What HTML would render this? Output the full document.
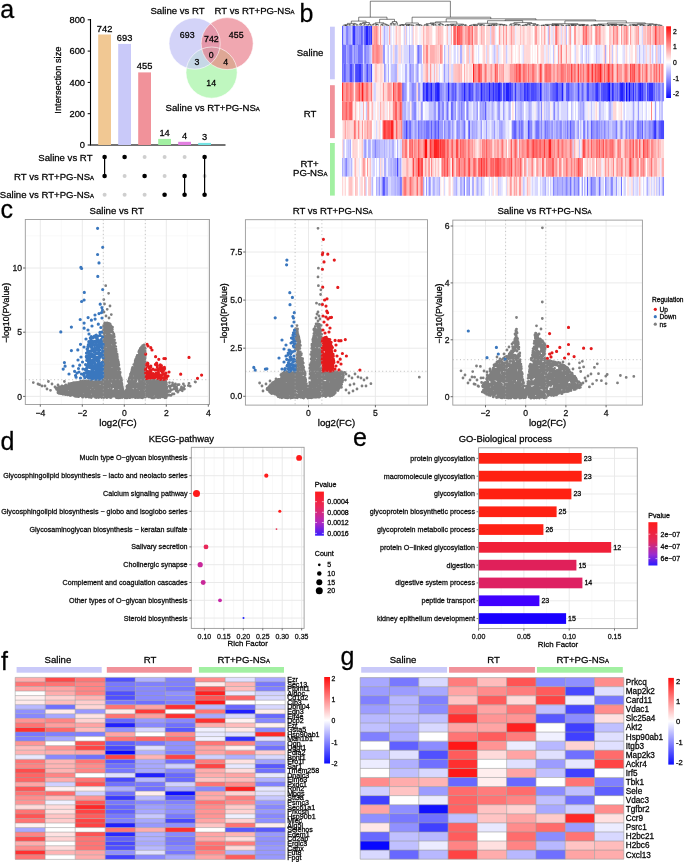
<!DOCTYPE html>
<html><head><meta charset="utf-8"><style>
html,body{margin:0;padding:0;background:#fff;}
svg{display:block;font-family:"Liberation Sans",sans-serif;filter:blur(0.35px);}
text{stroke:#000;stroke-width:0.3px;stroke-opacity:0.85;}
</style></head><body>
<svg width="685" height="862" viewBox="0 0 685 862">
<rect width="685" height="862" fill="#fff"/>
<text x="0.20" y="18.40" font-size="25" text-anchor="start" fill="#000" >a</text>
<text x="299.50" y="22.20" font-size="25" text-anchor="start" fill="#000" >b</text>
<text x="0.50" y="218.20" font-size="25" text-anchor="start" fill="#000" >c</text>
<text x="0.50" y="450.20" font-size="25" text-anchor="start" fill="#000" >d</text>
<text x="353.00" y="445.80" font-size="25" text-anchor="start" fill="#000" >e</text>
<text x="1.00" y="670.20" font-size="25" text-anchor="start" fill="#000" >f</text>
<text x="340.50" y="665.20" font-size="25" text-anchor="start" fill="#000" >g</text>
<line x1="90.50" y1="19.00" x2="90.50" y2="145.50" stroke="#000" stroke-width="1.1" />
<line x1="90.50" y1="145.00" x2="225.50" y2="145.00" stroke="#444" stroke-width="1.3" />
<line x1="87.70" y1="145.00" x2="90.50" y2="145.00" stroke="#000" stroke-width="1" />
<text x="85.00" y="148.30" font-size="9.3" text-anchor="end" fill="#000" >0</text>
<line x1="87.70" y1="113.70" x2="90.50" y2="113.70" stroke="#000" stroke-width="1" />
<text x="85.00" y="117.00" font-size="9.3" text-anchor="end" fill="#000" >200</text>
<line x1="87.70" y1="82.40" x2="90.50" y2="82.40" stroke="#000" stroke-width="1" />
<text x="85.00" y="85.70" font-size="9.3" text-anchor="end" fill="#000" >400</text>
<line x1="87.70" y1="51.10" x2="90.50" y2="51.10" stroke="#000" stroke-width="1" />
<text x="85.00" y="54.40" font-size="9.3" text-anchor="end" fill="#000" >600</text>
<line x1="87.70" y1="19.80" x2="90.50" y2="19.80" stroke="#000" stroke-width="1" />
<text x="85.00" y="23.10" font-size="9.3" text-anchor="end" fill="#000" >800</text>
<text transform="translate(61.2,80.1) rotate(-90)" font-size="9.3" text-anchor="middle">Intersection size</text>
<rect x="98.20" y="34.50" width="12.80" height="110.50" fill="#f1c893" />
<text x="104.60" y="31.50" font-size="9.3" text-anchor="middle" fill="#000" >742</text>
<rect x="118.20" y="43.90" width="12.80" height="101.10" fill="#c9c9f9" />
<text x="124.60" y="40.90" font-size="9.3" text-anchor="middle" fill="#000" >693</text>
<rect x="138.20" y="72.40" width="12.80" height="72.60" fill="#f1929a" />
<text x="144.60" y="69.40" font-size="9.3" text-anchor="middle" fill="#000" >455</text>
<rect x="158.20" y="138.90" width="12.80" height="6.10" fill="#a2f0a2" />
<text x="164.60" y="135.90" font-size="9.3" text-anchor="middle" fill="#000" >14</text>
<rect x="178.20" y="141.80" width="12.80" height="3.20" fill="#e27fe0" />
<text x="184.60" y="138.80" font-size="9.3" text-anchor="middle" fill="#000" >4</text>
<rect x="198.20" y="142.90" width="12.80" height="2.10" fill="#75e3e3" />
<text x="204.60" y="139.90" font-size="9.3" text-anchor="middle" fill="#000" >3</text>
<circle cx="104.60" cy="194.80" r="2.0" fill="#cfcfcf"/>
<line x1="104.60" y1="157.00" x2="104.60" y2="176.00" stroke="#000" stroke-width="1.2" />
<circle cx="104.60" cy="157.00" r="2.3" fill="#000"/>
<circle cx="104.60" cy="176.00" r="2.3" fill="#000"/>
<circle cx="124.60" cy="176.00" r="2.0" fill="#cfcfcf"/>
<circle cx="124.60" cy="194.80" r="2.0" fill="#cfcfcf"/>
<circle cx="124.60" cy="157.00" r="2.3" fill="#000"/>
<circle cx="144.60" cy="157.00" r="2.0" fill="#cfcfcf"/>
<circle cx="144.60" cy="194.80" r="2.0" fill="#cfcfcf"/>
<circle cx="144.60" cy="176.00" r="2.3" fill="#000"/>
<circle cx="164.60" cy="157.00" r="2.0" fill="#cfcfcf"/>
<circle cx="164.60" cy="176.00" r="2.0" fill="#cfcfcf"/>
<circle cx="164.60" cy="194.80" r="2.3" fill="#000"/>
<circle cx="184.60" cy="157.00" r="2.0" fill="#cfcfcf"/>
<line x1="184.60" y1="176.00" x2="184.60" y2="194.80" stroke="#000" stroke-width="1.2" />
<circle cx="184.60" cy="176.00" r="2.3" fill="#000"/>
<circle cx="184.60" cy="194.80" r="2.3" fill="#000"/>
<circle cx="204.60" cy="176.00" r="2.0" fill="#cfcfcf"/>
<line x1="204.60" y1="157.00" x2="204.60" y2="194.80" stroke="#000" stroke-width="1.2" />
<circle cx="204.60" cy="157.00" r="2.3" fill="#000"/>
<circle cx="204.60" cy="194.80" r="2.3" fill="#000"/>
<text x="92.50" y="160.80" font-size="9.6" text-anchor="end" fill="#000" >Saline vs RT</text>
<text x="94.00" y="179.70" font-size="9.6" text-anchor="end" fill="#000" >RT vs RT+PG-NS<tspan font-size="0.62em">A</tspan></text>
<text x="94.00" y="198.40" font-size="9.6" text-anchor="end" fill="#000" >Saline vs RT+PG-NS<tspan font-size="0.62em">A</tspan></text>
<defs><clipPath id="cpB"><circle cx="194.6" cy="43.6" r="25.6" fill="#000" /></clipPath><clipPath id="cpR"><circle cx="227.2" cy="43.6" r="26.0" fill="#000" /></clipPath></defs>
<circle cx="211.6" cy="72.6" r="25.6" fill="#bff7bf" />
<circle cx="194.6" cy="43.6" r="25.6" fill="#d3d3f8" />
<circle cx="227.2" cy="43.6" r="26.0" fill="#f0a7b0" />
<g clip-path="url(#cpB)"><circle cx="227.2" cy="43.6" r="26.0" fill="#e497aa" /><circle cx="211.6" cy="72.6" r="25.6" fill="#c6d7e6" /></g>
<g clip-path="url(#cpR)"><circle cx="211.6" cy="72.6" r="25.6" fill="#dea795" /></g>
<g clip-path="url(#cpB)"><g clip-path="url(#cpR)"><circle cx="211.6" cy="72.6" r="25.6" fill="#dc98a6" /></g></g>
<circle cx="211.6" cy="72.6" r="25.6" fill="none" stroke="#fff" stroke-width="0.8" stroke-opacity="0.75"/>
<circle cx="194.6" cy="43.6" r="25.6" fill="none" stroke="#fff" stroke-width="0.8" stroke-opacity="0.75"/>
<circle cx="227.2" cy="43.6" r="26.0" fill="none" stroke="#fff" stroke-width="0.8" stroke-opacity="0.75"/>
<text x="187.20" y="38.30" font-size="8.8" text-anchor="middle" fill="#000" >693</text>
<text x="211.40" y="42.40" font-size="8.8" text-anchor="middle" fill="#000" >742</text>
<text x="236.20" y="38.30" font-size="8.8" text-anchor="middle" fill="#000" >455</text>
<text x="211.30" y="57.50" font-size="8.8" text-anchor="middle" fill="#000" >0</text>
<text x="197.00" y="64.60" font-size="8.8" text-anchor="middle" fill="#000" >3</text>
<text x="225.80" y="65.00" font-size="8.8" text-anchor="middle" fill="#000" >4</text>
<text x="211.20" y="85.60" font-size="8.8" text-anchor="middle" fill="#000" >14</text>
<text x="177.50" y="13.90" font-size="9.6" text-anchor="middle" fill="#000" >Saline vs RT</text>
<text x="214.60" y="13.90" font-size="9.6" text-anchor="start" fill="#000" >RT vs RT+PG-NS<tspan font-size="0.62em">A</tspan></text>
<text x="165.60" y="111.00" font-size="9.6" text-anchor="start" fill="#000" >Saline vs RT+PG-NS<tspan font-size="0.62em">A</tspan></text>
<defs><filter id="bl" x="-0.01" y="-0.01" width="1.02" height="1.02"><feGaussianBlur stdDeviation="0.45 0.25"/></filter></defs>
<g filter="url(#bl)">
<path fill="#5e5eff" d="M342.0 26.00h1.33v18.88h-1.33zM347.2 26.00h1.33v18.88h-1.33zM360.3 26.00h1.33v18.88h-1.33zM361.6 26.00h1.33v18.88h-1.33zM344.6 44.86h1.33v18.88h-1.33zM343.3 63.71h1.33v18.88h-1.33zM344.6 63.71h1.33v18.88h-1.33zM361.6 63.71h1.33v18.88h-1.33zM424.5 82.57h1.33v18.88h-1.33zM445.4 82.57h1.33v18.88h-1.33zM452.0 82.57h1.33v18.88h-1.33zM453.3 82.57h1.33v18.88h-1.33zM461.1 82.57h1.33v18.88h-1.33zM462.4 82.57h1.33v18.88h-1.33zM465.0 82.57h1.33v18.88h-1.33zM467.7 82.57h1.33v18.88h-1.33zM479.4 82.57h1.33v18.88h-1.33zM486.0 82.57h1.33v18.88h-1.33zM487.3 82.57h1.33v18.88h-1.33zM489.9 82.57h1.33v18.88h-1.33zM491.2 82.57h1.33v18.88h-1.33zM493.8 82.57h1.33v18.88h-1.33zM510.9 82.57h1.33v18.88h-1.33zM512.2 82.57h1.33v18.88h-1.33zM517.4 82.57h1.33v18.88h-1.33zM520.0 82.57h1.33v18.88h-1.33zM535.7 82.57h1.33v18.88h-1.33zM541.0 82.57h1.33v18.88h-1.33zM552.7 82.57h1.33v18.88h-1.33zM554.0 82.57h1.33v18.88h-1.33zM560.6 82.57h1.33v18.88h-1.33zM565.8 82.57h1.33v18.88h-1.33zM572.4 82.57h1.33v18.88h-1.33zM598.6 82.57h1.33v18.88h-1.33zM616.9 82.57h1.33v18.88h-1.33zM630.0 82.57h1.33v18.88h-1.33zM631.3 82.57h1.33v18.88h-1.33zM643.1 82.57h1.33v18.88h-1.33zM657.5 82.57h1.33v18.88h-1.33zM450.6 101.42h1.33v18.88h-1.33zM484.7 101.42h1.33v18.88h-1.33zM410.1 120.28h1.33v18.88h-1.33zM415.3 120.28h1.33v18.88h-1.33zM431.0 120.28h1.33v18.88h-1.33zM434.9 120.28h1.33v18.88h-1.33zM469.0 120.28h1.33v18.88h-1.33zM513.5 120.28h1.33v18.88h-1.33zM514.8 120.28h1.33v18.88h-1.33zM529.2 120.28h1.33v18.88h-1.33zM567.1 120.28h1.33v18.88h-1.33zM569.8 120.28h1.33v18.88h-1.33zM584.2 120.28h1.33v18.88h-1.33zM590.7 120.28h1.33v18.88h-1.33zM597.2 120.28h1.33v18.88h-1.33zM636.5 120.28h1.33v18.88h-1.33zM641.7 120.28h1.33v18.88h-1.33zM644.4 120.28h1.33v18.88h-1.33zM658.8 120.28h1.33v18.88h-1.33zM383.9 176.84h1.33v18.88h-1.33zM586.8 176.84h1.33v18.88h-1.33zM598.6 176.84h1.33v18.88h-1.33z"/>
<path fill="#aeaeff" d="M343.3 26.00h1.33v18.88h-1.33zM349.9 26.00h1.33v18.88h-1.33zM362.9 26.00h1.33v18.88h-1.33zM383.9 26.00h1.33v18.88h-1.33zM547.5 26.00h1.33v18.88h-1.33zM345.9 44.86h1.33v18.88h-1.33zM352.5 44.86h1.33v18.88h-1.33zM369.5 44.86h1.33v18.88h-1.33zM390.4 44.86h1.33v18.88h-1.33zM444.1 44.86h1.33v18.88h-1.33zM459.8 44.86h1.33v18.88h-1.33zM461.1 44.86h1.33v18.88h-1.33zM581.5 44.86h1.33v18.88h-1.33zM585.5 44.86h1.33v18.88h-1.33zM639.1 44.86h1.33v18.88h-1.33zM652.2 44.86h1.33v18.88h-1.33zM660.1 44.86h1.33v18.88h-1.33zM385.2 63.71h1.33v18.88h-1.33zM387.8 63.71h1.33v18.88h-1.33zM395.7 63.71h1.33v18.88h-1.33zM404.8 63.71h1.33v18.88h-1.33zM406.1 63.71h1.33v18.88h-1.33zM408.8 63.71h1.33v18.88h-1.33zM411.4 63.71h1.33v18.88h-1.33zM412.7 63.71h1.33v18.88h-1.33zM415.3 63.71h1.33v18.88h-1.33zM448.0 63.71h1.33v18.88h-1.33zM406.1 82.57h1.33v18.88h-1.33zM410.1 82.57h1.33v18.88h-1.33zM421.8 82.57h1.33v18.88h-1.33zM444.1 82.57h1.33v18.88h-1.33zM457.2 82.57h1.33v18.88h-1.33zM501.7 82.57h1.33v18.88h-1.33zM548.8 82.57h1.33v18.88h-1.33zM564.5 82.57h1.33v18.88h-1.33zM573.7 82.57h1.33v18.88h-1.33zM645.7 82.57h1.33v18.88h-1.33zM403.5 101.42h1.33v18.88h-1.33zM404.8 101.42h1.33v18.88h-1.33zM407.4 101.42h1.33v18.88h-1.33zM421.8 101.42h1.33v18.88h-1.33zM432.3 101.42h1.33v18.88h-1.33zM440.2 101.42h1.33v18.88h-1.33zM448.0 101.42h1.33v18.88h-1.33zM457.2 101.42h1.33v18.88h-1.33zM459.8 101.42h1.33v18.88h-1.33zM463.7 101.42h1.33v18.88h-1.33zM467.7 101.42h1.33v18.88h-1.33zM475.5 101.42h1.33v18.88h-1.33zM480.7 101.42h1.33v18.88h-1.33zM486.0 101.42h1.33v18.88h-1.33zM491.2 101.42h1.33v18.88h-1.33zM492.5 101.42h1.33v18.88h-1.33zM496.5 101.42h1.33v18.88h-1.33zM508.2 101.42h1.33v18.88h-1.33zM509.5 101.42h1.33v18.88h-1.33zM517.4 101.42h1.33v18.88h-1.33zM520.0 101.42h1.33v18.88h-1.33zM521.3 101.42h1.33v18.88h-1.33zM530.5 101.42h1.33v18.88h-1.33zM546.2 101.42h1.33v18.88h-1.33zM552.7 101.42h1.33v18.88h-1.33zM558.0 101.42h1.33v18.88h-1.33zM567.1 101.42h1.33v18.88h-1.33zM571.1 101.42h1.33v18.88h-1.33zM581.5 101.42h1.33v18.88h-1.33zM598.6 101.42h1.33v18.88h-1.33zM609.0 101.42h1.33v18.88h-1.33zM610.3 101.42h1.33v18.88h-1.33zM623.4 101.42h1.33v18.88h-1.33zM414.0 120.28h1.33v18.88h-1.33zM445.4 120.28h1.33v18.88h-1.33zM446.7 120.28h1.33v18.88h-1.33zM453.3 120.28h1.33v18.88h-1.33zM455.9 120.28h1.33v18.88h-1.33zM461.1 120.28h1.33v18.88h-1.33zM472.9 120.28h1.33v18.88h-1.33zM474.2 120.28h1.33v18.88h-1.33zM501.7 120.28h1.33v18.88h-1.33zM504.3 120.28h1.33v18.88h-1.33zM525.3 120.28h1.33v18.88h-1.33zM539.7 120.28h1.33v18.88h-1.33zM550.1 120.28h1.33v18.88h-1.33zM554.0 120.28h1.33v18.88h-1.33zM558.0 120.28h1.33v18.88h-1.33zM565.8 120.28h1.33v18.88h-1.33zM576.3 120.28h1.33v18.88h-1.33zM588.1 120.28h1.33v18.88h-1.33zM599.9 120.28h1.33v18.88h-1.33zM602.5 120.28h1.33v18.88h-1.33zM606.4 120.28h1.33v18.88h-1.33zM611.6 120.28h1.33v18.88h-1.33zM613.0 120.28h1.33v18.88h-1.33zM622.1 120.28h1.33v18.88h-1.33zM624.7 120.28h1.33v18.88h-1.33zM627.3 120.28h1.33v18.88h-1.33zM630.0 120.28h1.33v18.88h-1.33zM645.7 120.28h1.33v18.88h-1.33zM647.0 120.28h1.33v18.88h-1.33zM349.9 139.13h1.33v18.88h-1.33zM372.1 139.13h1.33v18.88h-1.33zM376.0 139.13h1.33v18.88h-1.33zM378.7 139.13h1.33v18.88h-1.33zM383.9 139.13h1.33v18.88h-1.33zM389.1 139.13h1.33v18.88h-1.33zM391.7 139.13h1.33v18.88h-1.33zM393.0 139.13h1.33v18.88h-1.33zM397.0 139.13h1.33v18.88h-1.33zM342.0 157.99h1.33v18.88h-1.33zM373.4 157.99h1.33v18.88h-1.33zM383.9 157.99h1.33v18.88h-1.33zM385.2 157.99h1.33v18.88h-1.33zM393.0 157.99h1.33v18.88h-1.33zM395.7 157.99h1.33v18.88h-1.33zM372.1 176.84h1.33v18.88h-1.33zM376.0 176.84h1.33v18.88h-1.33zM397.0 176.84h1.33v18.88h-1.33zM398.3 176.84h1.33v18.88h-1.33zM429.7 176.84h1.33v18.88h-1.33zM432.3 176.84h1.33v18.88h-1.33zM433.6 176.84h1.33v18.88h-1.33zM438.9 176.84h1.33v18.88h-1.33zM453.3 176.84h1.33v18.88h-1.33zM455.9 176.84h1.33v18.88h-1.33zM459.8 176.84h1.33v18.88h-1.33zM461.1 176.84h1.33v18.88h-1.33zM467.7 176.84h1.33v18.88h-1.33zM471.6 176.84h1.33v18.88h-1.33zM472.9 176.84h1.33v18.88h-1.33zM476.8 176.84h1.33v18.88h-1.33zM480.7 176.84h1.33v18.88h-1.33zM542.3 176.84h1.33v18.88h-1.33zM544.9 176.84h1.33v18.88h-1.33zM554.0 176.84h1.33v18.88h-1.33zM555.4 176.84h1.33v18.88h-1.33zM558.0 176.84h1.33v18.88h-1.33zM560.6 176.84h1.33v18.88h-1.33zM563.2 176.84h1.33v18.88h-1.33zM568.4 176.84h1.33v18.88h-1.33zM571.1 176.84h1.33v18.88h-1.33zM575.0 176.84h1.33v18.88h-1.33zM576.3 176.84h1.33v18.88h-1.33zM589.4 176.84h1.33v18.88h-1.33zM599.9 176.84h1.33v18.88h-1.33zM647.0 176.84h1.33v18.88h-1.33zM658.8 176.84h1.33v18.88h-1.33zM661.4 176.84h1.33v18.88h-1.33z"/>
<path fill="#c2c2ff" d="M344.6 26.00h1.33v18.88h-1.33zM351.2 26.00h1.33v18.88h-1.33zM386.5 26.00h1.33v18.88h-1.33zM403.5 26.00h1.33v18.88h-1.33zM406.1 26.00h1.33v18.88h-1.33zM411.4 26.00h1.33v18.88h-1.33zM565.8 26.00h1.33v18.88h-1.33zM387.8 44.86h1.33v18.88h-1.33zM394.4 44.86h1.33v18.88h-1.33zM395.7 44.86h1.33v18.88h-1.33zM410.1 44.86h1.33v18.88h-1.33zM411.4 44.86h1.33v18.88h-1.33zM412.7 44.86h1.33v18.88h-1.33zM448.0 44.86h1.33v18.88h-1.33zM457.2 44.86h1.33v18.88h-1.33zM493.8 44.86h1.33v18.88h-1.33zM505.6 44.86h1.33v18.88h-1.33zM552.7 44.86h1.33v18.88h-1.33zM588.1 44.86h1.33v18.88h-1.33zM595.9 44.86h1.33v18.88h-1.33zM611.6 44.86h1.33v18.88h-1.33zM623.4 44.86h1.33v18.88h-1.33zM643.1 44.86h1.33v18.88h-1.33zM657.5 44.86h1.33v18.88h-1.33zM353.8 63.71h1.33v18.88h-1.33zM362.9 63.71h1.33v18.88h-1.33zM390.4 63.71h1.33v18.88h-1.33zM391.7 63.71h1.33v18.88h-1.33zM393.0 63.71h1.33v18.88h-1.33zM417.9 63.71h1.33v18.88h-1.33zM420.5 63.71h1.33v18.88h-1.33zM373.4 82.57h1.33v18.88h-1.33zM408.8 82.57h1.33v18.88h-1.33zM365.6 101.42h1.33v18.88h-1.33zM408.8 101.42h1.33v18.88h-1.33zM428.4 101.42h1.33v18.88h-1.33zM429.7 101.42h1.33v18.88h-1.33zM431.0 101.42h1.33v18.88h-1.33zM470.3 101.42h1.33v18.88h-1.33zM472.9 101.42h1.33v18.88h-1.33zM474.2 101.42h1.33v18.88h-1.33zM487.3 101.42h1.33v18.88h-1.33zM488.6 101.42h1.33v18.88h-1.33zM504.3 101.42h1.33v18.88h-1.33zM518.7 101.42h1.33v18.88h-1.33zM522.6 101.42h1.33v18.88h-1.33zM527.9 101.42h1.33v18.88h-1.33zM537.0 101.42h1.33v18.88h-1.33zM543.6 101.42h1.33v18.88h-1.33zM547.5 101.42h1.33v18.88h-1.33zM548.8 101.42h1.33v18.88h-1.33zM556.7 101.42h1.33v18.88h-1.33zM577.6 101.42h1.33v18.88h-1.33zM578.9 101.42h1.33v18.88h-1.33zM584.2 101.42h1.33v18.88h-1.33zM590.7 101.42h1.33v18.88h-1.33zM599.9 101.42h1.33v18.88h-1.33zM602.5 101.42h1.33v18.88h-1.33zM658.8 101.42h1.33v18.88h-1.33zM412.7 120.28h1.33v18.88h-1.33zM416.6 120.28h1.33v18.88h-1.33zM450.6 120.28h1.33v18.88h-1.33zM459.8 120.28h1.33v18.88h-1.33zM465.0 120.28h1.33v18.88h-1.33zM470.3 120.28h1.33v18.88h-1.33zM476.8 120.28h1.33v18.88h-1.33zM479.4 120.28h1.33v18.88h-1.33zM483.4 120.28h1.33v18.88h-1.33zM491.2 120.28h1.33v18.88h-1.33zM492.5 120.28h1.33v18.88h-1.33zM496.5 120.28h1.33v18.88h-1.33zM503.0 120.28h1.33v18.88h-1.33zM526.6 120.28h1.33v18.88h-1.33zM531.8 120.28h1.33v18.88h-1.33zM542.3 120.28h1.33v18.88h-1.33zM552.7 120.28h1.33v18.88h-1.33zM561.9 120.28h1.33v18.88h-1.33zM589.4 120.28h1.33v18.88h-1.33zM609.0 120.28h1.33v18.88h-1.33zM610.3 120.28h1.33v18.88h-1.33zM616.9 120.28h1.33v18.88h-1.33zM635.2 120.28h1.33v18.88h-1.33zM643.1 120.28h1.33v18.88h-1.33zM347.2 139.13h1.33v18.88h-1.33zM348.5 139.13h1.33v18.88h-1.33zM365.6 139.13h1.33v18.88h-1.33zM380.0 139.13h1.33v18.88h-1.33zM381.3 139.13h1.33v18.88h-1.33zM382.6 139.13h1.33v18.88h-1.33zM385.2 139.13h1.33v18.88h-1.33zM386.5 139.13h1.33v18.88h-1.33zM390.4 139.13h1.33v18.88h-1.33zM572.4 139.13h1.33v18.88h-1.33zM578.9 139.13h1.33v18.88h-1.33zM343.3 157.99h1.33v18.88h-1.33zM347.2 157.99h1.33v18.88h-1.33zM348.5 157.99h1.33v18.88h-1.33zM378.7 157.99h1.33v18.88h-1.33zM381.3 157.99h1.33v18.88h-1.33zM387.8 157.99h1.33v18.88h-1.33zM389.1 157.99h1.33v18.88h-1.33zM391.7 157.99h1.33v18.88h-1.33zM398.3 157.99h1.33v18.88h-1.33zM377.3 176.84h1.33v18.88h-1.33zM390.4 176.84h1.33v18.88h-1.33zM391.7 176.84h1.33v18.88h-1.33zM393.0 176.84h1.33v18.88h-1.33zM395.7 176.84h1.33v18.88h-1.33zM436.2 176.84h1.33v18.88h-1.33zM437.6 176.84h1.33v18.88h-1.33zM454.6 176.84h1.33v18.88h-1.33zM462.4 176.84h1.33v18.88h-1.33zM475.5 176.84h1.33v18.88h-1.33zM478.1 176.84h1.33v18.88h-1.33zM497.8 176.84h1.33v18.88h-1.33zM522.6 176.84h1.33v18.88h-1.33zM543.6 176.84h1.33v18.88h-1.33zM547.5 176.84h1.33v18.88h-1.33zM550.1 176.84h1.33v18.88h-1.33zM572.4 176.84h1.33v18.88h-1.33zM578.9 176.84h1.33v18.88h-1.33zM597.2 176.84h1.33v18.88h-1.33zM602.5 176.84h1.33v18.88h-1.33zM606.4 176.84h1.33v18.88h-1.33zM607.7 176.84h1.33v18.88h-1.33zM623.4 176.84h1.33v18.88h-1.33zM632.6 176.84h1.33v18.88h-1.33zM636.5 176.84h1.33v18.88h-1.33zM653.5 176.84h1.33v18.88h-1.33zM656.1 176.84h1.33v18.88h-1.33z"/>
<path fill="#8686ff" d="M345.9 26.00h1.33v18.88h-1.33zM355.1 26.00h1.33v18.88h-1.33zM359.0 26.00h1.33v18.88h-1.33zM347.2 44.86h1.33v18.88h-1.33zM353.8 44.86h1.33v18.88h-1.33zM420.5 44.86h1.33v18.88h-1.33zM364.3 63.71h1.33v18.88h-1.33zM368.2 63.71h1.33v18.88h-1.33zM369.5 63.71h1.33v18.88h-1.33zM410.1 63.71h1.33v18.88h-1.33zM444.1 63.71h1.33v18.88h-1.33zM403.5 82.57h1.33v18.88h-1.33zM411.4 82.57h1.33v18.88h-1.33zM412.7 82.57h1.33v18.88h-1.33zM440.2 82.57h1.33v18.88h-1.33zM441.5 82.57h1.33v18.88h-1.33zM446.7 82.57h1.33v18.88h-1.33zM449.3 82.57h1.33v18.88h-1.33zM455.9 82.57h1.33v18.88h-1.33zM459.8 82.57h1.33v18.88h-1.33zM472.9 82.57h1.33v18.88h-1.33zM513.5 82.57h1.33v18.88h-1.33zM516.1 82.57h1.33v18.88h-1.33zM518.7 82.57h1.33v18.88h-1.33zM543.6 82.57h1.33v18.88h-1.33zM547.5 82.57h1.33v18.88h-1.33zM569.8 82.57h1.33v18.88h-1.33zM578.9 82.57h1.33v18.88h-1.33zM582.8 82.57h1.33v18.88h-1.33zM585.5 82.57h1.33v18.88h-1.33zM589.4 82.57h1.33v18.88h-1.33zM590.7 82.57h1.33v18.88h-1.33zM610.3 82.57h1.33v18.88h-1.33zM633.9 82.57h1.33v18.88h-1.33zM661.4 82.57h1.33v18.88h-1.33zM662.7 82.57h1.33v18.88h-1.33zM411.4 101.42h1.33v18.88h-1.33zM414.0 101.42h1.33v18.88h-1.33zM415.3 101.42h1.33v18.88h-1.33zM420.5 101.42h1.33v18.88h-1.33zM441.5 101.42h1.33v18.88h-1.33zM442.8 101.42h1.33v18.88h-1.33zM454.6 101.42h1.33v18.88h-1.33zM458.5 101.42h1.33v18.88h-1.33zM462.4 101.42h1.33v18.88h-1.33zM479.4 101.42h1.33v18.88h-1.33zM538.3 101.42h1.33v18.88h-1.33zM541.0 101.42h1.33v18.88h-1.33zM554.0 101.42h1.33v18.88h-1.33zM661.4 101.42h1.33v18.88h-1.33zM404.8 120.28h1.33v18.88h-1.33zM407.4 120.28h1.33v18.88h-1.33zM419.2 120.28h1.33v18.88h-1.33zM423.2 120.28h1.33v18.88h-1.33zM424.5 120.28h1.33v18.88h-1.33zM432.3 120.28h1.33v18.88h-1.33zM448.0 120.28h1.33v18.88h-1.33zM449.3 120.28h1.33v18.88h-1.33zM458.5 120.28h1.33v18.88h-1.33zM462.4 120.28h1.33v18.88h-1.33zM467.7 120.28h1.33v18.88h-1.33zM500.4 120.28h1.33v18.88h-1.33zM516.1 120.28h1.33v18.88h-1.33zM534.4 120.28h1.33v18.88h-1.33zM541.0 120.28h1.33v18.88h-1.33zM546.2 120.28h1.33v18.88h-1.33zM547.5 120.28h1.33v18.88h-1.33zM559.3 120.28h1.33v18.88h-1.33zM560.6 120.28h1.33v18.88h-1.33zM564.5 120.28h1.33v18.88h-1.33zM571.1 120.28h1.33v18.88h-1.33zM577.6 120.28h1.33v18.88h-1.33zM582.8 120.28h1.33v18.88h-1.33zM586.8 120.28h1.33v18.88h-1.33zM592.0 120.28h1.33v18.88h-1.33zM595.9 120.28h1.33v18.88h-1.33zM598.6 120.28h1.33v18.88h-1.33zM601.2 120.28h1.33v18.88h-1.33zM603.8 120.28h1.33v18.88h-1.33zM620.8 120.28h1.33v18.88h-1.33zM626.0 120.28h1.33v18.88h-1.33zM628.7 120.28h1.33v18.88h-1.33zM631.3 120.28h1.33v18.88h-1.33zM639.1 120.28h1.33v18.88h-1.33zM640.4 120.28h1.33v18.88h-1.33zM648.3 120.28h1.33v18.88h-1.33zM649.6 120.28h1.33v18.88h-1.33zM656.1 120.28h1.33v18.88h-1.33zM368.2 139.13h1.33v18.88h-1.33zM374.7 139.13h1.33v18.88h-1.33zM345.9 157.99h1.33v18.88h-1.33zM394.4 157.99h1.33v18.88h-1.33zM400.9 176.84h1.33v18.88h-1.33zM463.7 176.84h1.33v18.88h-1.33zM466.3 176.84h1.33v18.88h-1.33zM552.7 176.84h1.33v18.88h-1.33zM565.8 176.84h1.33v18.88h-1.33zM573.7 176.84h1.33v18.88h-1.33zM610.3 176.84h1.33v18.88h-1.33zM611.6 176.84h1.33v18.88h-1.33zM615.6 176.84h1.33v18.88h-1.33zM662.7 176.84h1.33v18.88h-1.33z"/>
<path fill="#9a9aff" d="M348.5 26.00h1.33v18.88h-1.33zM357.7 26.00h1.33v18.88h-1.33zM355.1 44.86h1.33v18.88h-1.33zM356.4 44.86h1.33v18.88h-1.33zM365.6 44.86h1.33v18.88h-1.33zM366.9 44.86h1.33v18.88h-1.33zM368.2 44.86h1.33v18.88h-1.33zM382.6 44.86h1.33v18.88h-1.33zM383.9 44.86h1.33v18.88h-1.33zM408.8 44.86h1.33v18.88h-1.33zM416.6 44.86h1.33v18.88h-1.33zM419.2 44.86h1.33v18.88h-1.33zM605.1 44.86h1.33v18.88h-1.33zM345.9 63.71h1.33v18.88h-1.33zM347.2 63.71h1.33v18.88h-1.33zM383.9 63.71h1.33v18.88h-1.33zM394.4 63.71h1.33v18.88h-1.33zM416.6 63.71h1.33v18.88h-1.33zM404.8 82.57h1.33v18.88h-1.33zM414.0 82.57h1.33v18.88h-1.33zM415.3 82.57h1.33v18.88h-1.33zM417.9 82.57h1.33v18.88h-1.33zM419.2 82.57h1.33v18.88h-1.33zM442.8 82.57h1.33v18.88h-1.33zM474.2 82.57h1.33v18.88h-1.33zM542.3 82.57h1.33v18.88h-1.33zM544.9 82.57h1.33v18.88h-1.33zM563.2 82.57h1.33v18.88h-1.33zM575.0 82.57h1.33v18.88h-1.33zM576.3 82.57h1.33v18.88h-1.33zM580.2 82.57h1.33v18.88h-1.33zM584.2 82.57h1.33v18.88h-1.33zM599.9 82.57h1.33v18.88h-1.33zM624.7 82.57h1.33v18.88h-1.33zM654.8 82.57h1.33v18.88h-1.33zM660.1 82.57h1.33v18.88h-1.33zM402.2 101.42h1.33v18.88h-1.33zM412.7 101.42h1.33v18.88h-1.33zM433.6 101.42h1.33v18.88h-1.33zM434.9 101.42h1.33v18.88h-1.33zM445.4 101.42h1.33v18.88h-1.33zM453.3 101.42h1.33v18.88h-1.33zM476.8 101.42h1.33v18.88h-1.33zM482.1 101.42h1.33v18.88h-1.33zM483.4 101.42h1.33v18.88h-1.33zM497.8 101.42h1.33v18.88h-1.33zM499.1 101.42h1.33v18.88h-1.33zM503.0 101.42h1.33v18.88h-1.33zM514.8 101.42h1.33v18.88h-1.33zM529.2 101.42h1.33v18.88h-1.33zM580.2 101.42h1.33v18.88h-1.33zM582.8 101.42h1.33v18.88h-1.33zM632.6 101.42h1.33v18.88h-1.33zM637.8 101.42h1.33v18.88h-1.33zM654.8 101.42h1.33v18.88h-1.33zM402.2 120.28h1.33v18.88h-1.33zM411.4 120.28h1.33v18.88h-1.33zM421.8 120.28h1.33v18.88h-1.33zM429.7 120.28h1.33v18.88h-1.33zM438.9 120.28h1.33v18.88h-1.33zM440.2 120.28h1.33v18.88h-1.33zM452.0 120.28h1.33v18.88h-1.33zM471.6 120.28h1.33v18.88h-1.33zM475.5 120.28h1.33v18.88h-1.33zM480.7 120.28h1.33v18.88h-1.33zM486.0 120.28h1.33v18.88h-1.33zM493.8 120.28h1.33v18.88h-1.33zM499.1 120.28h1.33v18.88h-1.33zM517.4 120.28h1.33v18.88h-1.33zM520.0 120.28h1.33v18.88h-1.33zM522.6 120.28h1.33v18.88h-1.33zM543.6 120.28h1.33v18.88h-1.33zM548.8 120.28h1.33v18.88h-1.33zM555.4 120.28h1.33v18.88h-1.33zM556.7 120.28h1.33v18.88h-1.33zM563.2 120.28h1.33v18.88h-1.33zM568.4 120.28h1.33v18.88h-1.33zM573.7 120.28h1.33v18.88h-1.33zM580.2 120.28h1.33v18.88h-1.33zM594.6 120.28h1.33v18.88h-1.33zM605.1 120.28h1.33v18.88h-1.33zM607.7 120.28h1.33v18.88h-1.33zM614.3 120.28h1.33v18.88h-1.33zM619.5 120.28h1.33v18.88h-1.33zM650.9 120.28h1.33v18.88h-1.33zM343.3 139.13h1.33v18.88h-1.33zM369.5 139.13h1.33v18.88h-1.33zM373.4 139.13h1.33v18.88h-1.33zM377.3 139.13h1.33v18.88h-1.33zM344.6 157.99h1.33v18.88h-1.33zM351.2 157.99h1.33v18.88h-1.33zM390.4 157.99h1.33v18.88h-1.33zM399.6 157.99h1.33v18.88h-1.33zM378.7 176.84h1.33v18.88h-1.33zM381.3 176.84h1.33v18.88h-1.33zM385.2 176.84h1.33v18.88h-1.33zM394.4 176.84h1.33v18.88h-1.33zM423.2 176.84h1.33v18.88h-1.33zM425.8 176.84h1.33v18.88h-1.33zM469.0 176.84h1.33v18.88h-1.33zM556.7 176.84h1.33v18.88h-1.33zM559.3 176.84h1.33v18.88h-1.33zM561.9 176.84h1.33v18.88h-1.33zM564.5 176.84h1.33v18.88h-1.33zM567.1 176.84h1.33v18.88h-1.33zM584.2 176.84h1.33v18.88h-1.33zM592.0 176.84h1.33v18.88h-1.33zM593.3 176.84h1.33v18.88h-1.33zM594.6 176.84h1.33v18.88h-1.33z"/>
<path fill="#3535ff" d="M352.5 26.00h1.33v18.88h-1.33zM353.8 26.00h1.33v18.88h-1.33zM364.3 26.00h1.33v18.88h-1.33zM370.8 26.00h1.33v18.88h-1.33zM359.0 63.71h1.33v18.88h-1.33zM360.3 63.71h1.33v18.88h-1.33zM428.4 82.57h1.33v18.88h-1.33zM434.9 82.57h1.33v18.88h-1.33zM469.0 82.57h1.33v18.88h-1.33zM495.1 82.57h1.33v18.88h-1.33zM496.5 82.57h1.33v18.88h-1.33zM514.8 82.57h1.33v18.88h-1.33zM523.9 82.57h1.33v18.88h-1.33zM525.3 82.57h1.33v18.88h-1.33zM529.2 82.57h1.33v18.88h-1.33zM533.1 82.57h1.33v18.88h-1.33zM556.7 82.57h1.33v18.88h-1.33zM577.6 82.57h1.33v18.88h-1.33zM595.9 82.57h1.33v18.88h-1.33zM601.2 82.57h1.33v18.88h-1.33zM635.2 82.57h1.33v18.88h-1.33zM641.7 82.57h1.33v18.88h-1.33zM648.3 82.57h1.33v18.88h-1.33zM649.6 82.57h1.33v18.88h-1.33zM650.9 82.57h1.33v18.88h-1.33zM652.2 82.57h1.33v18.88h-1.33zM406.1 120.28h1.33v18.88h-1.33zM654.8 120.28h1.33v18.88h-1.33z"/>
<path fill="#7272ff" d="M356.4 26.00h1.33v18.88h-1.33zM342.0 44.86h1.33v18.88h-1.33zM348.5 44.86h1.33v18.88h-1.33zM349.9 44.86h1.33v18.88h-1.33zM351.2 44.86h1.33v18.88h-1.33zM357.7 44.86h1.33v18.88h-1.33zM359.0 44.86h1.33v18.88h-1.33zM360.3 44.86h1.33v18.88h-1.33zM361.6 44.86h1.33v18.88h-1.33zM417.9 44.86h1.33v18.88h-1.33zM342.0 63.71h1.33v18.88h-1.33zM348.5 63.71h1.33v18.88h-1.33zM352.5 63.71h1.33v18.88h-1.33zM365.6 63.71h1.33v18.88h-1.33zM432.3 82.57h1.33v18.88h-1.33zM433.6 82.57h1.33v18.88h-1.33zM450.6 82.57h1.33v18.88h-1.33zM458.5 82.57h1.33v18.88h-1.33zM476.8 82.57h1.33v18.88h-1.33zM478.1 82.57h1.33v18.88h-1.33zM484.7 82.57h1.33v18.88h-1.33zM522.6 82.57h1.33v18.88h-1.33zM537.0 82.57h1.33v18.88h-1.33zM538.3 82.57h1.33v18.88h-1.33zM546.2 82.57h1.33v18.88h-1.33zM550.1 82.57h1.33v18.88h-1.33zM558.0 82.57h1.33v18.88h-1.33zM571.1 82.57h1.33v18.88h-1.33zM592.0 82.57h1.33v18.88h-1.33zM593.3 82.57h1.33v18.88h-1.33zM614.3 82.57h1.33v18.88h-1.33zM615.6 82.57h1.33v18.88h-1.33zM618.2 82.57h1.33v18.88h-1.33zM636.5 82.57h1.33v18.88h-1.33zM656.1 82.57h1.33v18.88h-1.33zM658.8 82.57h1.33v18.88h-1.33zM437.6 101.42h1.33v18.88h-1.33zM438.9 101.42h1.33v18.88h-1.33zM446.7 101.42h1.33v18.88h-1.33zM452.0 101.42h1.33v18.88h-1.33zM461.1 101.42h1.33v18.88h-1.33zM403.5 120.28h1.33v18.88h-1.33zM408.8 120.28h1.33v18.88h-1.33zM417.9 120.28h1.33v18.88h-1.33zM420.5 120.28h1.33v18.88h-1.33zM425.8 120.28h1.33v18.88h-1.33zM427.1 120.28h1.33v18.88h-1.33zM428.4 120.28h1.33v18.88h-1.33zM433.6 120.28h1.33v18.88h-1.33zM436.2 120.28h1.33v18.88h-1.33zM441.5 120.28h1.33v18.88h-1.33zM444.1 120.28h1.33v18.88h-1.33zM457.2 120.28h1.33v18.88h-1.33zM463.7 120.28h1.33v18.88h-1.33zM518.7 120.28h1.33v18.88h-1.33zM530.5 120.28h1.33v18.88h-1.33zM535.7 120.28h1.33v18.88h-1.33zM537.0 120.28h1.33v18.88h-1.33zM538.3 120.28h1.33v18.88h-1.33zM544.9 120.28h1.33v18.88h-1.33zM551.4 120.28h1.33v18.88h-1.33zM572.4 120.28h1.33v18.88h-1.33zM593.3 120.28h1.33v18.88h-1.33zM615.6 120.28h1.33v18.88h-1.33zM632.6 120.28h1.33v18.88h-1.33zM637.8 120.28h1.33v18.88h-1.33zM652.2 120.28h1.33v18.88h-1.33zM657.5 120.28h1.33v18.88h-1.33zM364.3 139.13h1.33v18.88h-1.33zM386.5 176.84h1.33v18.88h-1.33zM399.6 176.84h1.33v18.88h-1.33zM428.4 176.84h1.33v18.88h-1.33zM569.8 176.84h1.33v18.88h-1.33zM577.6 176.84h1.33v18.88h-1.33zM581.5 176.84h1.33v18.88h-1.33zM590.7 176.84h1.33v18.88h-1.33zM605.1 176.84h1.33v18.88h-1.33zM620.8 176.84h1.33v18.88h-1.33z"/>
<path fill="#2121ff" d="M365.6 26.00h1.33v18.88h-1.33zM366.9 26.00h1.33v18.88h-1.33zM425.8 82.57h1.33v18.88h-1.33zM431.0 82.57h1.33v18.88h-1.33zM448.0 82.57h1.33v18.88h-1.33zM463.7 82.57h1.33v18.88h-1.33zM470.3 82.57h1.33v18.88h-1.33zM480.7 82.57h1.33v18.88h-1.33zM483.4 82.57h1.33v18.88h-1.33zM497.8 82.57h1.33v18.88h-1.33zM500.4 82.57h1.33v18.88h-1.33zM505.6 82.57h1.33v18.88h-1.33zM506.9 82.57h1.33v18.88h-1.33zM508.2 82.57h1.33v18.88h-1.33zM526.6 82.57h1.33v18.88h-1.33zM534.4 82.57h1.33v18.88h-1.33zM539.7 82.57h1.33v18.88h-1.33zM561.9 82.57h1.33v18.88h-1.33zM602.5 82.57h1.33v18.88h-1.33zM607.7 82.57h1.33v18.88h-1.33zM611.6 82.57h1.33v18.88h-1.33zM620.8 82.57h1.33v18.88h-1.33zM623.4 82.57h1.33v18.88h-1.33zM632.6 82.57h1.33v18.88h-1.33zM639.1 82.57h1.33v18.88h-1.33zM640.4 82.57h1.33v18.88h-1.33zM653.5 120.28h1.33v18.88h-1.33z"/>
<path fill="#4949ff" d="M368.2 26.00h1.33v18.88h-1.33zM369.5 26.00h1.33v18.88h-1.33zM343.3 44.86h1.33v18.88h-1.33zM364.3 44.86h1.33v18.88h-1.33zM349.9 63.71h1.33v18.88h-1.33zM351.2 63.71h1.33v18.88h-1.33zM355.1 63.71h1.33v18.88h-1.33zM356.4 63.71h1.33v18.88h-1.33zM357.7 63.71h1.33v18.88h-1.33zM366.9 63.71h1.33v18.88h-1.33zM370.8 63.71h1.33v18.88h-1.33zM402.2 82.57h1.33v18.88h-1.33zM429.7 82.57h1.33v18.88h-1.33zM438.9 82.57h1.33v18.88h-1.33zM454.6 82.57h1.33v18.88h-1.33zM466.3 82.57h1.33v18.88h-1.33zM471.6 82.57h1.33v18.88h-1.33zM475.5 82.57h1.33v18.88h-1.33zM482.1 82.57h1.33v18.88h-1.33zM503.0 82.57h1.33v18.88h-1.33zM504.3 82.57h1.33v18.88h-1.33zM521.3 82.57h1.33v18.88h-1.33zM527.9 82.57h1.33v18.88h-1.33zM530.5 82.57h1.33v18.88h-1.33zM531.8 82.57h1.33v18.88h-1.33zM551.4 82.57h1.33v18.88h-1.33zM559.3 82.57h1.33v18.88h-1.33zM567.1 82.57h1.33v18.88h-1.33zM568.4 82.57h1.33v18.88h-1.33zM581.5 82.57h1.33v18.88h-1.33zM586.8 82.57h1.33v18.88h-1.33zM588.1 82.57h1.33v18.88h-1.33zM594.6 82.57h1.33v18.88h-1.33zM603.8 82.57h1.33v18.88h-1.33zM605.1 82.57h1.33v18.88h-1.33zM613.0 82.57h1.33v18.88h-1.33zM627.3 82.57h1.33v18.88h-1.33zM637.8 82.57h1.33v18.88h-1.33zM644.4 82.57h1.33v18.88h-1.33zM647.0 82.57h1.33v18.88h-1.33zM653.5 82.57h1.33v18.88h-1.33zM466.3 101.42h1.33v18.88h-1.33zM437.6 120.28h1.33v18.88h-1.33zM512.2 120.28h1.33v18.88h-1.33zM521.3 120.28h1.33v18.88h-1.33zM527.9 120.28h1.33v18.88h-1.33zM660.1 120.28h1.33v18.88h-1.33zM661.4 120.28h1.33v18.88h-1.33zM662.7 120.28h1.33v18.88h-1.33zM397.0 157.99h1.33v18.88h-1.33zM382.6 176.84h1.33v18.88h-1.33z"/>
<path fill="#ffaeae" d="M372.1 26.00h1.33v18.88h-1.33zM437.6 26.00h1.33v18.88h-1.33zM440.2 26.00h1.33v18.88h-1.33zM450.6 26.00h1.33v18.88h-1.33zM455.9 26.00h1.33v18.88h-1.33zM480.7 26.00h1.33v18.88h-1.33zM491.2 26.00h1.33v18.88h-1.33zM548.8 26.00h1.33v18.88h-1.33zM556.7 26.00h1.33v18.88h-1.33zM568.4 26.00h1.33v18.88h-1.33zM586.8 26.00h1.33v18.88h-1.33zM588.1 26.00h1.33v18.88h-1.33zM590.7 26.00h1.33v18.88h-1.33zM599.9 26.00h1.33v18.88h-1.33zM614.3 26.00h1.33v18.88h-1.33zM624.7 26.00h1.33v18.88h-1.33zM635.2 26.00h1.33v18.88h-1.33zM636.5 26.00h1.33v18.88h-1.33zM647.0 26.00h1.33v18.88h-1.33zM648.3 26.00h1.33v18.88h-1.33zM652.2 26.00h1.33v18.88h-1.33zM653.5 26.00h1.33v18.88h-1.33zM380.0 44.86h1.33v18.88h-1.33zM381.3 44.86h1.33v18.88h-1.33zM429.7 44.86h1.33v18.88h-1.33zM431.0 44.86h1.33v18.88h-1.33zM432.3 44.86h1.33v18.88h-1.33zM433.6 44.86h1.33v18.88h-1.33zM436.2 44.86h1.33v18.88h-1.33zM609.0 44.86h1.33v18.88h-1.33zM425.8 63.71h1.33v18.88h-1.33zM433.6 63.71h1.33v18.88h-1.33zM453.3 63.71h1.33v18.88h-1.33zM457.2 63.71h1.33v18.88h-1.33zM461.1 63.71h1.33v18.88h-1.33zM463.7 63.71h1.33v18.88h-1.33zM489.9 63.71h1.33v18.88h-1.33zM493.8 63.71h1.33v18.88h-1.33zM500.4 63.71h1.33v18.88h-1.33zM501.7 63.71h1.33v18.88h-1.33zM521.3 63.71h1.33v18.88h-1.33zM526.6 63.71h1.33v18.88h-1.33zM535.7 63.71h1.33v18.88h-1.33zM551.4 63.71h1.33v18.88h-1.33zM555.4 63.71h1.33v18.88h-1.33zM565.8 63.71h1.33v18.88h-1.33zM576.3 63.71h1.33v18.88h-1.33zM578.9 63.71h1.33v18.88h-1.33zM602.5 63.71h1.33v18.88h-1.33zM615.6 63.71h1.33v18.88h-1.33zM643.1 63.71h1.33v18.88h-1.33zM657.5 63.71h1.33v18.88h-1.33zM369.5 82.57h1.33v18.88h-1.33zM386.5 82.57h1.33v18.88h-1.33zM355.1 101.42h1.33v18.88h-1.33zM362.9 101.42h1.33v18.88h-1.33zM366.9 101.42h1.33v18.88h-1.33zM372.1 101.42h1.33v18.88h-1.33zM380.0 101.42h1.33v18.88h-1.33zM397.0 101.42h1.33v18.88h-1.33zM347.2 120.28h1.33v18.88h-1.33zM368.2 120.28h1.33v18.88h-1.33zM370.8 120.28h1.33v18.88h-1.33zM398.3 120.28h1.33v18.88h-1.33zM399.6 120.28h1.33v18.88h-1.33zM412.7 139.13h1.33v18.88h-1.33zM416.6 139.13h1.33v18.88h-1.33zM421.8 139.13h1.33v18.88h-1.33zM427.1 139.13h1.33v18.88h-1.33zM449.3 139.13h1.33v18.88h-1.33zM453.3 139.13h1.33v18.88h-1.33zM454.6 139.13h1.33v18.88h-1.33zM458.5 139.13h1.33v18.88h-1.33zM493.8 139.13h1.33v18.88h-1.33zM495.1 139.13h1.33v18.88h-1.33zM503.0 139.13h1.33v18.88h-1.33zM520.0 139.13h1.33v18.88h-1.33zM567.1 139.13h1.33v18.88h-1.33zM573.7 139.13h1.33v18.88h-1.33zM585.5 139.13h1.33v18.88h-1.33zM603.8 139.13h1.33v18.88h-1.33zM623.4 139.13h1.33v18.88h-1.33zM653.5 139.13h1.33v18.88h-1.33zM654.8 139.13h1.33v18.88h-1.33zM355.1 157.99h1.33v18.88h-1.33zM369.5 157.99h1.33v18.88h-1.33zM406.1 157.99h1.33v18.88h-1.33zM407.4 157.99h1.33v18.88h-1.33zM411.4 157.99h1.33v18.88h-1.33zM414.0 157.99h1.33v18.88h-1.33zM470.3 157.99h1.33v18.88h-1.33zM471.6 157.99h1.33v18.88h-1.33zM512.2 157.99h1.33v18.88h-1.33zM535.7 157.99h1.33v18.88h-1.33zM538.3 157.99h1.33v18.88h-1.33zM554.0 157.99h1.33v18.88h-1.33zM560.6 157.99h1.33v18.88h-1.33zM564.5 157.99h1.33v18.88h-1.33zM568.4 157.99h1.33v18.88h-1.33zM569.8 157.99h1.33v18.88h-1.33zM572.4 157.99h1.33v18.88h-1.33zM575.0 157.99h1.33v18.88h-1.33zM615.6 157.99h1.33v18.88h-1.33zM618.2 157.99h1.33v18.88h-1.33zM619.5 157.99h1.33v18.88h-1.33zM648.3 157.99h1.33v18.88h-1.33zM649.6 157.99h1.33v18.88h-1.33zM653.5 157.99h1.33v18.88h-1.33zM654.8 157.99h1.33v18.88h-1.33zM656.1 157.99h1.33v18.88h-1.33zM662.7 157.99h1.33v18.88h-1.33zM355.1 176.84h1.33v18.88h-1.33zM369.5 176.84h1.33v18.88h-1.33zM402.2 176.84h1.33v18.88h-1.33zM407.4 176.84h1.33v18.88h-1.33zM412.7 176.84h1.33v18.88h-1.33zM415.3 176.84h1.33v18.88h-1.33zM419.2 176.84h1.33v18.88h-1.33zM449.3 176.84h1.33v18.88h-1.33zM510.9 176.84h1.33v18.88h-1.33zM526.6 176.84h1.33v18.88h-1.33z"/>
<path fill="#ff9a9a" d="M373.4 26.00h1.33v18.88h-1.33zM374.7 26.00h1.33v18.88h-1.33zM377.3 26.00h1.33v18.88h-1.33zM380.0 26.00h1.33v18.88h-1.33zM389.1 26.00h1.33v18.88h-1.33zM423.2 26.00h1.33v18.88h-1.33zM462.4 26.00h1.33v18.88h-1.33zM465.0 26.00h1.33v18.88h-1.33zM470.3 26.00h1.33v18.88h-1.33zM474.2 26.00h1.33v18.88h-1.33zM483.4 26.00h1.33v18.88h-1.33zM492.5 26.00h1.33v18.88h-1.33zM503.0 26.00h1.33v18.88h-1.33zM510.9 26.00h1.33v18.88h-1.33zM535.7 26.00h1.33v18.88h-1.33zM543.6 26.00h1.33v18.88h-1.33zM569.8 26.00h1.33v18.88h-1.33zM573.7 26.00h1.33v18.88h-1.33zM575.0 26.00h1.33v18.88h-1.33zM594.6 26.00h1.33v18.88h-1.33zM597.2 26.00h1.33v18.88h-1.33zM615.6 26.00h1.33v18.88h-1.33zM620.8 26.00h1.33v18.88h-1.33zM627.3 26.00h1.33v18.88h-1.33zM630.0 26.00h1.33v18.88h-1.33zM637.8 26.00h1.33v18.88h-1.33zM644.4 26.00h1.33v18.88h-1.33zM657.5 26.00h1.33v18.88h-1.33zM660.1 26.00h1.33v18.88h-1.33zM662.7 26.00h1.33v18.88h-1.33zM374.7 44.86h1.33v18.88h-1.33zM378.7 44.86h1.33v18.88h-1.33zM441.5 44.86h1.33v18.88h-1.33zM471.6 44.86h1.33v18.88h-1.33zM558.0 44.86h1.33v18.88h-1.33zM565.8 44.86h1.33v18.88h-1.33zM427.1 63.71h1.33v18.88h-1.33zM429.7 63.71h1.33v18.88h-1.33zM458.5 63.71h1.33v18.88h-1.33zM476.8 63.71h1.33v18.88h-1.33zM483.4 63.71h1.33v18.88h-1.33zM486.0 63.71h1.33v18.88h-1.33zM499.1 63.71h1.33v18.88h-1.33zM503.0 63.71h1.33v18.88h-1.33zM510.9 63.71h1.33v18.88h-1.33zM512.2 63.71h1.33v18.88h-1.33zM529.2 63.71h1.33v18.88h-1.33zM530.5 63.71h1.33v18.88h-1.33zM543.6 63.71h1.33v18.88h-1.33zM552.7 63.71h1.33v18.88h-1.33zM554.0 63.71h1.33v18.88h-1.33zM558.0 63.71h1.33v18.88h-1.33zM569.8 63.71h1.33v18.88h-1.33zM581.5 63.71h1.33v18.88h-1.33zM584.2 63.71h1.33v18.88h-1.33zM589.4 63.71h1.33v18.88h-1.33zM605.1 63.71h1.33v18.88h-1.33zM613.0 63.71h1.33v18.88h-1.33zM618.2 63.71h1.33v18.88h-1.33zM619.5 63.71h1.33v18.88h-1.33zM620.8 63.71h1.33v18.88h-1.33zM635.2 63.71h1.33v18.88h-1.33zM636.5 63.71h1.33v18.88h-1.33zM647.0 63.71h1.33v18.88h-1.33zM649.6 63.71h1.33v18.88h-1.33zM650.9 63.71h1.33v18.88h-1.33zM654.8 63.71h1.33v18.88h-1.33zM344.6 82.57h1.33v18.88h-1.33zM360.3 82.57h1.33v18.88h-1.33zM368.2 82.57h1.33v18.88h-1.33zM387.8 82.57h1.33v18.88h-1.33zM389.1 82.57h1.33v18.88h-1.33zM395.7 82.57h1.33v18.88h-1.33zM344.6 120.28h1.33v18.88h-1.33zM364.3 120.28h1.33v18.88h-1.33zM366.9 120.28h1.33v18.88h-1.33zM369.5 120.28h1.33v18.88h-1.33zM397.0 120.28h1.33v18.88h-1.33zM403.5 139.13h1.33v18.88h-1.33zM420.5 139.13h1.33v18.88h-1.33zM428.4 139.13h1.33v18.88h-1.33zM466.3 139.13h1.33v18.88h-1.33zM470.3 139.13h1.33v18.88h-1.33zM474.2 139.13h1.33v18.88h-1.33zM484.7 139.13h1.33v18.88h-1.33zM489.9 139.13h1.33v18.88h-1.33zM496.5 139.13h1.33v18.88h-1.33zM497.8 139.13h1.33v18.88h-1.33zM505.6 139.13h1.33v18.88h-1.33zM509.5 139.13h1.33v18.88h-1.33zM523.9 139.13h1.33v18.88h-1.33zM552.7 139.13h1.33v18.88h-1.33zM555.4 139.13h1.33v18.88h-1.33zM559.3 139.13h1.33v18.88h-1.33zM564.5 139.13h1.33v18.88h-1.33zM565.8 139.13h1.33v18.88h-1.33zM568.4 139.13h1.33v18.88h-1.33zM581.5 139.13h1.33v18.88h-1.33zM586.8 139.13h1.33v18.88h-1.33zM592.0 139.13h1.33v18.88h-1.33zM594.6 139.13h1.33v18.88h-1.33zM599.9 139.13h1.33v18.88h-1.33zM607.7 139.13h1.33v18.88h-1.33zM614.3 139.13h1.33v18.88h-1.33zM616.9 139.13h1.33v18.88h-1.33zM626.0 139.13h1.33v18.88h-1.33zM627.3 139.13h1.33v18.88h-1.33zM362.9 157.99h1.33v18.88h-1.33zM364.3 157.99h1.33v18.88h-1.33zM366.9 157.99h1.33v18.88h-1.33zM448.0 157.99h1.33v18.88h-1.33zM449.3 157.99h1.33v18.88h-1.33zM459.8 157.99h1.33v18.88h-1.33zM466.3 157.99h1.33v18.88h-1.33zM488.6 157.99h1.33v18.88h-1.33zM505.6 157.99h1.33v18.88h-1.33zM513.5 157.99h1.33v18.88h-1.33zM516.1 157.99h1.33v18.88h-1.33zM518.7 157.99h1.33v18.88h-1.33zM523.9 157.99h1.33v18.88h-1.33zM530.5 157.99h1.33v18.88h-1.33zM537.0 157.99h1.33v18.88h-1.33zM595.9 157.99h1.33v18.88h-1.33zM607.7 157.99h1.33v18.88h-1.33zM616.9 157.99h1.33v18.88h-1.33zM622.1 157.99h1.33v18.88h-1.33zM624.7 157.99h1.33v18.88h-1.33zM632.6 157.99h1.33v18.88h-1.33zM637.8 157.99h1.33v18.88h-1.33zM641.7 157.99h1.33v18.88h-1.33zM644.4 157.99h1.33v18.88h-1.33zM661.4 157.99h1.33v18.88h-1.33zM406.1 176.84h1.33v18.88h-1.33zM408.8 176.84h1.33v18.88h-1.33zM516.1 176.84h1.33v18.88h-1.33zM518.7 176.84h1.33v18.88h-1.33zM520.0 176.84h1.33v18.88h-1.33z"/>
<path fill="#ff8686" d="M376.0 26.00h1.33v18.88h-1.33zM466.3 26.00h1.33v18.88h-1.33zM475.5 26.00h1.33v18.88h-1.33zM499.1 26.00h1.33v18.88h-1.33zM505.6 26.00h1.33v18.88h-1.33zM534.4 26.00h1.33v18.88h-1.33zM584.2 26.00h1.33v18.88h-1.33zM595.9 26.00h1.33v18.88h-1.33zM598.6 26.00h1.33v18.88h-1.33zM613.0 26.00h1.33v18.88h-1.33zM616.9 26.00h1.33v18.88h-1.33zM623.4 26.00h1.33v18.88h-1.33zM626.0 26.00h1.33v18.88h-1.33zM649.6 26.00h1.33v18.88h-1.33zM658.8 26.00h1.33v18.88h-1.33zM661.4 26.00h1.33v18.88h-1.33zM372.1 44.86h1.33v18.88h-1.33zM373.4 44.86h1.33v18.88h-1.33zM376.0 44.86h1.33v18.88h-1.33zM423.2 44.86h1.33v18.88h-1.33zM425.8 44.86h1.33v18.88h-1.33zM427.1 44.86h1.33v18.88h-1.33zM474.2 63.71h1.33v18.88h-1.33zM475.5 63.71h1.33v18.88h-1.33zM491.2 63.71h1.33v18.88h-1.33zM509.5 63.71h1.33v18.88h-1.33zM514.8 63.71h1.33v18.88h-1.33zM534.4 63.71h1.33v18.88h-1.33zM538.3 63.71h1.33v18.88h-1.33zM556.7 63.71h1.33v18.88h-1.33zM559.3 63.71h1.33v18.88h-1.33zM572.4 63.71h1.33v18.88h-1.33zM575.0 63.71h1.33v18.88h-1.33zM585.5 63.71h1.33v18.88h-1.33zM610.3 63.71h1.33v18.88h-1.33zM623.4 63.71h1.33v18.88h-1.33zM627.3 63.71h1.33v18.88h-1.33zM641.7 63.71h1.33v18.88h-1.33zM644.4 63.71h1.33v18.88h-1.33zM348.5 82.57h1.33v18.88h-1.33zM352.5 82.57h1.33v18.88h-1.33zM355.1 82.57h1.33v18.88h-1.33zM364.3 82.57h1.33v18.88h-1.33zM382.6 82.57h1.33v18.88h-1.33zM390.4 82.57h1.33v18.88h-1.33zM397.0 82.57h1.33v18.88h-1.33zM400.9 82.57h1.33v18.88h-1.33zM368.2 101.42h1.33v18.88h-1.33zM393.0 101.42h1.33v18.88h-1.33zM398.3 101.42h1.33v18.88h-1.33zM650.9 101.42h1.33v18.88h-1.33zM355.1 120.28h1.33v18.88h-1.33zM357.7 120.28h1.33v18.88h-1.33zM361.6 120.28h1.33v18.88h-1.33zM400.9 120.28h1.33v18.88h-1.33zM414.0 139.13h1.33v18.88h-1.33zM463.7 139.13h1.33v18.88h-1.33zM465.0 139.13h1.33v18.88h-1.33zM469.0 139.13h1.33v18.88h-1.33zM471.6 139.13h1.33v18.88h-1.33zM479.4 139.13h1.33v18.88h-1.33zM488.6 139.13h1.33v18.88h-1.33zM491.2 139.13h1.33v18.88h-1.33zM500.4 139.13h1.33v18.88h-1.33zM518.7 139.13h1.33v18.88h-1.33zM521.3 139.13h1.33v18.88h-1.33zM522.6 139.13h1.33v18.88h-1.33zM525.3 139.13h1.33v18.88h-1.33zM529.2 139.13h1.33v18.88h-1.33zM541.0 139.13h1.33v18.88h-1.33zM542.3 139.13h1.33v18.88h-1.33zM544.9 139.13h1.33v18.88h-1.33zM546.2 139.13h1.33v18.88h-1.33zM554.0 139.13h1.33v18.88h-1.33zM556.7 139.13h1.33v18.88h-1.33zM560.6 139.13h1.33v18.88h-1.33zM563.2 139.13h1.33v18.88h-1.33zM571.1 139.13h1.33v18.88h-1.33zM609.0 139.13h1.33v18.88h-1.33zM613.0 139.13h1.33v18.88h-1.33zM624.7 139.13h1.33v18.88h-1.33zM628.7 139.13h1.33v18.88h-1.33zM631.3 139.13h1.33v18.88h-1.33zM645.7 139.13h1.33v18.88h-1.33zM650.9 139.13h1.33v18.88h-1.33zM657.5 139.13h1.33v18.88h-1.33zM415.3 157.99h1.33v18.88h-1.33zM416.6 157.99h1.33v18.88h-1.33zM424.5 157.99h1.33v18.88h-1.33zM431.0 157.99h1.33v18.88h-1.33zM442.8 157.99h1.33v18.88h-1.33zM453.3 157.99h1.33v18.88h-1.33zM455.9 157.99h1.33v18.88h-1.33zM457.2 157.99h1.33v18.88h-1.33zM461.1 157.99h1.33v18.88h-1.33zM465.0 157.99h1.33v18.88h-1.33zM475.5 157.99h1.33v18.88h-1.33zM484.7 157.99h1.33v18.88h-1.33zM493.8 157.99h1.33v18.88h-1.33zM501.7 157.99h1.33v18.88h-1.33zM506.9 157.99h1.33v18.88h-1.33zM521.3 157.99h1.33v18.88h-1.33zM525.3 157.99h1.33v18.88h-1.33zM531.8 157.99h1.33v18.88h-1.33zM547.5 157.99h1.33v18.88h-1.33zM548.8 157.99h1.33v18.88h-1.33zM550.1 157.99h1.33v18.88h-1.33zM563.2 157.99h1.33v18.88h-1.33zM567.1 157.99h1.33v18.88h-1.33zM573.7 157.99h1.33v18.88h-1.33zM605.1 157.99h1.33v18.88h-1.33zM613.0 157.99h1.33v18.88h-1.33zM620.8 157.99h1.33v18.88h-1.33zM364.3 176.84h1.33v18.88h-1.33zM411.4 176.84h1.33v18.88h-1.33zM421.8 176.84h1.33v18.88h-1.33zM509.5 176.84h1.33v18.88h-1.33zM513.5 176.84h1.33v18.88h-1.33z"/>
<path fill="#ffebeb" d="M378.7 26.00h1.33v18.88h-1.33zM381.3 26.00h1.33v18.88h-1.33zM394.4 26.00h1.33v18.88h-1.33zM397.0 26.00h1.33v18.88h-1.33zM416.6 26.00h1.33v18.88h-1.33zM420.5 26.00h1.33v18.88h-1.33zM421.8 26.00h1.33v18.88h-1.33zM424.5 26.00h1.33v18.88h-1.33zM434.9 26.00h1.33v18.88h-1.33zM442.8 26.00h1.33v18.88h-1.33zM445.4 26.00h1.33v18.88h-1.33zM497.8 26.00h1.33v18.88h-1.33zM501.7 26.00h1.33v18.88h-1.33zM506.9 26.00h1.33v18.88h-1.33zM508.2 26.00h1.33v18.88h-1.33zM516.1 26.00h1.33v18.88h-1.33zM517.4 26.00h1.33v18.88h-1.33zM518.7 26.00h1.33v18.88h-1.33zM521.3 26.00h1.33v18.88h-1.33zM525.3 26.00h1.33v18.88h-1.33zM530.5 26.00h1.33v18.88h-1.33zM531.8 26.00h1.33v18.88h-1.33zM542.3 26.00h1.33v18.88h-1.33zM550.1 26.00h1.33v18.88h-1.33zM576.3 26.00h1.33v18.88h-1.33zM580.2 26.00h1.33v18.88h-1.33zM592.0 26.00h1.33v18.88h-1.33zM605.1 26.00h1.33v18.88h-1.33zM632.6 26.00h1.33v18.88h-1.33zM640.4 26.00h1.33v18.88h-1.33zM402.2 44.86h1.33v18.88h-1.33zM415.3 44.86h1.33v18.88h-1.33zM446.7 44.86h1.33v18.88h-1.33zM458.5 44.86h1.33v18.88h-1.33zM482.1 44.86h1.33v18.88h-1.33zM484.7 44.86h1.33v18.88h-1.33zM491.2 44.86h1.33v18.88h-1.33zM500.4 44.86h1.33v18.88h-1.33zM508.2 44.86h1.33v18.88h-1.33zM509.5 44.86h1.33v18.88h-1.33zM512.2 44.86h1.33v18.88h-1.33zM514.8 44.86h1.33v18.88h-1.33zM517.4 44.86h1.33v18.88h-1.33zM531.8 44.86h1.33v18.88h-1.33zM534.4 44.86h1.33v18.88h-1.33zM539.7 44.86h1.33v18.88h-1.33zM548.8 44.86h1.33v18.88h-1.33zM561.9 44.86h1.33v18.88h-1.33zM563.2 44.86h1.33v18.88h-1.33zM567.1 44.86h1.33v18.88h-1.33zM577.6 44.86h1.33v18.88h-1.33zM602.5 44.86h1.33v18.88h-1.33zM606.4 44.86h1.33v18.88h-1.33zM613.0 44.86h1.33v18.88h-1.33zM624.7 44.86h1.33v18.88h-1.33zM630.0 44.86h1.33v18.88h-1.33zM373.4 63.71h1.33v18.88h-1.33zM378.7 63.71h1.33v18.88h-1.33zM382.6 63.71h1.33v18.88h-1.33zM437.6 63.71h1.33v18.88h-1.33zM441.5 63.71h1.33v18.88h-1.33zM465.0 63.71h1.33v18.88h-1.33zM467.7 63.71h1.33v18.88h-1.33zM353.8 82.57h1.33v18.88h-1.33zM372.1 82.57h1.33v18.88h-1.33zM376.0 82.57h1.33v18.88h-1.33zM377.3 82.57h1.33v18.88h-1.33zM378.7 82.57h1.33v18.88h-1.33zM381.3 82.57h1.33v18.88h-1.33zM352.5 101.42h1.33v18.88h-1.33zM353.8 101.42h1.33v18.88h-1.33zM356.4 101.42h1.33v18.88h-1.33zM374.7 101.42h1.33v18.88h-1.33zM390.4 101.42h1.33v18.88h-1.33zM410.1 101.42h1.33v18.88h-1.33zM419.2 101.42h1.33v18.88h-1.33zM534.4 101.42h1.33v18.88h-1.33zM542.3 101.42h1.33v18.88h-1.33zM550.1 101.42h1.33v18.88h-1.33zM588.1 101.42h1.33v18.88h-1.33zM594.6 101.42h1.33v18.88h-1.33zM615.6 101.42h1.33v18.88h-1.33zM618.2 101.42h1.33v18.88h-1.33zM619.5 101.42h1.33v18.88h-1.33zM342.0 120.28h1.33v18.88h-1.33zM360.3 120.28h1.33v18.88h-1.33zM362.9 120.28h1.33v18.88h-1.33zM374.7 120.28h1.33v18.88h-1.33zM377.3 120.28h1.33v18.88h-1.33zM359.0 139.13h1.33v18.88h-1.33zM360.3 139.13h1.33v18.88h-1.33zM476.8 139.13h1.33v18.88h-1.33zM576.3 139.13h1.33v18.88h-1.33zM356.4 157.99h1.33v18.88h-1.33zM357.7 157.99h1.33v18.88h-1.33zM368.2 157.99h1.33v18.88h-1.33zM382.6 157.99h1.33v18.88h-1.33zM423.2 157.99h1.33v18.88h-1.33zM429.7 157.99h1.33v18.88h-1.33zM433.6 157.99h1.33v18.88h-1.33zM436.2 157.99h1.33v18.88h-1.33zM438.9 157.99h1.33v18.88h-1.33zM450.6 157.99h1.33v18.88h-1.33zM522.6 157.99h1.33v18.88h-1.33zM561.9 157.99h1.33v18.88h-1.33zM584.2 157.99h1.33v18.88h-1.33zM588.1 157.99h1.33v18.88h-1.33zM590.7 157.99h1.33v18.88h-1.33zM602.5 157.99h1.33v18.88h-1.33zM614.3 157.99h1.33v18.88h-1.33zM639.1 157.99h1.33v18.88h-1.33zM352.5 176.84h1.33v18.88h-1.33zM440.2 176.84h1.33v18.88h-1.33zM442.8 176.84h1.33v18.88h-1.33zM448.0 176.84h1.33v18.88h-1.33zM452.0 176.84h1.33v18.88h-1.33zM474.2 176.84h1.33v18.88h-1.33zM508.2 176.84h1.33v18.88h-1.33zM512.2 176.84h1.33v18.88h-1.33zM517.4 176.84h1.33v18.88h-1.33zM649.6 176.84h1.33v18.88h-1.33zM654.8 176.84h1.33v18.88h-1.33z"/>
<path fill="#d7d7ff" d="M382.6 26.00h1.33v18.88h-1.33zM385.2 26.00h1.33v18.88h-1.33zM390.4 26.00h1.33v18.88h-1.33zM408.8 26.00h1.33v18.88h-1.33zM489.9 26.00h1.33v18.88h-1.33zM551.4 26.00h1.33v18.88h-1.33zM560.6 26.00h1.33v18.88h-1.33zM641.7 26.00h1.33v18.88h-1.33zM362.9 44.86h1.33v18.88h-1.33zM370.8 44.86h1.33v18.88h-1.33zM386.5 44.86h1.33v18.88h-1.33zM397.0 44.86h1.33v18.88h-1.33zM400.9 44.86h1.33v18.88h-1.33zM403.5 44.86h1.33v18.88h-1.33zM404.8 44.86h1.33v18.88h-1.33zM406.1 44.86h1.33v18.88h-1.33zM407.4 44.86h1.33v18.88h-1.33zM453.3 44.86h1.33v18.88h-1.33zM454.6 44.86h1.33v18.88h-1.33zM469.0 44.86h1.33v18.88h-1.33zM478.1 44.86h1.33v18.88h-1.33zM486.0 44.86h1.33v18.88h-1.33zM492.5 44.86h1.33v18.88h-1.33zM495.1 44.86h1.33v18.88h-1.33zM497.8 44.86h1.33v18.88h-1.33zM522.6 44.86h1.33v18.88h-1.33zM547.5 44.86h1.33v18.88h-1.33zM575.0 44.86h1.33v18.88h-1.33zM580.2 44.86h1.33v18.88h-1.33zM597.2 44.86h1.33v18.88h-1.33zM598.6 44.86h1.33v18.88h-1.33zM616.9 44.86h1.33v18.88h-1.33zM636.5 44.86h1.33v18.88h-1.33zM644.4 44.86h1.33v18.88h-1.33zM654.8 44.86h1.33v18.88h-1.33zM658.8 44.86h1.33v18.88h-1.33zM662.7 44.86h1.33v18.88h-1.33zM402.2 63.71h1.33v18.88h-1.33zM421.8 63.71h1.33v18.88h-1.33zM438.9 63.71h1.33v18.88h-1.33zM442.8 63.71h1.33v18.88h-1.33zM445.4 63.71h1.33v18.88h-1.33zM446.7 63.71h1.33v18.88h-1.33zM450.6 63.71h1.33v18.88h-1.33zM452.0 63.71h1.33v18.88h-1.33zM374.7 82.57h1.33v18.88h-1.33zM420.5 82.57h1.33v18.88h-1.33zM406.1 101.42h1.33v18.88h-1.33zM417.9 101.42h1.33v18.88h-1.33zM436.2 101.42h1.33v18.88h-1.33zM444.1 101.42h1.33v18.88h-1.33zM469.0 101.42h1.33v18.88h-1.33zM489.9 101.42h1.33v18.88h-1.33zM493.8 101.42h1.33v18.88h-1.33zM516.1 101.42h1.33v18.88h-1.33zM525.3 101.42h1.33v18.88h-1.33zM526.6 101.42h1.33v18.88h-1.33zM535.7 101.42h1.33v18.88h-1.33zM539.7 101.42h1.33v18.88h-1.33zM544.9 101.42h1.33v18.88h-1.33zM555.4 101.42h1.33v18.88h-1.33zM560.6 101.42h1.33v18.88h-1.33zM561.9 101.42h1.33v18.88h-1.33zM563.2 101.42h1.33v18.88h-1.33zM564.5 101.42h1.33v18.88h-1.33zM565.8 101.42h1.33v18.88h-1.33zM572.4 101.42h1.33v18.88h-1.33zM575.0 101.42h1.33v18.88h-1.33zM593.3 101.42h1.33v18.88h-1.33zM601.2 101.42h1.33v18.88h-1.33zM607.7 101.42h1.33v18.88h-1.33zM611.6 101.42h1.33v18.88h-1.33zM627.3 101.42h1.33v18.88h-1.33zM631.3 101.42h1.33v18.88h-1.33zM633.9 101.42h1.33v18.88h-1.33zM636.5 101.42h1.33v18.88h-1.33zM641.7 101.42h1.33v18.88h-1.33zM645.7 101.42h1.33v18.88h-1.33zM660.1 101.42h1.33v18.88h-1.33zM376.0 120.28h1.33v18.88h-1.33zM442.8 120.28h1.33v18.88h-1.33zM478.1 120.28h1.33v18.88h-1.33zM484.7 120.28h1.33v18.88h-1.33zM487.3 120.28h1.33v18.88h-1.33zM488.6 120.28h1.33v18.88h-1.33zM495.1 120.28h1.33v18.88h-1.33zM497.8 120.28h1.33v18.88h-1.33zM508.2 120.28h1.33v18.88h-1.33zM510.9 120.28h1.33v18.88h-1.33zM523.9 120.28h1.33v18.88h-1.33zM533.1 120.28h1.33v18.88h-1.33zM575.0 120.28h1.33v18.88h-1.33zM585.5 120.28h1.33v18.88h-1.33zM618.2 120.28h1.33v18.88h-1.33zM623.4 120.28h1.33v18.88h-1.33zM633.9 120.28h1.33v18.88h-1.33zM345.9 139.13h1.33v18.88h-1.33zM362.9 139.13h1.33v18.88h-1.33zM387.8 139.13h1.33v18.88h-1.33zM394.4 139.13h1.33v18.88h-1.33zM399.6 139.13h1.33v18.88h-1.33zM400.9 139.13h1.33v18.88h-1.33zM349.9 157.99h1.33v18.88h-1.33zM372.1 157.99h1.33v18.88h-1.33zM376.0 157.99h1.33v18.88h-1.33zM400.9 157.99h1.33v18.88h-1.33zM365.6 176.84h1.33v18.88h-1.33zM370.8 176.84h1.33v18.88h-1.33zM380.0 176.84h1.33v18.88h-1.33zM387.8 176.84h1.33v18.88h-1.33zM389.1 176.84h1.33v18.88h-1.33zM434.9 176.84h1.33v18.88h-1.33zM444.1 176.84h1.33v18.88h-1.33zM457.2 176.84h1.33v18.88h-1.33zM479.4 176.84h1.33v18.88h-1.33zM482.1 176.84h1.33v18.88h-1.33zM483.4 176.84h1.33v18.88h-1.33zM488.6 176.84h1.33v18.88h-1.33zM491.2 176.84h1.33v18.88h-1.33zM499.1 176.84h1.33v18.88h-1.33zM500.4 176.84h1.33v18.88h-1.33zM505.6 176.84h1.33v18.88h-1.33zM523.9 176.84h1.33v18.88h-1.33zM531.8 176.84h1.33v18.88h-1.33zM534.4 176.84h1.33v18.88h-1.33zM535.7 176.84h1.33v18.88h-1.33zM537.0 176.84h1.33v18.88h-1.33zM539.7 176.84h1.33v18.88h-1.33zM588.1 176.84h1.33v18.88h-1.33zM595.9 176.84h1.33v18.88h-1.33zM601.2 176.84h1.33v18.88h-1.33zM609.0 176.84h1.33v18.88h-1.33zM613.0 176.84h1.33v18.88h-1.33zM614.3 176.84h1.33v18.88h-1.33zM618.2 176.84h1.33v18.88h-1.33zM624.7 176.84h1.33v18.88h-1.33zM635.2 176.84h1.33v18.88h-1.33zM643.1 176.84h1.33v18.88h-1.33zM645.7 176.84h1.33v18.88h-1.33zM648.3 176.84h1.33v18.88h-1.33zM650.9 176.84h1.33v18.88h-1.33zM657.5 176.84h1.33v18.88h-1.33z"/>
<path fill="#ebebff" d="M387.8 26.00h1.33v18.88h-1.33zM393.0 26.00h1.33v18.88h-1.33zM419.2 26.00h1.33v18.88h-1.33zM448.0 26.00h1.33v18.88h-1.33zM449.3 26.00h1.33v18.88h-1.33zM495.1 26.00h1.33v18.88h-1.33zM514.8 26.00h1.33v18.88h-1.33zM554.0 26.00h1.33v18.88h-1.33zM563.2 26.00h1.33v18.88h-1.33zM571.1 26.00h1.33v18.88h-1.33zM639.1 26.00h1.33v18.88h-1.33zM391.7 44.86h1.33v18.88h-1.33zM445.4 44.86h1.33v18.88h-1.33zM450.6 44.86h1.33v18.88h-1.33zM463.7 44.86h1.33v18.88h-1.33zM475.5 44.86h1.33v18.88h-1.33zM488.6 44.86h1.33v18.88h-1.33zM499.1 44.86h1.33v18.88h-1.33zM506.9 44.86h1.33v18.88h-1.33zM521.3 44.86h1.33v18.88h-1.33zM543.6 44.86h1.33v18.88h-1.33zM544.9 44.86h1.33v18.88h-1.33zM550.1 44.86h1.33v18.88h-1.33zM556.7 44.86h1.33v18.88h-1.33zM573.7 44.86h1.33v18.88h-1.33zM584.2 44.86h1.33v18.88h-1.33zM586.8 44.86h1.33v18.88h-1.33zM589.4 44.86h1.33v18.88h-1.33zM593.3 44.86h1.33v18.88h-1.33zM594.6 44.86h1.33v18.88h-1.33zM599.9 44.86h1.33v18.88h-1.33zM601.2 44.86h1.33v18.88h-1.33zM622.1 44.86h1.33v18.88h-1.33zM628.7 44.86h1.33v18.88h-1.33zM637.8 44.86h1.33v18.88h-1.33zM640.4 44.86h1.33v18.88h-1.33zM641.7 44.86h1.33v18.88h-1.33zM647.0 44.86h1.33v18.88h-1.33zM648.3 44.86h1.33v18.88h-1.33zM650.9 44.86h1.33v18.88h-1.33zM372.1 63.71h1.33v18.88h-1.33zM386.5 63.71h1.33v18.88h-1.33zM398.3 63.71h1.33v18.88h-1.33zM399.6 63.71h1.33v18.88h-1.33zM403.5 63.71h1.33v18.88h-1.33zM407.4 63.71h1.33v18.88h-1.33zM414.0 63.71h1.33v18.88h-1.33zM428.4 63.71h1.33v18.88h-1.33zM432.3 63.71h1.33v18.88h-1.33zM434.9 63.71h1.33v18.88h-1.33zM360.3 101.42h1.33v18.88h-1.33zM361.6 101.42h1.33v18.88h-1.33zM373.4 101.42h1.33v18.88h-1.33zM378.7 101.42h1.33v18.88h-1.33zM385.2 101.42h1.33v18.88h-1.33zM416.6 101.42h1.33v18.88h-1.33zM424.5 101.42h1.33v18.88h-1.33zM425.8 101.42h1.33v18.88h-1.33zM427.1 101.42h1.33v18.88h-1.33zM449.3 101.42h1.33v18.88h-1.33zM455.9 101.42h1.33v18.88h-1.33zM471.6 101.42h1.33v18.88h-1.33zM495.1 101.42h1.33v18.88h-1.33zM500.4 101.42h1.33v18.88h-1.33zM501.7 101.42h1.33v18.88h-1.33zM505.6 101.42h1.33v18.88h-1.33zM506.9 101.42h1.33v18.88h-1.33zM531.8 101.42h1.33v18.88h-1.33zM533.1 101.42h1.33v18.88h-1.33zM551.4 101.42h1.33v18.88h-1.33zM559.3 101.42h1.33v18.88h-1.33zM585.5 101.42h1.33v18.88h-1.33zM586.8 101.42h1.33v18.88h-1.33zM589.4 101.42h1.33v18.88h-1.33zM592.0 101.42h1.33v18.88h-1.33zM603.8 101.42h1.33v18.88h-1.33zM605.1 101.42h1.33v18.88h-1.33zM626.0 101.42h1.33v18.88h-1.33zM628.7 101.42h1.33v18.88h-1.33zM630.0 101.42h1.33v18.88h-1.33zM635.2 101.42h1.33v18.88h-1.33zM639.1 101.42h1.33v18.88h-1.33zM640.4 101.42h1.33v18.88h-1.33zM644.4 101.42h1.33v18.88h-1.33zM648.3 101.42h1.33v18.88h-1.33zM653.5 101.42h1.33v18.88h-1.33zM656.1 101.42h1.33v18.88h-1.33zM373.4 120.28h1.33v18.88h-1.33zM380.0 120.28h1.33v18.88h-1.33zM454.6 120.28h1.33v18.88h-1.33zM466.3 120.28h1.33v18.88h-1.33zM482.1 120.28h1.33v18.88h-1.33zM489.9 120.28h1.33v18.88h-1.33zM505.6 120.28h1.33v18.88h-1.33zM506.9 120.28h1.33v18.88h-1.33zM578.9 120.28h1.33v18.88h-1.33zM581.5 120.28h1.33v18.88h-1.33zM366.9 139.13h1.33v18.88h-1.33zM370.8 139.13h1.33v18.88h-1.33zM398.3 139.13h1.33v18.88h-1.33zM517.4 139.13h1.33v18.88h-1.33zM580.2 139.13h1.33v18.88h-1.33zM359.0 157.99h1.33v18.88h-1.33zM370.8 157.99h1.33v18.88h-1.33zM386.5 157.99h1.33v18.88h-1.33zM526.6 157.99h1.33v18.88h-1.33zM601.2 157.99h1.33v18.88h-1.33zM660.1 157.99h1.33v18.88h-1.33zM359.0 176.84h1.33v18.88h-1.33zM427.1 176.84h1.33v18.88h-1.33zM431.0 176.84h1.33v18.88h-1.33zM458.5 176.84h1.33v18.88h-1.33zM495.1 176.84h1.33v18.88h-1.33zM501.7 176.84h1.33v18.88h-1.33zM525.3 176.84h1.33v18.88h-1.33zM530.5 176.84h1.33v18.88h-1.33zM533.1 176.84h1.33v18.88h-1.33zM541.0 176.84h1.33v18.88h-1.33zM546.2 176.84h1.33v18.88h-1.33zM551.4 176.84h1.33v18.88h-1.33zM585.5 176.84h1.33v18.88h-1.33zM616.9 176.84h1.33v18.88h-1.33zM619.5 176.84h1.33v18.88h-1.33zM628.7 176.84h1.33v18.88h-1.33zM630.0 176.84h1.33v18.88h-1.33zM633.9 176.84h1.33v18.88h-1.33zM637.8 176.84h1.33v18.88h-1.33zM640.4 176.84h1.33v18.88h-1.33zM652.2 176.84h1.33v18.88h-1.33zM660.1 176.84h1.33v18.88h-1.33z"/>
<path fill="#ffffff" d="M391.7 26.00h1.33v18.88h-1.33zM400.9 26.00h1.33v18.88h-1.33zM402.2 26.00h1.33v18.88h-1.33zM407.4 26.00h1.33v18.88h-1.33zM410.1 26.00h1.33v18.88h-1.33zM414.0 26.00h1.33v18.88h-1.33zM417.9 26.00h1.33v18.88h-1.33zM432.3 26.00h1.33v18.88h-1.33zM433.6 26.00h1.33v18.88h-1.33zM444.1 26.00h1.33v18.88h-1.33zM452.0 26.00h1.33v18.88h-1.33zM478.1 26.00h1.33v18.88h-1.33zM484.7 26.00h1.33v18.88h-1.33zM496.5 26.00h1.33v18.88h-1.33zM533.1 26.00h1.33v18.88h-1.33zM539.7 26.00h1.33v18.88h-1.33zM546.2 26.00h1.33v18.88h-1.33zM567.1 26.00h1.33v18.88h-1.33zM572.4 26.00h1.33v18.88h-1.33zM593.3 26.00h1.33v18.88h-1.33zM606.4 26.00h1.33v18.88h-1.33zM607.7 26.00h1.33v18.88h-1.33zM619.5 26.00h1.33v18.88h-1.33zM628.7 26.00h1.33v18.88h-1.33zM385.2 44.86h1.33v18.88h-1.33zM389.1 44.86h1.33v18.88h-1.33zM414.0 44.86h1.33v18.88h-1.33zM421.8 44.86h1.33v18.88h-1.33zM442.8 44.86h1.33v18.88h-1.33zM452.0 44.86h1.33v18.88h-1.33zM455.9 44.86h1.33v18.88h-1.33zM465.0 44.86h1.33v18.88h-1.33zM474.2 44.86h1.33v18.88h-1.33zM476.8 44.86h1.33v18.88h-1.33zM479.4 44.86h1.33v18.88h-1.33zM480.7 44.86h1.33v18.88h-1.33zM489.9 44.86h1.33v18.88h-1.33zM501.7 44.86h1.33v18.88h-1.33zM513.5 44.86h1.33v18.88h-1.33zM516.1 44.86h1.33v18.88h-1.33zM520.0 44.86h1.33v18.88h-1.33zM530.5 44.86h1.33v18.88h-1.33zM533.1 44.86h1.33v18.88h-1.33zM535.7 44.86h1.33v18.88h-1.33zM538.3 44.86h1.33v18.88h-1.33zM551.4 44.86h1.33v18.88h-1.33zM555.4 44.86h1.33v18.88h-1.33zM571.1 44.86h1.33v18.88h-1.33zM572.4 44.86h1.33v18.88h-1.33zM578.9 44.86h1.33v18.88h-1.33zM582.8 44.86h1.33v18.88h-1.33zM590.7 44.86h1.33v18.88h-1.33zM592.0 44.86h1.33v18.88h-1.33zM607.7 44.86h1.33v18.88h-1.33zM614.3 44.86h1.33v18.88h-1.33zM618.2 44.86h1.33v18.88h-1.33zM619.5 44.86h1.33v18.88h-1.33zM620.8 44.86h1.33v18.88h-1.33zM627.3 44.86h1.33v18.88h-1.33zM632.6 44.86h1.33v18.88h-1.33zM633.9 44.86h1.33v18.88h-1.33zM653.5 44.86h1.33v18.88h-1.33zM661.4 44.86h1.33v18.88h-1.33zM389.1 63.71h1.33v18.88h-1.33zM400.9 63.71h1.33v18.88h-1.33zM419.2 63.71h1.33v18.88h-1.33zM440.2 63.71h1.33v18.88h-1.33zM462.4 63.71h1.33v18.88h-1.33zM471.6 63.71h1.33v18.88h-1.33zM407.4 82.57h1.33v18.88h-1.33zM357.7 101.42h1.33v18.88h-1.33zM364.3 101.42h1.33v18.88h-1.33zM369.5 101.42h1.33v18.88h-1.33zM376.0 101.42h1.33v18.88h-1.33zM387.8 101.42h1.33v18.88h-1.33zM423.2 101.42h1.33v18.88h-1.33zM465.0 101.42h1.33v18.88h-1.33zM478.1 101.42h1.33v18.88h-1.33zM510.9 101.42h1.33v18.88h-1.33zM513.5 101.42h1.33v18.88h-1.33zM523.9 101.42h1.33v18.88h-1.33zM568.4 101.42h1.33v18.88h-1.33zM569.8 101.42h1.33v18.88h-1.33zM573.7 101.42h1.33v18.88h-1.33zM576.3 101.42h1.33v18.88h-1.33zM597.2 101.42h1.33v18.88h-1.33zM606.4 101.42h1.33v18.88h-1.33zM616.9 101.42h1.33v18.88h-1.33zM622.1 101.42h1.33v18.88h-1.33zM624.7 101.42h1.33v18.88h-1.33zM643.1 101.42h1.33v18.88h-1.33zM647.0 101.42h1.33v18.88h-1.33zM649.6 101.42h1.33v18.88h-1.33zM652.2 101.42h1.33v18.88h-1.33zM657.5 101.42h1.33v18.88h-1.33zM662.7 101.42h1.33v18.88h-1.33zM372.1 120.28h1.33v18.88h-1.33zM381.3 120.28h1.33v18.88h-1.33zM509.5 120.28h1.33v18.88h-1.33zM344.6 139.13h1.33v18.88h-1.33zM351.2 139.13h1.33v18.88h-1.33zM357.7 139.13h1.33v18.88h-1.33zM395.7 139.13h1.33v18.88h-1.33zM407.4 139.13h1.33v18.88h-1.33zM506.9 139.13h1.33v18.88h-1.33zM352.5 157.99h1.33v18.88h-1.33zM360.3 157.99h1.33v18.88h-1.33zM365.6 157.99h1.33v18.88h-1.33zM374.7 157.99h1.33v18.88h-1.33zM377.3 157.99h1.33v18.88h-1.33zM440.2 157.99h1.33v18.88h-1.33zM534.4 157.99h1.33v18.88h-1.33zM582.8 157.99h1.33v18.88h-1.33zM594.6 157.99h1.33v18.88h-1.33zM645.7 157.99h1.33v18.88h-1.33zM343.3 176.84h1.33v18.88h-1.33zM345.9 176.84h1.33v18.88h-1.33zM347.2 176.84h1.33v18.88h-1.33zM353.8 176.84h1.33v18.88h-1.33zM357.7 176.84h1.33v18.88h-1.33zM362.9 176.84h1.33v18.88h-1.33zM366.9 176.84h1.33v18.88h-1.33zM373.4 176.84h1.33v18.88h-1.33zM374.7 176.84h1.33v18.88h-1.33zM424.5 176.84h1.33v18.88h-1.33zM441.5 176.84h1.33v18.88h-1.33zM445.4 176.84h1.33v18.88h-1.33zM446.7 176.84h1.33v18.88h-1.33zM450.6 176.84h1.33v18.88h-1.33zM465.0 176.84h1.33v18.88h-1.33zM470.3 176.84h1.33v18.88h-1.33zM484.7 176.84h1.33v18.88h-1.33zM486.0 176.84h1.33v18.88h-1.33zM487.3 176.84h1.33v18.88h-1.33zM489.9 176.84h1.33v18.88h-1.33zM493.8 176.84h1.33v18.88h-1.33zM503.0 176.84h1.33v18.88h-1.33zM504.3 176.84h1.33v18.88h-1.33zM538.3 176.84h1.33v18.88h-1.33zM548.8 176.84h1.33v18.88h-1.33zM580.2 176.84h1.33v18.88h-1.33zM582.8 176.84h1.33v18.88h-1.33zM603.8 176.84h1.33v18.88h-1.33zM622.1 176.84h1.33v18.88h-1.33zM626.0 176.84h1.33v18.88h-1.33zM641.7 176.84h1.33v18.88h-1.33zM644.4 176.84h1.33v18.88h-1.33z"/>
<path fill="#ffc2c2" d="M395.7 26.00h1.33v18.88h-1.33zM425.8 26.00h1.33v18.88h-1.33zM427.1 26.00h1.33v18.88h-1.33zM428.4 26.00h1.33v18.88h-1.33zM436.2 26.00h1.33v18.88h-1.33zM438.9 26.00h1.33v18.88h-1.33zM441.5 26.00h1.33v18.88h-1.33zM446.7 26.00h1.33v18.88h-1.33zM463.7 26.00h1.33v18.88h-1.33zM476.8 26.00h1.33v18.88h-1.33zM482.1 26.00h1.33v18.88h-1.33zM487.3 26.00h1.33v18.88h-1.33zM493.8 26.00h1.33v18.88h-1.33zM509.5 26.00h1.33v18.88h-1.33zM512.2 26.00h1.33v18.88h-1.33zM513.5 26.00h1.33v18.88h-1.33zM520.0 26.00h1.33v18.88h-1.33zM522.6 26.00h1.33v18.88h-1.33zM529.2 26.00h1.33v18.88h-1.33zM541.0 26.00h1.33v18.88h-1.33zM558.0 26.00h1.33v18.88h-1.33zM564.5 26.00h1.33v18.88h-1.33zM589.4 26.00h1.33v18.88h-1.33zM602.5 26.00h1.33v18.88h-1.33zM609.0 26.00h1.33v18.88h-1.33zM610.3 26.00h1.33v18.88h-1.33zM643.1 26.00h1.33v18.88h-1.33zM424.5 44.86h1.33v18.88h-1.33zM434.9 44.86h1.33v18.88h-1.33zM437.6 44.86h1.33v18.88h-1.33zM466.3 44.86h1.33v18.88h-1.33zM467.7 44.86h1.33v18.88h-1.33zM472.9 44.86h1.33v18.88h-1.33zM483.4 44.86h1.33v18.88h-1.33zM487.3 44.86h1.33v18.88h-1.33zM496.5 44.86h1.33v18.88h-1.33zM510.9 44.86h1.33v18.88h-1.33zM537.0 44.86h1.33v18.88h-1.33zM542.3 44.86h1.33v18.88h-1.33zM569.8 44.86h1.33v18.88h-1.33zM603.8 44.86h1.33v18.88h-1.33zM635.2 44.86h1.33v18.88h-1.33zM649.6 44.86h1.33v18.88h-1.33zM656.1 44.86h1.33v18.88h-1.33zM374.7 63.71h1.33v18.88h-1.33zM376.0 63.71h1.33v18.88h-1.33zM424.5 63.71h1.33v18.88h-1.33zM436.2 63.71h1.33v18.88h-1.33zM454.6 63.71h1.33v18.88h-1.33zM455.9 63.71h1.33v18.88h-1.33zM459.8 63.71h1.33v18.88h-1.33zM466.3 63.71h1.33v18.88h-1.33zM470.3 63.71h1.33v18.88h-1.33zM482.1 63.71h1.33v18.88h-1.33zM487.3 63.71h1.33v18.88h-1.33zM488.6 63.71h1.33v18.88h-1.33zM492.5 63.71h1.33v18.88h-1.33zM508.2 63.71h1.33v18.88h-1.33zM614.3 63.71h1.33v18.88h-1.33zM622.1 63.71h1.33v18.88h-1.33zM628.7 63.71h1.33v18.88h-1.33zM640.4 63.71h1.33v18.88h-1.33zM648.3 63.71h1.33v18.88h-1.33zM652.2 63.71h1.33v18.88h-1.33zM660.1 63.71h1.33v18.88h-1.33zM662.7 63.71h1.33v18.88h-1.33zM382.6 101.42h1.33v18.88h-1.33zM389.1 101.42h1.33v18.88h-1.33zM614.3 101.42h1.33v18.88h-1.33zM343.3 120.28h1.33v18.88h-1.33zM348.5 120.28h1.33v18.88h-1.33zM359.0 120.28h1.33v18.88h-1.33zM365.6 120.28h1.33v18.88h-1.33zM352.5 139.13h1.33v18.88h-1.33zM361.6 139.13h1.33v18.88h-1.33zM472.9 139.13h1.33v18.88h-1.33zM480.7 139.13h1.33v18.88h-1.33zM499.1 139.13h1.33v18.88h-1.33zM504.3 139.13h1.33v18.88h-1.33zM508.2 139.13h1.33v18.88h-1.33zM589.4 139.13h1.33v18.88h-1.33zM633.9 139.13h1.33v18.88h-1.33zM637.8 139.13h1.33v18.88h-1.33zM640.4 139.13h1.33v18.88h-1.33zM641.7 139.13h1.33v18.88h-1.33zM649.6 139.13h1.33v18.88h-1.33zM656.1 139.13h1.33v18.88h-1.33zM658.8 139.13h1.33v18.88h-1.33zM660.1 139.13h1.33v18.88h-1.33zM361.6 157.99h1.33v18.88h-1.33zM425.8 157.99h1.33v18.88h-1.33zM432.3 157.99h1.33v18.88h-1.33zM434.9 157.99h1.33v18.88h-1.33zM437.6 157.99h1.33v18.88h-1.33zM476.8 157.99h1.33v18.88h-1.33zM527.9 157.99h1.33v18.88h-1.33zM529.2 157.99h1.33v18.88h-1.33zM533.1 157.99h1.33v18.88h-1.33zM539.7 157.99h1.33v18.88h-1.33zM543.6 157.99h1.33v18.88h-1.33zM556.7 157.99h1.33v18.88h-1.33zM586.8 157.99h1.33v18.88h-1.33zM589.4 157.99h1.33v18.88h-1.33zM592.0 157.99h1.33v18.88h-1.33zM593.3 157.99h1.33v18.88h-1.33zM597.2 157.99h1.33v18.88h-1.33zM598.6 157.99h1.33v18.88h-1.33zM599.9 157.99h1.33v18.88h-1.33zM606.4 157.99h1.33v18.88h-1.33zM610.3 157.99h1.33v18.88h-1.33zM611.6 157.99h1.33v18.88h-1.33zM626.0 157.99h1.33v18.88h-1.33zM627.3 157.99h1.33v18.88h-1.33zM633.9 157.99h1.33v18.88h-1.33zM635.2 157.99h1.33v18.88h-1.33zM647.0 157.99h1.33v18.88h-1.33zM652.2 157.99h1.33v18.88h-1.33zM348.5 176.84h1.33v18.88h-1.33zM349.9 176.84h1.33v18.88h-1.33zM351.2 176.84h1.33v18.88h-1.33zM356.4 176.84h1.33v18.88h-1.33zM368.2 176.84h1.33v18.88h-1.33zM414.0 176.84h1.33v18.88h-1.33zM417.9 176.84h1.33v18.88h-1.33zM514.8 176.84h1.33v18.88h-1.33zM639.1 176.84h1.33v18.88h-1.33z"/>
<path fill="#ffd7d7" d="M398.3 26.00h1.33v18.88h-1.33zM399.6 26.00h1.33v18.88h-1.33zM404.8 26.00h1.33v18.88h-1.33zM412.7 26.00h1.33v18.88h-1.33zM415.3 26.00h1.33v18.88h-1.33zM429.7 26.00h1.33v18.88h-1.33zM431.0 26.00h1.33v18.88h-1.33zM472.9 26.00h1.33v18.88h-1.33zM479.4 26.00h1.33v18.88h-1.33zM486.0 26.00h1.33v18.88h-1.33zM488.6 26.00h1.33v18.88h-1.33zM500.4 26.00h1.33v18.88h-1.33zM504.3 26.00h1.33v18.88h-1.33zM523.9 26.00h1.33v18.88h-1.33zM526.6 26.00h1.33v18.88h-1.33zM527.9 26.00h1.33v18.88h-1.33zM537.0 26.00h1.33v18.88h-1.33zM538.3 26.00h1.33v18.88h-1.33zM544.9 26.00h1.33v18.88h-1.33zM552.7 26.00h1.33v18.88h-1.33zM559.3 26.00h1.33v18.88h-1.33zM561.9 26.00h1.33v18.88h-1.33zM577.6 26.00h1.33v18.88h-1.33zM578.9 26.00h1.33v18.88h-1.33zM581.5 26.00h1.33v18.88h-1.33zM601.2 26.00h1.33v18.88h-1.33zM603.8 26.00h1.33v18.88h-1.33zM611.6 26.00h1.33v18.88h-1.33zM618.2 26.00h1.33v18.88h-1.33zM622.1 26.00h1.33v18.88h-1.33zM631.3 26.00h1.33v18.88h-1.33zM633.9 26.00h1.33v18.88h-1.33zM645.7 26.00h1.33v18.88h-1.33zM650.9 26.00h1.33v18.88h-1.33zM393.0 44.86h1.33v18.88h-1.33zM398.3 44.86h1.33v18.88h-1.33zM399.6 44.86h1.33v18.88h-1.33zM428.4 44.86h1.33v18.88h-1.33zM438.9 44.86h1.33v18.88h-1.33zM449.3 44.86h1.33v18.88h-1.33zM462.4 44.86h1.33v18.88h-1.33zM470.3 44.86h1.33v18.88h-1.33zM503.0 44.86h1.33v18.88h-1.33zM504.3 44.86h1.33v18.88h-1.33zM518.7 44.86h1.33v18.88h-1.33zM523.9 44.86h1.33v18.88h-1.33zM525.3 44.86h1.33v18.88h-1.33zM526.6 44.86h1.33v18.88h-1.33zM527.9 44.86h1.33v18.88h-1.33zM529.2 44.86h1.33v18.88h-1.33zM541.0 44.86h1.33v18.88h-1.33zM546.2 44.86h1.33v18.88h-1.33zM554.0 44.86h1.33v18.88h-1.33zM559.3 44.86h1.33v18.88h-1.33zM564.5 44.86h1.33v18.88h-1.33zM568.4 44.86h1.33v18.88h-1.33zM576.3 44.86h1.33v18.88h-1.33zM610.3 44.86h1.33v18.88h-1.33zM615.6 44.86h1.33v18.88h-1.33zM626.0 44.86h1.33v18.88h-1.33zM631.3 44.86h1.33v18.88h-1.33zM645.7 44.86h1.33v18.88h-1.33zM377.3 63.71h1.33v18.88h-1.33zM380.0 63.71h1.33v18.88h-1.33zM381.3 63.71h1.33v18.88h-1.33zM397.0 63.71h1.33v18.88h-1.33zM423.2 63.71h1.33v18.88h-1.33zM431.0 63.71h1.33v18.88h-1.33zM449.3 63.71h1.33v18.88h-1.33zM469.0 63.71h1.33v18.88h-1.33zM497.8 63.71h1.33v18.88h-1.33zM504.3 63.71h1.33v18.88h-1.33zM505.6 63.71h1.33v18.88h-1.33zM506.9 63.71h1.33v18.88h-1.33zM537.0 63.71h1.33v18.88h-1.33zM542.3 63.71h1.33v18.88h-1.33zM380.0 82.57h1.33v18.88h-1.33zM383.9 82.57h1.33v18.88h-1.33zM385.2 82.57h1.33v18.88h-1.33zM391.7 82.57h1.33v18.88h-1.33zM416.6 82.57h1.33v18.88h-1.33zM359.0 101.42h1.33v18.88h-1.33zM370.8 101.42h1.33v18.88h-1.33zM377.3 101.42h1.33v18.88h-1.33zM381.3 101.42h1.33v18.88h-1.33zM383.9 101.42h1.33v18.88h-1.33zM386.5 101.42h1.33v18.88h-1.33zM391.7 101.42h1.33v18.88h-1.33zM512.2 101.42h1.33v18.88h-1.33zM595.9 101.42h1.33v18.88h-1.33zM613.0 101.42h1.33v18.88h-1.33zM620.8 101.42h1.33v18.88h-1.33zM345.9 120.28h1.33v18.88h-1.33zM349.9 120.28h1.33v18.88h-1.33zM351.2 120.28h1.33v18.88h-1.33zM352.5 120.28h1.33v18.88h-1.33zM356.4 120.28h1.33v18.88h-1.33zM378.7 120.28h1.33v18.88h-1.33zM394.4 120.28h1.33v18.88h-1.33zM342.0 139.13h1.33v18.88h-1.33zM353.8 139.13h1.33v18.88h-1.33zM355.1 139.13h1.33v18.88h-1.33zM356.4 139.13h1.33v18.88h-1.33zM475.5 139.13h1.33v18.88h-1.33zM478.1 139.13h1.33v18.88h-1.33zM492.5 139.13h1.33v18.88h-1.33zM512.2 139.13h1.33v18.88h-1.33zM575.0 139.13h1.33v18.88h-1.33zM577.6 139.13h1.33v18.88h-1.33zM615.6 139.13h1.33v18.88h-1.33zM620.8 139.13h1.33v18.88h-1.33zM622.1 139.13h1.33v18.88h-1.33zM661.4 139.13h1.33v18.88h-1.33zM662.7 139.13h1.33v18.88h-1.33zM353.8 157.99h1.33v18.88h-1.33zM380.0 157.99h1.33v18.88h-1.33zM402.2 157.99h1.33v18.88h-1.33zM403.5 157.99h1.33v18.88h-1.33zM404.8 157.99h1.33v18.88h-1.33zM408.8 157.99h1.33v18.88h-1.33zM410.1 157.99h1.33v18.88h-1.33zM427.1 157.99h1.33v18.88h-1.33zM454.6 157.99h1.33v18.88h-1.33zM541.0 157.99h1.33v18.88h-1.33zM544.9 157.99h1.33v18.88h-1.33zM558.0 157.99h1.33v18.88h-1.33zM585.5 157.99h1.33v18.88h-1.33zM603.8 157.99h1.33v18.88h-1.33zM609.0 157.99h1.33v18.88h-1.33zM623.4 157.99h1.33v18.88h-1.33zM657.5 157.99h1.33v18.88h-1.33zM658.8 157.99h1.33v18.88h-1.33zM342.0 176.84h1.33v18.88h-1.33zM344.6 176.84h1.33v18.88h-1.33zM360.3 176.84h1.33v18.88h-1.33zM361.6 176.84h1.33v18.88h-1.33zM492.5 176.84h1.33v18.88h-1.33zM496.5 176.84h1.33v18.88h-1.33zM506.9 176.84h1.33v18.88h-1.33zM521.3 176.84h1.33v18.88h-1.33zM527.9 176.84h1.33v18.88h-1.33zM529.2 176.84h1.33v18.88h-1.33zM627.3 176.84h1.33v18.88h-1.33zM631.3 176.84h1.33v18.88h-1.33z"/>
<path fill="#ff5e5e" d="M453.3 26.00h1.33v18.88h-1.33zM454.6 26.00h1.33v18.88h-1.33zM461.1 26.00h1.33v18.88h-1.33zM471.6 26.00h1.33v18.88h-1.33zM377.3 44.86h1.33v18.88h-1.33zM496.5 63.71h1.33v18.88h-1.33zM517.4 63.71h1.33v18.88h-1.33zM520.0 63.71h1.33v18.88h-1.33zM522.6 63.71h1.33v18.88h-1.33zM525.3 63.71h1.33v18.88h-1.33zM533.1 63.71h1.33v18.88h-1.33zM547.5 63.71h1.33v18.88h-1.33zM560.6 63.71h1.33v18.88h-1.33zM563.2 63.71h1.33v18.88h-1.33zM568.4 63.71h1.33v18.88h-1.33zM580.2 63.71h1.33v18.88h-1.33zM586.8 63.71h1.33v18.88h-1.33zM603.8 63.71h1.33v18.88h-1.33zM606.4 63.71h1.33v18.88h-1.33zM609.0 63.71h1.33v18.88h-1.33zM616.9 63.71h1.33v18.88h-1.33zM631.3 63.71h1.33v18.88h-1.33zM632.6 63.71h1.33v18.88h-1.33zM645.7 63.71h1.33v18.88h-1.33zM653.5 63.71h1.33v18.88h-1.33zM656.1 63.71h1.33v18.88h-1.33zM658.8 63.71h1.33v18.88h-1.33zM661.4 63.71h1.33v18.88h-1.33zM347.2 82.57h1.33v18.88h-1.33zM351.2 82.57h1.33v18.88h-1.33zM356.4 82.57h1.33v18.88h-1.33zM394.4 82.57h1.33v18.88h-1.33zM399.6 82.57h1.33v18.88h-1.33zM343.3 101.42h1.33v18.88h-1.33zM345.9 101.42h1.33v18.88h-1.33zM348.5 101.42h1.33v18.88h-1.33zM349.9 101.42h1.33v18.88h-1.33zM351.2 101.42h1.33v18.88h-1.33zM394.4 101.42h1.33v18.88h-1.33zM395.7 101.42h1.33v18.88h-1.33zM395.7 120.28h1.33v18.88h-1.33zM417.9 139.13h1.33v18.88h-1.33zM431.0 139.13h1.33v18.88h-1.33zM438.9 139.13h1.33v18.88h-1.33zM446.7 139.13h1.33v18.88h-1.33zM452.0 139.13h1.33v18.88h-1.33zM459.8 139.13h1.33v18.88h-1.33zM483.4 139.13h1.33v18.88h-1.33zM486.0 139.13h1.33v18.88h-1.33zM510.9 139.13h1.33v18.88h-1.33zM514.8 139.13h1.33v18.88h-1.33zM527.9 139.13h1.33v18.88h-1.33zM531.8 139.13h1.33v18.88h-1.33zM535.7 139.13h1.33v18.88h-1.33zM538.3 139.13h1.33v18.88h-1.33zM539.7 139.13h1.33v18.88h-1.33zM547.5 139.13h1.33v18.88h-1.33zM558.0 139.13h1.33v18.88h-1.33zM590.7 139.13h1.33v18.88h-1.33zM611.6 139.13h1.33v18.88h-1.33zM618.2 139.13h1.33v18.88h-1.33zM644.4 139.13h1.33v18.88h-1.33zM647.0 139.13h1.33v18.88h-1.33zM441.5 157.99h1.33v18.88h-1.33zM463.7 157.99h1.33v18.88h-1.33zM467.7 157.99h1.33v18.88h-1.33zM478.1 157.99h1.33v18.88h-1.33zM479.4 157.99h1.33v18.88h-1.33zM482.1 157.99h1.33v18.88h-1.33zM499.1 157.99h1.33v18.88h-1.33zM500.4 157.99h1.33v18.88h-1.33zM520.0 157.99h1.33v18.88h-1.33zM551.4 157.99h1.33v18.88h-1.33zM552.7 157.99h1.33v18.88h-1.33zM559.3 157.99h1.33v18.88h-1.33zM580.2 157.99h1.33v18.88h-1.33zM403.5 176.84h1.33v18.88h-1.33zM410.1 176.84h1.33v18.88h-1.33zM416.6 176.84h1.33v18.88h-1.33zM420.5 176.84h1.33v18.88h-1.33z"/>
<path fill="#ff2121" d="M457.2 26.00h1.33v18.88h-1.33zM472.9 63.71h1.33v18.88h-1.33zM599.9 63.71h1.33v18.88h-1.33zM398.3 82.57h1.33v18.88h-1.33zM385.2 120.28h1.33v18.88h-1.33zM390.4 120.28h1.33v18.88h-1.33zM391.7 120.28h1.33v18.88h-1.33zM433.6 139.13h1.33v18.88h-1.33zM434.9 139.13h1.33v18.88h-1.33zM436.2 139.13h1.33v18.88h-1.33zM437.6 139.13h1.33v18.88h-1.33zM548.8 139.13h1.33v18.88h-1.33zM550.1 139.13h1.33v18.88h-1.33zM417.9 157.99h1.33v18.88h-1.33zM483.4 157.99h1.33v18.88h-1.33z"/>
<path fill="#ff3535" d="M458.5 26.00h1.33v18.88h-1.33zM571.1 63.71h1.33v18.88h-1.33zM577.6 63.71h1.33v18.88h-1.33zM588.1 63.71h1.33v18.88h-1.33zM592.0 63.71h1.33v18.88h-1.33zM594.6 63.71h1.33v18.88h-1.33zM607.7 63.71h1.33v18.88h-1.33zM342.0 82.57h1.33v18.88h-1.33zM383.9 120.28h1.33v18.88h-1.33zM386.5 120.28h1.33v18.88h-1.33zM389.1 120.28h1.33v18.88h-1.33zM411.4 139.13h1.33v18.88h-1.33zM429.7 139.13h1.33v18.88h-1.33zM533.1 139.13h1.33v18.88h-1.33zM543.6 139.13h1.33v18.88h-1.33zM602.5 139.13h1.33v18.88h-1.33zM643.1 139.13h1.33v18.88h-1.33zM419.2 157.99h1.33v18.88h-1.33zM458.5 157.99h1.33v18.88h-1.33zM474.2 157.99h1.33v18.88h-1.33zM480.7 157.99h1.33v18.88h-1.33zM491.2 157.99h1.33v18.88h-1.33zM542.3 157.99h1.33v18.88h-1.33zM577.6 157.99h1.33v18.88h-1.33z"/>
<path fill="#ff7272" d="M459.8 26.00h1.33v18.88h-1.33zM467.7 26.00h1.33v18.88h-1.33zM469.0 26.00h1.33v18.88h-1.33zM582.8 26.00h1.33v18.88h-1.33zM656.1 26.00h1.33v18.88h-1.33zM440.2 44.86h1.33v18.88h-1.33zM560.6 44.86h1.33v18.88h-1.33zM480.7 63.71h1.33v18.88h-1.33zM484.7 63.71h1.33v18.88h-1.33zM513.5 63.71h1.33v18.88h-1.33zM523.9 63.71h1.33v18.88h-1.33zM527.9 63.71h1.33v18.88h-1.33zM531.8 63.71h1.33v18.88h-1.33zM541.0 63.71h1.33v18.88h-1.33zM544.9 63.71h1.33v18.88h-1.33zM548.8 63.71h1.33v18.88h-1.33zM550.1 63.71h1.33v18.88h-1.33zM561.9 63.71h1.33v18.88h-1.33zM564.5 63.71h1.33v18.88h-1.33zM567.1 63.71h1.33v18.88h-1.33zM573.7 63.71h1.33v18.88h-1.33zM582.8 63.71h1.33v18.88h-1.33zM590.7 63.71h1.33v18.88h-1.33zM593.3 63.71h1.33v18.88h-1.33zM595.9 63.71h1.33v18.88h-1.33zM624.7 63.71h1.33v18.88h-1.33zM626.0 63.71h1.33v18.88h-1.33zM637.8 63.71h1.33v18.88h-1.33zM343.3 82.57h1.33v18.88h-1.33zM345.9 82.57h1.33v18.88h-1.33zM349.9 82.57h1.33v18.88h-1.33zM357.7 82.57h1.33v18.88h-1.33zM362.9 82.57h1.33v18.88h-1.33zM365.6 82.57h1.33v18.88h-1.33zM366.9 82.57h1.33v18.88h-1.33zM370.8 82.57h1.33v18.88h-1.33zM342.0 101.42h1.33v18.88h-1.33zM344.6 101.42h1.33v18.88h-1.33zM347.2 101.42h1.33v18.88h-1.33zM400.9 101.42h1.33v18.88h-1.33zM353.8 120.28h1.33v18.88h-1.33zM393.0 120.28h1.33v18.88h-1.33zM402.2 139.13h1.33v18.88h-1.33zM404.8 139.13h1.33v18.88h-1.33zM406.1 139.13h1.33v18.88h-1.33zM408.8 139.13h1.33v18.88h-1.33zM410.1 139.13h1.33v18.88h-1.33zM415.3 139.13h1.33v18.88h-1.33zM419.2 139.13h1.33v18.88h-1.33zM423.2 139.13h1.33v18.88h-1.33zM445.4 139.13h1.33v18.88h-1.33zM448.0 139.13h1.33v18.88h-1.33zM450.6 139.13h1.33v18.88h-1.33zM461.1 139.13h1.33v18.88h-1.33zM467.7 139.13h1.33v18.88h-1.33zM482.1 139.13h1.33v18.88h-1.33zM487.3 139.13h1.33v18.88h-1.33zM501.7 139.13h1.33v18.88h-1.33zM513.5 139.13h1.33v18.88h-1.33zM516.1 139.13h1.33v18.88h-1.33zM530.5 139.13h1.33v18.88h-1.33zM537.0 139.13h1.33v18.88h-1.33zM551.4 139.13h1.33v18.88h-1.33zM561.9 139.13h1.33v18.88h-1.33zM569.8 139.13h1.33v18.88h-1.33zM588.1 139.13h1.33v18.88h-1.33zM593.3 139.13h1.33v18.88h-1.33zM595.9 139.13h1.33v18.88h-1.33zM597.2 139.13h1.33v18.88h-1.33zM601.2 139.13h1.33v18.88h-1.33zM605.1 139.13h1.33v18.88h-1.33zM606.4 139.13h1.33v18.88h-1.33zM619.5 139.13h1.33v18.88h-1.33zM630.0 139.13h1.33v18.88h-1.33zM635.2 139.13h1.33v18.88h-1.33zM636.5 139.13h1.33v18.88h-1.33zM648.3 139.13h1.33v18.88h-1.33zM652.2 139.13h1.33v18.88h-1.33zM428.4 157.99h1.33v18.88h-1.33zM445.4 157.99h1.33v18.88h-1.33zM462.4 157.99h1.33v18.88h-1.33zM472.9 157.99h1.33v18.88h-1.33zM487.3 157.99h1.33v18.88h-1.33zM489.9 157.99h1.33v18.88h-1.33zM503.0 157.99h1.33v18.88h-1.33zM504.3 157.99h1.33v18.88h-1.33zM508.2 157.99h1.33v18.88h-1.33zM509.5 157.99h1.33v18.88h-1.33zM514.8 157.99h1.33v18.88h-1.33zM517.4 157.99h1.33v18.88h-1.33zM546.2 157.99h1.33v18.88h-1.33zM555.4 157.99h1.33v18.88h-1.33zM565.8 157.99h1.33v18.88h-1.33zM571.1 157.99h1.33v18.88h-1.33zM576.3 157.99h1.33v18.88h-1.33zM578.9 157.99h1.33v18.88h-1.33zM581.5 157.99h1.33v18.88h-1.33zM628.7 157.99h1.33v18.88h-1.33zM631.3 157.99h1.33v18.88h-1.33zM636.5 157.99h1.33v18.88h-1.33zM640.4 157.99h1.33v18.88h-1.33zM643.1 157.99h1.33v18.88h-1.33zM650.9 157.99h1.33v18.88h-1.33zM404.8 176.84h1.33v18.88h-1.33z"/>
<path fill="#ff4949" d="M555.4 26.00h1.33v18.88h-1.33zM585.5 26.00h1.33v18.88h-1.33zM654.8 26.00h1.33v18.88h-1.33zM478.1 63.71h1.33v18.88h-1.33zM479.4 63.71h1.33v18.88h-1.33zM495.1 63.71h1.33v18.88h-1.33zM516.1 63.71h1.33v18.88h-1.33zM518.7 63.71h1.33v18.88h-1.33zM539.7 63.71h1.33v18.88h-1.33zM546.2 63.71h1.33v18.88h-1.33zM597.2 63.71h1.33v18.88h-1.33zM598.6 63.71h1.33v18.88h-1.33zM601.2 63.71h1.33v18.88h-1.33zM611.6 63.71h1.33v18.88h-1.33zM630.0 63.71h1.33v18.88h-1.33zM633.9 63.71h1.33v18.88h-1.33zM639.1 63.71h1.33v18.88h-1.33zM359.0 82.57h1.33v18.88h-1.33zM393.0 82.57h1.33v18.88h-1.33zM399.6 101.42h1.33v18.88h-1.33zM382.6 120.28h1.33v18.88h-1.33zM387.8 120.28h1.33v18.88h-1.33zM432.3 139.13h1.33v18.88h-1.33zM441.5 139.13h1.33v18.88h-1.33zM442.8 139.13h1.33v18.88h-1.33zM444.1 139.13h1.33v18.88h-1.33zM455.9 139.13h1.33v18.88h-1.33zM457.2 139.13h1.33v18.88h-1.33zM462.4 139.13h1.33v18.88h-1.33zM526.6 139.13h1.33v18.88h-1.33zM534.4 139.13h1.33v18.88h-1.33zM582.8 139.13h1.33v18.88h-1.33zM584.2 139.13h1.33v18.88h-1.33zM598.6 139.13h1.33v18.88h-1.33zM610.3 139.13h1.33v18.88h-1.33zM632.6 139.13h1.33v18.88h-1.33zM639.1 139.13h1.33v18.88h-1.33zM412.7 157.99h1.33v18.88h-1.33zM420.5 157.99h1.33v18.88h-1.33zM421.8 157.99h1.33v18.88h-1.33zM444.1 157.99h1.33v18.88h-1.33zM446.7 157.99h1.33v18.88h-1.33zM452.0 157.99h1.33v18.88h-1.33zM469.0 157.99h1.33v18.88h-1.33zM486.0 157.99h1.33v18.88h-1.33zM492.5 157.99h1.33v18.88h-1.33zM495.1 157.99h1.33v18.88h-1.33zM496.5 157.99h1.33v18.88h-1.33zM497.8 157.99h1.33v18.88h-1.33zM510.9 157.99h1.33v18.88h-1.33zM630.0 157.99h1.33v18.88h-1.33z"/>
<path fill="#ff0d0d" d="M361.6 82.57h1.33v18.88h-1.33zM424.5 139.13h1.33v18.88h-1.33zM425.8 139.13h1.33v18.88h-1.33zM440.2 139.13h1.33v18.88h-1.33z"/>
<path fill="#0d0dff" d="M423.2 82.57h1.33v18.88h-1.33zM427.1 82.57h1.33v18.88h-1.33zM436.2 82.57h1.33v18.88h-1.33zM437.6 82.57h1.33v18.88h-1.33zM488.6 82.57h1.33v18.88h-1.33zM492.5 82.57h1.33v18.88h-1.33zM499.1 82.57h1.33v18.88h-1.33zM509.5 82.57h1.33v18.88h-1.33zM555.4 82.57h1.33v18.88h-1.33zM597.2 82.57h1.33v18.88h-1.33zM606.4 82.57h1.33v18.88h-1.33zM609.0 82.57h1.33v18.88h-1.33zM619.5 82.57h1.33v18.88h-1.33zM622.1 82.57h1.33v18.88h-1.33zM626.0 82.57h1.33v18.88h-1.33zM628.7 82.57h1.33v18.88h-1.33z"/>
</g>
<rect x="330.00" y="26.70" width="4.80" height="52.60" fill="#c9c9f9" />
<rect x="330.00" y="85.20" width="4.80" height="52.90" fill="#f1929a" />
<rect x="330.00" y="143.00" width="4.80" height="52.60" fill="#a2f0a2" />
<text x="310.00" y="55.70" font-size="9.6" text-anchor="middle" fill="#000" >Saline</text>
<text x="310.00" y="116.90" font-size="9.6" text-anchor="middle" fill="#000" >RT</text>
<text x="309.50" y="166.60" font-size="9.6" text-anchor="middle" fill="#000" >RT+</text>
<text x="310.20" y="175.80" font-size="9.6" text-anchor="middle" fill="#000" >PG-NS<tspan font-size="0.62em">A</tspan></text>
<defs><linearGradient id="gb" x1="0" y1="0" x2="0" y2="1"><stop offset="0" stop-color="#ff0d0d"/><stop offset="0.5" stop-color="#ffffff"/><stop offset="1" stop-color="#0d0dff"/></linearGradient></defs>
<rect x="666.20" y="26.30" width="4.80" height="71.70" fill="url(#gb)" />
<text x="673.00" y="33.80" font-size="6.8" text-anchor="start" fill="#000" >2</text>
<text x="673.00" y="49.40" font-size="6.8" text-anchor="start" fill="#000" >1</text>
<text x="673.00" y="65.30" font-size="6.8" text-anchor="start" fill="#000" >0</text>
<text x="673.00" y="80.80" font-size="6.8" text-anchor="start" fill="#000" >-1</text>
<text x="673.00" y="95.80" font-size="6.8" text-anchor="start" fill="#000" >-2</text>
<path d="M344.8 25.6V25.5H346.2V25.6M345.5 25.5V25.4H347.4V25.6M342.9 25.6V25.2H346.5V25.4M349.1 25.6V24.9H351.1V25.6M344.7 25.2V24.7H350.1V24.9M353.6 25.6V25.1H354.8V25.6M352.7 25.6V24.8H354.2V25.1M356.4 25.6V25.0H357.9V25.6M353.4 24.8V24.1H357.1V25.0M347.4 24.7V23.4H355.3V24.1M360.5 25.6V24.9H362.1V25.6M359.2 25.6V24.1H361.3V24.9M363.6 25.6V24.9H364.9V25.6M364.3 24.9V24.1H366.3V25.6M360.2 24.1V23.4H365.3V24.1M367.4 25.6V24.9H368.7V25.6M370.2 25.6V25.1H371.5V25.6M368.0 24.9V24.3H370.8V25.1M362.7 23.4V22.5H369.4V24.3M351.3 23.4V21.1H366.1V22.5M372.4 25.6V24.4H373.8V25.6M375.5 25.6V24.8H376.8V25.6M376.1 24.8V24.5H378.4V25.6M373.1 24.4V23.9H377.3V24.5M382.2 25.6V25.1H383.3V25.6M380.6 25.6V24.8H382.8V25.1M388.0 25.6V25.4H389.3V25.6M386.4 25.6V25.2H388.6V25.4M384.8 25.6V24.7H387.5V25.2M381.7 24.8V23.9H386.2V24.7M375.2 23.9V22.8H383.9V23.9M390.3 25.6V23.7H391.6V25.6M393.3 25.6V23.8H394.5V25.6M390.9 23.7V23.1H393.9V23.8M395.8 25.6V22.8H397.4V25.6M392.4 23.1V21.5H396.6V22.8M379.6 22.8V19.3H394.5V21.5M358.7 21.1V17.2H387.0V19.3M400.0 25.6V25.4H401.3V25.6M398.6 25.6V25.3H400.7V25.4M403.3 25.6V25.5H404.5V25.6M402.3 25.6V25.3H403.9V25.5M399.7 25.3V24.9H403.1V25.3M405.9 25.6V25.5H407.1V25.6M408.2 25.6V25.4H409.7V25.6M406.5 25.5V25.3H408.9V25.4M412.7 25.6V25.3H414.2V25.6M411.2 25.6V25.1H413.5V25.3M407.7 25.3V24.9H412.3V25.1M401.4 24.9V24.5H410.0V24.9M415.8 25.6V24.8H417.3V25.6M418.4 25.6V25.2H419.6V25.6M420.9 25.6V25.3H422.3V25.6M419.0 25.2V25.0H421.6V25.3M416.6 24.8V24.6H420.3V25.0M405.7 24.5V23.0H418.4V24.6M423.8 25.6V25.1H425.1V25.6M426.1 25.6V25.3H427.5V25.6M426.8 25.3V25.1H429.1V25.6M424.5 25.1V24.7H428.0V25.1M432.9 25.6V25.2H434.1V25.6M431.1 25.6V24.7H433.5V25.2M435.1 25.6V25.0H436.4V25.6M432.3 24.7V24.2H435.8V25.0M426.2 24.7V23.6H434.0V24.2M439.2 25.6V25.0H440.4V25.6M437.9 25.6V24.7H439.8V25.0M442.2 25.6V24.6H443.7V25.6M438.9 24.7V24.0H442.9V24.6M430.1 23.6V22.9H440.9V24.0M444.9 25.6V25.3H446.0V25.6M447.5 25.6V25.2H449.2V25.6M445.4 25.3V25.0H448.3V25.2M450.6 25.6V25.5H451.9V25.6M451.2 25.5V25.4H453.3V25.6M454.9 25.6V25.3H456.5V25.6M452.2 25.4V25.2H455.7V25.3M446.9 25.0V24.7H454.0V25.2M457.8 25.6V25.4H459.0V25.6M458.4 25.4V25.4H460.5V25.6M459.4 25.4V25.1H462.5V25.6M464.3 25.6V25.3H465.6V25.6M464.9 25.3V25.1H467.0V25.6M460.9 25.1V24.9H466.0V25.1M450.4 24.7V24.1H463.5V24.9M435.5 22.9V21.9H456.9V24.1M469.0 25.6V25.5H470.5V25.6M469.8 25.5V25.3H471.8V25.6M473.2 25.6V25.5H474.7V25.6M476.6 25.6V25.5H478.0V25.6M473.9 25.5V25.4H477.3V25.5M470.8 25.3V25.0H475.6V25.4M479.3 25.6V25.4H480.5V25.6M479.9 25.4V25.2H481.8V25.6M483.5 25.6V25.2H485.0V25.6M480.8 25.2V24.9H484.3V25.2M473.2 25.0V24.4H482.5V24.9M488.3 25.6V25.5H489.4V25.6M490.8 25.6V25.5H492.0V25.6M488.8 25.5V25.4H491.4V25.5M486.7 25.6V25.3H490.1V25.4M493.0 25.6V25.3H494.3V25.6M495.9 25.6V25.3H497.3V25.6M493.7 25.3V25.1H496.6V25.3M488.4 25.3V24.9H495.1V25.1M499.0 25.6V24.9H500.9V25.6M502.6 25.6V25.3H504.3V25.6M505.8 25.6V25.3H507.2V25.6M503.5 25.3V25.0H506.5V25.3M500.0 24.9V24.6H505.0V25.0M491.8 24.9V24.2H502.5V24.6M477.9 24.4V23.3H497.1V24.2M511.0 25.6V25.0H512.2V25.6M509.3 25.6V24.8H511.6V25.0M513.5 25.6V25.3H514.7V25.6M514.1 25.3V24.8H516.2V25.6M517.8 25.6V25.2H519.1V25.6M518.4 25.2V24.8H520.5V25.6M515.1 24.8V24.3H519.5V24.8M510.4 24.8V23.8H517.3V24.3M521.7 25.6V25.4H523.0V25.6M522.3 25.4V25.3H524.4V25.6M525.9 25.6V25.3H527.5V25.6M523.4 25.3V25.1H526.7V25.3M529.1 25.6V24.8H530.7V25.6M525.0 25.1V24.4H529.9V24.8M533.7 25.6V25.2H534.9V25.6M532.1 25.6V25.1H534.3V25.2M536.1 25.6V25.4H537.8V25.6M536.9 25.4V25.0H539.3V25.6M533.2 25.1V24.7H538.1V25.0M527.4 24.4V23.5H535.7V24.7M513.9 23.8V22.6H531.6V23.5M487.5 23.3V20.7H522.7V22.6M540.7 25.6V25.4H542.0V25.6M543.1 25.6V25.4H544.5V25.6M541.4 25.4V25.3H543.8V25.4M546.1 25.6V25.4H547.8V25.6M547.0 25.4V25.4H549.6V25.6M542.6 25.3V25.1H548.3V25.4M552.5 25.6V25.5H553.7V25.6M551.3 25.6V25.4H553.1V25.5M555.2 25.6V25.5H556.6V25.6M557.8 25.6V25.5H559.2V25.6M555.9 25.5V25.4H558.5V25.5M552.2 25.4V25.2H557.2V25.4M562.7 25.6V25.4H564.0V25.6M561.2 25.6V25.2H563.4V25.4M554.7 25.2V24.8H562.3V25.2M545.4 25.1V24.4H558.5V24.8M565.4 25.6V25.3H566.9V25.6M568.7 25.6V25.4H570.0V25.6M566.2 25.3V25.2H569.4V25.4M571.1 25.6V25.5H572.2V25.6M571.6 25.5V25.4H573.5V25.6M575.1 25.6V25.4H576.8V25.6M572.5 25.4V25.3H576.0V25.4M567.8 25.2V24.9H574.3V25.3M579.7 25.6V25.5H580.9V25.6M578.3 25.6V25.4H580.3V25.5M581.9 25.6V25.4H583.3V25.6M582.6 25.4V25.3H584.9V25.6M579.3 25.4V25.2H583.8V25.3M586.1 25.6V25.4H587.4V25.6M586.8 25.4V25.1H589.0V25.6M581.5 25.2V24.9H587.9V25.1M571.0 24.9V24.4H584.7V24.9M552.0 24.4V23.7H577.9V24.4M590.7 25.6V25.3H592.1V25.6M593.6 25.6V25.4H595.3V25.6M596.9 25.6V25.5H598.2V25.6M594.5 25.4V25.4H597.5V25.5M591.4 25.3V25.1H596.0V25.4M599.1 25.6V25.3H600.3V25.6M603.1 25.6V25.5H604.2V25.6M601.7 25.6V25.5H603.6V25.5M602.6 25.5V25.3H605.4V25.6M599.7 25.3V25.0H604.0V25.3M593.7 25.1V24.5H601.9V25.0M608.3 25.6V25.3H609.8V25.6M606.9 25.6V25.2H609.0V25.3M611.3 25.6V25.3H612.5V25.6M615.5 25.6V25.5H617.1V25.6M613.9 25.6V25.4H616.3V25.5M611.9 25.3V25.1H615.1V25.4M608.0 25.2V24.9H613.5V25.1M618.7 25.6V25.4H619.8V25.6M621.0 25.6V25.4H622.3V25.6M619.2 25.4V25.3H621.7V25.4M623.9 25.6V25.4H625.5V25.6M624.7 25.4V25.3H627.1V25.6M620.5 25.3V25.0H625.9V25.3M610.7 24.9V24.5H623.2V25.0M597.8 24.5V24.0H617.0V24.5M628.8 25.6V25.1H630.7V25.6M632.6 25.6V25.4H633.9V25.6M634.9 25.6V25.4H636.2V25.6M635.6 25.4V25.4H638.0V25.6M633.2 25.4V25.3H636.8V25.4M629.8 25.1V24.9H635.0V25.3M639.7 25.6V25.3H641.1V25.6M642.7 25.6V25.3H644.0V25.6M643.3 25.3V25.2H645.4V25.6M640.4 25.3V25.0H644.4V25.2M632.4 24.9V24.4H642.4V25.0M648.1 25.6V25.4H649.3V25.6M646.9 25.6V25.2H648.7V25.4M650.2 25.6V25.3H651.5V25.6M647.8 25.2V25.1H650.9V25.3M655.0 25.6V25.3H656.4V25.6M653.4 25.6V25.1H655.7V25.3M660.4 25.6V25.4H662.3V25.6M658.2 25.6V25.2H661.4V25.4M654.6 25.1V24.9H659.8V25.2M649.3 25.1V24.3H657.2V24.9M637.4 24.4V23.8H653.3V24.3M607.4 24.0V22.9H645.3V23.8M564.9 23.7V20.9H626.3V22.9M505.1 20.7V19.9H595.6V20.9M446.2 21.9V18.8H536.0V19.9M412.1 23.0V17.2H490.8V18.8M370.3 17.2V1.2H450.4V17.2" fill="none" stroke="#1a1a1a" stroke-width="0.55"/>
<rect x="25.30" y="219.50" width="184.20" height="185.00" fill="#fff" />
<line x1="61.30" y1="219.50" x2="61.30" y2="404.50" stroke="#f3f3f3" stroke-width="0.6" />
<line x1="103.30" y1="219.50" x2="103.30" y2="404.50" stroke="#f3f3f3" stroke-width="0.6" />
<line x1="145.30" y1="219.50" x2="145.30" y2="404.50" stroke="#f3f3f3" stroke-width="0.6" />
<line x1="187.30" y1="219.50" x2="187.30" y2="404.50" stroke="#f3f3f3" stroke-width="0.6" />
<line x1="25.30" y1="364.30" x2="209.50" y2="364.30" stroke="#f3f3f3" stroke-width="0.6" />
<line x1="25.30" y1="300.10" x2="209.50" y2="300.10" stroke="#f3f3f3" stroke-width="0.6" />
<line x1="25.30" y1="235.90" x2="209.50" y2="235.90" stroke="#f3f3f3" stroke-width="0.6" />
<line x1="40.30" y1="219.50" x2="40.30" y2="404.50" stroke="#e8e8e8" stroke-width="0.9" />
<line x1="82.30" y1="219.50" x2="82.30" y2="404.50" stroke="#e8e8e8" stroke-width="0.9" />
<line x1="124.30" y1="219.50" x2="124.30" y2="404.50" stroke="#e8e8e8" stroke-width="0.9" />
<line x1="166.30" y1="219.50" x2="166.30" y2="404.50" stroke="#e8e8e8" stroke-width="0.9" />
<line x1="208.30" y1="219.50" x2="208.30" y2="404.50" stroke="#e8e8e8" stroke-width="0.9" />
<line x1="25.30" y1="396.40" x2="209.50" y2="396.40" stroke="#e8e8e8" stroke-width="0.9" />
<line x1="25.30" y1="332.20" x2="209.50" y2="332.20" stroke="#e8e8e8" stroke-width="0.9" />
<line x1="25.30" y1="268.00" x2="209.50" y2="268.00" stroke="#e8e8e8" stroke-width="0.9" />
<path d="M80.0 382.2h0M112.1 339.9h0M111.2 330.8h0M73.2 384.1h0M69.9 392.5h0M106.3 364.0h0M163.5 389.9h0M139.8 380.0h0M120.5 377.5h0M158.5 389.5h0M106.1 351.3h0M135.7 397.5h0M111.1 359.4h0M117.1 378.9h0M117.8 369.3h0M94.7 392.5h0M142.2 350.5h0M131.9 373.4h0M155.8 394.8h0M101.2 397.2h0M141.9 358.7h0M155.8 396.7h0M138.8 358.4h0M84.0 394.9h0M114.3 377.4h0M149.0 382.4h0M103.3 366.2h0M115.3 343.0h0M132.1 394.5h0M127.5 386.7h0M101.0 394.9h0M71.6 387.9h0M115.8 346.6h0M110.8 338.7h0M134.9 388.4h0M141.9 382.1h0M111.8 363.7h0M137.5 395.5h0M114.4 364.6h0M91.3 397.5h0M140.4 356.1h0M113.4 351.6h0M106.6 340.0h0M126.1 395.2h0M110.6 376.5h0M154.8 381.2h0M130.2 387.3h0M133.6 373.9h0M83.2 391.7h0M147.6 395.2h0M89.6 393.7h0M138.4 357.1h0M68.0 394.7h0M84.2 386.2h0M104.5 368.9h0M76.9 395.0h0M106.4 390.0h0M143.9 384.5h0M145.1 386.1h0M158.7 389.2h0M64.9 390.4h0M138.9 379.7h0M144.8 347.7h0M131.6 371.6h0M136.8 361.9h0M74.0 386.7h0M145.5 390.9h0M142.3 390.6h0M115.2 391.0h0M160.5 393.2h0M142.1 378.2h0M141.6 379.1h0M103.7 350.7h0M110.3 342.2h0M115.7 356.9h0M121.1 383.0h0M137.8 377.5h0M120.0 397.8h0M137.5 383.7h0M109.6 326.2h0M97.1 384.8h0M111.5 357.1h0M142.8 382.3h0M150.1 389.7h0M111.2 376.2h0M69.7 388.9h0M136.4 367.2h0M105.3 360.0h0M139.8 370.3h0M106.7 361.0h0M80.8 382.0h0M106.5 338.8h0M74.3 382.7h0M120.0 384.2h0M113.8 372.4h0M91.3 391.4h0M95.7 381.6h0M155.0 380.6h0M163.1 381.0h0M135.9 362.3h0M99.2 382.9h0M144.0 379.3h0M105.1 339.6h0M97.5 387.8h0M103.2 374.5h0M76.7 391.4h0M103.2 337.2h0M137.7 362.2h0M122.0 385.2h0M92.5 389.7h0M131.4 380.7h0M131.0 395.3h0M98.2 396.2h0M85.6 382.4h0M143.7 388.3h0M155.2 384.6h0M103.8 372.5h0M106.4 380.0h0M133.9 385.5h0M133.9 386.3h0M86.9 381.5h0M150.3 386.4h0M100.0 382.2h0M104.1 388.5h0M163.1 391.8h0M107.2 374.7h0M124.4 396.6h0M153.7 391.3h0M110.0 391.1h0M63.0 394.3h0M104.9 379.0h0M63.6 391.3h0M108.5 380.6h0M115.3 379.2h0M126.2 392.5h0M139.3 354.2h0M84.5 387.8h0M115.7 374.9h0M112.7 364.1h0M163.7 381.4h0M130.4 397.4h0M121.1 389.9h0M103.5 326.3h0M131.4 394.7h0M93.1 382.5h0M136.0 373.2h0M65.4 394.7h0M100.8 395.2h0M117.0 382.5h0M109.0 328.4h0M139.4 396.1h0M114.2 341.0h0M146.6 379.9h0M154.1 382.9h0M108.4 342.7h0M144.3 354.4h0M142.7 392.2h0M142.3 350.9h0M94.0 393.9h0M96.2 381.9h0M105.5 395.1h0M129.7 391.0h0M143.7 395.9h0M84.8 381.5h0M110.5 390.7h0M145.2 352.3h0M163.5 395.2h0M110.7 353.6h0M137.6 365.1h0M85.9 397.1h0M109.8 351.1h0M109.0 371.7h0M70.2 395.6h0M117.2 366.8h0M134.8 391.2h0M114.0 382.1h0M133.0 381.4h0M144.1 348.4h0M108.7 381.6h0M109.0 371.2h0M127.1 394.1h0M109.3 341.7h0M80.8 392.1h0M160.5 386.9h0M90.8 387.7h0M102.5 394.6h0M79.0 384.3h0M76.4 386.4h0M114.7 370.3h0M114.3 385.2h0M113.6 355.1h0M161.0 396.4h0M103.3 342.2h0M108.2 373.2h0M104.5 374.8h0M109.8 383.7h0M112.8 396.1h0M110.4 368.3h0M154.2 383.4h0M141.1 387.3h0M117.1 397.6h0M108.5 396.5h0M119.4 384.2h0M113.8 382.1h0M144.4 367.6h0M133.2 392.3h0M64.7 389.7h0M110.4 368.5h0M142.6 386.5h0M142.7 345.6h0M165.8 381.8h0M104.2 396.4h0M70.3 390.3h0M145.2 348.6h0M135.1 362.4h0M66.0 387.3h0M140.5 388.6h0M117.2 354.9h0M129.2 383.6h0M70.4 391.5h0M104.2 343.7h0M109.2 346.7h0M109.7 326.8h0M141.1 354.7h0M115.8 371.7h0M153.1 382.4h0M158.3 394.5h0M130.6 375.4h0M114.8 368.5h0M79.9 381.8h0M160.9 394.1h0M157.8 396.4h0M113.9 357.6h0M156.3 384.0h0M71.5 395.2h0M118.7 387.2h0M110.3 324.3h0M117.9 386.7h0M101.6 384.8h0M105.6 349.3h0M111.6 394.9h0M121.6 380.3h0M57.0 388.0h0M116.2 396.5h0M130.0 376.8h0M140.3 391.8h0M107.9 343.6h0M164.9 383.4h0M112.9 354.1h0M116.6 356.5h0M116.2 396.9h0M139.6 381.3h0M113.9 344.6h0M81.5 391.9h0M87.3 390.3h0M80.0 387.1h0M151.2 395.0h0M121.4 392.3h0M94.1 383.8h0M117.4 387.9h0M157.9 392.1h0M124.7 392.4h0M107.1 381.9h0M152.7 389.0h0M106.8 397.7h0M132.8 390.4h0M101.2 393.0h0M106.2 325.4h0M108.7 384.4h0M144.1 364.9h0M166.4 384.2h0M105.4 377.2h0M108.0 336.1h0M130.9 394.3h0M164.9 395.4h0M117.6 393.8h0M86.1 384.4h0M162.6 393.6h0M162.0 395.4h0M155.6 381.8h0M113.2 386.8h0M135.7 397.7h0M143.5 355.8h0M144.2 356.0h0M101.1 385.9h0M95.4 394.5h0M142.5 391.3h0M106.1 331.9h0M115.8 384.2h0M109.4 397.2h0M130.4 391.8h0M119.4 369.5h0M99.2 388.6h0M100.0 388.8h0M137.3 374.3h0M120.0 393.7h0M113.7 346.6h0M105.2 364.7h0M133.5 370.1h0M78.7 387.3h0M107.2 386.7h0M148.2 391.6h0M139.8 393.6h0M145.2 358.0h0M61.5 392.3h0M145.6 390.9h0M142.2 356.5h0M113.6 334.3h0M106.7 385.6h0M105.7 375.5h0M135.5 383.1h0M144.4 360.0h0M138.0 397.7h0M133.2 382.8h0M115.7 370.2h0M166.5 395.0h0M109.1 385.0h0M117.7 397.2h0M126.7 397.1h0M139.6 394.7h0M116.2 378.4h0M119.6 388.0h0M145.4 385.7h0M112.4 356.5h0M114.3 371.3h0M135.2 367.0h0M60.9 389.8h0M115.9 371.1h0M115.5 367.4h0M109.0 390.2h0M104.4 325.9h0M106.0 336.2h0M104.1 366.3h0M84.9 387.0h0M144.1 355.8h0M141.6 385.5h0M127.5 395.5h0M142.5 384.9h0M154.2 397.7h0M123.5 395.9h0M105.9 331.0h0M108.8 329.0h0M107.4 379.4h0M63.8 386.9h0M158.4 397.5h0M107.7 330.5h0M109.7 384.0h0M84.9 384.1h0M84.3 384.0h0M102.4 390.8h0M98.7 385.4h0M139.5 350.5h0M142.5 367.6h0M113.6 354.8h0M109.2 380.7h0M153.3 393.2h0M107.5 324.4h0M132.0 392.1h0M70.4 387.0h0M146.7 380.6h0M146.5 386.1h0M137.3 355.4h0M129.0 395.2h0M139.3 362.9h0M106.7 383.1h0M106.6 342.9h0M105.1 382.7h0M140.7 392.7h0M142.4 374.6h0M109.8 345.3h0M110.8 369.3h0M114.2 372.3h0M104.1 391.3h0M141.2 360.4h0M119.3 383.2h0M111.4 360.5h0M158.0 387.8h0M115.9 375.2h0M119.3 377.8h0M132.2 391.2h0M95.1 382.9h0M117.7 372.5h0M106.2 325.7h0M143.3 376.2h0M145.5 381.0h0M136.2 390.1h0M129.9 394.8h0M112.1 341.5h0M111.5 392.7h0M143.9 391.6h0M156.4 383.0h0M119.3 368.6h0M110.9 361.6h0M128.7 393.2h0M159.8 385.9h0M106.7 377.6h0M88.2 392.3h0M141.0 391.3h0M116.1 360.9h0M142.7 374.1h0M102.1 388.3h0M98.7 385.5h0M112.4 347.9h0M108.6 380.9h0M104.6 362.3h0M134.8 375.0h0M110.6 325.8h0M136.3 379.8h0M130.8 383.3h0M108.6 391.9h0M154.6 392.6h0M114.3 367.7h0M106.9 338.5h0M142.8 347.3h0M85.8 387.1h0M130.7 385.3h0M143.4 355.2h0M153.1 392.8h0M65.8 385.0h0M104.5 363.6h0M108.5 356.9h0M165.3 386.7h0M113.4 372.3h0M114.6 365.2h0M104.4 382.8h0M80.5 388.1h0M129.2 390.9h0M117.4 356.9h0M138.1 378.6h0M136.0 395.6h0M117.3 368.4h0M96.4 389.9h0M105.4 373.5h0M142.1 351.4h0M142.8 396.6h0M109.7 329.7h0M97.3 388.6h0M166.3 392.0h0M91.7 386.8h0M121.3 378.8h0M112.5 348.5h0M142.8 346.0h0M96.6 384.3h0M142.6 357.2h0M142.5 397.8h0M115.3 359.9h0M140.2 357.4h0M107.9 364.6h0M122.4 389.9h0M134.8 383.2h0M106.3 385.9h0M104.1 354.3h0M109.3 380.4h0M103.3 395.0h0M91.4 397.3h0M100.6 386.9h0M118.0 387.2h0M145.3 382.0h0M136.6 357.2h0M145.8 390.7h0M144.5 392.9h0M132.8 391.4h0M104.5 336.9h0M70.3 393.1h0M67.6 392.6h0M86.0 381.7h0M161.9 389.0h0M135.2 397.4h0M79.7 382.0h0M109.5 347.4h0M98.5 385.5h0M156.7 391.6h0M97.0 395.7h0M108.8 324.4h0M136.7 364.2h0M112.4 332.0h0M107.7 328.6h0M113.8 344.5h0M118.0 390.7h0M162.9 380.5h0M109.5 385.5h0M145.2 356.1h0M136.3 395.7h0M149.3 392.4h0M136.9 372.4h0M78.8 396.6h0M107.6 396.5h0M111.5 376.7h0M71.2 383.5h0M105.1 338.7h0M103.3 372.1h0M154.5 379.9h0M157.8 379.8h0M143.7 366.5h0M97.3 382.6h0M157.9 385.2h0M140.2 355.5h0M117.4 382.8h0M103.7 353.8h0M146.3 386.2h0M143.7 392.3h0M117.6 360.0h0M121.3 389.1h0M75.8 395.9h0M115.3 388.4h0M144.5 351.7h0M114.0 343.7h0M97.9 391.9h0M108.4 362.4h0M109.7 366.0h0M142.6 347.7h0M135.1 397.5h0M112.1 361.5h0M113.3 379.0h0M117.6 363.9h0M62.3 393.3h0M83.1 390.9h0M95.7 396.7h0M104.8 391.8h0M80.3 389.4h0M74.1 383.4h0M132.3 374.8h0M104.0 369.0h0M114.1 374.7h0M142.9 353.2h0M127.7 393.5h0M131.6 381.9h0M155.1 389.2h0M108.7 377.5h0M146.0 384.3h0M85.8 387.6h0M144.2 395.0h0M110.1 331.4h0M136.0 380.9h0M81.0 386.3h0M144.9 361.0h0M117.7 397.0h0M79.3 388.0h0M106.3 325.7h0M144.9 385.1h0M85.9 394.5h0M75.1 393.1h0M109.6 325.7h0M143.5 365.1h0M65.6 388.8h0M141.9 382.1h0M132.0 370.6h0M110.2 379.7h0M58.5 390.8h0M137.0 359.5h0M119.7 395.7h0M139.1 351.0h0M137.6 390.0h0M106.5 330.7h0M111.2 373.3h0M114.1 379.5h0M151.1 381.4h0M103.3 370.5h0M141.5 385.6h0M106.9 382.2h0M106.1 386.3h0M105.5 386.7h0M70.4 394.1h0M104.1 339.5h0M120.8 384.0h0M105.2 360.0h0M157.5 395.2h0M155.2 382.3h0M162.8 388.3h0M116.0 391.7h0M103.4 332.5h0M143.4 358.5h0M115.8 396.9h0M111.5 356.6h0M141.2 380.2h0M107.3 391.5h0M109.8 350.8h0M113.5 362.3h0M143.2 384.7h0M157.7 397.6h0M115.3 342.8h0M115.2 371.3h0M137.3 361.3h0M60.0 392.1h0M139.4 362.6h0M71.5 387.9h0M129.9 383.6h0M117.8 360.6h0M88.9 396.7h0M140.0 392.4h0M80.6 393.6h0M159.9 395.8h0M142.4 388.0h0M134.9 377.0h0M60.2 392.2h0M131.1 393.5h0M128.6 396.9h0M111.4 328.0h0M158.0 389.0h0M114.6 382.1h0M110.7 345.9h0M105.9 360.8h0M104.8 329.3h0M87.2 382.9h0M65.2 391.1h0M100.3 395.2h0M164.5 383.7h0M165.4 384.3h0M81.1 395.8h0M132.8 367.5h0M132.2 377.4h0M141.3 389.5h0M107.7 329.7h0M143.2 393.6h0M83.3 386.8h0M97.6 394.1h0M142.8 396.2h0M119.3 383.1h0M105.3 388.8h0M111.5 370.9h0M155.9 390.1h0M130.5 390.9h0M82.6 394.4h0M137.2 375.8h0M118.0 391.4h0M130.3 391.5h0M107.1 322.8h0M114.8 354.6h0M92.1 391.2h0M113.1 352.1h0M143.0 350.9h0M104.3 324.5h0M109.8 357.9h0M79.7 383.1h0M72.2 385.1h0M130.4 389.6h0M130.3 376.5h0M107.5 362.1h0M138.3 385.1h0M59.1 393.4h0M140.6 353.2h0M109.3 372.9h0M109.9 392.2h0M144.5 375.6h0M163.1 393.6h0M140.5 357.5h0M110.9 386.1h0M93.3 389.9h0M143.4 375.4h0M65.0 390.7h0M112.6 385.6h0M85.1 386.6h0M132.6 380.0h0M138.9 394.3h0M121.0 396.0h0M116.9 391.2h0M101.0 388.3h0M103.5 394.5h0M112.9 377.7h0M57.9 390.5h0M73.4 385.2h0M101.5 395.1h0M81.6 389.1h0M117.4 382.3h0M67.0 385.9h0M156.1 385.3h0M109.6 358.9h0M79.3 393.8h0M99.9 386.3h0M92.9 381.8h0M71.2 387.3h0M135.4 365.2h0M110.0 336.2h0M114.1 376.7h0M147.5 386.1h0M127.4 387.8h0M144.0 349.5h0M89.7 397.2h0M76.6 396.4h0M108.4 339.9h0M137.2 355.8h0M114.5 356.7h0M143.5 384.5h0M95.5 391.1h0M120.8 381.8h0M137.9 355.4h0M113.1 383.1h0M103.5 330.6h0M134.8 367.8h0M103.6 389.7h0M101.7 385.9h0M138.0 364.6h0M116.3 361.9h0M113.4 336.7h0M108.6 329.7h0M113.4 378.9h0M140.8 363.4h0M160.4 396.6h0M105.2 332.7h0M112.6 342.1h0M63.0 386.4h0M143.9 377.2h0M105.8 329.8h0M126.9 397.9h0M80.4 387.4h0M156.9 382.7h0M142.0 383.8h0M145.5 397.0h0M142.8 354.9h0M97.6 383.3h0M69.7 392.3h0M110.3 327.6h0M132.6 392.5h0M104.5 364.3h0M93.3 391.6h0M139.9 370.1h0M132.8 397.0h0M100.9 391.8h0M106.2 371.6h0M105.8 345.3h0M108.4 326.9h0M139.7 375.0h0M123.6 393.1h0M104.1 378.5h0M106.9 360.0h0M115.9 383.9h0M77.8 396.0h0M91.7 389.1h0M110.3 389.3h0M122.7 389.6h0M143.4 377.2h0M139.0 389.1h0M106.3 352.4h0M113.2 336.3h0M122.3 396.0h0M75.2 389.3h0M99.3 389.2h0M105.2 328.0h0M143.9 347.8h0M163.6 394.7h0M166.4 382.8h0M107.7 360.9h0M105.2 388.0h0M109.8 386.8h0M162.4 381.3h0M114.9 394.3h0M137.7 366.6h0M107.0 389.3h0M142.1 381.8h0M93.1 394.7h0M112.9 342.8h0M138.3 365.8h0M134.0 390.8h0M107.2 395.1h0M144.6 391.7h0M94.9 391.3h0M60.8 392.6h0M108.5 346.8h0M106.2 384.9h0M105.5 365.1h0M122.1 386.8h0M145.3 392.9h0M144.6 373.5h0M142.4 382.7h0M100.2 392.4h0M74.3 390.3h0M72.7 391.0h0M132.0 380.9h0M137.1 366.5h0M103.3 370.8h0M118.0 360.3h0M76.8 383.4h0M64.6 394.0h0M135.2 390.4h0M118.1 380.7h0M118.3 396.6h0M103.8 362.4h0M117.6 361.3h0M164.5 383.8h0M107.7 326.4h0M106.7 357.8h0M78.8 386.3h0M146.8 390.5h0M109.7 366.8h0M84.9 394.3h0M65.0 388.2h0M132.0 395.9h0M102.9 388.6h0M105.2 364.8h0M109.9 353.3h0M99.2 387.2h0M84.9 384.8h0M108.1 323.2h0M108.4 366.0h0M113.4 379.1h0M144.1 362.4h0M95.9 389.9h0M113.4 364.6h0M132.1 394.1h0M155.0 387.6h0M115.5 386.3h0M104.8 366.2h0M105.1 379.5h0M75.3 391.3h0M136.6 393.0h0M112.9 366.6h0M114.0 385.1h0M60.2 391.9h0M128.2 381.4h0M103.8 384.2h0M103.9 327.6h0M141.6 358.4h0M137.5 371.8h0M59.9 389.6h0M82.8 388.2h0M155.5 385.0h0M121.2 393.4h0M138.0 385.3h0M111.2 369.3h0M112.1 327.2h0M162.0 383.6h0M62.8 390.0h0M107.2 333.9h0M87.7 389.2h0M101.2 390.4h0M86.4 388.2h0M113.8 333.8h0M122.3 387.2h0M85.4 383.9h0M108.1 354.6h0M108.2 360.7h0M116.0 353.9h0M107.7 332.4h0M114.2 343.2h0M108.7 394.4h0M117.0 358.0h0M70.8 384.9h0M106.0 349.9h0M139.5 381.2h0M141.4 384.0h0M130.1 390.6h0M95.2 383.1h0M142.5 381.1h0M115.4 361.2h0M94.7 395.5h0M163.0 391.9h0M80.4 389.9h0M152.7 387.3h0M108.5 370.7h0M153.6 380.6h0M98.2 395.2h0M103.6 344.2h0M104.6 383.8h0M108.7 395.4h0M117.7 364.0h0M153.4 394.1h0M111.5 381.3h0M96.2 381.4h0M103.6 355.2h0M112.7 377.0h0M100.0 386.2h0M131.7 382.5h0M107.3 340.6h0M63.7 389.0h0M112.0 329.3h0M144.1 385.1h0M108.4 353.7h0M150.7 389.8h0M144.9 356.4h0M161.9 390.5h0M68.2 387.5h0M93.5 392.0h0M136.8 375.3h0M88.0 393.3h0M136.8 390.5h0M109.5 373.7h0M141.3 379.5h0M152.0 396.0h0M144.9 388.0h0M108.6 359.2h0M101.6 389.5h0M151.4 388.9h0M143.5 365.5h0M113.4 348.8h0M154.2 381.3h0M134.2 380.9h0M105.2 359.4h0M161.2 387.1h0M118.4 372.2h0M127.6 392.3h0M105.1 390.6h0M142.8 382.9h0M66.0 390.8h0M132.7 390.7h0M68.4 385.8h0M111.8 377.9h0M144.6 379.8h0M108.2 358.1h0M97.4 389.6h0M130.0 389.2h0M132.0 369.5h0M112.8 363.7h0M143.6 397.2h0M137.2 368.4h0M113.2 394.8h0M151.8 395.7h0M150.4 389.0h0M110.6 392.6h0M106.7 349.3h0M145.1 351.0h0M98.8 393.0h0M111.7 343.2h0M130.4 378.3h0M103.6 379.9h0M144.7 385.8h0M153.1 397.9h0M100.1 395.4h0M97.0 393.4h0M113.5 366.5h0M153.1 380.7h0M91.8 389.2h0M103.4 341.1h0M96.5 392.8h0M106.6 326.5h0M143.2 352.1h0M114.7 352.6h0M155.8 397.1h0M109.7 373.9h0M97.9 383.3h0M162.4 381.8h0M116.7 377.7h0M117.5 386.8h0M118.3 384.7h0M104.9 395.7h0M108.5 345.8h0M123.3 393.4h0M146.2 391.9h0M95.2 386.7h0M73.5 391.9h0M109.4 340.6h0M63.2 390.2h0M143.5 350.4h0M118.2 395.9h0M94.4 387.6h0M58.9 387.0h0M110.4 385.7h0M105.4 358.3h0M152.6 382.2h0M137.9 384.4h0M66.4 393.6h0M88.1 394.4h0M109.6 373.5h0M120.2 372.3h0M138.9 383.6h0M102.0 389.7h0M125.4 392.2h0M114.1 375.2h0M89.5 394.0h0M113.6 370.8h0M69.6 389.3h0M84.3 395.0h0M134.2 368.7h0M151.7 385.9h0M109.1 378.5h0M107.4 368.8h0M118.4 381.2h0M115.3 370.6h0M64.1 389.9h0M113.4 361.1h0M128.3 395.2h0M140.5 369.9h0M106.6 344.1h0M115.4 371.4h0M77.6 389.0h0M143.5 374.6h0M68.7 392.7h0M103.1 388.1h0M130.4 390.4h0M65.1 389.6h0M132.8 385.2h0M78.1 386.9h0M105.2 325.7h0M118.5 362.2h0M105.3 327.4h0M89.6 381.7h0M142.7 375.9h0M108.4 356.5h0M65.7 391.9h0M98.7 392.6h0M109.4 383.4h0M160.3 390.5h0M145.2 361.7h0M107.8 347.0h0M89.6 396.8h0M120.4 396.2h0M93.2 382.2h0M82.7 381.2h0M139.4 393.8h0M74.6 396.1h0M103.7 384.8h0M111.0 350.8h0M95.5 381.3h0M140.6 376.8h0M98.6 385.0h0M140.9 350.1h0M109.2 326.3h0M75.9 396.4h0M157.2 386.2h0M82.6 389.3h0M159.7 396.5h0M165.2 384.7h0M109.5 370.4h0M110.2 364.2h0M127.3 390.5h0M115.5 379.5h0M111.3 380.7h0M136.4 386.8h0M129.2 378.5h0M138.6 395.7h0M111.7 332.1h0M164.8 393.7h0M154.1 393.4h0M140.5 350.8h0M140.2 357.9h0M138.7 373.3h0M91.9 383.0h0M153.5 388.7h0M77.1 392.8h0M72.2 394.7h0M110.2 343.5h0M147.8 396.1h0M161.3 390.1h0M118.6 363.7h0M110.6 335.5h0M132.8 384.8h0M82.3 391.1h0M105.0 325.2h0M114.3 384.5h0M90.0 387.9h0M162.2 384.6h0M111.9 354.3h0M129.5 392.2h0M142.8 387.4h0M128.0 391.4h0M110.5 385.2h0M114.2 381.1h0M140.9 380.3h0M120.0 376.7h0M104.2 369.4h0M112.0 329.6h0M162.7 385.6h0M123.4 391.6h0M149.5 391.6h0M133.7 372.6h0M137.9 385.0h0M105.1 359.0h0M165.0 379.8h0M74.9 388.1h0M109.9 328.1h0M112.9 370.7h0M70.9 394.8h0M93.5 385.3h0M138.1 388.8h0M140.8 396.7h0M143.4 383.3h0M114.1 391.2h0M148.0 380.9h0M65.2 391.0h0M113.5 379.8h0M102.5 390.9h0M107.2 390.3h0M72.4 392.5h0M88.4 384.2h0M77.8 382.3h0M85.9 396.0h0M83.5 388.2h0M106.3 327.1h0M119.3 372.9h0M128.1 393.3h0M116.4 364.4h0M69.4 394.6h0M103.9 353.5h0M109.7 327.4h0M141.6 379.4h0M113.7 347.6h0M95.8 388.1h0M132.2 391.1h0M81.0 388.6h0M100.3 395.6h0M105.5 393.8h0M107.9 345.4h0M106.3 371.8h0M140.8 389.6h0M61.4 386.9h0M95.7 384.6h0M105.9 378.1h0M159.3 382.0h0M110.2 341.5h0M60.0 387.4h0M102.7 382.6h0M145.4 365.3h0M105.6 346.3h0M143.5 383.1h0M106.2 367.6h0M163.0 385.0h0M135.8 373.8h0M128.7 390.6h0M106.5 397.5h0M137.1 377.2h0M77.7 390.9h0M137.1 361.8h0M102.3 388.0h0M104.9 392.9h0M119.8 386.5h0M161.3 391.2h0M105.1 349.0h0M103.9 365.3h0M135.4 382.9h0M142.6 370.8h0M65.1 385.7h0M133.7 383.3h0M151.5 395.6h0M150.9 384.9h0M130.1 378.3h0M127.4 395.4h0M104.9 380.9h0M59.0 389.3h0M77.0 384.6h0M132.1 395.1h0M135.4 373.4h0M142.1 347.6h0M82.0 394.0h0M99.1 380.8h0M90.4 393.0h0M139.1 363.1h0M163.7 393.5h0M107.6 354.3h0M81.4 384.9h0M71.3 386.2h0M95.2 392.5h0M149.3 389.8h0M108.3 372.8h0M109.2 324.3h0M112.8 369.1h0M139.5 376.4h0M64.1 386.6h0M147.0 386.8h0M108.5 336.8h0M74.2 392.2h0M116.7 357.3h0M114.5 395.9h0M107.9 353.0h0M103.2 365.6h0M137.8 387.2h0M160.2 397.6h0M150.2 380.8h0M116.4 380.1h0M133.7 386.2h0M134.6 396.2h0M98.2 383.9h0M154.0 388.7h0M67.6 392.7h0M104.0 355.9h0M108.3 355.8h0M65.8 388.6h0M105.7 369.1h0M90.5 386.1h0M142.9 352.7h0M58.0 388.4h0M149.4 381.4h0M104.3 370.0h0M75.6 387.8h0M104.5 371.3h0M111.4 379.5h0M101.0 387.0h0M66.1 387.8h0M127.1 385.8h0M161.8 384.6h0M105.6 375.3h0M115.4 368.2h0M108.3 329.3h0M110.7 329.3h0M105.3 383.6h0M88.4 382.2h0M148.4 382.6h0M84.6 383.4h0M103.7 372.5h0M113.1 395.4h0M69.3 385.6h0M92.9 392.5h0M161.6 389.3h0M114.6 382.9h0M88.8 385.7h0M135.6 364.2h0M166.2 397.5h0M106.0 354.2h0M118.7 384.1h0M138.5 360.8h0M77.6 389.1h0M139.7 371.6h0M110.5 370.5h0M100.1 393.8h0M113.7 344.3h0M148.9 387.7h0M121.1 378.0h0M116.7 372.0h0M133.9 383.3h0M120.2 395.6h0M120.4 380.1h0M166.1 386.8h0M123.1 394.4h0M106.6 388.8h0M154.2 381.0h0M116.4 387.9h0M141.9 374.1h0M145.0 396.6h0M80.5 391.0h0M135.5 394.5h0M114.1 395.6h0M105.9 369.8h0M61.3 393.3h0M85.3 392.6h0M114.5 353.0h0M130.5 374.2h0M164.6 392.8h0M129.0 390.1h0M128.5 396.6h0M97.4 384.6h0M132.2 390.0h0M151.7 379.8h0M90.9 386.5h0M164.0 382.6h0M130.3 397.5h0M91.9 395.3h0M149.7 385.4h0M114.6 345.5h0M61.9 389.5h0M162.5 392.7h0M88.4 381.0h0M137.8 393.0h0M133.5 369.0h0M121.0 395.6h0M144.2 365.1h0M146.9 380.6h0M109.0 339.8h0M135.3 385.2h0M108.9 366.5h0M114.8 377.1h0M158.3 380.7h0M128.3 393.7h0M100.9 386.6h0M108.0 363.1h0M119.8 378.7h0M127.1 390.2h0M108.0 356.8h0M105.0 335.5h0M105.9 388.6h0M135.1 386.4h0M112.7 376.6h0M135.0 370.9h0M91.0 383.3h0M81.2 391.0h0M140.2 365.7h0M126.4 390.1h0M65.7 392.7h0M108.8 366.5h0M137.0 371.4h0M110.7 360.3h0M113.1 382.6h0M136.1 379.5h0M132.0 390.3h0M121.8 396.5h0M139.8 395.2h0M130.8 373.8h0M129.0 395.0h0M137.1 367.0h0M139.1 361.8h0M91.4 391.3h0M79.1 394.6h0M107.8 351.0h0M119.2 376.1h0M60.1 387.2h0M73.9 387.0h0M135.1 378.1h0M105.9 371.7h0M116.3 351.4h0M106.7 374.1h0M116.5 354.1h0M104.0 335.4h0M88.6 388.0h0M110.6 345.9h0M147.4 392.4h0M135.6 359.5h0M117.3 357.9h0M107.8 331.8h0M142.6 376.8h0M138.6 386.1h0M149.4 393.2h0M158.4 387.3h0M122.7 393.4h0M142.6 389.6h0M142.1 377.5h0M59.9 393.2h0M150.3 396.9h0M62.9 393.7h0M108.2 381.3h0M88.8 384.0h0M105.6 325.4h0M121.9 384.0h0M148.0 382.0h0M138.2 369.9h0M133.1 378.4h0M88.1 382.2h0M110.5 338.2h0M96.4 397.6h0M107.0 393.5h0M101.6 397.5h0M117.0 379.9h0M158.6 396.2h0M80.9 381.5h0M134.9 394.8h0M112.1 396.0h0M150.6 393.8h0M143.0 372.5h0M115.7 365.7h0M75.8 389.1h0M135.7 397.4h0M88.5 388.0h0M124.7 395.8h0M97.8 387.2h0M97.1 385.8h0M140.1 384.3h0M87.7 384.4h0M111.6 336.5h0M160.2 388.6h0M86.0 395.2h0M110.8 397.7h0M84.7 393.9h0M107.4 386.4h0M127.2 395.7h0M114.5 378.8h0M86.5 395.5h0M112.9 343.0h0M113.7 370.3h0M132.8 395.7h0M104.7 374.2h0M136.2 384.8h0M88.5 381.0h0M108.3 392.4h0M87.8 396.4h0M73.0 394.5h0M112.0 330.1h0M73.1 383.0h0M155.1 388.1h0M70.1 384.9h0M104.5 345.6h0M120.4 394.6h0M99.2 382.9h0M104.7 390.5h0M110.4 380.8h0M139.7 372.7h0M134.4 390.4h0M143.9 349.8h0M133.5 382.6h0M105.1 386.0h0M116.6 373.9h0M86.4 396.6h0M132.7 397.0h0M159.3 388.9h0M135.2 366.9h0M106.5 389.0h0M110.6 356.8h0M159.1 382.6h0M95.5 397.4h0M111.8 371.6h0M157.9 394.2h0M144.9 388.6h0M163.8 394.4h0M112.9 349.8h0M131.1 393.6h0M157.6 390.7h0M109.0 357.9h0M150.5 396.4h0M135.9 395.6h0M148.6 396.9h0M63.2 389.8h0M134.8 373.9h0M111.2 368.9h0M156.6 394.4h0M100.3 389.1h0M71.7 393.7h0M160.5 382.8h0M88.8 393.8h0M122.4 394.0h0M69.9 386.4h0M131.7 396.0h0M89.1 394.7h0M114.1 391.6h0M88.7 388.1h0M120.1 376.1h0M70.7 386.5h0M136.2 363.6h0M113.0 371.6h0M108.6 379.5h0M153.0 385.0h0M108.8 329.2h0M138.6 360.3h0M58.6 388.0h0M120.4 397.3h0M106.5 372.8h0M108.0 391.4h0M104.6 348.9h0M106.6 390.3h0M90.3 391.8h0M107.0 364.2h0M77.0 388.6h0M146.9 390.9h0M130.0 381.2h0M96.1 388.4h0M142.1 372.0h0M101.9 393.8h0M58.3 390.8h0M163.2 390.5h0M136.4 394.9h0M109.6 383.5h0M110.2 327.6h0M95.1 384.3h0M114.5 339.9h0M83.1 381.2h0M89.0 393.1h0M99.4 396.3h0M108.0 372.8h0M132.5 385.9h0M139.6 376.1h0M82.3 392.1h0M112.8 357.6h0M63.6 391.5h0M68.7 392.4h0M77.1 385.3h0M114.0 342.6h0M147.9 388.9h0M143.2 348.5h0M111.7 377.4h0M157.8 393.1h0M73.7 394.0h0M112.3 393.6h0M108.7 362.3h0M126.8 389.3h0M77.6 396.1h0M129.6 393.7h0M73.9 387.4h0M138.8 378.3h0M84.0 394.7h0M151.6 397.8h0M112.8 356.2h0M62.8 389.9h0M98.6 382.2h0M155.0 388.9h0M129.1 385.2h0M107.5 390.4h0M118.1 384.9h0M80.1 392.3h0M158.8 384.9h0M133.7 393.0h0M63.8 387.3h0M71.4 387.9h0M118.7 378.7h0M141.1 377.8h0M97.8 386.5h0M114.1 346.2h0M147.9 392.0h0M147.9 390.2h0M107.8 378.4h0M141.4 375.1h0M107.8 371.0h0M102.3 397.0h0M63.3 392.4h0M142.1 391.9h0M88.8 389.7h0M111.7 347.3h0M107.4 343.2h0M109.3 356.4h0M120.7 394.4h0M112.9 361.3h0M149.1 390.1h0M159.6 383.4h0M163.2 379.9h0M142.5 360.3h0M164.2 386.4h0M115.1 394.6h0M130.5 387.2h0M132.8 381.7h0M159.7 380.4h0M113.6 348.5h0M140.6 391.9h0M139.1 397.4h0M158.9 382.2h0M61.0 386.8h0M144.2 369.3h0M78.0 396.5h0M140.3 385.4h0M104.4 364.6h0M110.9 391.7h0M140.2 382.6h0M79.7 383.6h0M143.3 379.2h0M156.0 381.8h0M103.3 360.4h0M106.5 338.3h0M154.2 390.0h0M140.0 357.9h0M109.5 387.6h0M103.6 382.5h0M132.9 370.4h0M87.0 384.5h0M116.8 367.5h0M109.0 364.8h0M145.2 370.8h0M151.7 392.3h0M110.8 389.9h0M107.9 391.2h0M104.9 356.7h0M113.7 363.6h0M91.5 387.0h0M138.3 374.2h0M109.8 365.9h0M108.4 340.7h0M110.6 335.2h0M138.3 390.9h0M118.4 381.0h0M111.0 376.3h0M120.4 377.4h0M111.3 397.2h0M110.7 396.4h0M109.8 368.1h0M137.3 378.6h0M110.8 327.1h0M136.2 358.8h0M110.3 350.0h0M106.9 366.9h0M82.7 385.3h0M126.7 396.1h0M157.7 392.4h0M141.4 350.3h0M108.0 379.0h0M137.6 369.1h0M112.5 327.2h0M102.7 380.8h0M72.9 389.4h0M122.0 390.0h0M105.2 371.6h0M114.5 369.8h0M117.1 361.0h0M159.9 386.4h0M147.2 392.1h0M105.1 362.9h0M141.5 396.2h0M90.6 391.1h0M98.4 394.4h0M143.1 356.7h0M71.1 388.7h0M74.8 383.2h0M114.8 382.6h0M115.0 395.2h0M156.9 395.9h0M159.9 389.3h0M115.3 355.0h0M97.3 389.0h0M83.4 380.9h0M150.8 391.9h0M59.6 387.0h0M75.2 387.8h0M105.3 387.0h0M108.5 389.7h0M129.4 389.3h0M102.2 394.0h0M121.3 396.5h0M112.6 331.8h0M143.6 362.9h0M103.9 367.1h0M103.3 350.0h0M162.3 382.7h0M65.8 385.9h0M140.3 348.5h0M109.2 333.5h0M67.8 389.7h0M154.5 393.8h0M148.2 392.9h0M131.8 393.6h0M118.9 391.6h0M109.7 324.0h0M105.6 373.9h0M106.3 367.1h0M104.5 395.6h0M92.2 389.4h0M95.8 394.3h0M104.2 333.0h0M110.7 348.1h0M58.0 392.8h0M109.6 334.8h0M119.7 386.4h0M66.7 391.5h0M138.3 371.9h0M151.7 397.5h0M141.5 365.6h0M107.8 377.7h0M110.2 340.7h0M133.2 394.0h0M131.7 372.5h0M100.3 395.5h0M141.2 385.2h0M140.2 392.3h0M128.0 388.1h0M165.2 390.2h0M151.6 391.9h0M110.6 376.6h0M143.6 379.9h0M141.0 361.3h0M106.2 331.0h0M132.3 386.8h0M65.5 393.3h0M117.6 381.5h0M144.0 379.5h0M60.3 393.4h0M82.2 385.6h0M150.8 390.8h0M144.1 395.9h0M140.5 353.2h0M133.1 393.1h0M127.0 396.1h0M104.6 396.7h0M82.7 385.3h0M99.4 395.7h0M157.2 380.3h0M146.0 389.9h0M106.6 360.5h0M105.9 355.4h0M114.9 357.8h0M106.4 338.0h0M112.1 394.8h0M82.5 387.7h0M87.2 384.3h0M105.5 357.7h0M122.9 394.7h0M107.0 331.6h0M141.6 347.0h0M86.9 395.0h0M113.2 353.0h0M89.9 394.9h0M139.4 381.4h0M118.5 365.4h0M107.9 348.4h0M157.2 383.8h0M124.9 391.9h0M77.8 384.0h0M112.9 372.3h0M110.4 394.5h0M100.1 387.3h0M154.1 397.9h0M109.9 352.2h0M66.6 386.5h0M137.3 376.9h0M119.7 381.7h0M112.7 384.5h0M67.8 385.3h0M104.2 363.1h0M163.1 395.3h0M112.2 358.4h0M114.0 335.1h0M96.0 389.4h0M61.7 388.3h0M103.6 395.6h0M105.0 338.6h0M60.0 392.1h0M104.4 328.5h0M62.2 389.9h0M111.4 358.6h0M150.2 381.5h0M67.7 394.9h0M107.9 331.7h0M116.6 355.2h0M131.4 395.6h0M119.9 379.9h0M110.4 354.4h0M115.5 349.3h0M144.3 385.0h0M76.3 385.6h0M103.7 364.2h0M162.7 392.9h0M102.1 391.1h0M115.9 366.9h0M129.8 382.7h0M165.2 389.6h0M140.4 362.8h0M137.9 360.6h0M131.3 372.8h0M77.6 395.6h0M107.7 381.4h0M131.6 393.9h0M141.7 350.1h0M128.5 396.9h0M108.8 383.3h0M99.0 386.0h0M163.0 391.3h0M116.3 381.1h0M113.3 394.0h0M140.9 368.3h0M129.2 381.8h0M114.3 336.8h0M105.0 364.3h0M117.0 389.0h0M122.1 397.6h0M103.4 366.7h0M165.9 394.9h0M69.5 394.4h0M96.2 396.0h0M100.8 388.6h0M132.7 397.2h0M106.2 350.1h0M110.4 344.3h0M82.1 389.9h0M104.9 383.7h0M63.3 387.8h0M111.2 335.6h0M109.2 374.0h0M139.3 385.8h0M139.4 355.7h0M158.9 386.9h0M145.5 396.7h0M136.6 392.4h0M108.6 384.4h0M129.2 379.6h0M121.5 382.2h0M112.2 377.7h0M114.9 390.6h0M104.2 326.3h0M142.4 385.2h0M115.7 385.4h0M129.9 382.4h0M108.1 393.6h0M73.7 392.8h0M161.0 392.9h0M104.1 371.3h0M113.3 344.7h0M165.4 392.9h0M158.4 380.5h0M137.4 367.3h0M151.3 380.9h0M77.0 387.6h0M90.4 382.7h0M107.4 358.2h0M165.2 396.5h0M106.5 365.1h0M115.0 395.5h0M78.6 392.6h0M121.6 383.1h0M158.5 395.2h0M106.2 391.4h0M105.9 390.9h0M106.4 365.8h0M161.6 385.2h0M112.8 371.3h0M113.5 357.6h0M105.2 367.5h0M98.7 397.5h0M159.5 392.2h0M152.3 382.2h0M89.2 391.0h0M120.4 396.8h0M100.2 395.6h0M120.0 373.8h0M132.2 378.5h0M151.2 391.1h0M165.0 397.8h0M111.9 384.9h0M164.2 389.1h0M135.2 361.0h0M98.8 395.8h0M141.6 397.4h0M84.0 388.8h0M143.5 347.0h0M162.6 396.4h0M74.6 389.5h0M108.2 326.0h0M160.0 394.7h0M72.9 389.7h0M73.4 394.2h0M112.5 390.8h0M150.9 388.8h0M106.4 367.4h0M112.4 364.4h0M111.4 364.6h0M127.9 388.7h0M115.7 362.4h0M163.5 391.2h0M152.3 383.1h0M61.9 388.9h0M148.6 382.1h0M113.1 351.1h0M104.1 363.3h0M110.4 327.0h0M140.9 386.4h0M132.6 385.0h0M105.5 348.9h0M140.1 395.0h0M100.3 381.9h0M143.7 351.5h0M116.6 381.0h0M164.7 386.3h0M161.6 385.9h0M69.8 387.0h0M117.1 358.1h0M142.8 362.7h0M96.9 383.3h0M76.2 396.2h0M166.3 389.6h0M117.5 394.1h0M147.1 380.5h0M61.0 389.4h0M142.0 364.5h0M165.1 389.2h0M91.8 390.7h0M93.9 396.3h0M72.8 383.1h0M145.1 385.7h0M116.6 372.8h0M115.2 393.0h0M113.6 347.3h0M70.8 388.2h0M125.3 392.6h0M137.3 377.0h0M138.9 388.2h0M151.0 381.9h0M85.3 386.4h0M104.1 360.3h0M163.5 380.6h0M110.3 332.1h0M101.9 385.3h0M137.8 359.2h0M108.9 373.6h0M112.4 329.3h0M104.6 370.1h0M128.1 390.8h0M157.5 397.3h0M132.8 371.5h0M162.9 396.9h0M122.9 393.4h0M75.8 383.6h0M142.6 367.1h0M77.2 386.4h0M127.0 390.8h0M115.8 353.7h0M65.8 387.4h0M104.3 367.4h0M145.2 379.7h0M145.1 369.0h0M106.7 327.9h0M58.5 392.0h0M104.4 380.3h0M85.6 390.1h0M156.7 387.8h0M152.6 389.1h0M143.2 366.8h0M112.2 387.4h0M112.7 360.0h0M115.5 358.0h0M108.0 391.5h0M146.6 385.3h0M142.3 346.6h0M143.9 392.0h0M106.2 368.8h0M101.5 396.9h0M140.2 352.6h0M75.7 385.2h0M114.2 374.9h0M110.6 331.8h0M97.6 392.4h0M98.6 385.6h0M103.4 374.4h0M74.6 394.5h0M114.9 392.9h0M114.5 346.0h0M115.3 366.4h0M117.4 372.0h0M135.0 391.3h0M138.0 367.4h0M70.4 383.6h0M104.4 386.0h0M88.9 389.4h0M156.0 390.1h0M114.9 364.1h0M113.9 340.0h0M91.0 385.5h0M155.6 388.8h0M146.5 388.4h0M116.3 374.9h0M109.2 366.1h0M109.5 367.6h0M149.7 391.8h0M157.0 394.5h0M80.2 382.8h0M75.9 382.7h0M105.3 330.6h0M147.6 383.8h0M165.3 383.6h0M56.3 388.4h0M142.0 361.2h0M160.3 381.1h0M67.7 389.6h0M137.2 395.2h0M112.0 356.3h0M79.3 386.5h0M106.7 366.4h0M123.8 396.4h0M144.6 365.8h0M106.5 395.8h0M119.2 392.5h0M106.4 385.9h0M77.2 387.5h0M87.5 382.2h0M105.5 351.6h0M113.5 374.6h0M115.9 388.6h0M114.4 363.0h0M107.6 395.9h0M98.0 395.8h0M131.7 383.1h0M142.3 383.6h0M84.1 390.3h0M75.4 392.7h0M104.4 354.9h0M106.3 377.5h0M145.1 355.3h0M110.3 354.7h0M133.9 371.1h0M131.6 373.4h0M143.4 379.7h0M106.6 369.2h0M141.7 346.9h0M112.2 349.9h0M61.8 388.0h0M138.6 392.6h0M134.9 369.3h0M137.9 360.3h0M144.5 379.1h0M112.5 386.0h0M105.1 371.4h0M134.0 392.2h0M161.0 386.8h0M104.0 373.0h0M80.2 387.0h0M93.5 395.3h0M66.8 392.6h0M108.6 370.2h0M142.0 353.1h0M122.0 386.6h0M109.8 385.0h0M137.8 372.3h0M122.6 388.3h0M165.5 381.2h0M140.3 356.9h0M120.2 393.1h0M110.2 324.7h0M110.1 378.7h0M107.0 390.1h0M129.9 394.0h0M65.0 391.3h0M68.5 389.4h0M147.9 395.6h0M126.0 390.9h0M125.4 391.4h0M103.2 388.1h0M103.3 378.9h0M114.7 358.7h0M96.6 386.0h0M166.5 384.5h0M139.6 392.9h0M138.9 388.0h0M139.2 384.4h0M89.5 381.4h0M136.6 396.9h0M132.9 367.9h0M56.7 389.4h0M133.5 384.0h0M109.2 348.3h0M148.6 390.1h0M99.5 381.7h0M102.3 393.2h0M116.8 396.9h0M109.4 357.6h0M96.2 383.4h0M111.7 373.6h0M112.2 386.8h0M108.7 338.2h0M117.4 360.9h0M139.4 383.3h0M118.5 367.8h0M143.7 366.0h0M137.6 367.2h0M108.0 372.5h0M131.9 380.0h0M116.7 395.0h0M158.1 381.1h0M86.3 386.8h0M163.2 382.4h0M119.4 375.6h0M132.5 372.0h0M113.1 376.8h0M100.6 386.9h0M111.6 364.5h0M114.7 385.4h0M108.7 348.7h0M110.2 376.6h0M128.1 392.4h0M140.5 365.0h0M135.0 395.6h0M139.6 384.2h0M110.1 349.4h0M82.9 391.2h0M112.9 375.2h0M108.9 394.7h0M82.1 395.9h0M127.1 392.3h0M159.0 391.5h0M80.6 382.9h0M140.8 363.9h0M139.1 370.3h0M138.7 357.5h0M156.5 397.1h0M141.6 380.1h0M96.7 385.2h0M132.6 370.9h0M133.8 364.6h0M104.0 325.6h0M157.9 384.8h0M118.6 371.5h0M106.7 357.0h0M58.9 391.8h0M128.3 390.4h0M103.3 346.3h0M111.9 395.9h0M153.3 380.4h0M139.8 364.1h0M111.6 396.1h0M122.2 390.9h0M114.1 346.4h0M71.5 392.8h0M162.2 383.0h0M141.0 347.9h0M58.3 389.6h0M105.2 368.7h0M108.1 381.9h0M109.7 340.5h0M103.9 397.5h0M114.7 371.2h0M112.5 352.5h0M84.8 384.0h0M164.9 381.2h0M159.5 389.6h0M70.2 387.7h0M164.9 381.3h0M157.3 392.2h0M83.9 383.4h0M104.7 386.9h0M100.2 386.6h0M142.2 369.5h0M113.8 344.4h0M107.4 377.7h0M111.8 393.3h0M97.3 382.4h0M83.3 396.4h0M118.3 395.9h0M137.9 395.4h0M104.9 368.7h0M106.1 358.8h0M114.4 381.7h0M104.8 323.0h0M135.1 388.5h0M163.0 385.5h0M110.4 367.0h0M162.1 392.8h0M150.2 381.0h0M106.2 385.7h0M158.4 383.9h0M118.0 396.4h0M106.7 383.8h0M101.4 393.8h0M89.5 394.4h0M103.2 347.7h0M110.4 369.0h0M115.2 392.7h0M131.5 392.6h0M74.2 395.6h0M160.5 392.0h0M115.8 362.0h0M123.8 393.8h0M150.4 384.0h0M105.3 366.4h0M152.7 382.7h0M110.3 362.9h0M139.8 363.0h0M112.9 385.3h0M110.0 329.1h0M79.5 392.6h0M138.6 367.7h0M71.2 390.7h0M132.3 376.3h0M117.8 375.1h0M143.9 352.1h0M67.2 391.4h0M119.9 393.6h0M120.2 376.7h0M73.0 387.6h0M97.9 383.5h0M110.4 335.5h0M125.6 391.0h0M129.5 394.0h0M109.6 396.3h0M86.2 384.4h0M76.8 389.2h0M108.4 393.7h0M152.7 395.3h0M72.4 387.9h0M151.7 396.6h0M133.3 386.8h0M108.4 370.0h0M138.7 359.5h0M149.2 395.8h0M66.6 391.2h0M134.1 391.7h0M61.8 387.1h0M143.7 346.3h0M105.0 371.2h0M113.4 345.9h0M111.0 395.6h0M145.3 348.6h0M108.1 357.6h0M141.2 397.6h0M87.8 396.1h0M109.8 343.1h0M116.0 349.2h0M166.7 388.1h0M159.4 392.6h0M82.8 386.9h0M155.2 391.9h0M110.8 331.9h0M134.2 380.2h0M147.9 390.3h0M132.7 379.2h0M157.8 386.1h0M141.6 378.0h0M157.7 383.7h0M144.9 384.5h0M162.7 380.3h0M75.4 395.9h0M121.1 393.8h0M97.0 387.1h0M106.0 364.6h0M129.2 385.8h0M126.4 396.8h0M97.9 387.7h0M134.8 372.7h0M118.9 365.0h0M105.5 341.3h0M110.4 374.9h0M135.7 376.0h0M106.6 332.9h0M107.6 339.8h0M107.8 336.5h0M108.5 380.1h0M159.2 395.9h0M112.7 341.0h0M141.0 363.5h0M160.8 390.5h0M104.6 380.5h0M92.1 389.2h0M106.2 325.1h0M138.8 360.0h0M116.1 397.6h0M117.0 354.2h0M161.2 388.3h0M144.2 396.3h0M98.2 386.2h0M79.0 390.8h0M115.5 372.1h0M143.6 364.6h0M116.0 390.5h0M163.3 386.9h0M104.3 349.1h0M96.5 386.8h0M135.8 380.5h0M137.4 358.1h0M147.3 381.6h0M148.7 395.6h0M115.3 394.4h0M106.6 395.7h0M146.2 384.9h0M153.3 394.8h0M144.7 375.8h0M157.7 382.3h0M111.9 340.6h0M85.4 385.5h0M106.5 361.4h0M120.5 391.0h0M113.7 359.9h0M83.7 389.6h0M118.8 364.4h0M118.3 375.8h0M103.2 363.6h0M119.0 368.8h0M157.1 383.8h0M58.5 391.0h0M70.1 392.4h0M143.9 345.4h0M83.8 383.3h0M139.9 353.9h0M106.5 343.8h0M95.9 394.7h0M114.9 368.8h0M109.0 340.3h0M112.8 371.8h0M113.8 396.1h0M131.0 386.2h0M136.3 364.6h0M118.3 376.1h0M68.9 383.6h0M103.5 374.5h0M116.1 378.3h0M112.4 338.2h0M142.2 354.7h0M144.6 387.3h0M114.5 364.3h0M120.3 385.6h0M113.7 382.1h0M164.0 383.6h0M122.7 397.1h0M109.1 386.9h0M152.3 384.7h0M89.0 392.5h0M144.7 364.5h0M109.8 328.9h0M97.9 387.5h0M143.3 352.6h0M128.6 385.1h0M110.0 385.9h0M103.3 356.4h0M110.9 343.2h0M106.3 389.3h0M135.8 369.1h0M133.0 394.4h0M114.1 345.1h0M153.9 394.4h0M152.5 388.7h0M148.0 394.7h0M105.4 325.3h0M109.1 358.3h0M151.5 383.7h0M143.1 394.4h0M132.0 384.1h0M110.8 393.1h0M84.7 382.5h0M114.3 345.1h0M144.9 359.2h0M81.0 382.4h0M125.0 396.2h0M97.4 392.8h0M73.4 393.1h0M90.4 385.0h0M111.0 342.7h0M157.1 381.3h0M87.0 383.7h0M95.5 385.4h0M104.7 329.4h0M103.6 396.9h0M159.3 389.6h0M115.8 359.1h0M143.3 378.2h0M131.8 390.6h0M142.5 387.1h0M103.6 338.7h0M141.3 396.0h0M122.4 387.1h0M79.4 392.9h0M130.1 395.7h0M111.7 353.9h0M144.2 345.2h0M121.2 391.7h0M112.8 365.3h0M126.8 386.8h0M155.4 393.4h0M113.9 395.1h0M155.6 390.4h0M137.1 358.1h0M100.8 395.4h0M140.2 379.1h0M113.3 365.3h0M140.6 368.6h0M140.0 383.6h0M99.4 382.3h0M115.0 343.1h0M119.9 388.4h0M116.8 374.3h0M117.3 384.2h0M103.6 377.3h0M159.0 383.7h0M106.6 345.8h0M73.5 388.0h0M107.7 328.8h0M57.0 388.0h0M111.2 379.5h0M113.1 341.9h0M70.4 390.0h0M135.2 367.3h0M104.7 340.7h0M110.7 371.6h0M103.7 326.5h0M83.9 391.2h0M56.2 388.5h0M91.0 396.3h0M155.7 392.5h0M58.0 392.2h0M131.3 393.6h0M139.7 356.3h0M106.6 397.0h0M109.4 342.0h0M106.8 370.8h0M60.9 393.7h0M108.1 376.2h0M112.3 382.1h0M136.4 361.9h0M125.5 392.9h0M93.7 395.8h0M112.0 359.1h0M153.1 397.7h0M140.8 356.9h0M136.4 364.5h0M110.8 343.7h0M116.7 394.2h0M92.9 386.4h0M159.6 388.8h0M163.9 385.3h0M160.9 391.6h0M141.0 361.0h0M111.7 379.0h0M136.3 359.6h0M72.0 389.4h0M151.4 387.2h0M136.3 379.8h0M79.8 391.6h0M131.5 376.4h0M162.3 393.7h0M113.7 390.7h0M84.4 391.8h0M83.0 385.9h0M159.1 387.4h0M115.2 349.8h0M118.2 395.3h0M151.4 383.3h0M146.9 395.0h0M86.2 385.2h0M61.5 388.4h0M103.8 325.5h0M104.0 369.3h0M112.8 336.4h0M110.0 372.9h0M143.7 394.2h0M108.3 330.2h0M92.1 392.3h0M93.1 393.9h0M102.2 384.0h0M95.8 390.3h0M103.5 330.2h0M111.6 375.1h0M131.8 382.1h0M140.9 369.4h0M131.3 388.5h0M141.2 360.2h0M142.4 391.2h0M156.1 397.2h0M145.3 389.2h0M152.5 391.5h0M153.0 390.2h0M139.7 386.3h0M86.6 396.0h0M118.2 397.9h0M97.5 390.3h0M114.1 367.3h0M114.9 395.8h0M135.6 393.7h0M78.2 390.7h0M87.9 388.7h0M102.8 389.4h0M106.3 323.4h0M145.7 380.0h0M77.6 384.1h0M98.5 381.3h0M151.0 385.7h0M140.3 358.2h0M156.9 390.7h0M122.7 389.9h0M133.0 386.9h0M91.8 389.2h0M161.1 380.0h0M129.7 385.4h0M91.3 388.3h0M75.6 393.8h0M95.9 392.1h0M135.1 364.0h0M73.4 385.4h0M135.4 379.5h0M95.5 396.6h0M105.9 327.7h0M112.1 391.2h0M69.6 386.1h0M163.4 392.3h0M110.2 363.2h0M95.7 394.6h0M81.4 394.6h0M105.4 377.5h0M108.0 362.0h0M116.7 386.0h0M104.0 351.9h0M137.4 355.5h0M136.8 370.9h0M143.1 391.2h0M100.8 382.6h0M117.1 382.0h0M110.6 341.9h0M109.7 390.1h0M156.5 396.7h0M111.5 349.0h0M164.4 383.7h0M68.0 392.2h0M78.0 391.7h0M160.4 397.2h0M141.6 384.7h0M109.9 364.0h0M98.0 397.0h0M96.8 392.8h0M93.4 385.4h0M120.8 393.2h0M158.7 380.0h0M63.2 392.3h0M110.9 370.1h0M108.9 329.9h0M137.3 394.0h0M137.5 386.8h0M143.8 350.6h0M117.2 380.4h0M105.2 342.9h0M126.7 394.2h0M139.9 349.8h0M137.2 384.4h0M107.7 327.4h0M166.0 387.1h0M112.1 351.8h0M135.1 381.1h0M91.4 384.4h0M82.3 389.6h0M84.4 385.8h0M89.1 395.7h0M114.0 350.2h0M154.5 386.3h0M142.8 351.9h0M163.4 382.1h0M76.2 382.7h0M140.4 382.0h0M156.6 384.4h0M105.0 354.0h0M103.7 392.1h0M104.6 366.6h0M95.1 383.3h0M161.0 390.2h0M165.5 382.9h0M98.5 390.1h0M113.1 339.7h0M60.3 387.8h0M157.4 384.8h0M106.2 377.0h0M109.3 338.9h0M166.8 387.2h0M138.8 352.0h0M131.7 371.6h0M103.7 329.2h0M136.8 377.2h0M140.7 384.9h0M144.1 368.2h0M82.7 397.2h0M106.6 332.5h0M86.3 380.9h0M142.1 390.4h0M111.5 385.1h0M129.8 390.9h0M129.4 397.7h0M136.2 365.7h0M140.1 356.4h0M130.8 388.8h0M88.7 396.1h0M141.1 390.3h0M134.6 364.2h0M133.6 384.8h0M127.3 390.7h0M139.6 366.4h0M117.2 386.7h0M158.6 386.7h0M81.0 381.9h0M133.7 382.1h0M111.1 359.6h0M138.3 396.4h0M144.1 345.0h0M115.4 354.5h0M128.5 386.4h0M149.3 389.7h0M114.2 342.7h0M108.8 364.8h0M117.9 392.4h0M100.1 391.3h0M134.4 372.5h0M155.0 387.1h0M137.9 371.0h0M91.3 380.6h0M109.8 323.9h0M80.8 390.5h0M140.2 375.5h0M117.4 379.4h0M117.6 376.5h0M86.7 391.5h0M135.2 366.6h0M116.9 390.2h0M151.5 390.3h0M165.7 392.7h0M107.4 339.0h0M76.1 387.3h0M71.0 386.9h0M109.7 349.8h0M112.1 373.3h0M144.0 356.0h0M82.7 383.0h0M148.1 386.0h0M75.6 394.6h0M109.3 394.2h0M154.6 393.1h0M125.1 397.8h0M66.6 389.0h0M148.7 390.4h0M112.0 391.2h0M157.0 386.0h0M103.3 385.8h0M109.6 340.4h0M149.3 388.8h0M146.4 380.2h0M104.2 367.3h0M150.4 396.1h0M117.5 359.3h0M101.8 386.1h0M137.1 357.3h0M146.9 392.8h0M127.4 394.4h0M106.6 395.9h0M88.1 393.2h0M106.1 336.3h0M111.0 390.0h0M92.8 396.2h0M103.4 368.3h0M126.3 392.6h0M150.2 385.5h0M115.0 366.2h0M117.1 354.1h0M86.6 393.4h0M105.6 364.0h0M124.5 393.4h0M144.3 355.2h0M72.4 391.0h0M103.3 343.8h0M121.4 389.4h0M142.5 394.0h0M155.9 390.3h0M106.2 380.6h0M103.1 361.5h0M141.8 390.5h0M115.6 354.9h0M116.1 382.4h0M78.0 386.5h0M137.7 383.8h0M138.2 374.3h0M154.9 385.0h0M135.6 389.8h0M88.5 396.9h0M132.5 367.7h0M96.0 393.5h0M141.2 393.9h0M111.9 364.9h0M82.2 396.7h0M109.6 371.7h0M142.4 373.5h0M119.7 382.5h0M166.5 384.7h0M133.9 368.9h0M88.5 397.1h0M117.9 387.2h0" stroke="#7f7f7f" stroke-width="2.80" stroke-linecap="round" fill="none"/>
<path d="M33.3 382.6h0M39.6 384.7h0M38.0 384.0h0M48.4 381.5h0M50.5 390.3h0M64.4 381.5h0M45.0 386.0h0M52.0 384.0h0M55.0 387.0h0M58.0 385.0h0M60.0 390.0h0M47.0 389.0h0M62.0 386.0h0M66.0 392.0h0M42.0 386.0h0" stroke="#7f7f7f" stroke-width="2.80" stroke-linecap="round" fill="none"/>
<path d="M171.5 389.9h0M177.7 390.9h0M170.1 387.7h0M171.5 385.7h0M175.4 388.4h0M169.2 385.9h0M167.7 392.1h0M172.5 382.8h0M169.6 391.1h0M174.8 387.0h0M172.5 394.0h0M180.4 389.8h0M183.8 388.2h0M167.0 395.5h0M174.0 393.9h0M181.5 387.0h0M173.9 386.5h0M181.1 388.8h0M178.2 391.4h0M181.0 388.6h0M175.6 386.5h0M169.5 382.6h0M166.7 393.1h0M183.4 383.9h0M188.3 385.6h0M169.0 395.0h0M176.2 390.8h0M195.1 381.8h0M167.0 387.8h0M176.6 387.0h0M189.0 383.3h0M166.2 393.4h0M170.1 391.5h0M180.8 389.4h0M184.4 389.1h0M168.6 391.4h0M170.9 395.4h0M177.1 389.0h0M182.3 390.8h0M195.5 382.1h0M171.7 385.6h0M184.5 385.9h0M170.7 389.6h0M175.4 383.9h0M173.5 384.7h0M183.1 388.7h0M178.0 384.7h0M179.1 384.6h0M168.1 390.7h0M173.8 389.1h0M190.2 386.2h0M169.3 395.1h0M177.8 392.2h0M167.2 395.6h0M170.0 386.2h0" stroke="#7f7f7f" stroke-width="2.80" stroke-linecap="round" fill="none"/>
<path d="M105.7 285.7h0M108.6 293.3h0M103.8 299.6h0M107.2 309.3h0M111.3 314.6h0M104.5 304.0h0M106.0 316.0h0M109.0 318.0h0M104.0 312.0h0M110.0 306.0h0" stroke="#7f7f7f" stroke-width="2.80" stroke-linecap="round" fill="none"/>
<path d="M88.2 371.6h0M96.0 342.9h0M96.5 378.9h0M84.8 377.8h0M100.0 355.5h0M96.8 340.1h0M91.9 365.4h0M98.3 357.4h0M99.9 353.3h0M91.2 336.7h0M102.5 336.9h0M93.1 343.3h0M101.3 366.5h0M92.3 341.4h0M90.5 361.9h0M97.3 370.3h0M97.5 374.2h0M94.3 336.3h0M87.6 374.4h0M88.9 358.2h0M93.9 377.3h0M97.3 372.9h0M95.5 351.8h0M101.7 355.9h0M102.7 368.1h0M94.2 351.7h0M101.4 368.8h0M94.0 376.3h0M102.7 350.6h0M99.6 364.0h0M96.3 369.5h0M94.7 368.5h0M99.3 340.8h0M89.0 374.6h0M89.0 351.3h0M94.5 336.2h0M101.9 367.1h0M84.4 373.0h0M97.7 373.3h0M102.8 375.0h0M93.2 378.2h0M96.4 370.6h0M87.3 376.4h0M92.8 344.0h0M87.9 352.1h0M102.8 350.5h0M86.7 355.8h0M95.8 378.1h0M91.5 347.5h0M99.0 360.4h0M88.1 377.6h0M90.0 377.7h0M89.4 360.2h0M97.4 361.0h0M88.9 366.8h0M88.9 360.1h0M96.1 376.2h0M98.8 342.9h0M88.4 355.7h0M99.8 367.8h0M93.9 360.2h0M90.2 359.5h0M90.1 342.1h0M99.5 377.1h0M95.8 353.5h0M93.1 367.6h0M92.7 377.6h0M100.2 366.1h0M89.0 365.2h0M96.4 376.0h0M90.9 361.3h0M91.3 363.5h0M98.9 369.1h0M94.1 379.0h0M85.6 364.6h0M93.2 361.3h0M86.3 356.7h0M86.8 357.7h0M102.6 362.7h0M93.0 362.8h0M91.3 366.5h0M94.0 366.1h0M90.4 345.9h0M100.8 370.2h0M102.9 345.6h0M83.4 374.1h0M102.1 369.9h0M98.2 349.0h0M98.1 362.1h0M92.6 360.7h0M96.4 345.2h0M89.8 374.4h0M98.6 366.0h0M102.3 367.9h0M93.1 368.2h0M103.1 364.3h0M98.1 341.3h0M96.9 367.2h0M87.1 349.0h0M102.2 371.8h0M97.6 336.4h0M87.0 367.3h0M100.6 371.4h0M100.9 354.5h0M87.4 371.5h0M98.6 370.4h0M86.9 373.5h0M90.3 338.0h0M89.5 376.1h0M99.1 362.7h0M96.6 348.5h0M103.1 344.3h0M95.2 364.4h0M99.9 332.6h0M87.8 376.8h0M101.9 342.7h0M88.0 359.7h0M84.2 375.9h0M94.4 356.7h0M99.2 343.8h0M102.6 354.9h0M83.4 374.5h0M86.6 368.8h0M97.5 364.9h0M92.6 343.9h0M89.0 371.6h0M97.7 341.0h0M92.1 354.2h0M101.1 340.2h0M100.3 373.8h0M101.2 346.1h0M99.7 349.8h0M99.7 356.9h0M91.9 344.8h0M98.8 369.8h0M91.6 368.4h0M99.9 374.3h0M100.1 379.0h0M94.6 347.9h0M87.9 347.8h0M99.1 378.8h0M96.5 336.8h0M92.4 378.4h0M91.8 350.3h0M94.2 355.3h0M87.7 350.7h0M98.7 360.5h0M94.8 363.0h0M100.4 368.9h0M98.9 369.3h0M100.1 373.1h0M96.3 335.2h0M90.2 343.8h0M98.2 369.7h0M96.1 366.9h0M90.3 351.1h0M99.3 375.3h0M92.5 374.8h0M100.1 379.1h0M102.3 352.4h0M102.2 346.5h0M89.6 373.8h0M97.4 339.1h0M91.9 337.2h0M102.4 365.7h0M101.6 378.3h0M101.7 345.6h0M98.5 350.4h0M99.6 355.6h0M96.2 364.5h0M85.3 369.6h0M91.2 351.2h0M88.6 362.1h0M102.4 364.6h0M100.0 357.2h0M96.0 358.2h0M100.8 355.9h0M92.4 373.3h0M100.0 332.4h0M87.8 374.2h0M85.3 369.3h0M96.0 337.5h0M98.6 377.1h0M91.1 367.4h0M94.5 356.1h0M101.6 366.0h0M99.7 370.4h0M91.3 373.4h0M94.8 336.9h0M92.7 349.5h0M90.1 376.9h0M99.1 376.9h0M93.5 356.4h0M92.8 337.9h0M98.0 370.8h0M93.1 342.3h0M100.6 342.8h0M94.7 348.0h0M94.3 355.6h0M97.9 377.1h0M94.7 345.6h0M98.8 376.1h0M92.2 360.6h0M87.9 346.6h0M100.7 353.8h0M101.7 332.2h0M89.8 374.7h0M96.4 376.8h0M100.6 345.4h0M100.3 368.2h0M95.3 364.7h0M90.4 355.8h0M102.3 364.5h0M86.9 365.6h0M89.2 356.0h0M96.9 369.7h0M88.2 355.9h0M99.8 335.3h0M92.7 377.2h0M97.2 371.9h0M98.1 357.4h0M91.7 345.9h0M101.2 378.9h0M102.7 356.5h0M99.8 345.2h0M100.0 376.0h0M94.6 372.9h0M89.5 341.6h0M100.2 335.4h0M90.7 356.8h0M96.9 358.8h0M88.4 363.2h0M88.8 341.7h0M101.5 366.2h0M96.2 357.4h0M98.2 378.8h0M89.9 377.8h0M86.7 371.5h0M100.3 368.0h0M94.7 347.8h0M102.2 362.4h0M87.3 375.9h0M87.8 356.5h0M98.4 364.7h0M97.0 353.7h0M86.7 360.3h0M83.4 374.4h0M91.1 376.2h0M96.2 374.2h0M102.1 347.7h0M99.5 356.9h0M93.3 369.3h0M87.8 355.6h0M100.5 346.0h0M98.4 352.8h0M89.4 367.3h0M101.6 355.1h0M99.3 362.7h0M98.8 360.5h0M100.8 355.8h0M97.3 340.0h0M100.0 354.2h0M102.4 369.8h0M100.2 370.8h0M102.6 372.3h0M91.4 373.4h0M100.7 345.7h0M100.6 377.8h0M98.9 345.2h0M89.6 372.3h0M94.8 360.3h0M89.5 359.2h0M88.4 344.6h0M99.0 359.0h0M94.2 349.0h0M96.5 373.2h0M103.1 357.7h0M94.0 360.9h0M102.3 368.5h0M91.8 372.1h0M87.9 357.8h0M95.8 349.9h0M98.7 373.8h0M88.1 371.7h0M91.7 370.9h0M94.3 341.4h0M88.5 376.5h0M99.6 346.6h0M102.6 376.8h0M95.8 335.3h0M90.2 355.4h0M99.4 352.6h0M91.7 367.2h0M98.7 354.2h0M93.7 371.6h0M88.9 362.7h0M90.9 379.1h0M90.6 365.4h0M91.5 365.3h0M100.9 374.6h0M93.2 372.9h0M95.8 358.8h0M93.9 378.2h0M90.1 342.8h0M89.0 372.1h0M98.9 377.4h0M102.7 352.2h0M101.7 346.1h0M99.2 358.4h0M101.1 339.5h0M93.6 357.7h0M86.6 370.7h0M98.4 375.3h0M91.2 336.5h0M89.5 353.8h0M94.3 354.8h0M101.6 376.7h0M99.0 376.1h0M101.3 374.8h0M90.8 339.5h0M92.8 371.7h0M93.7 359.7h0M91.0 373.4h0M102.6 373.5h0M92.3 356.0h0M91.6 373.8h0M95.0 375.6h0M101.7 374.2h0M88.7 371.3h0M97.5 346.7h0" stroke="#3a77be" stroke-width="3.20" stroke-linecap="round" fill="none"/>
<path d="M97.6 228.3h0M102.7 247.3h0M97.6 254.5h0M99.0 262.9h0M80.9 267.4h0M81.6 268.5h0M97.8 276.4h0M102.7 289.5h0M84.3 292.4h0M84.1 300.0h0M81.6 301.5h0M100.2 304.2h0M101.9 307.6h0M102.5 310.0h0M60.8 331.9h0M71.4 327.1h0M71.4 350.6h0M77.8 349.9h0M64.4 362.6h0M65.1 366.2h0M63.2 369.1h0M80.2 319.5h0M84.1 323.1h0M88.1 317.6h0M91.4 320.2h0M95.1 319.1h0M98.3 324.2h0M100.9 327.5h0M99.0 313.6h0M101.6 312.6h0M74.6 371.3h0M76.1 377.2h0M79.7 365.2h0M80.5 344.3h0M84.1 328.2h0M95.0 315.0h0M92.0 326.0h0M88.0 330.0h0M102.0 318.0h0M79.0 372.0h0M81.0 357.0h0M78.0 360.0h0M69.0 374.0h0M73.0 366.0h0M75.5 375.5h0M78.5 368.5h0M81.5 374.0h0M83.0 369.0h0M80.5 378.0h0M77.0 373.0h0M82.5 362.0h0M86.0 339.0h0M89.0 334.0h0M84.0 347.0h0M86.5 353.0h0" stroke="#3a77be" stroke-width="3.20" stroke-linecap="round" fill="none"/>
<path d="M163.2 378.1h0M162.0 378.7h0M159.0 374.3h0M166.1 375.8h0M151.0 375.2h0M147.4 376.4h0M150.8 366.0h0M145.7 373.1h0M162.6 373.7h0M163.9 370.2h0M146.4 376.8h0M163.3 378.5h0M150.7 374.6h0M150.9 371.7h0M151.8 374.2h0M158.4 372.5h0M162.6 369.3h0M166.5 377.2h0M163.8 379.3h0M164.3 377.9h0M153.5 377.4h0M152.9 369.2h0M163.0 370.7h0M146.6 375.0h0M151.1 377.7h0M160.4 368.0h0M162.9 374.0h0M152.9 376.2h0M160.4 379.3h0M145.6 369.9h0M155.0 370.0h0M160.7 378.0h0M159.7 374.8h0M163.3 378.0h0M150.4 370.4h0M156.6 363.1h0M153.8 376.8h0M149.8 370.7h0M148.5 376.0h0M157.8 376.3h0M165.9 373.0h0M147.1 373.8h0M162.3 378.1h0M159.9 378.5h0M147.8 377.4h0M160.5 365.9h0M154.0 376.7h0M166.1 378.6h0M146.3 364.3h0M156.2 375.0h0M163.6 374.2h0M164.5 368.7h0M158.3 374.0h0M156.8 369.4h0M160.3 364.9h0M147.6 376.0h0M150.6 367.1h0M162.2 369.6h0M147.6 363.1h0M156.0 376.7h0M148.5 372.6h0M149.5 371.9h0M151.3 373.4h0M147.0 374.3h0M148.7 376.7h0M147.7 364.8h0M149.0 373.8h0M150.2 376.9h0M163.1 371.2h0M148.2 378.5h0M159.4 369.2h0M151.3 377.9h0M146.2 377.1h0M147.9 363.7h0M160.0 379.0h0M154.3 377.8h0M153.5 375.4h0M146.9 371.4h0M154.7 376.6h0M146.9 372.4h0M160.7 370.6h0M146.0 368.2h0M158.3 374.3h0M154.0 377.4h0M165.1 375.7h0M164.4 367.3h0M158.0 378.4h0M154.6 377.7h0M161.4 365.7h0M155.8 374.1h0M165.4 376.6h0M153.3 373.7h0M152.0 376.5h0M145.7 369.5h0M157.3 365.8h0M157.9 378.0h0M156.3 373.1h0M166.3 379.0h0M149.5 368.2h0M162.2 372.0h0M154.3 377.6h0M149.2 378.1h0M161.4 375.7h0M150.0 371.8h0M149.3 375.3h0M162.1 371.8h0M157.7 370.1h0M157.2 373.4h0M155.5 364.4h0M157.3 366.7h0M150.5 373.2h0M160.3 368.3h0M147.8 366.1h0M162.2 368.1h0M159.2 377.4h0M166.1 376.2h0M158.9 378.0h0M156.9 364.3h0M146.7 378.5h0M157.3 374.4h0" stroke="#e41a1c" stroke-width="3.20" stroke-linecap="round" fill="none"/>
<path d="M147.1 344.3h0M150.8 347.7h0M145.7 354.1h0M155.6 356.7h0M158.8 359.3h0M163.9 358.5h0M165.4 358.6h0M189.0 357.4h0M180.7 374.2h0M197.5 378.3h0M201.6 375.1h0M148.0 346.0h0M152.0 350.0h0M160.0 368.0h0M168.0 376.0h0M169.0 372.0h0" stroke="#e41a1c" stroke-width="3.20" stroke-linecap="round" fill="none"/>
<line x1="103.30" y1="219.50" x2="103.30" y2="404.50" stroke="#a8a8a8" stroke-width="0.75" stroke-dasharray="1,2.6"/>
<line x1="145.30" y1="219.50" x2="145.30" y2="404.50" stroke="#a8a8a8" stroke-width="0.75" stroke-dasharray="1,2.6"/>
<line x1="25.30" y1="379.70" x2="209.50" y2="379.70" stroke="#a8a8a8" stroke-width="0.75" stroke-dasharray="1,2.6"/>
<rect x="25.30" y="219.50" width="184.20" height="185.00" fill="none" stroke="#9a9a9a" stroke-width="0.9"/>
<line x1="40.30" y1="404.50" x2="40.30" y2="406.70" stroke="#555" stroke-width="0.9" />
<text x="40.30" y="415.80" font-size="8.6" text-anchor="middle" fill="#222" >−4</text>
<line x1="82.30" y1="404.50" x2="82.30" y2="406.70" stroke="#555" stroke-width="0.9" />
<text x="82.30" y="415.80" font-size="8.6" text-anchor="middle" fill="#222" >−2</text>
<line x1="124.30" y1="404.50" x2="124.30" y2="406.70" stroke="#555" stroke-width="0.9" />
<text x="124.30" y="415.80" font-size="8.6" text-anchor="middle" fill="#222" >0</text>
<line x1="166.30" y1="404.50" x2="166.30" y2="406.70" stroke="#555" stroke-width="0.9" />
<text x="166.30" y="415.80" font-size="8.6" text-anchor="middle" fill="#222" >2</text>
<line x1="208.30" y1="404.50" x2="208.30" y2="406.70" stroke="#555" stroke-width="0.9" />
<text x="208.30" y="415.80" font-size="8.6" text-anchor="middle" fill="#222" >4</text>
<line x1="23.10" y1="396.40" x2="25.30" y2="396.40" stroke="#555" stroke-width="0.9" />
<text x="22.10" y="399.50" font-size="8.6" text-anchor="end" fill="#222" >0</text>
<line x1="23.10" y1="332.20" x2="25.30" y2="332.20" stroke="#555" stroke-width="0.9" />
<text x="22.10" y="335.30" font-size="8.6" text-anchor="end" fill="#222" >5</text>
<line x1="23.10" y1="268.00" x2="25.30" y2="268.00" stroke="#555" stroke-width="0.9" />
<text x="22.10" y="271.10" font-size="8.6" text-anchor="end" fill="#222" >10</text>
<text x="116.70" y="214.10" font-size="9.6" text-anchor="middle" fill="#000" >Saline vs RT</text>
<text x="118.00" y="425.60" font-size="9.6" text-anchor="middle" fill="#000" >log2(FC)</text>
<text transform="translate(8.80,313.00) rotate(-90)" font-size="8.8" text-anchor="middle">−log10(PValue)</text>
<rect x="245.40" y="219.70" width="182.10" height="185.40" fill="#fff" />
<line x1="275.05" y1="219.70" x2="275.05" y2="405.10" stroke="#f3f3f3" stroke-width="0.6" />
<line x1="341.95" y1="219.70" x2="341.95" y2="405.10" stroke="#f3f3f3" stroke-width="0.6" />
<line x1="408.85" y1="219.70" x2="408.85" y2="405.10" stroke="#f3f3f3" stroke-width="0.6" />
<line x1="245.40" y1="372.25" x2="427.50" y2="372.25" stroke="#f3f3f3" stroke-width="0.6" />
<line x1="245.40" y1="324.15" x2="427.50" y2="324.15" stroke="#f3f3f3" stroke-width="0.6" />
<line x1="245.40" y1="276.05" x2="427.50" y2="276.05" stroke="#f3f3f3" stroke-width="0.6" />
<line x1="245.40" y1="227.95" x2="427.50" y2="227.95" stroke="#f3f3f3" stroke-width="0.6" />
<line x1="308.50" y1="219.70" x2="308.50" y2="405.10" stroke="#e8e8e8" stroke-width="0.9" />
<line x1="375.40" y1="219.70" x2="375.40" y2="405.10" stroke="#e8e8e8" stroke-width="0.9" />
<line x1="245.40" y1="396.30" x2="427.50" y2="396.30" stroke="#e8e8e8" stroke-width="0.9" />
<line x1="245.40" y1="348.20" x2="427.50" y2="348.20" stroke="#e8e8e8" stroke-width="0.9" />
<line x1="245.40" y1="300.10" x2="427.50" y2="300.10" stroke="#e8e8e8" stroke-width="0.9" />
<line x1="245.40" y1="252.00" x2="427.50" y2="252.00" stroke="#e8e8e8" stroke-width="0.9" />
<path d="M300.6 354.3h0M301.4 366.5h0M301.4 353.6h0M300.0 370.0h0M300.3 345.5h0M298.2 339.1h0M301.0 359.2h0M299.3 364.4h0M295.9 370.7h0M298.0 334.5h0M296.5 339.7h0M297.6 337.3h0M295.5 349.2h0M298.2 343.1h0M297.1 329.7h0M295.7 365.6h0M296.5 331.5h0M296.5 339.4h0M295.9 337.5h0M297.3 333.6h0M299.8 341.4h0M300.4 361.5h0M299.8 342.4h0M300.4 345.4h0M298.3 366.4h0M300.0 353.3h0M295.7 328.6h0M300.9 358.9h0M299.7 344.4h0M303.5 369.8h0M299.1 362.3h0M297.1 358.0h0M301.1 360.3h0M299.4 362.6h0M300.1 364.5h0M301.2 358.5h0M297.5 328.8h0M297.9 352.0h0M297.1 369.2h0M296.1 368.1h0M295.5 368.7h0M299.2 367.7h0M302.6 361.8h0M297.5 329.8h0M298.8 362.1h0M302.2 365.3h0M295.5 365.1h0M296.6 340.2h0M298.5 347.8h0M296.2 334.1h0M296.6 329.2h0M299.6 354.6h0M296.1 340.4h0M298.7 336.4h0M298.2 363.8h0M295.5 345.7h0M298.9 337.8h0M295.8 332.0h0M296.5 370.2h0M301.3 369.5h0M298.4 362.6h0M295.8 335.7h0M297.2 366.1h0M299.4 362.8h0M298.0 358.9h0M297.6 356.0h0M299.5 343.3h0M296.3 360.7h0M296.9 334.8h0M295.7 332.2h0M298.9 346.9h0M297.0 344.5h0M296.6 349.1h0M303.7 367.7h0M303.4 371.3h0M298.9 352.1h0M302.7 371.3h0M299.9 348.4h0M298.3 349.9h0M299.6 367.6h0M297.6 336.5h0M298.2 364.9h0M298.2 363.5h0M299.5 363.3h0M297.7 352.8h0M303.4 368.5h0M295.7 339.4h0M301.1 363.4h0M298.4 355.1h0M298.6 338.1h0M296.5 361.6h0M299.2 339.4h0M297.7 336.0h0M300.5 359.3h0M299.4 340.2h0M297.0 369.8h0M297.0 362.6h0M298.8 338.7h0M298.1 339.8h0M300.3 352.0h0M298.3 365.4h0M296.9 349.6h0M297.2 354.6h0M298.5 358.6h0M300.6 359.5h0M301.2 355.0h0M301.0 358.1h0M302.3 368.6h0M301.1 365.8h0M303.0 365.9h0M303.7 367.4h0M298.1 354.6h0M297.3 360.2h0M296.7 329.8h0M300.5 363.7h0M297.7 361.8h0M295.8 334.4h0M300.4 360.2h0M299.9 356.9h0M298.7 342.3h0M297.2 341.0h0M297.6 371.2h0M299.3 343.0h0M297.8 341.7h0M296.4 340.3h0M297.0 325.6h0M295.6 349.5h0M297.0 347.3h0M304.1 370.6h0M299.1 361.4h0M299.1 362.7h0M302.6 358.6h0M301.9 363.0h0M298.9 353.6h0M296.5 339.0h0M297.1 355.2h0M302.7 369.1h0M297.5 356.8h0M296.2 334.9h0M296.9 354.7h0M300.5 363.2h0M301.5 360.1h0M297.5 332.2h0M303.3 363.1h0M301.3 369.3h0M297.1 344.6h0M299.5 367.4h0M296.0 334.2h0M298.3 369.7h0M295.6 347.4h0M300.6 370.6h0M296.6 344.8h0M302.5 359.8h0M297.8 371.1h0M299.8 362.6h0M298.4 345.9h0M299.6 371.1h0M303.7 367.3h0M296.0 360.9h0M299.7 361.1h0" stroke="#7f7f7f" stroke-width="2.80" stroke-linecap="round" fill="none"/>
<path d="M315.0 343.5h0M318.6 341.2h0M315.7 342.6h0M317.9 326.9h0M315.2 351.4h0M318.0 366.9h0M314.1 369.7h0M318.2 341.9h0M316.5 340.9h0M317.6 324.7h0M320.6 340.8h0M313.7 336.2h0M319.9 341.6h0M320.9 336.9h0M313.8 369.3h0M320.1 368.5h0M318.1 339.7h0M313.5 338.4h0M317.7 371.1h0M311.6 361.7h0M316.9 365.2h0M321.8 367.6h0M311.1 359.0h0M319.1 341.8h0M317.3 360.1h0M318.9 358.9h0M310.0 368.8h0M321.3 340.5h0M319.2 368.6h0M314.9 339.7h0M317.0 361.0h0M314.6 357.1h0M321.3 341.5h0M320.8 330.2h0M316.9 363.6h0M314.5 337.1h0M312.9 341.0h0M314.3 343.4h0M312.5 352.1h0M315.3 367.3h0M319.1 351.6h0M311.0 370.3h0M312.0 353.9h0M312.5 363.3h0M314.1 353.8h0M319.4 357.3h0M313.4 338.0h0M316.7 348.8h0M318.4 326.8h0M319.5 331.9h0M318.8 345.5h0M321.3 354.1h0M320.0 328.3h0M320.6 341.9h0M310.0 364.8h0M312.4 354.9h0M315.3 345.1h0M319.7 337.3h0M320.8 331.2h0M321.5 337.3h0M317.9 368.3h0M317.9 364.5h0M310.6 370.0h0M319.7 360.4h0M318.5 352.7h0M321.7 334.3h0M320.8 362.3h0M311.9 345.8h0M314.9 330.7h0M320.1 364.6h0M318.8 325.2h0M318.6 368.1h0M318.4 368.3h0M321.4 357.3h0M318.7 338.0h0M319.1 338.6h0M312.8 339.4h0M318.6 363.2h0M313.6 357.8h0M320.3 324.9h0M316.6 351.9h0M311.6 366.9h0M319.5 349.3h0M316.2 363.6h0M310.2 365.6h0M316.0 338.1h0M312.7 349.5h0M310.8 363.3h0M314.6 366.6h0M321.3 361.7h0M317.3 368.8h0M317.3 340.9h0M319.5 345.8h0M316.8 345.4h0M321.3 353.0h0M310.8 354.4h0M314.5 331.6h0M315.6 336.3h0M321.3 334.1h0M313.3 354.8h0M315.7 355.4h0M316.6 353.1h0M312.7 367.9h0M317.6 324.8h0M319.9 331.6h0M314.7 354.7h0M320.6 331.7h0M313.2 348.3h0M318.0 345.8h0M318.3 371.1h0M319.3 362.5h0M321.3 339.7h0M312.6 355.6h0M319.8 361.9h0M316.1 329.7h0M318.2 335.8h0M313.7 341.5h0M316.3 344.9h0M315.8 354.0h0M311.8 362.0h0M317.8 362.6h0M316.5 349.5h0M319.9 355.2h0M312.8 365.1h0M319.7 345.4h0M311.4 366.7h0M316.9 324.4h0M313.8 340.0h0M313.0 358.2h0M320.2 351.2h0M315.4 366.1h0M318.0 364.5h0M313.7 338.1h0M313.6 346.1h0M316.7 333.1h0M316.5 368.7h0M315.4 353.8h0M310.2 371.2h0M319.3 350.4h0M315.9 354.1h0M314.4 351.2h0M315.8 340.2h0M315.3 326.3h0M317.1 334.9h0M318.8 345.4h0M316.7 348.1h0M316.8 340.8h0M312.7 360.4h0M318.5 330.9h0M319.4 338.4h0M312.3 344.2h0M315.7 353.7h0M313.5 342.7h0M321.7 360.0h0M312.2 347.9h0M311.4 370.6h0M312.7 368.0h0M313.7 339.2h0M313.8 342.4h0M314.6 328.9h0M317.3 356.8h0M315.9 353.5h0M321.1 363.0h0M321.3 370.5h0M313.9 364.8h0M320.3 361.1h0M311.7 348.4h0M317.9 329.5h0M320.2 356.1h0M314.0 339.6h0M310.6 366.9h0M311.9 351.8h0M318.2 352.5h0M319.4 336.7h0M317.8 333.7h0M318.3 359.8h0M315.3 358.6h0M317.9 324.2h0M318.1 363.4h0M312.4 367.9h0M311.9 344.2h0M320.0 337.1h0M320.1 325.6h0M313.1 363.9h0M317.6 329.4h0M315.6 348.9h0M309.9 368.4h0M309.8 368.2h0M318.1 355.1h0M314.1 335.3h0M315.6 369.3h0M317.0 370.2h0M318.2 369.1h0M318.2 344.4h0M321.1 325.4h0M318.8 324.2h0M315.1 361.8h0M319.4 353.4h0M314.1 337.6h0M315.1 339.4h0M315.9 354.6h0M310.6 368.2h0M311.1 365.5h0M321.4 339.3h0M314.3 360.6h0M320.3 346.7h0M320.4 333.0h0M318.3 354.3h0M319.1 354.5h0M316.2 362.1h0M318.4 334.5h0M316.6 355.5h0M313.1 370.9h0M316.9 343.7h0M312.9 356.4h0M314.6 362.6h0M313.5 363.9h0M321.5 355.7h0M319.4 337.5h0M315.2 342.0h0M314.5 370.3h0M313.6 369.9h0M318.6 336.4h0M314.9 344.2h0M315.2 369.0h0M317.4 347.4h0M316.7 340.0h0M319.5 361.7h0M319.0 353.9h0M321.3 338.3h0M315.0 355.3h0M315.7 348.8h0M314.2 361.2h0M320.3 371.2h0M316.5 345.9h0M316.5 369.6h0M315.8 364.8h0M317.3 353.8h0M313.6 359.9h0M319.7 357.3h0M320.3 330.0h0M314.6 343.3h0M313.1 343.9h0M321.0 359.3h0M311.8 356.9h0M317.6 335.6h0M313.8 329.8h0M315.1 359.0h0M313.8 338.5h0M312.5 370.4h0M312.6 344.8h0M312.4 347.1h0M319.2 365.3h0M316.7 368.2h0M313.1 356.6h0M314.1 336.0h0M314.4 333.4h0M317.3 331.3h0M318.3 358.8h0M317.6 354.6h0M317.2 324.2h0M318.8 330.1h0M314.9 332.8h0M317.7 325.1h0M315.9 345.3h0M320.3 344.0h0M311.5 352.0h0M320.6 350.6h0M313.9 333.7h0M314.7 368.9h0M315.3 342.2h0M315.7 337.9h0M315.7 342.3h0M319.1 327.6h0M317.0 368.1h0M316.8 345.4h0M320.3 358.4h0M320.8 345.1h0M312.2 358.8h0M317.0 331.0h0M318.9 361.3h0M313.6 341.8h0M313.1 349.3h0M310.6 369.7h0M311.3 371.0h0M312.9 371.2h0M313.8 371.6h0M314.1 329.0h0M315.5 331.3h0M313.5 371.2h0M316.1 353.9h0M319.8 344.2h0M317.7 324.2h0M316.0 363.6h0M313.9 329.2h0M320.9 361.3h0M314.2 346.6h0M312.7 364.6h0M316.5 362.4h0M316.0 368.6h0M317.4 347.6h0M315.5 364.7h0M317.2 350.2h0M311.6 365.9h0M317.8 370.9h0M314.5 333.3h0M315.7 335.4h0M318.5 332.7h0M320.9 330.8h0M319.3 365.9h0M318.1 335.1h0M319.9 357.1h0M312.6 366.9h0M318.9 336.5h0M316.1 323.9h0M319.6 345.2h0M317.0 367.6h0M312.8 368.5h0M320.5 334.3h0M319.1 340.9h0" stroke="#7f7f7f" stroke-width="2.80" stroke-linecap="round" fill="none"/>
<path d="M284.8 380.3h0M301.7 397.0h0M324.9 395.6h0M335.1 381.7h0M294.4 395.3h0M311.4 397.1h0M275.6 392.2h0M285.8 387.6h0M333.2 383.7h0M275.8 389.8h0M326.2 376.3h0M334.8 381.8h0M284.8 385.8h0M295.5 377.6h0M314.4 395.7h0M310.8 385.7h0M318.6 390.6h0M289.3 380.4h0M303.6 384.1h0M337.7 378.6h0M285.2 376.9h0M304.2 386.4h0M282.7 384.9h0M317.5 374.9h0M302.3 376.7h0M277.3 386.8h0M329.8 385.5h0M334.5 386.6h0M287.9 381.9h0M277.4 387.0h0M281.6 381.0h0M342.3 373.2h0M293.0 388.3h0M315.9 393.7h0M330.4 383.7h0M327.5 377.9h0M328.2 393.7h0M293.8 374.8h0M330.1 394.5h0M315.8 381.0h0M287.7 377.2h0M271.9 383.8h0M317.2 393.1h0M325.7 395.0h0M311.1 391.4h0M315.2 389.0h0M327.1 374.2h0M297.6 383.4h0M271.5 389.1h0M315.5 380.8h0M336.5 378.7h0M292.4 397.7h0M285.9 376.9h0M312.5 381.3h0M310.5 388.7h0M325.1 373.6h0M338.0 390.6h0M326.7 394.4h0M333.2 377.9h0M297.7 389.1h0M307.1 392.0h0M300.4 390.2h0M295.4 380.6h0M316.2 383.5h0M294.8 383.2h0M296.3 380.3h0M296.0 386.6h0M277.0 381.5h0M317.7 381.4h0M328.5 379.2h0M302.4 383.7h0M292.2 384.9h0M275.1 392.9h0M315.8 384.9h0M282.2 378.7h0M300.8 375.2h0M343.1 373.6h0M311.6 378.5h0M323.3 387.4h0M323.3 395.0h0M284.8 379.1h0M318.3 397.2h0M336.6 385.8h0M281.6 373.9h0M300.8 393.3h0M331.8 393.2h0M287.7 376.9h0M311.1 384.3h0M283.0 396.9h0M281.4 385.2h0M322.9 377.4h0M282.7 390.7h0M337.5 384.5h0M337.5 387.5h0M304.0 378.8h0M284.4 381.5h0M338.4 389.3h0M325.3 395.1h0M332.9 380.1h0M318.6 375.8h0M327.7 393.8h0M278.6 393.8h0M291.0 385.3h0M333.0 372.6h0M283.9 378.4h0M332.0 395.5h0M301.6 374.6h0M331.2 379.5h0M314.1 397.2h0M326.4 388.4h0M314.2 385.3h0M322.4 396.0h0M318.1 394.0h0M311.1 382.8h0M284.7 388.6h0M330.6 385.7h0M313.5 376.2h0M271.6 393.6h0M275.8 385.3h0M312.5 382.6h0M292.5 386.8h0M311.4 374.2h0M292.9 390.2h0M313.2 378.9h0M328.2 389.1h0M289.4 382.3h0M283.3 373.1h0M287.8 381.0h0M297.6 374.2h0M328.4 383.5h0M267.1 389.0h0M274.7 389.6h0M301.2 385.6h0M294.3 394.4h0M289.3 374.8h0M309.5 390.2h0M284.1 385.6h0M322.9 374.7h0M332.8 380.5h0M305.6 379.3h0M328.0 387.8h0M298.5 380.6h0M327.2 380.0h0M284.4 372.5h0M299.9 395.6h0M315.4 378.5h0M294.0 380.2h0M291.5 378.8h0M293.2 396.5h0M326.2 392.7h0M291.0 388.6h0M312.7 393.6h0M278.2 379.5h0M288.7 374.1h0M285.8 377.2h0M333.9 391.1h0M294.0 380.1h0M298.8 394.2h0M289.7 385.2h0M328.1 373.9h0M317.6 372.3h0M286.1 389.5h0M317.8 395.1h0M328.7 377.7h0M342.8 372.5h0M324.6 382.5h0M284.7 380.3h0M323.9 395.7h0M303.3 394.9h0M292.1 394.5h0M294.9 379.0h0M276.8 393.2h0M331.0 377.5h0M277.5 395.8h0M331.3 385.2h0M285.8 385.2h0M280.7 394.3h0M314.3 372.1h0M319.1 377.7h0M326.8 378.5h0M308.5 388.9h0M294.2 374.8h0M295.8 373.3h0M331.0 379.8h0M300.5 389.3h0M302.0 373.2h0M312.4 381.9h0M283.7 390.5h0M330.4 387.7h0M282.3 379.8h0M333.5 382.2h0M318.2 372.0h0M312.2 394.9h0M334.2 394.0h0M295.8 380.6h0M304.8 382.6h0M315.5 382.2h0M300.8 389.7h0M301.8 380.1h0M305.1 375.1h0M302.6 394.4h0M290.6 385.1h0M340.8 383.7h0M289.8 378.1h0M326.1 384.7h0M285.1 379.6h0M317.7 381.0h0M319.3 379.2h0M287.2 380.0h0M330.2 376.4h0M319.7 394.8h0M286.9 397.8h0M319.7 384.0h0M301.8 394.1h0M313.0 390.9h0M280.1 386.5h0M329.5 379.5h0M289.2 378.7h0M279.7 380.5h0M285.9 372.1h0M300.2 382.3h0M314.8 378.9h0M340.0 375.7h0M303.8 373.9h0M302.2 381.0h0M301.3 377.4h0M295.7 389.3h0M289.3 378.9h0M275.0 382.3h0M283.2 389.6h0M304.7 377.6h0M306.2 383.8h0M314.1 386.7h0M271.2 388.4h0M313.2 382.8h0M316.9 393.0h0M302.4 378.7h0M315.6 372.3h0M339.6 387.3h0M288.0 385.0h0M321.8 385.8h0M294.5 394.2h0M297.1 387.1h0M330.3 396.1h0M334.1 376.7h0M290.0 389.4h0M338.1 378.1h0M278.8 379.6h0M292.7 377.0h0M329.9 386.8h0M291.8 376.6h0M297.0 381.6h0M340.0 372.4h0M275.3 392.3h0M302.2 387.9h0M315.7 392.5h0M334.1 393.2h0M319.1 387.0h0M280.5 389.8h0M309.2 391.9h0M337.1 374.8h0M307.1 394.1h0M331.7 375.5h0M330.6 392.5h0M291.8 374.6h0M322.8 390.0h0M343.2 376.5h0M281.3 378.5h0M306.9 391.5h0M304.0 393.1h0M280.5 391.7h0M323.9 376.4h0M303.1 372.7h0M303.3 372.7h0M291.9 385.1h0M323.8 378.8h0M325.8 385.6h0M318.8 390.7h0M327.4 393.4h0M281.0 382.0h0M304.4 397.2h0M335.3 392.7h0M300.4 392.5h0M320.4 386.8h0M284.1 394.9h0M270.8 384.6h0M317.7 389.4h0M297.2 378.7h0M291.9 392.0h0M299.1 385.4h0M273.0 387.8h0M292.7 376.0h0M298.7 383.9h0M276.1 387.1h0M282.6 393.0h0M333.5 389.3h0M329.3 389.3h0M329.5 378.3h0M286.3 390.7h0M274.0 382.3h0M284.5 393.4h0M319.2 392.3h0M327.2 376.4h0M284.3 384.2h0M320.8 380.1h0M292.6 380.5h0M332.5 377.5h0M335.0 392.5h0M280.6 385.1h0M303.2 388.1h0M318.1 390.1h0M268.8 390.3h0M284.6 385.9h0M303.3 385.1h0M340.9 371.7h0M320.1 381.3h0M321.9 385.7h0M333.3 392.1h0M293.7 379.7h0M298.8 391.3h0M305.0 383.0h0M337.7 382.1h0M290.7 390.3h0M332.7 378.4h0M335.5 374.1h0M331.7 388.2h0M311.1 389.2h0M293.2 373.9h0M295.6 394.9h0M285.3 397.7h0M316.4 383.8h0M318.7 385.8h0M341.9 377.6h0M339.6 387.5h0M316.1 394.2h0M277.2 394.9h0M323.5 382.6h0M339.1 381.9h0M318.1 372.0h0M288.7 384.3h0M280.8 392.5h0M297.0 396.1h0M278.2 385.6h0M323.1 383.0h0M294.1 378.0h0M283.5 376.2h0M317.0 392.1h0M295.7 373.1h0M287.0 373.1h0M332.6 388.7h0M278.7 386.4h0M310.1 396.2h0M333.7 373.7h0M297.8 373.2h0M292.8 376.6h0M297.9 379.5h0M338.7 388.0h0M337.5 384.8h0M292.2 383.0h0M273.5 382.2h0M323.7 387.8h0M309.8 382.4h0M340.4 386.3h0M325.1 386.5h0M340.5 382.0h0M314.5 382.6h0M324.0 386.4h0M284.4 388.6h0M321.7 380.8h0M331.3 372.1h0M284.0 393.7h0M275.0 382.3h0M279.2 395.5h0M287.5 379.4h0M326.5 379.3h0M317.9 374.0h0M310.6 392.3h0M333.1 375.5h0M275.5 383.5h0M311.3 372.3h0M287.7 382.9h0M339.7 381.5h0M275.4 381.2h0M272.5 386.5h0M310.3 384.6h0M276.0 391.2h0M310.6 390.0h0M305.1 395.8h0M294.3 397.4h0M291.3 397.0h0M284.9 387.8h0M280.3 382.7h0M315.7 384.5h0M295.7 396.3h0M319.8 389.5h0M296.9 383.1h0M323.2 373.8h0M291.3 391.5h0M277.2 383.8h0M312.7 382.4h0M286.5 395.4h0M331.9 383.8h0M310.6 387.0h0M333.2 383.1h0M308.8 390.2h0M316.6 372.8h0M290.5 375.1h0M285.1 390.4h0M302.9 392.7h0M318.2 393.6h0M327.4 393.8h0M323.0 377.3h0M321.6 377.4h0M323.6 387.4h0M303.0 386.3h0M282.0 397.6h0M327.7 385.6h0M341.0 378.3h0M312.5 392.6h0M339.0 383.3h0M270.4 390.5h0M304.8 380.2h0M304.8 393.0h0M286.5 376.0h0M310.5 385.2h0M325.9 385.7h0M330.8 378.0h0M288.4 375.4h0M290.3 389.4h0M306.4 385.3h0M332.9 376.8h0M313.2 381.7h0M332.8 386.0h0M285.1 394.0h0M313.0 395.6h0M294.0 375.3h0M294.4 397.3h0M334.9 389.8h0M339.9 380.0h0M326.8 386.2h0M299.6 384.5h0M285.1 380.5h0M290.5 394.8h0M279.9 397.3h0M311.0 396.0h0M302.2 397.5h0M298.9 373.0h0M307.4 392.6h0M286.1 388.9h0M290.5 392.2h0M325.6 391.1h0M279.9 385.7h0M329.6 393.4h0M317.8 393.2h0M285.6 396.6h0M334.1 375.0h0M299.6 394.4h0M339.1 388.2h0M288.8 380.9h0M310.7 372.8h0M325.7 383.0h0M273.7 387.9h0M281.4 386.5h0M294.3 379.5h0M288.1 385.6h0M315.7 381.9h0M281.6 396.4h0M279.0 381.2h0M272.3 386.7h0M342.0 380.0h0M301.7 397.0h0M280.7 395.2h0M337.4 380.5h0M333.5 373.4h0M275.6 387.0h0M310.6 389.7h0M326.8 385.4h0M339.4 381.8h0M303.9 390.7h0M326.7 385.7h0M314.9 372.2h0M291.5 394.6h0M333.2 373.9h0M327.9 393.2h0M304.5 380.2h0M288.2 385.9h0M329.4 376.0h0M282.7 394.5h0M284.3 386.1h0M313.1 377.4h0M284.6 391.3h0M298.0 391.8h0M271.8 389.1h0M278.9 390.6h0M291.3 383.6h0M317.0 386.1h0M314.9 397.0h0M291.5 385.3h0M327.3 377.1h0M272.5 384.7h0M291.3 377.7h0M301.0 373.1h0M324.7 384.3h0M292.4 389.3h0M293.1 376.2h0M293.3 376.0h0M291.8 394.0h0M292.0 383.1h0M284.1 373.1h0M298.8 379.3h0M294.6 381.6h0M303.2 378.0h0M294.1 383.3h0M268.8 387.0h0M336.5 376.1h0M289.2 381.4h0M291.0 376.6h0M300.7 385.8h0M333.9 382.7h0M291.1 380.2h0M330.9 371.8h0M291.6 389.7h0M315.0 372.4h0M315.2 375.2h0M289.8 380.7h0M325.4 387.7h0M326.5 391.6h0M283.5 379.7h0M303.7 392.3h0M333.1 382.1h0M294.0 383.1h0M290.4 379.3h0M296.2 395.0h0M318.5 395.0h0M306.0 386.0h0M321.8 386.5h0M300.6 393.7h0M292.3 392.3h0M301.7 374.2h0M313.9 376.1h0M318.1 396.9h0M343.9 372.6h0M330.2 384.5h0M282.5 384.8h0M295.4 393.4h0M316.5 380.9h0M317.7 380.2h0M329.0 375.3h0M313.5 390.1h0M299.1 374.1h0M291.3 381.4h0M340.8 384.8h0M297.6 386.6h0M284.6 396.5h0M314.3 378.9h0M298.5 375.8h0M291.7 376.4h0M270.5 385.0h0M322.6 374.0h0M317.1 381.6h0M292.5 390.6h0M306.9 396.8h0M322.1 382.2h0M320.3 372.2h0M281.7 376.8h0M341.4 376.8h0M324.2 392.9h0M285.6 381.1h0M284.6 393.2h0M321.2 379.7h0M323.1 386.9h0M313.7 390.9h0M321.2 372.9h0M331.5 374.0h0M333.3 377.4h0M292.1 387.4h0M287.3 384.1h0M321.6 383.0h0M322.6 390.8h0M342.7 380.2h0M329.1 380.2h0M332.1 378.4h0M320.7 375.3h0M328.8 379.0h0M314.4 371.6h0M296.3 384.8h0M326.5 395.9h0M338.6 380.1h0M323.5 381.7h0M323.6 381.9h0M284.9 390.4h0M307.6 394.0h0M316.9 389.8h0M321.8 374.7h0M340.9 380.2h0M292.3 382.4h0M290.9 392.8h0M288.6 378.5h0M294.4 395.1h0M340.5 373.9h0M338.0 382.8h0M296.5 394.7h0M334.1 392.7h0M284.5 382.5h0M305.2 391.3h0M312.8 386.8h0M311.4 373.9h0M288.4 377.1h0M320.0 393.6h0M312.5 378.0h0M323.1 384.3h0M287.7 382.0h0M299.5 387.9h0M312.9 371.6h0M290.1 392.3h0M298.5 381.7h0M280.3 386.5h0M316.3 393.2h0M274.5 384.1h0M289.4 373.2h0M267.1 389.5h0M319.5 393.6h0M282.6 389.1h0M280.6 391.1h0M344.7 372.4h0M312.4 393.6h0M315.8 390.2h0M291.2 396.9h0M312.8 395.8h0M337.8 377.1h0M313.7 389.6h0M311.7 372.6h0M340.7 381.4h0M327.6 393.5h0M325.1 391.1h0M292.9 393.4h0M294.8 387.0h0M293.9 374.5h0M316.5 393.8h0M313.1 373.9h0M325.7 394.2h0M279.3 384.5h0M294.3 385.9h0M280.7 385.3h0M342.8 378.0h0M328.4 380.9h0M295.8 386.4h0M319.7 375.1h0M336.9 387.5h0M283.5 386.3h0M282.7 391.4h0M301.1 397.1h0M288.9 379.1h0M286.2 380.1h0M340.0 379.2h0M297.4 397.8h0M341.8 371.8h0M298.9 387.0h0M328.8 375.0h0M293.8 396.1h0M342.9 372.4h0M340.7 378.1h0M297.2 374.0h0M296.8 376.6h0M283.2 379.6h0M279.4 379.4h0M336.4 373.4h0M286.7 373.6h0M311.7 378.3h0M304.5 388.2h0M319.2 395.2h0M307.7 398.1h0M296.6 374.0h0M282.0 388.4h0M331.1 382.3h0M282.1 397.5h0M317.6 381.3h0M299.0 378.7h0M292.3 386.2h0M341.3 383.3h0M341.3 377.7h0M320.2 383.8h0M340.0 380.6h0M336.6 375.0h0M289.3 386.4h0M328.9 393.9h0M284.6 387.6h0M306.4 383.7h0M304.4 377.2h0M326.0 391.0h0M287.5 386.3h0M310.0 377.6h0M297.1 384.5h0M282.2 387.1h0M327.5 383.4h0M339.6 376.3h0M284.5 395.4h0M283.2 376.5h0M268.9 387.7h0M299.3 393.2h0M311.7 387.4h0M281.6 374.1h0M289.0 396.9h0M300.6 397.3h0M313.4 383.6h0M316.3 375.6h0M270.4 390.1h0M336.2 374.7h0M292.2 392.6h0M277.0 387.0h0M282.1 377.0h0M309.0 396.8h0M303.1 389.2h0M278.7 390.2h0M277.9 393.0h0M312.0 382.2h0M299.7 382.3h0M311.5 396.1h0M336.8 377.2h0M338.1 377.7h0M329.7 375.7h0M299.9 392.9h0M296.0 374.0h0M288.4 385.8h0M287.4 379.1h0M337.1 390.2h0M338.2 376.6h0M332.9 391.7h0M325.1 394.1h0M305.7 379.8h0M342.1 373.2h0M334.2 374.1h0M325.6 385.9h0M303.4 389.4h0M336.2 387.9h0M314.5 378.6h0M316.1 381.3h0M310.1 373.9h0M336.2 380.2h0M277.4 390.5h0M305.8 394.7h0M299.1 384.8h0M296.9 381.1h0M342.3 381.9h0M314.0 394.9h0M295.7 379.3h0M309.5 390.2h0M317.8 394.6h0M274.2 388.3h0M272.3 392.4h0M276.1 382.4h0M304.2 391.7h0M304.2 387.7h0M305.2 373.7h0M331.2 390.5h0M299.9 388.4h0M279.9 383.0h0M287.6 388.9h0M284.3 394.0h0M309.8 392.6h0M307.2 389.8h0M277.0 380.7h0M337.0 376.3h0M337.6 382.0h0M283.0 383.0h0M282.1 395.4h0M324.8 373.4h0M306.6 388.6h0M274.3 391.1h0M284.0 396.7h0M270.9 393.0h0M316.4 381.6h0M300.4 391.7h0M295.0 380.4h0M332.4 378.6h0M306.5 391.8h0M299.4 373.6h0M307.2 396.9h0M285.4 372.5h0M338.4 384.9h0M292.8 386.8h0M274.9 382.5h0M329.3 384.5h0M316.8 394.4h0M282.1 375.1h0M338.7 382.4h0M327.0 388.0h0M317.2 392.8h0M299.1 373.0h0M292.0 394.7h0M329.8 389.8h0M343.5 375.3h0M286.4 394.7h0M321.5 387.2h0M310.8 394.0h0M310.5 383.4h0M312.7 385.9h0M306.5 392.8h0M293.4 385.9h0M314.7 395.2h0M269.1 390.8h0M323.2 388.5h0M338.8 384.3h0M314.1 385.9h0M311.7 397.8h0M319.0 390.8h0M337.0 371.8h0M325.0 373.1h0M331.6 391.9h0M292.2 381.3h0M322.8 395.3h0M268.8 390.4h0M275.0 385.7h0M288.7 374.5h0M302.7 382.5h0M303.7 398.0h0M316.1 378.6h0M306.2 387.5h0M315.4 385.0h0M328.9 377.8h0M326.8 387.3h0M276.9 386.4h0M334.1 379.8h0M291.7 385.2h0M288.8 387.5h0M290.3 392.7h0M299.7 379.0h0M290.3 388.5h0M286.8 377.0h0M274.9 389.9h0M296.1 383.2h0M336.8 380.5h0M340.3 380.4h0M274.5 387.7h0M340.2 372.9h0M314.6 389.9h0M288.6 378.9h0M273.1 391.2h0M319.8 379.3h0M330.9 392.9h0M287.7 394.2h0M294.3 379.7h0M312.1 391.2h0M273.9 387.7h0M320.9 389.5h0M329.7 396.1h0M292.9 394.5h0M298.5 390.3h0M292.4 389.2h0M291.5 397.3h0M285.8 386.5h0M336.5 383.5h0M285.1 383.6h0M310.9 375.8h0M279.3 381.2h0M317.0 376.5h0M272.8 392.9h0M300.1 384.0h0M305.7 396.3h0M341.0 385.7h0M321.1 387.1h0M340.8 371.8h0M320.4 389.0h0M307.2 389.8h0M272.1 385.3h0M296.1 380.9h0M322.1 388.4h0M329.3 385.6h0M304.2 390.7h0M292.2 381.5h0M329.0 384.2h0M339.9 382.6h0M291.7 383.2h0M298.5 374.0h0M311.4 392.0h0M305.3 394.4h0M337.8 388.8h0M300.2 391.6h0M278.6 390.4h0M300.3 373.0h0M275.3 387.1h0M297.0 375.5h0M311.7 395.5h0M283.4 375.7h0M281.1 375.6h0M270.0 386.5h0M278.2 394.7h0M284.0 373.7h0M301.9 384.6h0M287.8 397.9h0M334.2 383.9h0M315.3 377.2h0M299.3 384.4h0M328.4 386.2h0M291.2 389.2h0M313.3 396.0h0M289.9 388.4h0M291.3 390.2h0M342.4 381.3h0M337.6 387.8h0M341.4 383.0h0M333.4 384.2h0M295.4 391.0h0M300.4 379.7h0M310.1 387.2h0M289.2 394.0h0M338.9 374.7h0M278.3 383.2h0M323.1 376.8h0M293.9 372.4h0M327.6 373.4h0M288.2 384.7h0M333.8 373.4h0M287.2 394.1h0M315.6 382.9h0M325.6 396.6h0M329.0 373.1h0M290.3 377.0h0M301.6 387.9h0M340.5 382.4h0M306.4 387.9h0M336.4 372.6h0M287.9 375.9h0M327.3 391.0h0M299.9 382.4h0M306.3 385.0h0M306.3 388.5h0M277.9 384.4h0M299.1 378.6h0M274.5 391.3h0M292.6 378.1h0M300.9 385.0h0M319.2 372.4h0M293.3 379.6h0M320.9 374.7h0M333.7 377.9h0M318.7 390.4h0M293.9 385.9h0M337.6 388.5h0M322.0 371.8h0M329.8 390.1h0M322.2 386.4h0M291.6 396.1h0M311.2 391.4h0M340.7 372.7h0M271.7 386.7h0M315.6 393.0h0M288.7 389.7h0M290.2 387.3h0M315.2 382.6h0M338.2 375.0h0M325.9 386.1h0M292.0 396.5h0M272.5 392.6h0M325.1 392.3h0M339.1 375.2h0M296.4 371.7h0M298.4 388.7h0M291.8 389.4h0M320.7 378.1h0M288.8 394.3h0M283.8 376.8h0M318.5 383.2h0M288.6 390.8h0M296.1 396.6h0M321.7 380.8h0M272.5 382.8h0M287.3 373.0h0M316.6 396.7h0M317.7 387.8h0M287.8 382.8h0M289.7 375.4h0M322.3 374.4h0M290.9 388.1h0M287.6 396.5h0M297.9 374.5h0M311.6 387.6h0M330.4 395.1h0M312.5 390.7h0M317.0 390.1h0M291.6 392.4h0M269.8 385.8h0M339.0 374.8h0M339.6 375.0h0M285.7 390.5h0M275.7 388.9h0M298.7 376.5h0M328.8 392.1h0M311.6 384.5h0M294.5 391.5h0M300.0 387.9h0M298.1 381.1h0M330.8 373.2h0M274.8 383.2h0M275.2 394.3h0M312.3 377.0h0M303.9 396.4h0M283.8 390.4h0M291.1 384.4h0M302.2 381.9h0M341.3 383.6h0M280.8 382.9h0M332.2 382.9h0M287.2 393.2h0M334.1 384.7h0M321.7 392.4h0M282.3 383.7h0M300.3 379.2h0M327.6 372.5h0M283.1 383.6h0M300.3 381.8h0M311.3 373.8h0M314.0 390.3h0M324.1 373.2h0M309.0 396.9h0M284.9 391.2h0M332.7 374.8h0M295.6 388.9h0M292.4 395.6h0M339.4 386.6h0M336.4 380.9h0M333.7 373.1h0M286.7 389.3h0M330.4 373.7h0M289.1 387.0h0M323.9 378.3h0M327.0 385.5h0M303.3 393.4h0M314.0 374.1h0M295.8 387.0h0M305.7 392.5h0M292.3 386.1h0M332.7 373.3h0M326.4 377.8h0M315.2 376.7h0M284.2 375.0h0M309.7 378.2h0M309.2 386.3h0M283.0 386.4h0M304.0 378.2h0M336.2 372.0h0M286.5 393.2h0M304.7 389.3h0M280.9 374.9h0M331.7 389.9h0M287.3 375.4h0M334.8 381.9h0M284.3 392.5h0M307.6 391.0h0M275.7 383.1h0M313.7 374.1h0M303.0 386.8h0M310.3 392.8h0M326.9 392.9h0M294.1 376.2h0M334.3 384.6h0M317.9 385.9h0M309.3 388.9h0M321.0 388.4h0M291.2 375.6h0M292.4 385.7h0M338.2 388.1h0M338.0 372.8h0M317.1 389.1h0M325.9 395.4h0M331.9 389.6h0M294.5 379.5h0M335.4 373.0h0M335.0 380.9h0M317.2 386.5h0M322.8 388.4h0M294.6 380.7h0M333.3 376.6h0M273.9 393.6h0M312.9 373.6h0M331.4 372.5h0M338.1 374.4h0M301.0 384.7h0M329.3 389.8h0M281.3 387.4h0M282.5 375.5h0M288.2 397.6h0M314.7 385.4h0M289.7 388.3h0M278.7 380.7h0M287.3 376.2h0M287.6 390.3h0M294.5 385.2h0M332.8 393.8h0M319.0 379.9h0M337.1 379.7h0M294.1 393.2h0M312.3 377.9h0M318.6 380.7h0M301.7 379.0h0M288.9 392.9h0M336.5 383.2h0M321.1 395.8h0M294.7 375.9h0M309.7 396.4h0M287.1 384.0h0M294.7 393.3h0M282.9 396.1h0M306.5 395.7h0M315.7 382.0h0M323.6 393.6h0M325.2 372.6h0M280.0 382.7h0M290.7 374.7h0M298.2 383.4h0M309.5 391.3h0M320.3 372.9h0M320.5 387.5h0M300.3 378.3h0M326.0 385.5h0M326.2 395.4h0M343.1 376.0h0M306.9 386.2h0M337.6 380.4h0M281.0 382.6h0M288.1 385.4h0M300.2 397.1h0M299.2 382.1h0M280.2 396.0h0M296.1 387.0h0M293.7 380.6h0M301.6 396.2h0M319.1 392.5h0M308.3 391.9h0M292.3 384.6h0M282.6 396.9h0M332.7 387.2h0M298.8 396.5h0M312.7 396.1h0M317.6 380.3h0M291.9 377.6h0M312.5 384.8h0M277.7 395.1h0M319.1 373.0h0M281.9 397.8h0M277.4 390.7h0M293.4 378.8h0M320.0 376.5h0M332.9 375.4h0M330.0 392.0h0M340.0 372.2h0M330.1 380.6h0M323.8 387.6h0M318.2 393.0h0M305.1 377.8h0M270.5 386.5h0M335.1 391.0h0M305.1 392.5h0M311.9 380.3h0M277.7 382.1h0M341.1 386.8h0M284.2 397.2h0M333.4 394.7h0M333.4 387.4h0M328.3 382.6h0M314.3 388.6h0M290.7 376.0h0M329.4 375.8h0M301.1 387.7h0M325.7 387.3h0M321.8 387.8h0M279.0 393.3h0M273.0 386.8h0M310.9 394.6h0M312.9 380.9h0M303.5 384.1h0M271.5 390.8h0M339.6 377.8h0M273.5 390.1h0M279.2 387.1h0M295.9 378.9h0M296.5 379.1h0M335.8 376.2h0M288.1 387.0h0M286.7 371.6h0M282.5 383.4h0M308.5 396.3h0M325.7 388.6h0M284.1 372.4h0M340.0 372.2h0M310.2 396.0h0M291.6 393.0h0M284.3 373.4h0M331.1 381.6h0M290.2 383.9h0M328.0 373.3h0M330.1 391.9h0M284.7 373.3h0M291.8 395.0h0M327.9 380.5h0M316.1 391.6h0M343.2 377.0h0M272.9 391.0h0M285.9 389.3h0M305.0 381.6h0M304.6 372.2h0M289.0 388.8h0M310.0 384.0h0M299.8 372.0h0M332.6 380.0h0M307.2 389.4h0M320.1 396.3h0M316.1 375.6h0M295.1 385.0h0M294.2 390.9h0M341.4 382.9h0M269.7 392.0h0M276.3 392.2h0M291.1 384.1h0M277.3 387.7h0M281.2 381.5h0M312.8 397.3h0M280.1 390.4h0M303.0 385.7h0M268.7 389.1h0M327.9 377.0h0M325.7 374.2h0M320.2 385.8h0M341.9 382.2h0M298.5 396.5h0M280.6 387.2h0M308.6 395.4h0M320.9 381.6h0M298.0 384.1h0M304.2 377.4h0M325.1 386.7h0M330.7 386.4h0M341.5 387.3h0M327.5 376.2h0M289.4 382.7h0M323.5 378.3h0M340.4 375.5h0M304.6 379.0h0M330.1 389.2h0M323.6 384.5h0M299.8 384.8h0M317.3 381.4h0M304.8 378.4h0M315.6 378.5h0M296.8 384.6h0M291.1 380.6h0M281.9 395.5h0M324.1 373.3h0M317.9 381.2h0M286.2 374.5h0M301.2 377.8h0M274.2 385.5h0M292.0 388.7h0M312.0 392.4h0M331.7 387.4h0M280.6 386.5h0M325.9 382.3h0M300.4 393.7h0M313.5 389.8h0M302.2 391.9h0M314.2 375.2h0M299.2 386.3h0M281.6 390.3h0M315.1 376.2h0M295.4 391.3h0M304.6 373.8h0M312.3 373.2h0M287.8 375.7h0M326.6 373.5h0M278.9 382.0h0M315.8 384.6h0M329.8 371.8h0M315.9 383.5h0M316.8 377.6h0M281.0 391.4h0M291.4 372.4h0M321.5 387.1h0M298.9 374.8h0M306.1 393.1h0M285.3 377.6h0M282.0 395.4h0M278.2 396.7h0M330.1 386.3h0M309.9 393.8h0M281.8 386.6h0M290.6 373.7h0M267.2 388.5h0M321.6 387.1h0M288.0 375.3h0M281.8 375.8h0M292.8 392.0h0M316.5 389.0h0M292.9 387.1h0M295.7 388.7h0M305.7 385.0h0M316.0 397.3h0M286.3 380.7h0M319.6 397.0h0M341.3 377.2h0M287.7 388.9h0M294.4 397.4h0M320.7 373.0h0M279.7 385.9h0M275.7 389.6h0M285.7 390.7h0M327.3 383.9h0M333.0 390.6h0M336.5 376.6h0M298.2 379.5h0M292.5 390.1h0M293.1 391.6h0M277.1 392.3h0M312.8 379.8h0M299.8 392.1h0M279.9 394.1h0M313.3 385.7h0M288.2 391.6h0M338.6 381.4h0M308.6 395.0h0M336.4 375.9h0M320.6 387.4h0M334.0 385.3h0M336.4 378.8h0M285.8 374.1h0M311.9 385.0h0M329.0 373.8h0M331.6 389.5h0M268.9 389.5h0M287.0 373.1h0M325.9 396.5h0M304.3 395.5h0M282.3 395.5h0M323.5 377.5h0M283.0 390.6h0M313.3 393.2h0M296.7 378.1h0M287.4 378.7h0M295.3 380.7h0M317.4 374.7h0M338.8 375.3h0M319.1 390.4h0M279.3 389.5h0M297.6 396.7h0M286.2 394.7h0M314.6 380.8h0M273.5 393.3h0M324.4 376.6h0M286.2 393.1h0M270.6 390.2h0M322.7 374.5h0M300.8 388.5h0M341.7 384.2h0M303.0 397.7h0M274.1 389.2h0M316.7 382.1h0M323.7 382.1h0M313.1 381.8h0M336.2 374.9h0M283.3 387.8h0M292.5 384.4h0M298.0 381.4h0M309.6 397.7h0M315.0 378.6h0M289.3 384.6h0M293.9 376.8h0M325.0 387.1h0M287.1 395.5h0M310.3 392.1h0M323.5 382.6h0M274.5 387.0h0M290.7 398.0h0M291.4 374.6h0M283.4 373.1h0M292.7 376.9h0M277.5 384.9h0M324.1 388.9h0M331.0 392.6h0M326.1 396.1h0M324.8 376.7h0M334.9 371.7h0M321.8 387.1h0M282.1 393.1h0M337.5 375.4h0M334.1 391.4h0M300.4 384.2h0M284.9 383.5h0M338.7 377.1h0M281.0 391.1h0M305.0 372.5h0M300.6 388.8h0M305.7 381.3h0M289.1 392.1h0M321.7 395.7h0M320.2 376.9h0M332.9 384.7h0M281.3 374.7h0M296.9 397.7h0M273.4 389.7h0M330.1 380.4h0M325.4 388.6h0M298.8 395.7h0M288.8 377.1h0M274.6 386.1h0M305.4 381.7h0M315.0 386.7h0M313.9 380.0h0M300.9 389.5h0M281.7 391.6h0M327.5 386.6h0M267.2 389.6h0M270.0 391.6h0M319.4 375.9h0M305.1 390.0h0M268.0 389.8h0M309.2 386.0h0M313.3 391.6h0M313.4 372.5h0M299.2 381.3h0M318.2 380.0h0M328.0 380.4h0M280.9 391.1h0M304.6 383.5h0M275.4 384.2h0M319.1 382.9h0M332.5 378.7h0M314.4 387.1h0M299.7 375.8h0M335.0 392.3h0M312.2 373.2h0M273.0 393.4h0M293.7 387.2h0M287.3 374.0h0M286.0 376.6h0M335.0 387.2h0M302.3 373.5h0M310.6 372.8h0M325.1 378.5h0M320.0 377.2h0M293.5 387.6h0M276.1 384.5h0M287.5 380.3h0M278.7 395.8h0M337.2 388.9h0M314.9 380.2h0M300.4 385.9h0M303.0 394.3h0M288.2 390.8h0M283.0 396.4h0M322.0 387.1h0M293.0 394.5h0M284.4 395.0h0M290.0 380.1h0M280.2 396.0h0M308.6 394.0h0M305.1 383.3h0M301.7 381.5h0M338.6 381.0h0M331.2 381.4h0M300.6 382.1h0M300.9 373.2h0M300.1 375.2h0M304.3 393.9h0M288.0 385.0h0M300.7 385.6h0M271.8 393.5h0M287.7 380.1h0M328.2 395.2h0M319.3 395.0h0M283.6 384.5h0M307.3 394.8h0M292.8 381.1h0M333.9 382.0h0M307.5 394.9h0M284.6 373.2h0M340.3 386.0h0M335.2 376.9h0M292.4 390.9h0M295.3 397.6h0M333.2 382.4h0M310.7 388.0h0M271.0 385.8h0M303.8 379.6h0M326.9 379.4h0M281.0 379.5h0M336.3 374.5h0M267.4 388.9h0M331.5 384.0h0M288.2 381.6h0M298.3 376.3h0M340.5 374.6h0M284.8 380.3h0M288.6 373.5h0M315.5 382.8h0M342.4 373.8h0M330.9 392.0h0M297.1 375.3h0M316.5 382.5h0M326.6 375.5h0M336.7 385.6h0M315.0 379.5h0" stroke="#7f7f7f" stroke-width="2.80" stroke-linecap="round" fill="none"/>
<path d="M318.0 228.3h0M318.4 268.2h0M318.0 276.9h0M318.4 285.7h0M320.9 289.8h0M320.6 294.5h0M316.5 303.2h0M319.5 304.4h0M318.0 312.0h0M317.0 314.0h0M319.0 316.0h0M316.0 318.0h0M320.0 319.0h0M318.0 321.0h0M259.6 383.0h0M262.0 386.0h0M266.0 384.0h0M268.0 389.0h0M270.0 381.0h0M274.0 385.0h0M276.0 379.0h0M263.0 391.0h0M346.0 374.0h0M349.0 376.0h0M352.0 378.0h0M355.0 374.0h0M358.0 377.0h0M361.0 378.0h0M364.0 380.0h0M367.0 378.0h0M370.9 383.7h0M362.0 386.0h0M357.0 389.0h0M353.0 391.0h0M349.0 393.0h0M346.0 390.0h0M366.0 386.0h0M419.3 377.2h0M345.4 380.0h0M350.0 385.0h0M354.0 384.0h0" stroke="#7f7f7f" stroke-width="2.80" stroke-linecap="round" fill="none"/>
<path d="M324.3 360.7h0M324.8 367.6h0M331.3 364.8h0M327.8 364.2h0M331.5 356.8h0M331.0 360.1h0M330.0 361.6h0M322.8 360.5h0M329.4 359.2h0M326.0 355.0h0M323.3 356.4h0M325.5 359.4h0M325.4 369.0h0M327.2 345.3h0M327.7 354.2h0M330.5 369.2h0M329.9 353.0h0M323.3 367.4h0M326.1 365.7h0M332.3 370.3h0M327.7 361.5h0M323.6 345.6h0M325.7 354.1h0M322.7 349.6h0M331.8 367.7h0M329.2 355.3h0M325.1 364.6h0M331.1 356.4h0M332.8 364.6h0M328.6 364.1h0M325.1 370.7h0M326.2 337.3h0M330.7 356.3h0M326.6 359.7h0M326.6 338.7h0M322.6 340.5h0M323.9 355.8h0M332.4 366.9h0M324.9 355.9h0M333.3 356.0h0M323.5 347.1h0M325.5 361.6h0M322.9 357.7h0M327.7 347.0h0M329.9 360.2h0M329.8 339.5h0M330.2 344.8h0M332.9 368.0h0M328.7 362.6h0M326.3 342.5h0M322.7 357.5h0M322.5 362.2h0M323.5 367.8h0M327.3 339.3h0M327.5 356.4h0M324.4 345.3h0M328.7 369.4h0M322.5 363.0h0M328.0 354.6h0M329.1 343.8h0M332.4 347.6h0M332.5 363.4h0M325.8 345.3h0M331.5 362.4h0M330.6 365.2h0M325.6 361.5h0M324.6 361.6h0M331.7 351.4h0M329.0 345.3h0M328.8 340.5h0M327.2 342.1h0M323.3 357.3h0M325.2 349.9h0M330.2 349.1h0M329.0 349.0h0M328.3 369.8h0M329.8 365.3h0M329.6 352.4h0M325.3 354.2h0M330.1 349.5h0M332.6 370.4h0M323.2 348.4h0M326.5 370.2h0M329.4 364.7h0M327.5 356.4h0M328.5 362.2h0M328.4 367.1h0M322.8 355.6h0M329.6 360.0h0M322.4 352.4h0M329.5 350.1h0M328.1 368.1h0M332.8 355.8h0M330.4 361.0h0M330.7 360.5h0M330.3 363.4h0M325.1 355.8h0M329.2 370.1h0M328.9 339.7h0M332.9 366.4h0M327.8 344.3h0M328.6 363.8h0M323.0 371.0h0M331.2 362.1h0M331.6 346.3h0M322.8 363.2h0M326.6 348.3h0M328.7 368.5h0M323.3 369.1h0M325.0 370.1h0M330.5 348.4h0M327.2 351.4h0M325.5 339.3h0M329.8 365.7h0M331.4 353.1h0M324.6 344.9h0M322.3 348.1h0M331.8 347.6h0M327.6 347.9h0M323.4 353.5h0M323.5 363.3h0M331.4 349.1h0M325.0 337.6h0M330.1 371.0h0M323.1 348.0h0M330.0 353.0h0M333.0 354.2h0M328.7 370.7h0M324.7 365.8h0M322.4 341.9h0M324.0 347.9h0M323.6 357.4h0M332.4 370.6h0M328.3 340.6h0M328.7 353.4h0M326.9 363.3h0M322.4 350.8h0M327.0 359.6h0M327.9 363.4h0M327.9 362.3h0M322.3 342.0h0M323.5 367.4h0M330.6 364.3h0M322.9 342.8h0M324.5 339.5h0M327.2 364.5h0M328.3 345.2h0M328.1 363.9h0M328.7 342.1h0M331.7 360.0h0M325.5 358.2h0M324.9 346.8h0M330.2 362.8h0M323.3 346.7h0M331.4 350.9h0M329.0 367.3h0M324.2 344.3h0M329.3 344.1h0M325.9 359.3h0M328.6 350.0h0M324.7 370.5h0M331.8 364.6h0M324.2 365.7h0M328.0 363.8h0M333.2 358.5h0M329.3 342.2h0M328.2 339.8h0M322.2 348.5h0M322.4 357.0h0M331.5 366.9h0M328.5 345.5h0M324.6 363.3h0M330.5 347.7h0M331.2 368.2h0M322.2 359.7h0M326.3 337.3h0M331.1 342.3h0M328.2 347.4h0M323.0 364.7h0M325.9 341.8h0M332.8 360.2h0M332.3 355.6h0M325.7 364.8h0M333.9 362.4h0M332.2 369.7h0M326.1 362.8h0M327.4 363.1h0M331.2 367.1h0M327.7 367.8h0M326.7 344.8h0M332.3 355.0h0M325.4 343.3h0M328.1 345.7h0M322.3 359.1h0M324.2 362.6h0M327.5 356.4h0M331.5 352.4h0M330.5 345.5h0M324.0 363.6h0M326.1 366.8h0M325.1 367.6h0M326.6 366.3h0M322.8 342.0h0M327.7 339.1h0M326.2 351.4h0M326.4 365.4h0M325.1 363.1h0M328.0 356.7h0M327.3 352.4h0M324.6 354.4h0M325.8 356.8h0M322.6 339.2h0M323.7 341.8h0M333.2 356.2h0M326.3 355.1h0M328.2 348.1h0M329.8 360.9h0M324.6 346.0h0M330.9 370.8h0M326.8 362.2h0M327.9 353.7h0M322.7 362.3h0M324.2 349.6h0M331.5 370.5h0M330.7 359.9h0M322.3 355.9h0M333.7 360.9h0M332.1 347.3h0M325.4 341.1h0M326.8 349.4h0M330.7 344.4h0M324.8 340.8h0M328.6 346.0h0M324.4 354.3h0M328.3 348.5h0M327.8 362.2h0M330.6 356.6h0M333.1 362.5h0M327.9 358.8h0M324.1 364.0h0M322.8 348.2h0M330.2 367.7h0M325.0 342.3h0M326.3 356.0h0M325.8 366.0h0M323.8 341.6h0M331.2 355.0h0M324.2 368.7h0M333.4 359.6h0M327.9 356.0h0M329.9 352.8h0M327.4 367.2h0M330.7 348.0h0M329.3 344.2h0M326.3 343.1h0M329.2 350.5h0M326.8 348.5h0M325.3 347.3h0M323.6 338.4h0M330.9 349.7h0" stroke="#e41a1c" stroke-width="3.20" stroke-linecap="round" fill="none"/>
<path d="M323.4 239.3h0M322.7 252.8h0M322.4 254.6h0M327.8 254.2h0M334.3 260.1h0M324.0 261.9h0M322.4 269.3h0M322.7 287.2h0M337.8 287.4h0M324.6 300.0h0M327.0 298.8h0M322.4 304.4h0M326.0 306.1h0M326.8 311.2h0M327.6 312.7h0M323.0 316.0h0M326.0 317.0h0M330.0 317.5h0M328.0 319.0h0M331.5 317.3h0M324.0 322.0h0M327.0 325.0h0M330.0 328.0h0M323.0 330.0h0M325.0 333.0h0M329.0 332.0h0M335.1 340.4h0M338.8 340.7h0M341.0 340.7h0M345.3 339.6h0M335.1 350.6h0M342.4 353.5h0M346.4 356.0h0M340.2 359.2h0M341.0 364.0h0M339.0 369.9h0M359.9 370.1h0M336.0 345.0h0M337.0 356.0h0M338.0 362.0h0M336.0 366.0h0M335.0 369.0h0" stroke="#e41a1c" stroke-width="3.20" stroke-linecap="round" fill="none"/>
<path d="M286.9 260.1h0M286.6 264.8h0M289.8 292.7h0M292.4 297.4h0M290.0 304.7h0M294.3 312.7h0M292.9 316.6h0M293.5 318.0h0M275.2 317.8h0M294.0 322.0h0M292.0 326.0h0M294.5 330.0h0M293.0 335.0h0M294.0 340.0h0M291.0 343.0h0M294.0 347.0h0M289.0 350.0h0M292.0 352.0h0M294.0 356.0h0M286.0 356.0h0M289.0 360.0h0M293.0 362.0h0M284.0 362.0h0M287.0 366.0h0M291.0 368.0h0M294.0 369.0h0M282.0 369.0h0M285.0 370.0h0M253.8 367.4h0M255.2 370.1h0M265.4 369.1h0M266.9 368.8h0M290.0 365.0h0M292.0 359.0h0M288.0 355.0h0M294.5 351.0h0M291.5 338.0h0M282.0 340.0h0M286.0 345.0h0M279.0 358.0h0M284.0 349.0h0M293.0 365.0h0M289.0 371.0h0M294.6 361.0h0" stroke="#3a77be" stroke-width="3.20" stroke-linecap="round" fill="none"/>
<path d="M295.1 370.2h0M294.0 359.2h0M291.2 370.2h0M292.0 365.1h0M290.8 358.7h0M289.9 364.3h0M292.3 342.1h0M292.5 368.8h0M285.0 368.5h0M294.3 369.8h0M293.7 333.5h0M294.9 367.8h0M294.2 342.7h0M289.6 371.3h0M294.9 335.3h0M290.5 360.2h0M290.6 354.0h0M294.9 370.9h0M286.7 359.4h0M295.2 364.8h0M293.7 366.2h0M294.1 334.0h0M292.1 351.9h0M295.0 342.2h0M293.0 367.8h0M293.4 345.8h0M294.9 343.3h0M294.2 359.7h0M288.4 362.6h0M289.7 366.5h0M289.4 369.0h0M293.7 338.4h0M290.8 357.1h0M294.8 331.6h0M291.5 359.5h0M294.0 359.7h0M288.7 352.9h0M294.3 341.3h0M295.1 366.9h0M288.8 363.8h0M289.9 350.7h0M294.2 367.2h0M288.2 353.1h0M293.0 337.7h0M292.8 338.6h0M290.9 358.1h0M291.3 363.9h0M294.4 360.6h0M287.5 365.2h0M294.4 343.6h0M293.5 332.8h0M290.2 357.2h0M294.4 359.8h0M294.7 368.9h0M288.1 368.7h0" stroke="#3a77be" stroke-width="3.20" stroke-linecap="round" fill="none"/>
<line x1="295.12" y1="219.70" x2="295.12" y2="405.10" stroke="#a8a8a8" stroke-width="0.75" stroke-dasharray="1,2.6"/>
<line x1="321.88" y1="219.70" x2="321.88" y2="405.10" stroke="#a8a8a8" stroke-width="0.75" stroke-dasharray="1,2.6"/>
<line x1="245.40" y1="371.27" x2="427.50" y2="371.27" stroke="#a8a8a8" stroke-width="0.75" stroke-dasharray="1,2.6"/>
<rect x="245.40" y="219.70" width="182.10" height="185.40" fill="none" stroke="#9a9a9a" stroke-width="0.9"/>
<line x1="308.50" y1="405.10" x2="308.50" y2="407.30" stroke="#555" stroke-width="0.9" />
<text x="308.50" y="416.40" font-size="8.6" text-anchor="middle" fill="#222" >0</text>
<line x1="375.40" y1="405.10" x2="375.40" y2="407.30" stroke="#555" stroke-width="0.9" />
<text x="375.40" y="416.40" font-size="8.6" text-anchor="middle" fill="#222" >5</text>
<line x1="243.20" y1="396.30" x2="245.40" y2="396.30" stroke="#555" stroke-width="0.9" />
<text x="242.20" y="399.40" font-size="8.6" text-anchor="end" fill="#222" >0.0</text>
<line x1="243.20" y1="348.20" x2="245.40" y2="348.20" stroke="#555" stroke-width="0.9" />
<text x="242.20" y="351.30" font-size="8.6" text-anchor="end" fill="#222" >2.5</text>
<line x1="243.20" y1="300.10" x2="245.40" y2="300.10" stroke="#555" stroke-width="0.9" />
<text x="242.20" y="303.20" font-size="8.6" text-anchor="end" fill="#222" >5.0</text>
<line x1="243.20" y1="252.00" x2="245.40" y2="252.00" stroke="#555" stroke-width="0.9" />
<text x="242.20" y="255.10" font-size="8.6" text-anchor="end" fill="#222" >7.5</text>
<text x="332.60" y="214.10" font-size="9.6" text-anchor="middle" fill="#000" >RT vs RT+PG-NS<tspan font-size="0.62em">A</tspan></text>
<text x="336.45" y="425.60" font-size="9.6" text-anchor="middle" fill="#000" >log2(FC)</text>
<text transform="translate(226.60,313.40) rotate(-90)" font-size="8.8" text-anchor="middle">−log10(PValue)</text>
<rect x="452.80" y="220.10" width="189.60" height="185.00" fill="#fff" />
<line x1="465.40" y1="220.10" x2="465.40" y2="405.10" stroke="#f3f3f3" stroke-width="0.6" />
<line x1="505.60" y1="220.10" x2="505.60" y2="405.10" stroke="#f3f3f3" stroke-width="0.6" />
<line x1="545.80" y1="220.10" x2="545.80" y2="405.10" stroke="#f3f3f3" stroke-width="0.6" />
<line x1="586.00" y1="220.10" x2="586.00" y2="405.10" stroke="#f3f3f3" stroke-width="0.6" />
<line x1="626.20" y1="220.10" x2="626.20" y2="405.10" stroke="#f3f3f3" stroke-width="0.6" />
<line x1="452.80" y1="368.25" x2="642.40" y2="368.25" stroke="#f3f3f3" stroke-width="0.6" />
<line x1="452.80" y1="311.35" x2="642.40" y2="311.35" stroke="#f3f3f3" stroke-width="0.6" />
<line x1="452.80" y1="254.45" x2="642.40" y2="254.45" stroke="#f3f3f3" stroke-width="0.6" />
<line x1="485.50" y1="220.10" x2="485.50" y2="405.10" stroke="#e8e8e8" stroke-width="0.9" />
<line x1="525.70" y1="220.10" x2="525.70" y2="405.10" stroke="#e8e8e8" stroke-width="0.9" />
<line x1="565.90" y1="220.10" x2="565.90" y2="405.10" stroke="#e8e8e8" stroke-width="0.9" />
<line x1="606.10" y1="220.10" x2="606.10" y2="405.10" stroke="#e8e8e8" stroke-width="0.9" />
<line x1="452.80" y1="396.70" x2="642.40" y2="396.70" stroke="#e8e8e8" stroke-width="0.9" />
<line x1="452.80" y1="339.80" x2="642.40" y2="339.80" stroke="#e8e8e8" stroke-width="0.9" />
<line x1="452.80" y1="282.90" x2="642.40" y2="282.90" stroke="#e8e8e8" stroke-width="0.9" />
<line x1="452.80" y1="226.00" x2="642.40" y2="226.00" stroke="#e8e8e8" stroke-width="0.9" />
<path d="M497.0 363.8h0M519.6 356.1h0M488.5 387.0h0M544.8 396.0h0M529.7 392.3h0M549.7 385.2h0M553.8 379.6h0M565.7 372.1h0M541.2 365.7h0M504.8 359.7h0M562.0 375.8h0M516.3 385.4h0M547.0 365.9h0M515.7 386.8h0M499.3 372.9h0M566.2 371.3h0M511.0 373.1h0M508.9 376.2h0M566.7 386.2h0M509.5 395.4h0M533.2 388.7h0M542.2 366.1h0M511.6 356.0h0M536.8 394.2h0M547.4 392.0h0M489.6 391.3h0M535.4 385.9h0M505.8 377.1h0M508.7 356.7h0M495.2 394.2h0M541.9 364.8h0M513.5 350.5h0M531.6 391.8h0M489.1 392.0h0M503.5 376.4h0M512.7 365.4h0M532.1 372.6h0M550.2 376.2h0M513.8 369.5h0M513.5 373.7h0M538.4 388.1h0M524.8 394.1h0M571.5 385.9h0M522.3 383.8h0M561.5 376.2h0M519.5 359.9h0M500.7 386.7h0M530.0 372.9h0M504.0 357.9h0M546.1 374.5h0M514.1 377.7h0M541.3 348.2h0M547.5 381.1h0M515.7 374.7h0M507.4 390.4h0M535.1 352.8h0M537.9 386.4h0M531.6 394.2h0M514.9 343.7h0M562.2 382.4h0M545.4 368.4h0M520.7 393.0h0M541.3 375.1h0M535.4 335.5h0M534.6 392.5h0M563.8 365.4h0M500.6 367.7h0M514.3 372.3h0M535.8 369.1h0M558.8 377.9h0M548.1 395.5h0M512.3 379.2h0M510.4 369.9h0M543.7 397.3h0M514.2 346.9h0M566.8 377.4h0M495.7 391.7h0M511.7 392.8h0M537.0 355.8h0M534.0 353.8h0M489.6 391.3h0M516.5 329.1h0M521.9 372.4h0M545.7 392.1h0M516.8 394.9h0M531.0 373.2h0M523.6 383.0h0M520.8 372.8h0M546.6 360.0h0M522.8 380.8h0M492.8 372.3h0M519.7 382.3h0M512.9 364.1h0M511.0 355.0h0M539.8 344.4h0M551.4 395.4h0M491.1 389.5h0M493.1 393.1h0M512.7 363.9h0M489.0 376.6h0M516.0 331.5h0M505.3 389.8h0M518.9 385.8h0M568.0 384.9h0M567.0 376.2h0M526.3 386.5h0M510.3 380.7h0M496.5 369.2h0M512.9 351.4h0M490.6 375.0h0M548.9 374.0h0M520.9 380.4h0M563.8 387.2h0M563.8 367.1h0M556.6 380.2h0M560.6 374.6h0M493.6 376.6h0M516.1 373.3h0M496.1 376.0h0M492.6 386.6h0M507.6 393.1h0M580.6 384.8h0M552.2 380.5h0M498.4 371.4h0M563.2 379.7h0M554.1 391.8h0M519.1 396.1h0M539.5 356.9h0M518.0 393.6h0M530.7 389.7h0M505.2 375.8h0M554.1 375.0h0M497.2 389.2h0M495.6 363.9h0M557.7 376.8h0M544.5 388.1h0M566.8 367.4h0M558.1 384.5h0M553.1 370.4h0M562.1 384.9h0M519.7 391.4h0M519.5 385.7h0M511.0 378.6h0M521.4 390.3h0M528.0 387.2h0M497.4 383.0h0M500.6 369.6h0M557.1 379.1h0M532.0 371.8h0M514.8 376.1h0M523.1 381.5h0M536.0 333.4h0M515.1 395.3h0M498.8 381.0h0M508.5 374.8h0M537.2 389.1h0M546.4 367.5h0M538.1 384.6h0M545.5 370.4h0M516.4 374.0h0M514.6 391.3h0M511.3 378.4h0M535.6 364.3h0M535.6 337.4h0M560.6 370.9h0M530.5 364.1h0M510.6 381.8h0M531.0 389.7h0M531.4 359.9h0M521.9 373.4h0M541.3 350.6h0M559.5 387.1h0M553.2 363.0h0M557.6 378.3h0M538.6 354.8h0M542.9 377.2h0M486.1 391.7h0M516.3 388.6h0M528.3 388.3h0M549.7 391.8h0M555.5 386.4h0M549.9 367.9h0M513.3 379.3h0M543.7 347.5h0M543.2 352.8h0M577.5 384.3h0M549.3 363.1h0M540.6 344.0h0M545.1 391.4h0M531.4 364.9h0M511.1 389.6h0M544.7 380.6h0M574.8 376.4h0M512.1 353.0h0M557.9 382.0h0M542.9 388.0h0M499.9 364.3h0M505.9 376.7h0M561.5 386.0h0M501.6 392.3h0M506.2 359.3h0M494.8 391.2h0M489.6 384.1h0M532.4 392.4h0M574.6 388.7h0M515.0 369.7h0M537.1 346.0h0M554.3 380.6h0M544.4 359.2h0M503.2 388.1h0M557.8 365.5h0M540.2 346.7h0M576.0 384.9h0M487.1 383.6h0M545.1 348.8h0M536.6 380.8h0M539.4 398.1h0M544.4 353.2h0M518.5 377.8h0M517.0 341.0h0M556.6 373.1h0M536.0 379.8h0M487.2 385.5h0M540.4 360.6h0M529.7 386.4h0M514.2 397.8h0M560.2 365.2h0M499.9 383.7h0M513.7 364.7h0M569.3 371.3h0M533.2 365.4h0M511.0 381.5h0M511.5 380.0h0M560.3 373.9h0M560.8 366.3h0M517.3 346.3h0M563.0 386.6h0M533.3 370.1h0M536.4 365.6h0M491.8 374.9h0M546.8 386.5h0M514.0 361.7h0M550.6 388.8h0M503.7 386.6h0M535.0 393.4h0M540.0 339.1h0M499.0 380.4h0M516.6 393.1h0M500.3 382.0h0M520.0 378.2h0M560.0 386.8h0M536.9 361.6h0M512.7 394.9h0M496.4 392.9h0M510.2 361.6h0M536.2 335.9h0M507.4 390.5h0M521.7 373.1h0M542.2 379.1h0M519.5 383.2h0M541.5 393.8h0M509.8 364.5h0M553.5 394.2h0M524.3 392.0h0M503.4 379.4h0M545.2 372.5h0M491.1 376.7h0M506.7 395.3h0M546.1 380.4h0M532.5 375.7h0M554.1 375.2h0M531.8 369.6h0M493.4 367.8h0M517.3 361.6h0M558.8 377.3h0M542.6 342.1h0M500.6 391.6h0M523.2 382.8h0M492.9 393.7h0M537.8 386.5h0M534.5 370.8h0M568.1 388.4h0M552.2 394.3h0M515.9 330.6h0M506.4 364.4h0M531.3 382.6h0M504.5 392.8h0M577.6 386.9h0M562.8 382.3h0M561.8 385.9h0M507.6 377.3h0M523.6 397.0h0M572.6 378.3h0M513.6 356.1h0M555.7 376.8h0M537.5 361.9h0M491.4 392.0h0M565.8 374.2h0M499.7 360.6h0M492.5 373.6h0M552.9 374.8h0M493.3 394.6h0M550.5 364.2h0M550.8 393.1h0M500.0 360.3h0M526.4 393.1h0M576.3 381.0h0M497.1 389.2h0M549.2 382.6h0M488.2 390.4h0M503.9 397.3h0M493.8 382.0h0M492.2 384.5h0M540.4 341.0h0M559.5 378.5h0M533.7 363.5h0M517.2 395.2h0M539.5 374.9h0M491.7 391.0h0M538.6 357.0h0M559.9 392.0h0M538.2 393.7h0M487.9 390.8h0M533.4 396.3h0M502.1 387.8h0M536.1 357.0h0M527.1 390.3h0M555.6 362.2h0M498.7 367.4h0M528.2 382.0h0M516.9 390.8h0M512.7 377.0h0M500.4 391.4h0M551.0 367.5h0M539.9 343.2h0M541.1 361.6h0M543.5 363.4h0M510.8 393.1h0M503.7 381.7h0M549.6 370.6h0M549.6 364.0h0M516.6 383.7h0M541.0 344.8h0M508.8 368.8h0M499.2 389.4h0M519.2 386.4h0M536.1 352.4h0M504.1 396.8h0M500.7 369.3h0M538.5 396.5h0M508.7 369.4h0M531.3 388.0h0M494.2 383.5h0M527.5 394.3h0M537.3 394.3h0M538.2 369.4h0M544.4 397.0h0M547.8 375.5h0M497.9 380.6h0M539.2 387.9h0M540.7 366.5h0M542.4 374.0h0M541.1 360.9h0M510.9 380.0h0M536.2 342.2h0M506.8 372.1h0M487.5 390.5h0M513.7 395.8h0M535.8 342.4h0M517.5 357.0h0M563.5 386.4h0M513.5 365.9h0M536.6 376.5h0M494.7 378.7h0M511.5 350.8h0M487.3 390.9h0M500.5 394.0h0M534.8 381.8h0M561.0 378.8h0M515.4 391.6h0M531.5 390.6h0M511.6 376.4h0M501.8 390.7h0M509.8 353.6h0M566.4 385.2h0M496.4 374.9h0M564.7 378.7h0M506.6 356.4h0M545.1 382.2h0M523.6 386.2h0M533.9 363.4h0M508.7 379.8h0M516.1 363.4h0M563.1 372.5h0M502.8 387.0h0M545.2 383.7h0M516.0 387.1h0M516.9 396.5h0M574.9 381.7h0M497.8 391.0h0M517.9 374.8h0M515.0 373.0h0M506.9 362.0h0M513.9 350.5h0M503.0 394.5h0M486.9 393.9h0M537.6 370.8h0M510.0 355.4h0M516.3 336.0h0M536.2 338.4h0M532.0 384.3h0M554.9 394.9h0M545.1 377.7h0M520.4 377.3h0M489.9 391.2h0M538.1 372.0h0M559.6 366.5h0M495.6 374.5h0M566.5 385.1h0M543.8 382.6h0M567.7 375.8h0M562.2 364.7h0M503.4 375.6h0M560.0 362.9h0M539.1 341.8h0M502.4 364.3h0M499.5 364.1h0M548.0 361.2h0M567.8 376.1h0M580.4 387.3h0M555.7 380.4h0M537.8 382.9h0M568.1 374.3h0M505.9 391.3h0M535.5 373.0h0M488.8 395.0h0M540.0 374.6h0M508.4 385.1h0M519.7 361.2h0M486.8 387.3h0M483.4 390.2h0M498.6 373.1h0M537.3 371.9h0M500.2 387.7h0M537.6 336.0h0M505.7 392.5h0M518.2 372.3h0M505.7 386.2h0M533.8 381.7h0M536.6 396.6h0M510.7 379.3h0M544.6 350.9h0M561.0 373.4h0M504.5 377.0h0M497.8 364.8h0M556.8 388.4h0M557.2 365.3h0M550.4 394.7h0M512.4 365.0h0M520.4 368.7h0M537.0 381.8h0M510.8 397.6h0M532.6 396.7h0M504.7 397.3h0M550.7 379.1h0M553.0 383.9h0M497.6 392.7h0M509.3 374.6h0M554.8 372.5h0M521.2 366.3h0M495.2 376.9h0M517.6 338.8h0M514.8 371.0h0M569.1 377.1h0M508.3 369.9h0M563.1 369.5h0M508.0 371.6h0M520.0 361.6h0M502.6 395.4h0M550.7 375.7h0M487.3 377.7h0M536.8 382.0h0M505.4 364.4h0M502.2 363.9h0M543.6 368.9h0M513.2 395.5h0M545.2 345.4h0M507.6 378.0h0M533.6 361.1h0M539.2 361.0h0M524.9 390.2h0M513.8 391.7h0M535.0 389.5h0M569.4 390.0h0M549.8 377.2h0M556.3 364.2h0M536.7 392.8h0M520.3 393.6h0M543.0 355.9h0M518.8 367.1h0M496.8 388.1h0M534.5 353.8h0M519.0 386.1h0M556.7 394.9h0M548.1 394.4h0M567.4 390.2h0M533.7 390.3h0M503.5 397.0h0M539.0 397.6h0M542.4 392.0h0M535.6 374.9h0M521.4 374.4h0M515.3 362.9h0M555.3 385.7h0M536.9 371.3h0M516.6 386.6h0M539.2 389.4h0M511.6 390.6h0M535.8 390.4h0M506.0 381.0h0M567.2 381.1h0M506.4 366.7h0M511.8 388.5h0M537.5 383.4h0M529.8 365.7h0M569.7 372.2h0M497.4 369.7h0M493.7 381.9h0M491.3 394.6h0M526.9 393.3h0M504.2 375.9h0M544.0 349.7h0M560.1 390.5h0M508.4 390.9h0M489.4 390.4h0M555.6 391.9h0M538.2 344.1h0M550.3 361.0h0M563.9 371.5h0M483.3 384.7h0M510.2 374.3h0M553.4 363.5h0M536.8 362.6h0M521.0 384.9h0M512.9 348.4h0M513.5 355.4h0M513.9 363.6h0M557.3 390.0h0M573.8 378.1h0M511.7 369.6h0M535.7 355.1h0M562.4 372.6h0M501.4 391.2h0M533.6 384.1h0M543.1 384.6h0M483.3 392.0h0M495.0 387.3h0M513.8 347.6h0M517.9 356.0h0M536.2 390.0h0M532.4 372.7h0M516.3 384.2h0M537.1 347.8h0M553.4 375.4h0M560.3 386.3h0M503.6 368.2h0M555.4 391.3h0M502.2 390.0h0M500.5 388.0h0M486.6 389.8h0M550.9 383.3h0M506.9 383.9h0M562.5 387.6h0M509.6 375.0h0M539.0 372.4h0M508.3 377.2h0M544.6 370.8h0M534.3 349.1h0M542.2 377.8h0M541.7 369.8h0M491.7 391.1h0M508.5 365.7h0M497.3 373.7h0M534.9 335.0h0M485.3 384.3h0M493.3 369.0h0M529.4 392.7h0M503.7 391.8h0M539.2 375.2h0M518.4 368.1h0M539.5 376.7h0M537.7 382.3h0M532.2 383.2h0M541.0 341.3h0M518.3 362.8h0M499.4 371.0h0M552.4 383.0h0M559.9 380.1h0M537.0 352.9h0M547.9 383.6h0M535.7 348.7h0M498.6 361.1h0M530.6 390.9h0M497.9 387.8h0M522.8 387.0h0M554.3 387.0h0M560.2 377.6h0M547.1 368.4h0M499.3 365.7h0M537.4 337.7h0M560.4 384.4h0M520.5 376.4h0M561.5 386.7h0M543.4 384.5h0M491.8 392.0h0M529.2 381.8h0M566.5 377.9h0M510.2 375.3h0M559.3 378.6h0M516.1 374.9h0M499.4 368.9h0M518.5 375.4h0M518.4 347.3h0M505.8 392.3h0M518.0 341.7h0M553.7 382.3h0M561.0 369.0h0M566.3 379.3h0M520.9 364.1h0M563.2 374.7h0M576.0 387.8h0M543.7 389.4h0M489.9 390.4h0M516.5 350.7h0M520.3 376.4h0M553.3 381.4h0M523.6 393.1h0M538.0 380.0h0M555.3 384.1h0M518.8 373.7h0M493.8 377.9h0M544.6 343.9h0M543.4 380.1h0M527.8 383.6h0M541.4 355.7h0M510.7 366.0h0M536.2 378.0h0M492.0 394.1h0M490.2 391.8h0M534.4 341.1h0M509.6 375.9h0M487.5 377.4h0M537.7 362.5h0M534.1 376.9h0M554.0 386.8h0M573.0 381.0h0M537.5 353.7h0M532.0 393.0h0M576.5 379.4h0M567.4 377.0h0M534.0 354.8h0M509.2 370.2h0M497.4 366.1h0M491.3 389.0h0M574.2 381.3h0M535.0 335.6h0M557.8 375.7h0M491.1 388.5h0M534.2 398.1h0M514.4 393.0h0M487.6 376.3h0M509.7 395.2h0M537.5 363.3h0M503.4 375.9h0M517.8 345.7h0M560.2 377.6h0M512.2 389.8h0M517.6 393.1h0M562.1 386.7h0M529.6 385.0h0M512.6 394.8h0M540.9 369.0h0M492.7 370.3h0M542.1 357.8h0M520.9 370.9h0M535.4 338.0h0M508.0 371.9h0M509.3 353.8h0M503.3 397.3h0M504.7 365.3h0M536.7 344.4h0M516.1 336.1h0M512.2 376.7h0M500.8 388.4h0M542.7 354.9h0M537.0 374.5h0M516.2 384.7h0M508.7 358.5h0M496.0 376.5h0M518.7 354.2h0M560.8 387.7h0M525.8 389.5h0M496.5 365.1h0M526.0 394.8h0M531.3 373.4h0M502.0 372.7h0M501.4 393.3h0M483.3 385.2h0M492.1 389.7h0M547.2 375.9h0M555.2 364.7h0M513.0 358.7h0M515.1 367.9h0M539.2 351.8h0M537.6 350.8h0M565.9 372.3h0M538.8 359.8h0M488.8 387.8h0M517.8 364.6h0M512.6 346.7h0M548.9 394.5h0M514.4 364.4h0M535.7 339.2h0M535.4 368.4h0M573.2 380.1h0M499.3 380.1h0M561.9 379.8h0M545.5 361.9h0M550.9 374.3h0M543.2 374.6h0M546.8 389.0h0M551.6 391.2h0M531.2 372.4h0M529.3 391.4h0M542.9 378.9h0M501.8 362.1h0M551.2 393.3h0M492.1 386.8h0M496.2 374.5h0M513.4 342.5h0M519.8 352.9h0M570.2 387.0h0M503.1 375.1h0M530.9 398.2h0M493.2 388.6h0M517.8 348.0h0M538.0 390.5h0M532.6 377.7h0M535.9 343.8h0M497.9 394.1h0M569.5 384.3h0M558.3 389.0h0M557.5 363.1h0M514.6 372.3h0M511.3 357.3h0M538.0 373.2h0M571.8 375.6h0M560.0 369.1h0M485.6 382.4h0M574.5 383.7h0M509.4 357.3h0M520.4 388.9h0M541.4 384.8h0M549.6 365.2h0M536.1 342.3h0M547.2 386.9h0M501.8 370.5h0M549.1 367.6h0M573.0 375.6h0M564.3 384.1h0M523.8 393.5h0M512.4 383.7h0M579.0 382.0h0M492.8 379.7h0M542.6 368.2h0M580.6 383.5h0M563.1 391.9h0M529.4 382.7h0M495.2 369.5h0M505.2 368.2h0M535.2 363.6h0M521.8 376.9h0M552.9 365.7h0M534.5 371.3h0M573.1 388.1h0M552.5 376.0h0M538.2 379.3h0M513.5 381.8h0M509.4 383.5h0M517.5 345.7h0M563.5 385.2h0M532.8 365.3h0M535.2 358.6h0M494.9 390.0h0M506.7 396.4h0M497.4 365.8h0M517.3 384.7h0M487.8 390.7h0M538.1 339.3h0M543.7 369.9h0M534.2 347.0h0M484.0 391.7h0M567.0 378.6h0M550.5 375.1h0M538.5 394.4h0M540.3 340.1h0M510.3 373.5h0M571.3 381.8h0M548.1 369.3h0M505.5 370.6h0M558.8 378.3h0M507.8 392.5h0M569.9 372.3h0M496.5 363.7h0M543.0 375.0h0M502.1 389.8h0M521.2 366.9h0M549.7 377.5h0M530.1 393.6h0M499.9 392.3h0M567.3 376.4h0M506.0 379.5h0M545.1 371.3h0M516.2 369.2h0M553.6 384.2h0M574.2 383.4h0M562.2 380.8h0M546.2 374.2h0M558.7 375.1h0M567.2 374.8h0M506.2 380.5h0M555.5 386.4h0M528.8 381.3h0M493.1 383.5h0M543.7 365.0h0M575.8 377.9h0M567.9 380.8h0M551.7 381.9h0M536.9 385.8h0M498.0 373.7h0M555.1 370.8h0M561.5 373.4h0M500.9 364.6h0M532.7 370.5h0M515.9 334.6h0M536.1 393.7h0M504.6 384.2h0M535.6 333.2h0M530.6 368.0h0M506.6 367.1h0M544.2 391.3h0M539.8 362.3h0M552.1 376.3h0M519.9 377.3h0M529.6 369.9h0M496.4 370.0h0M504.9 388.5h0M556.9 392.6h0M574.5 388.7h0M546.0 396.8h0M498.8 384.9h0M537.1 374.5h0M501.6 384.5h0M509.6 378.2h0M533.3 382.9h0M505.5 369.3h0M572.8 388.0h0M539.3 339.9h0M518.8 349.1h0M513.4 388.6h0M512.3 353.3h0M511.5 356.6h0M503.5 362.8h0M554.7 384.7h0M512.1 384.9h0M539.1 378.3h0M543.7 392.8h0M543.7 377.0h0M500.3 379.2h0M551.0 394.4h0M522.2 389.8h0M552.4 378.1h0M549.1 382.1h0M529.1 397.0h0M542.7 380.5h0M537.7 367.3h0M564.5 391.9h0M560.6 388.7h0M515.7 356.2h0M534.2 396.9h0M555.3 372.6h0M532.8 353.0h0M504.9 378.3h0M559.0 375.2h0M539.8 384.7h0M562.9 381.4h0M501.4 378.9h0M510.6 389.3h0M561.3 386.4h0M496.6 365.0h0M499.7 366.9h0M509.4 369.6h0M544.4 360.6h0M502.4 378.5h0M532.3 372.2h0M536.0 349.8h0M559.4 367.9h0M514.7 341.0h0M550.8 365.7h0M500.1 393.0h0M519.6 354.9h0M538.7 379.0h0M518.2 364.9h0M557.9 374.4h0M506.8 390.6h0M503.4 365.2h0M544.1 389.8h0M493.0 388.5h0M497.2 379.8h0M560.4 391.6h0M564.8 391.6h0M536.5 388.2h0M519.2 355.8h0M567.7 368.1h0M488.0 387.3h0M497.0 386.3h0M533.2 387.6h0M504.3 396.6h0M538.7 372.2h0M516.6 378.5h0M514.6 358.9h0M491.7 381.4h0M541.5 387.0h0M538.2 361.9h0M553.5 369.2h0M518.9 359.9h0M515.2 359.4h0M534.7 380.7h0M492.7 381.4h0M505.3 357.2h0M531.6 366.4h0M495.7 378.9h0M497.3 397.4h0M571.6 377.1h0M539.4 391.1h0M506.7 388.5h0M537.7 345.1h0M563.1 382.0h0M536.3 397.8h0M500.9 381.4h0M538.3 366.7h0M497.0 388.2h0M540.6 341.2h0M535.1 361.4h0M563.4 390.7h0M522.3 374.2h0M487.9 382.0h0M511.0 353.9h0M511.5 367.9h0M570.4 377.7h0M513.4 362.0h0M542.8 347.0h0M513.0 352.0h0M517.1 337.9h0M549.2 393.3h0M501.2 366.1h0M556.8 378.7h0M539.8 378.5h0M500.8 395.0h0M547.6 364.5h0M561.5 384.6h0M530.5 397.5h0M505.7 396.3h0M553.4 382.6h0M526.5 388.3h0M514.1 379.4h0M537.6 392.6h0M515.7 359.3h0M579.2 387.8h0M500.7 393.7h0M536.9 363.9h0M521.4 379.7h0M484.6 389.5h0M527.7 390.0h0M518.1 359.6h0M535.8 358.3h0M504.1 369.8h0M546.3 397.4h0M502.9 369.4h0M511.7 378.7h0M551.9 376.8h0M548.2 382.8h0M573.3 386.6h0M510.0 396.6h0M522.6 387.5h0M531.2 358.4h0M538.3 362.0h0M488.1 389.5h0M494.5 395.3h0M574.7 382.2h0M569.3 371.1h0M496.5 397.2h0M535.4 375.6h0M543.6 379.0h0M506.2 357.8h0M538.1 376.3h0M538.7 360.5h0M539.0 382.1h0M539.7 380.2h0M509.6 390.0h0M568.4 376.3h0M518.4 344.2h0M542.5 377.5h0M565.6 382.7h0M568.9 378.1h0M516.1 397.8h0M530.1 371.1h0M492.4 379.6h0M498.1 376.6h0M514.7 364.8h0M516.2 378.5h0M565.5 373.4h0M491.7 384.3h0M536.5 380.4h0M533.1 357.3h0M502.7 394.9h0M552.1 373.6h0M565.0 388.8h0M507.3 364.9h0M537.2 357.3h0M546.5 387.4h0M564.9 371.3h0M557.1 391.1h0M560.0 370.4h0M539.9 375.4h0M531.1 368.6h0M550.0 376.3h0M496.4 388.0h0M551.6 383.7h0M517.9 388.5h0M542.5 364.7h0M519.4 388.1h0M493.9 374.5h0M566.4 382.6h0M557.3 365.1h0M558.2 375.4h0M554.3 388.9h0M536.0 393.4h0M538.3 386.9h0M533.9 394.1h0M525.5 397.6h0M572.2 377.7h0M499.3 383.9h0M501.8 380.0h0M551.8 391.4h0M567.9 375.1h0M497.9 377.3h0M539.3 370.0h0M567.5 367.8h0M543.3 382.0h0M511.5 386.8h0M491.5 383.3h0M550.0 375.7h0M511.4 381.1h0M529.5 366.5h0M541.1 351.4h0M538.8 358.0h0M571.2 375.1h0M504.3 358.9h0M539.7 354.1h0M562.3 379.0h0M518.1 355.5h0M563.9 385.4h0M544.6 385.8h0M519.1 370.4h0M566.7 385.6h0M496.2 391.2h0M534.9 367.4h0M519.4 372.3h0M546.6 368.4h0M536.8 340.6h0M506.1 358.2h0M539.9 397.4h0M513.6 396.7h0M569.7 389.9h0M521.6 393.7h0M496.9 376.2h0M535.7 359.3h0M507.2 359.0h0M554.8 379.2h0M559.4 373.2h0M500.0 385.4h0M563.6 389.8h0M553.4 374.7h0M510.9 398.1h0M558.6 387.7h0M533.9 394.7h0M500.6 394.8h0M532.9 351.1h0M510.2 391.3h0M561.8 379.1h0M529.7 395.3h0M537.9 357.6h0M544.3 397.1h0M491.6 373.0h0M541.7 364.5h0M547.4 364.0h0M501.8 378.9h0M509.8 391.1h0M537.3 352.9h0M497.5 390.3h0M542.9 397.0h0M503.8 375.0h0M503.2 396.1h0M496.3 372.1h0M502.0 393.3h0M569.1 374.9h0M511.4 352.4h0M556.7 371.2h0M531.7 397.1h0M505.7 392.1h0M506.9 360.1h0M579.4 385.8h0M534.0 370.3h0M518.0 392.1h0M495.2 384.3h0M515.8 382.9h0M520.0 359.6h0M547.1 378.4h0M510.5 370.9h0M537.2 372.0h0M509.1 385.3h0M536.8 380.0h0M558.9 379.6h0M515.0 389.0h0M503.7 373.1h0M522.1 393.8h0M507.5 387.4h0M526.8 393.6h0M554.1 381.4h0M541.6 394.2h0M535.9 345.2h0M515.2 347.6h0M564.7 372.0h0M496.9 385.3h0M487.5 379.1h0M516.0 373.1h0M552.8 364.2h0M550.2 394.8h0M494.2 384.2h0M533.0 396.7h0M505.9 373.2h0M513.5 364.1h0M520.3 369.3h0M541.3 395.6h0M492.9 382.7h0M490.6 371.6h0M505.3 367.3h0M559.0 389.5h0M484.2 390.4h0M513.0 382.9h0M554.6 364.9h0M515.5 386.6h0M490.8 373.5h0M533.1 348.7h0M508.2 370.9h0M557.9 377.4h0M539.4 339.5h0M492.4 387.9h0M492.1 385.0h0M493.6 369.5h0M529.3 371.6h0M550.2 376.0h0M489.6 377.8h0M553.2 374.2h0M522.6 379.4h0M547.5 382.1h0M550.5 392.4h0M545.6 364.6h0M493.6 369.4h0M536.3 386.5h0M559.0 371.6h0M533.1 390.7h0M508.2 380.9h0M566.0 383.8h0M540.1 382.4h0M518.2 343.6h0M519.7 363.6h0M503.6 377.6h0M535.5 356.2h0M554.1 373.5h0M504.7 378.2h0M511.5 351.9h0M483.7 384.6h0M551.1 376.4h0M556.9 389.0h0M543.0 359.5h0M543.1 387.3h0M524.7 397.6h0M570.9 378.4h0M504.9 370.5h0M503.1 377.6h0M521.9 383.6h0M531.5 380.9h0M552.3 371.0h0M562.2 381.6h0M571.4 380.6h0M546.2 376.0h0M548.1 362.8h0M546.8 368.4h0M490.1 379.8h0M580.0 387.1h0M515.2 376.1h0M490.6 377.2h0M521.6 375.4h0M535.8 341.3h0M510.4 374.7h0M493.2 380.8h0M541.9 377.7h0M507.3 379.4h0M514.9 381.8h0M534.3 369.8h0M564.6 372.8h0M508.4 359.0h0M546.6 386.6h0M550.5 371.1h0M576.8 387.3h0M555.2 390.4h0M562.5 376.4h0M542.4 376.7h0M545.4 384.1h0M487.9 384.9h0M536.1 337.3h0M490.5 395.5h0M510.4 352.4h0M515.3 379.3h0M545.1 386.6h0M522.1 376.9h0M495.5 374.5h0M541.5 388.1h0M544.9 395.5h0M572.5 384.8h0M560.9 392.6h0M530.4 393.8h0M501.5 389.7h0M519.8 364.3h0M580.4 384.4h0M561.5 393.6h0M489.3 394.7h0M541.5 371.2h0M544.4 373.3h0M493.5 370.4h0M542.5 341.0h0M521.4 368.8h0M543.3 363.5h0M551.0 373.6h0M482.9 386.9h0M550.8 385.5h0M501.5 397.5h0M571.2 384.9h0M511.8 393.3h0M564.4 390.4h0M551.0 394.9h0M565.2 381.6h0M560.3 378.7h0M578.4 387.4h0M511.1 357.1h0M504.7 385.4h0M552.1 364.8h0M527.8 392.3h0M516.8 360.0h0M512.3 388.9h0M495.1 382.5h0M515.1 381.6h0M534.7 386.8h0M495.6 364.8h0M541.1 358.9h0M488.4 390.6h0M515.3 340.9h0M559.8 380.0h0M517.0 351.2h0M524.8 391.9h0M510.6 384.2h0M487.5 390.0h0M541.2 381.6h0M538.4 355.9h0M542.7 349.9h0M536.7 349.1h0M557.7 378.7h0M506.8 366.3h0M503.9 381.1h0M540.5 363.9h0M566.9 385.6h0M494.3 369.3h0M548.7 383.7h0M562.7 366.2h0M506.2 370.0h0M543.6 352.5h0M568.9 389.0h0M542.6 372.0h0M555.1 385.8h0M577.9 382.4h0M500.1 366.7h0M529.5 391.4h0M523.6 389.7h0M516.2 385.6h0M535.9 357.2h0M499.9 365.2h0M520.0 394.3h0M514.8 339.3h0M536.9 342.2h0M500.2 381.3h0M508.0 365.2h0M537.7 346.6h0M544.6 370.1h0M516.6 376.3h0M537.3 368.9h0M540.5 374.8h0M498.1 387.8h0M551.3 392.9h0M513.2 387.2h0M538.6 380.2h0M533.2 397.8h0M532.6 360.6h0M522.3 373.8h0M550.6 370.0h0M513.8 387.9h0M486.2 383.8h0M557.1 374.6h0M492.4 373.8h0M538.1 370.7h0M547.0 369.7h0M537.0 387.7h0M510.7 385.1h0M543.7 381.4h0M489.5 385.6h0M501.3 386.6h0M560.9 375.2h0M488.6 394.2h0M546.4 366.9h0M518.6 356.7h0M512.3 385.6h0M545.1 347.0h0M559.0 371.9h0M557.0 370.4h0M515.5 337.9h0M554.4 383.6h0M504.5 364.6h0M504.6 360.0h0M522.9 379.6h0M564.8 377.1h0M544.3 394.9h0M546.9 361.4h0M506.3 394.0h0M547.9 395.1h0M547.2 370.5h0M538.2 346.3h0M557.0 394.2h0M494.7 388.8h0M539.9 346.5h0M497.9 369.6h0M509.9 390.8h0M534.0 397.8h0M537.0 397.8h0M545.2 381.7h0M550.3 393.7h0M504.3 387.6h0M552.6 363.8h0M501.1 376.8h0M530.7 374.4h0M538.4 354.9h0M508.3 358.3h0M499.8 394.1h0M498.4 391.4h0M578.3 386.3h0M576.6 381.4h0M495.0 389.4h0M502.5 370.2h0M571.3 381.3h0M558.7 393.3h0M545.0 379.7h0M535.8 392.6h0M507.1 396.3h0M514.4 390.7h0M532.8 392.2h0M487.8 385.4h0M566.2 374.3h0M546.9 379.8h0M504.2 397.4h0M498.3 397.2h0M525.7 390.5h0M505.6 386.6h0M509.4 364.2h0M537.3 388.5h0M522.8 388.0h0M574.4 387.5h0M512.3 384.7h0M570.9 386.1h0M543.6 355.1h0M562.8 388.4h0M537.1 344.9h0M502.0 397.9h0M542.5 374.4h0M535.4 356.0h0M555.7 392.2h0M540.0 393.6h0M561.3 373.5h0M507.1 397.9h0M498.8 395.5h0M566.1 368.0h0M549.6 394.4h0M567.5 369.6h0M500.8 395.4h0M520.6 368.7h0M565.1 378.5h0M492.2 388.2h0M517.3 396.8h0M567.4 375.9h0M559.7 381.6h0M558.7 375.3h0M545.1 357.9h0M551.7 379.5h0M534.4 368.4h0M515.6 384.7h0M536.3 355.8h0M565.3 368.7h0M515.4 385.0h0M530.8 397.0h0M518.6 360.1h0M544.5 389.0h0M534.7 388.4h0M495.3 379.3h0M510.4 367.2h0M566.0 386.0h0M513.7 365.0h0M565.2 378.8h0M572.8 382.8h0M491.8 379.2h0M496.7 375.9h0M536.3 354.2h0M537.1 391.5h0M557.0 380.8h0M505.0 365.6h0M539.0 381.4h0M523.8 396.3h0M543.2 368.2h0M529.9 367.8h0M494.6 373.4h0M531.2 396.3h0M528.5 375.0h0M569.7 380.0h0M494.4 366.1h0M539.7 372.6h0M560.8 373.7h0M535.5 376.8h0M540.6 343.8h0M537.2 378.4h0M535.1 369.1h0M567.6 372.3h0M506.5 390.8h0M558.4 389.3h0M496.3 375.7h0M532.1 357.6h0M562.3 391.3h0M539.5 395.5h0M550.5 390.4h0M517.6 346.1h0M484.2 386.3h0M554.8 371.4h0M558.5 378.0h0M553.7 361.6h0M500.6 395.4h0M490.6 391.1h0M506.1 365.9h0M504.2 393.5h0M506.3 387.8h0M556.9 387.2h0M560.7 380.7h0M548.8 385.3h0M540.5 390.8h0M502.7 366.3h0M555.8 381.3h0M508.7 363.8h0M533.7 381.9h0M527.9 381.7h0M484.8 393.0h0M488.7 384.7h0M549.6 364.1h0M544.0 354.4h0M537.0 360.7h0M547.6 362.7h0M557.7 377.6h0M572.4 386.5h0M549.0 379.2h0M531.7 366.1h0M546.2 366.0h0M497.5 366.8h0M494.3 372.0h0M543.2 369.7h0M534.2 364.5h0M531.9 369.8h0M547.7 392.1h0M506.9 361.2h0M552.6 389.7h0M544.5 376.9h0M553.9 383.3h0M499.6 374.8h0M543.9 393.8h0M513.0 355.5h0M528.5 376.1h0M508.6 389.1h0M500.6 397.5h0M546.1 378.4h0M568.6 388.2h0M538.1 341.0h0M482.3 391.9h0M499.4 361.9h0M551.8 373.7h0M545.1 384.6h0M558.4 380.3h0M566.8 391.6h0M529.9 384.0h0M557.5 383.8h0M547.0 365.9h0M571.0 390.6h0M538.9 376.0h0M545.7 390.5h0M544.4 372.1h0M574.5 384.3h0M572.4 377.2h0M512.2 373.9h0M536.6 341.2h0M511.8 391.3h0M541.9 392.3h0M534.1 389.1h0M495.9 377.3h0M510.7 358.5h0M535.3 337.1h0M511.7 366.1h0M537.1 353.4h0M526.0 396.6h0M500.0 379.1h0M547.5 376.3h0M493.2 378.1h0M566.8 367.3h0M577.8 381.6h0M551.4 382.8h0M495.7 387.9h0M540.3 385.2h0M575.0 379.4h0M491.1 385.0h0M563.7 385.4h0M540.8 396.3h0M537.0 342.5h0M530.7 367.7h0M516.1 343.0h0M510.0 385.6h0M488.5 385.8h0M511.6 354.0h0M513.6 359.4h0M537.1 384.5h0M545.0 366.1h0M574.7 378.1h0M512.8 367.6h0M514.0 392.4h0M517.8 392.0h0M549.3 361.6h0M531.3 383.5h0M488.6 395.1h0M508.4 386.1h0M546.0 388.4h0M542.1 384.9h0M533.5 367.3h0M557.3 371.6h0M537.5 334.8h0M551.5 374.5h0M489.7 389.1h0M574.0 389.6h0M493.9 369.3h0M540.5 339.4h0M505.4 378.1h0M550.6 383.0h0M542.4 373.3h0M531.3 379.5h0M505.2 384.8h0M548.6 392.1h0M550.3 377.0h0M500.0 375.8h0M533.1 377.2h0M540.4 377.3h0M511.2 388.6h0M496.0 364.9h0M513.7 361.8h0M499.6 383.5h0M543.3 359.4h0M539.9 363.2h0M486.4 392.3h0M512.9 382.0h0M513.9 348.5h0M565.8 388.3h0M546.8 367.3h0M514.0 392.2h0M518.1 389.3h0M499.5 375.6h0M508.3 386.8h0M540.3 381.8h0M537.9 342.3h0M498.5 386.7h0M552.2 388.9h0M517.1 365.7h0M498.1 375.7h0M519.2 384.9h0M543.0 381.8h0M559.5 366.6h0M518.6 386.3h0M544.8 382.2h0M518.4 365.4h0M541.6 347.1h0M567.1 383.1h0M569.5 377.9h0M505.8 367.2h0M514.6 380.4h0M563.9 375.2h0M515.2 374.4h0M488.8 376.2h0M537.0 346.6h0M510.4 361.1h0M484.3 383.0h0M492.5 377.3h0M497.6 387.6h0M530.8 376.9h0M541.2 362.9h0M578.6 382.3h0M509.5 397.8h0M516.6 367.8h0M515.2 367.0h0M495.9 377.1h0M521.3 395.6h0M540.3 344.6h0M542.0 383.0h0M544.2 397.9h0M510.6 372.0h0M564.9 380.5h0M562.9 380.2h0M567.5 374.0h0M490.4 374.7h0M535.0 335.1h0M553.6 380.2h0M537.3 358.8h0M562.6 367.5h0M516.2 370.9h0M500.5 374.8h0M574.4 379.9h0M551.7 365.2h0M559.3 371.1h0M512.0 386.8h0M494.8 389.3h0M516.4 397.9h0M531.9 392.7h0M515.4 356.5h0M571.5 373.0h0M578.0 385.5h0M490.5 395.4h0M564.1 372.4h0M532.2 358.9h0M552.8 361.8h0M565.0 391.7h0M504.6 381.6h0M513.7 365.2h0M567.5 389.2h0M561.0 367.7h0M526.4 394.9h0M543.4 386.4h0M518.9 347.2h0M491.6 392.5h0M510.2 393.1h0M537.5 393.6h0M522.6 386.7h0M504.3 394.6h0M522.0 391.1h0M544.2 353.5h0M515.9 355.7h0M499.4 380.4h0M532.8 393.2h0M489.5 394.1h0M541.3 340.8h0M542.7 344.8h0M535.9 373.6h0M543.7 377.7h0M563.6 391.3h0M511.9 364.8h0M509.1 393.5h0M544.0 392.0h0M513.1 385.2h0M529.8 387.4h0M521.1 397.8h0M516.3 365.9h0M508.4 386.7h0M541.1 367.6h0M539.1 383.0h0M519.8 383.4h0M527.9 391.7h0M518.6 390.5h0M536.5 367.0h0M535.1 357.7h0M514.1 360.0h0M509.0 387.9h0M561.2 392.3h0M527.0 387.8h0M535.9 397.4h0M518.3 383.2h0M534.8 381.7h0M553.8 372.8h0M533.5 356.8h0M518.1 379.4h0M518.3 343.0h0M541.1 384.6h0M496.7 383.4h0M546.4 382.2h0M529.2 385.5h0M514.7 378.8h0M517.2 340.4h0M559.4 367.2h0M555.4 382.1h0M563.5 390.9h0M539.0 369.6h0M563.3 381.2h0M537.0 359.6h0M515.4 344.8h0M511.3 382.9h0M537.8 381.7h0M536.1 344.5h0M497.5 371.9h0M562.1 374.2h0M520.8 388.1h0M534.1 343.4h0M561.9 386.5h0M542.8 374.0h0M540.3 392.2h0M506.4 396.8h0M508.8 355.4h0M537.2 364.4h0M518.7 365.9h0M491.7 392.3h0M487.5 383.0h0M539.8 354.2h0M515.7 370.5h0M508.1 373.0h0M542.1 376.4h0M517.3 367.1h0M519.8 391.1h0M541.7 364.3h0M571.8 375.7h0M536.1 381.9h0M487.4 388.0h0M553.6 391.7h0M541.4 374.4h0M513.2 363.1h0M533.4 371.9h0M574.9 385.1h0M559.3 380.6h0M535.3 384.1h0M508.3 383.7h0M539.3 381.6h0M518.8 356.8h0M527.2 387.6h0M539.4 353.4h0M498.2 387.9h0M505.6 373.0h0M529.0 377.9h0M507.6 392.1h0M551.4 393.8h0M498.7 393.3h0M528.1 378.3h0M544.2 364.3h0M495.0 371.9h0M485.4 385.0h0M572.1 373.2h0M566.7 391.3h0M509.5 382.4h0M527.0 389.9h0M495.2 370.2h0M535.4 338.7h0M568.6 370.6h0M538.4 379.2h0M575.4 389.3h0M540.6 367.4h0M566.6 367.9h0M568.6 391.3h0M540.8 347.2h0M530.6 365.4h0M501.6 364.6h0M549.0 376.5h0M549.5 378.9h0M505.7 359.7h0M490.6 392.2h0M544.5 387.2h0M556.0 385.2h0M503.5 359.2h0M509.6 384.3h0M511.1 372.4h0M565.1 366.2h0M547.1 378.2h0M518.3 381.2h0M514.0 369.2h0M570.7 390.0h0M542.8 379.7h0M496.0 365.3h0M497.0 361.9h0M482.5 386.0h0M517.8 384.8h0M543.4 384.6h0M514.7 350.5h0M552.5 373.2h0M492.8 375.7h0M568.0 379.5h0M493.3 396.9h0M515.7 397.9h0M535.1 359.9h0M568.0 376.9h0M541.3 391.8h0M519.9 375.7h0M505.5 368.4h0M519.6 398.0h0M519.3 395.5h0M517.8 374.7h0M516.6 374.8h0M498.1 379.1h0M551.8 366.6h0M517.5 362.5h0M548.9 376.1h0M506.3 360.6h0M500.5 376.0h0M542.9 387.4h0M487.9 384.3h0M567.5 378.9h0M493.9 373.8h0M535.6 383.6h0M500.6 388.4h0M498.9 379.9h0M532.3 359.5h0M531.3 388.0h0M513.0 365.2h0M517.6 389.5h0M507.8 371.9h0M555.0 386.2h0M576.5 388.4h0M498.4 381.6h0M560.1 371.4h0M541.9 397.3h0M520.6 388.2h0M498.9 361.5h0M555.3 365.0h0M549.6 372.6h0M563.3 373.9h0M534.4 396.9h0M562.1 393.5h0M519.5 371.0h0M496.0 373.3h0M502.1 375.5h0M491.8 388.9h0M537.0 348.0h0M518.4 364.3h0M566.9 368.8h0M521.6 373.8h0M544.6 377.3h0M545.1 364.7h0M536.3 375.8h0M560.0 382.0h0M505.9 362.8h0M536.6 361.4h0M532.9 374.0h0M515.7 358.7h0M531.0 375.3h0M513.8 397.0h0M541.5 379.0h0M539.0 358.9h0M489.8 395.3h0M542.3 395.7h0M539.6 380.2h0M491.6 374.1h0M536.6 373.6h0M515.5 389.6h0M522.4 395.6h0M493.7 372.1h0M528.7 381.3h0M499.0 374.8h0M507.3 374.3h0M510.4 382.3h0M543.7 365.6h0M552.9 377.0h0M483.8 383.5h0M520.4 379.8h0M579.3 385.9h0M507.2 357.8h0M489.4 385.9h0M509.1 397.6h0M543.1 342.3h0M514.8 393.8h0M544.5 354.5h0M562.5 378.4h0M536.6 336.3h0M521.1 389.9h0M504.8 388.4h0M500.6 370.3h0M545.6 381.3h0M555.9 379.8h0M551.3 382.0h0M551.3 368.0h0M515.7 392.8h0M539.9 346.4h0M494.1 387.7h0M558.3 362.3h0M501.1 381.0h0M490.4 375.7h0M484.5 388.0h0M556.3 374.9h0M555.4 372.7h0M559.4 380.1h0M535.9 390.1h0M499.0 390.3h0M538.0 361.5h0M487.3 385.3h0M537.7 335.6h0M553.4 393.5h0M551.4 379.7h0M547.8 376.2h0M504.8 397.7h0M538.6 380.3h0M499.9 380.2h0M494.3 370.2h0M489.8 375.8h0M507.5 383.7h0M547.8 391.1h0M566.2 380.3h0M534.1 383.8h0M533.5 374.4h0M542.0 393.9h0M553.3 392.3h0M556.9 387.8h0M532.5 366.8h0M541.6 378.2h0M554.6 394.4h0M489.2 375.6h0M527.5 389.7h0M521.0 369.0h0M500.6 366.3h0M524.2 385.8h0M538.0 351.8h0M575.9 388.7h0M516.4 332.4h0M555.9 382.8h0M545.5 380.7h0M515.0 370.6h0M503.2 381.7h0M508.6 398.0h0M540.1 341.9h0M563.8 381.6h0M492.7 369.7h0M567.2 391.5h0M517.5 344.8h0M497.9 395.9h0M519.2 380.8h0M504.1 397.4h0M554.2 362.8h0M505.0 385.2h0M503.5 389.0h0M561.9 381.6h0M547.8 362.5h0M518.1 381.5h0M535.0 347.7h0M538.3 345.2h0M515.3 340.4h0M549.3 364.3h0M490.1 374.9h0M485.9 389.6h0M503.1 358.7h0M488.7 385.3h0M574.0 384.7h0M512.2 354.8h0M558.3 379.4h0M546.7 371.6h0M504.3 396.0h0M558.8 393.3h0M512.2 377.6h0M500.0 377.5h0M538.1 352.1h0M506.3 390.2h0M544.4 371.1h0M543.6 342.9h0M532.0 369.2h0M551.7 365.9h0M564.1 379.0h0M536.8 377.2h0M532.4 355.1h0M541.1 369.9h0M537.9 371.3h0M507.3 380.6h0M531.0 383.2h0M512.6 371.6h0M498.5 367.0h0M497.6 389.1h0M524.7 391.1h0M549.1 368.5h0M493.8 373.4h0M515.0 349.2h0M532.6 396.6h0M531.4 390.4h0M494.1 391.6h0M571.8 384.0h0M496.3 365.6h0M507.6 395.0h0M554.2 362.2h0M522.3 379.5h0M542.8 370.9h0M499.9 383.3h0M569.2 390.7h0M514.8 355.1h0M513.8 379.2h0M564.6 385.5h0M535.2 341.1h0M549.5 360.7h0M547.6 380.9h0M531.3 373.5h0M485.8 390.2h0M572.2 373.7h0M581.2 384.7h0M528.5 387.5h0M571.6 379.3h0M519.2 387.6h0M489.3 388.0h0M503.0 387.0h0M532.0 388.5h0M549.9 382.8h0M560.4 370.1h0M553.8 380.5h0M544.8 396.5h0M486.7 378.9h0M486.7 389.4h0M517.1 333.0h0M509.9 354.3h0M557.4 377.6h0M559.1 391.7h0M512.2 396.9h0M484.8 392.1h0M528.7 394.6h0M554.6 368.3h0M499.7 388.3h0M520.1 380.1h0M497.7 376.7h0M536.7 343.4h0M494.8 384.0h0M510.8 380.7h0M562.7 378.4h0M544.7 346.2h0M504.9 392.0h0M537.8 339.3h0M496.5 397.6h0M494.1 382.2h0M527.9 393.5h0M552.8 373.2h0M510.6 358.7h0M551.7 368.5h0M536.2 357.1h0M541.7 396.5h0M503.7 390.0h0M510.6 386.3h0M554.3 379.2h0M513.6 359.8h0M497.8 367.3h0M548.4 370.2h0M519.6 381.3h0M550.6 394.9h0M496.2 391.6h0M543.2 348.4h0M512.6 361.5h0M511.4 352.6h0M561.2 367.0h0M515.7 335.0h0M569.0 369.6h0M518.5 364.2h0M507.5 376.9h0M531.6 384.3h0M550.5 361.1h0M551.4 382.8h0M538.1 386.3h0M491.7 379.3h0M567.1 378.3h0M558.7 377.7h0M510.1 392.2h0M513.4 379.2h0M495.2 385.2h0M511.6 389.9h0M501.3 360.0h0M513.4 355.7h0M553.1 380.9h0M522.2 374.3h0M513.3 374.7h0M558.8 387.3h0M516.5 331.4h0M517.0 341.8h0M567.2 385.7h0M537.5 336.0h0M548.8 374.5h0M541.2 348.5h0M529.5 372.2h0M572.5 376.7h0M535.2 366.1h0M570.5 388.7h0M556.4 391.8h0M551.6 361.5h0M513.5 391.1h0M543.1 350.3h0M511.9 375.8h0M517.6 359.6h0M539.6 363.9h0M530.1 375.2h0M486.0 383.4h0M527.0 385.9h0M529.9 390.0h0M542.8 370.0h0M545.7 377.2h0M533.2 369.9h0M548.0 362.6h0M558.2 384.8h0M537.8 339.1h0M549.8 391.3h0M491.9 393.5h0M520.7 371.0h0M534.4 352.2h0M551.6 394.7h0M553.7 395.6h0M519.3 359.4h0M568.2 379.4h0M565.7 367.1h0M538.1 379.8h0M497.6 375.3h0M551.4 365.7h0M487.7 381.6h0M536.5 397.5h0M544.2 397.4h0M537.1 336.2h0M528.8 389.9h0M512.3 389.1h0M544.7 353.5h0M573.3 378.6h0M513.4 386.1h0M486.6 394.3h0M542.5 378.2h0M558.5 380.9h0M493.9 393.2h0M523.1 393.9h0M514.1 358.7h0M553.7 381.5h0M520.6 375.2h0M552.6 390.9h0M554.4 385.4h0M487.7 388.0h0M507.5 391.4h0M547.4 393.3h0M565.0 367.0h0M541.7 366.5h0M502.6 388.5h0M514.3 374.0h0M510.0 355.0h0M487.4 390.1h0M512.6 396.1h0M542.4 340.9h0M544.0 372.6h0M540.9 371.2h0M488.3 386.3h0M547.1 375.9h0M540.3 339.1h0M547.1 386.0h0M542.4 375.0h0M537.8 355.8h0M573.7 388.5h0M549.7 362.2h0M507.4 362.2h0M558.9 369.8h0M557.6 376.6h0M497.7 389.3h0M566.6 381.6h0M515.5 345.4h0M510.4 395.4h0M566.4 379.6h0M537.1 375.6h0M569.1 385.4h0M502.0 367.6h0M574.8 385.2h0M557.3 384.9h0M518.8 360.1h0M523.4 397.8h0M519.6 363.7h0M555.5 376.8h0M538.2 351.3h0M505.4 374.8h0M511.4 354.6h0M507.0 385.1h0M492.6 371.3h0" stroke="#7f7f7f" stroke-width="2.80" stroke-linecap="round" fill="none"/>
<path d="M461.0 370.8h0M465.0 375.0h0M463.0 378.0h0M470.0 380.0h0M468.0 383.0h0M474.0 384.0h0M478.0 386.0h0M472.7 371.6h0M474.6 377.2h0M475.2 384.3h0M478.6 386.4h0M480.4 366.4h0M483.2 377.9h0M487.3 374.9h0M487.3 379.9h0M481.6 382.5h0M486.0 385.0h0M477.0 380.0h0M490.0 371.0h0M495.0 366.0h0M499.0 362.0h0M476.5 366.0h0M487.0 372.0h0M494.0 365.0h0M472.0 377.0h0M481.0 378.0h0M484.0 371.0h0M490.0 369.0h0M497.0 357.0h0M500.0 359.0h0M504.0 354.0h0M507.0 350.0h0M509.0 347.0h0M512.0 344.0h0M515.0 334.0h0M516.5 317.5h0M542.4 227.8h0M536.5 325.8h0M539.1 334.0h0M542.3 318.5h0M542.3 302.0h0M541.0 329.0h0M538.0 338.0h0M582.4 361.3h0M579.5 362.8h0M597.3 363.8h0M594.4 367.4h0M583.6 366.9h0M579.5 367.9h0M580.7 371.5h0M598.5 373.7h0M607.2 374.5h0M605.8 376.2h0M620.4 375.5h0M626.2 377.4h0M633.8 376.4h0M617.5 382.9h0M606.1 383.6h0M601.4 380.7h0M596.6 380.3h0M592.6 383.9h0M589.4 386.9h0M585.0 378.0h0M588.0 376.0h0M591.0 374.0h0M586.0 381.0h0M583.0 383.0h0M575.0 378.0h0M573.0 369.0h0M569.0 364.0h0M563.0 362.0h0" stroke="#7f7f7f" stroke-width="2.80" stroke-linecap="round" fill="none"/>
<path d="M549.6 333.6h0M568.5 327.4h0M547.7 346.4h0M559.8 347.4h0M568.5 344.5h0M583.6 348.2h0M591.2 348.6h0M556.6 351.4h0M549.6 354.0h0M552.0 352.8h0M551.0 356.9h0M547.4 358.4h0M568.5 354.0h0M564.6 358.0h0M574.1 356.6h0" stroke="#e41a1c" stroke-width="3.20" stroke-linecap="round" fill="none"/>
<path d="M468.3 331.0h0M496.4 347.4h0M498.3 354.0h0M487.0 357.7h0M505.1 359.1h0" stroke="#3a77be" stroke-width="3.20" stroke-linecap="round" fill="none"/>
<line x1="505.60" y1="220.10" x2="505.60" y2="405.10" stroke="#a8a8a8" stroke-width="0.75" stroke-dasharray="1,2.6"/>
<line x1="545.80" y1="220.10" x2="545.80" y2="405.10" stroke="#a8a8a8" stroke-width="0.75" stroke-dasharray="1,2.6"/>
<line x1="452.80" y1="359.69" x2="642.40" y2="359.69" stroke="#a8a8a8" stroke-width="0.75" stroke-dasharray="1,2.6"/>
<rect x="452.80" y="220.10" width="189.60" height="185.00" fill="none" stroke="#9a9a9a" stroke-width="0.9"/>
<line x1="485.50" y1="405.10" x2="485.50" y2="407.30" stroke="#555" stroke-width="0.9" />
<text x="485.50" y="416.40" font-size="8.6" text-anchor="middle" fill="#222" >−2</text>
<line x1="525.70" y1="405.10" x2="525.70" y2="407.30" stroke="#555" stroke-width="0.9" />
<text x="525.70" y="416.40" font-size="8.6" text-anchor="middle" fill="#222" >0</text>
<line x1="565.90" y1="405.10" x2="565.90" y2="407.30" stroke="#555" stroke-width="0.9" />
<text x="565.90" y="416.40" font-size="8.6" text-anchor="middle" fill="#222" >2</text>
<line x1="606.10" y1="405.10" x2="606.10" y2="407.30" stroke="#555" stroke-width="0.9" />
<text x="606.10" y="416.40" font-size="8.6" text-anchor="middle" fill="#222" >4</text>
<line x1="450.60" y1="396.70" x2="452.80" y2="396.70" stroke="#555" stroke-width="0.9" />
<text x="449.60" y="399.80" font-size="8.6" text-anchor="end" fill="#222" >0</text>
<line x1="450.60" y1="339.80" x2="452.80" y2="339.80" stroke="#555" stroke-width="0.9" />
<text x="449.60" y="342.90" font-size="8.6" text-anchor="end" fill="#222" >2</text>
<line x1="450.60" y1="282.90" x2="452.80" y2="282.90" stroke="#555" stroke-width="0.9" />
<text x="449.60" y="286.00" font-size="8.6" text-anchor="end" fill="#222" >4</text>
<line x1="450.60" y1="226.00" x2="452.80" y2="226.00" stroke="#555" stroke-width="0.9" />
<text x="449.60" y="229.10" font-size="8.6" text-anchor="end" fill="#222" >6</text>
<text x="544.50" y="214.10" font-size="9.6" text-anchor="middle" fill="#000" >Saline vs RT+PG-NS<tspan font-size="0.62em">A</tspan></text>
<text x="547.60" y="425.60" font-size="9.6" text-anchor="middle" fill="#000" >log2(FC)</text>
<text transform="translate(441.80,313.60) rotate(-90)" font-size="8.8" text-anchor="middle">−log10(PValue)</text>
<text x="652.00" y="302.40" font-size="6.6" text-anchor="start" fill="#000" >Regulation</text>
<circle cx="655.3" cy="309.3" r="1.6" fill="#e41a1c"/>
<text x="659.60" y="311.60" font-size="6.6" text-anchor="start" fill="#000" >Up</text>
<circle cx="655.3" cy="316.7" r="1.6" fill="#3a77be"/>
<text x="659.60" y="319.00" font-size="6.6" text-anchor="start" fill="#000" >Down</text>
<circle cx="655.3" cy="324.2" r="1.6" fill="#7f7f7f"/>
<text x="659.60" y="326.50" font-size="6.6" text-anchor="start" fill="#000" >ns</text>
<rect x="191.30" y="447.30" width="112.80" height="181.10" fill="#fff" />
<line x1="194.68" y1="447.30" x2="194.68" y2="628.40" stroke="#f3f3f3" stroke-width="0.6" />
<line x1="214.12" y1="447.30" x2="214.12" y2="628.40" stroke="#f3f3f3" stroke-width="0.6" />
<line x1="233.57" y1="447.30" x2="233.57" y2="628.40" stroke="#f3f3f3" stroke-width="0.6" />
<line x1="253.03" y1="447.30" x2="253.03" y2="628.40" stroke="#f3f3f3" stroke-width="0.6" />
<line x1="272.48" y1="447.30" x2="272.48" y2="628.40" stroke="#f3f3f3" stroke-width="0.6" />
<line x1="291.93" y1="447.30" x2="291.93" y2="628.40" stroke="#f3f3f3" stroke-width="0.6" />
<line x1="204.40" y1="447.30" x2="204.40" y2="628.40" stroke="#e8e8e8" stroke-width="0.9" />
<line x1="223.85" y1="447.30" x2="223.85" y2="628.40" stroke="#e8e8e8" stroke-width="0.9" />
<line x1="243.30" y1="447.30" x2="243.30" y2="628.40" stroke="#e8e8e8" stroke-width="0.9" />
<line x1="262.75" y1="447.30" x2="262.75" y2="628.40" stroke="#e8e8e8" stroke-width="0.9" />
<line x1="282.20" y1="447.30" x2="282.20" y2="628.40" stroke="#e8e8e8" stroke-width="0.9" />
<line x1="301.65" y1="447.30" x2="301.65" y2="628.40" stroke="#e8e8e8" stroke-width="0.9" />
<line x1="191.30" y1="457.90" x2="304.10" y2="457.90" stroke="#e8e8e8" stroke-width="0.9" />
<line x1="191.30" y1="475.70" x2="304.10" y2="475.70" stroke="#e8e8e8" stroke-width="0.9" />
<line x1="191.30" y1="493.50" x2="304.10" y2="493.50" stroke="#e8e8e8" stroke-width="0.9" />
<line x1="191.30" y1="511.30" x2="304.10" y2="511.30" stroke="#e8e8e8" stroke-width="0.9" />
<line x1="191.30" y1="529.10" x2="304.10" y2="529.10" stroke="#e8e8e8" stroke-width="0.9" />
<line x1="191.30" y1="546.90" x2="304.10" y2="546.90" stroke="#e8e8e8" stroke-width="0.9" />
<line x1="191.30" y1="564.70" x2="304.10" y2="564.70" stroke="#e8e8e8" stroke-width="0.9" />
<line x1="191.30" y1="582.50" x2="304.10" y2="582.50" stroke="#e8e8e8" stroke-width="0.9" />
<line x1="191.30" y1="600.30" x2="304.10" y2="600.30" stroke="#e8e8e8" stroke-width="0.9" />
<line x1="191.30" y1="618.10" x2="304.10" y2="618.10" stroke="#e8e8e8" stroke-width="0.9" />
<rect x="191.3" y="447.3" width="112.80" height="181.10" fill="none" stroke="#9a9a9a" stroke-width="0.9"/>
<line x1="189.30" y1="457.90" x2="191.30" y2="457.90" stroke="#555" stroke-width="0.8" />
<text x="187.60" y="460.40" font-size="7.15" text-anchor="end" fill="#111" >Mucin type O−glycan biosynthesis</text>
<line x1="189.30" y1="475.70" x2="191.30" y2="475.70" stroke="#555" stroke-width="0.8" />
<text x="187.60" y="478.20" font-size="7.15" text-anchor="end" fill="#111" >Glycosphingolipid biosynthesis − lacto and neolacto series</text>
<line x1="189.30" y1="493.50" x2="191.30" y2="493.50" stroke="#555" stroke-width="0.8" />
<text x="187.60" y="496.00" font-size="7.15" text-anchor="end" fill="#111" >Calcium signaling pathway</text>
<line x1="189.30" y1="511.30" x2="191.30" y2="511.30" stroke="#555" stroke-width="0.8" />
<text x="187.60" y="513.80" font-size="7.15" text-anchor="end" fill="#111" >Glycosphingolipid biosynthesis − globo and isoglobo series</text>
<line x1="189.30" y1="529.10" x2="191.30" y2="529.10" stroke="#555" stroke-width="0.8" />
<text x="187.60" y="531.60" font-size="7.15" text-anchor="end" fill="#111" >Glycosaminoglycan biosynthesis − keratan sulfate</text>
<line x1="189.30" y1="546.90" x2="191.30" y2="546.90" stroke="#555" stroke-width="0.8" />
<text x="187.60" y="549.40" font-size="7.15" text-anchor="end" fill="#111" >Salivary secretion</text>
<line x1="189.30" y1="564.70" x2="191.30" y2="564.70" stroke="#555" stroke-width="0.8" />
<text x="187.60" y="567.20" font-size="7.15" text-anchor="end" fill="#111" >Cholinergic synapse</text>
<line x1="189.30" y1="582.50" x2="191.30" y2="582.50" stroke="#555" stroke-width="0.8" />
<text x="187.60" y="585.00" font-size="7.15" text-anchor="end" fill="#111" >Complement and coagulation cascades</text>
<line x1="189.30" y1="600.30" x2="191.30" y2="600.30" stroke="#555" stroke-width="0.8" />
<text x="187.60" y="602.80" font-size="7.15" text-anchor="end" fill="#111" >Other types of O−glycan biosynthesis</text>
<line x1="189.30" y1="618.10" x2="191.30" y2="618.10" stroke="#555" stroke-width="0.8" />
<text x="187.60" y="620.60" font-size="7.15" text-anchor="end" fill="#111" >Steroid biosynthesis</text>
<circle cx="299.1" cy="457.9" r="2.9" fill="#ff1a1a"/>
<circle cx="266.3" cy="475.7" r="2.1" fill="#ff1c1c"/>
<circle cx="196.5" cy="493.5" r="3.5" fill="#ff1a1a"/>
<circle cx="279.8" cy="511.29999999999995" r="1.55" fill="#ff1c1c"/>
<circle cx="276.5" cy="529.1" r="0.9" fill="#e83050"/>
<circle cx="206.0" cy="546.9" r="2.4" fill="#e8285a"/>
<circle cx="200.2" cy="564.7" r="2.6" fill="#c8289a"/>
<circle cx="203.2" cy="582.5" r="2.45" fill="#c82898"/>
<circle cx="220.0" cy="600.3" r="1.9" fill="#c828a8"/>
<circle cx="243.5" cy="618.1" r="1.0" fill="#2020ff"/>
<line x1="204.40" y1="628.40" x2="204.40" y2="630.40" stroke="#555" stroke-width="0.8" />
<text x="204.40" y="639.00" font-size="7.0" text-anchor="middle" fill="#222" >0.10</text>
<line x1="223.85" y1="628.40" x2="223.85" y2="630.40" stroke="#555" stroke-width="0.8" />
<text x="223.85" y="639.00" font-size="7.0" text-anchor="middle" fill="#222" >0.15</text>
<line x1="243.30" y1="628.40" x2="243.30" y2="630.40" stroke="#555" stroke-width="0.8" />
<text x="243.30" y="639.00" font-size="7.0" text-anchor="middle" fill="#222" >0.20</text>
<line x1="262.75" y1="628.40" x2="262.75" y2="630.40" stroke="#555" stroke-width="0.8" />
<text x="262.75" y="639.00" font-size="7.0" text-anchor="middle" fill="#222" >0.25</text>
<line x1="282.20" y1="628.40" x2="282.20" y2="630.40" stroke="#555" stroke-width="0.8" />
<text x="282.20" y="639.00" font-size="7.0" text-anchor="middle" fill="#222" >0.30</text>
<line x1="301.65" y1="628.40" x2="301.65" y2="630.40" stroke="#555" stroke-width="0.8" />
<text x="301.65" y="639.00" font-size="7.0" text-anchor="middle" fill="#222" >0.35</text>
<text x="247.70" y="646.40" font-size="7.9" text-anchor="middle" fill="#000" >Rich Factor</text>
<text x="181.30" y="442.00" font-size="9.4" text-anchor="middle" fill="#000" >KEGG-pathway</text>
<defs><linearGradient id="gd" x1="0" y1="0" x2="0" y2="1"><stop offset="0" stop-color="#ff1a1a"/><stop offset="0.35" stop-color="#e8285a"/><stop offset="0.7" stop-color="#b02ac0"/><stop offset="1" stop-color="#3a1aff"/></linearGradient></defs>
<rect x="315.10" y="491.60" width="8.80" height="44.10" fill="url(#gd)" />
<line x1="315.10" y1="501.70" x2="317.00" y2="501.70" stroke="#fff" stroke-width="0.6" />
<line x1="321.90" y1="501.70" x2="323.90" y2="501.70" stroke="#fff" stroke-width="0.6" />
<text x="327.30" y="504.20" font-size="7.0" text-anchor="start" fill="#000" >0.0004</text>
<line x1="315.10" y1="512.30" x2="317.00" y2="512.30" stroke="#fff" stroke-width="0.6" />
<line x1="321.90" y1="512.30" x2="323.90" y2="512.30" stroke="#fff" stroke-width="0.6" />
<text x="327.30" y="514.80" font-size="7.0" text-anchor="start" fill="#000" >0.0008</text>
<line x1="315.10" y1="522.50" x2="317.00" y2="522.50" stroke="#fff" stroke-width="0.6" />
<line x1="321.90" y1="522.50" x2="323.90" y2="522.50" stroke="#fff" stroke-width="0.6" />
<text x="327.30" y="525.00" font-size="7.0" text-anchor="start" fill="#000" >0.0012</text>
<line x1="315.10" y1="533.40" x2="317.00" y2="533.40" stroke="#fff" stroke-width="0.6" />
<line x1="321.90" y1="533.40" x2="323.90" y2="533.40" stroke="#fff" stroke-width="0.6" />
<text x="327.30" y="535.90" font-size="7.0" text-anchor="start" fill="#000" >0.0016</text>
<text x="314.80" y="486.90" font-size="7.1" text-anchor="start" fill="#000" >Pvalue</text>
<text x="314.80" y="555.70" font-size="7.1" text-anchor="start" fill="#000" >Count</text>
<circle cx="319.3" cy="564.8" r="1.36" fill="#000"/>
<text x="327.30" y="567.30" font-size="7.0" text-anchor="start" fill="#000" >5</text>
<circle cx="319.3" cy="573.5" r="2.26" fill="#000"/>
<text x="327.30" y="576.00" font-size="7.0" text-anchor="start" fill="#000" >10</text>
<circle cx="319.3" cy="582.2" r="3.0" fill="#000"/>
<text x="327.30" y="584.70" font-size="7.0" text-anchor="start" fill="#000" >15</text>
<circle cx="319.3" cy="590.8" r="3.5" fill="#000"/>
<text x="327.30" y="593.30" font-size="7.0" text-anchor="start" fill="#000" >20</text>
<rect x="478.60" y="447.80" width="158.70" height="180.80" fill="#fff" />
<line x1="501.25" y1="447.80" x2="501.25" y2="628.60" stroke="#f3f3f3" stroke-width="0.6" />
<line x1="546.55" y1="447.80" x2="546.55" y2="628.60" stroke="#f3f3f3" stroke-width="0.6" />
<line x1="591.85" y1="447.80" x2="591.85" y2="628.60" stroke="#f3f3f3" stroke-width="0.6" />
<line x1="637.15" y1="447.80" x2="637.15" y2="628.60" stroke="#f3f3f3" stroke-width="0.6" />
<line x1="523.90" y1="447.80" x2="523.90" y2="628.60" stroke="#e8e8e8" stroke-width="0.9" />
<line x1="569.20" y1="447.80" x2="569.20" y2="628.60" stroke="#e8e8e8" stroke-width="0.9" />
<line x1="614.50" y1="447.80" x2="614.50" y2="628.60" stroke="#e8e8e8" stroke-width="0.9" />
<line x1="478.60" y1="458.35" x2="637.30" y2="458.35" stroke="#e8e8e8" stroke-width="0.9" />
<line x1="478.60" y1="476.15" x2="637.30" y2="476.15" stroke="#e8e8e8" stroke-width="0.9" />
<line x1="478.60" y1="493.95" x2="637.30" y2="493.95" stroke="#e8e8e8" stroke-width="0.9" />
<line x1="478.60" y1="511.75" x2="637.30" y2="511.75" stroke="#e8e8e8" stroke-width="0.9" />
<line x1="478.60" y1="529.55" x2="637.30" y2="529.55" stroke="#e8e8e8" stroke-width="0.9" />
<line x1="478.60" y1="547.35" x2="637.30" y2="547.35" stroke="#e8e8e8" stroke-width="0.9" />
<line x1="478.60" y1="565.15" x2="637.30" y2="565.15" stroke="#e8e8e8" stroke-width="0.9" />
<line x1="478.60" y1="582.95" x2="637.30" y2="582.95" stroke="#e8e8e8" stroke-width="0.9" />
<line x1="478.60" y1="600.75" x2="637.30" y2="600.75" stroke="#e8e8e8" stroke-width="0.9" />
<line x1="478.60" y1="618.55" x2="637.30" y2="618.55" stroke="#e8e8e8" stroke-width="0.9" />
<rect x="478.60" y="453.00" width="103.10" height="10.70" fill="#ff2112" />
<text x="583.70" y="460.85" font-size="7.1" text-anchor="start" fill="#000" >23</text>
<line x1="476.60" y1="458.35" x2="478.60" y2="458.35" stroke="#555" stroke-width="0.8" />
<text x="475.00" y="460.85" font-size="7.15" text-anchor="end" fill="#111" >protein glycosylation</text>
<rect x="478.60" y="470.80" width="103.10" height="10.70" fill="#ff2112" />
<text x="583.70" y="478.65" font-size="7.1" text-anchor="start" fill="#000" >23</text>
<line x1="476.60" y1="476.15" x2="478.60" y2="476.15" stroke="#555" stroke-width="0.8" />
<text x="475.00" y="478.65" font-size="7.15" text-anchor="end" fill="#111" >macromolecule glycosylation</text>
<rect x="478.60" y="488.60" width="92.80" height="10.70" fill="#ff2112" />
<text x="573.40" y="496.45" font-size="7.1" text-anchor="start" fill="#000" >23</text>
<line x1="476.60" y1="493.95" x2="478.60" y2="493.95" stroke="#555" stroke-width="0.8" />
<text x="475.00" y="496.45" font-size="7.15" text-anchor="end" fill="#111" >glycosylation</text>
<rect x="478.60" y="506.40" width="78.00" height="10.70" fill="#ff2113" />
<text x="558.60" y="514.25" font-size="7.1" text-anchor="start" fill="#000" >25</text>
<line x1="476.60" y1="511.75" x2="478.60" y2="511.75" stroke="#555" stroke-width="0.8" />
<text x="475.00" y="514.25" font-size="7.15" text-anchor="end" fill="#111" >glycoprotein biosynthetic process</text>
<rect x="478.60" y="524.20" width="64.80" height="10.70" fill="#ff2115" />
<text x="545.40" y="532.05" font-size="7.1" text-anchor="start" fill="#000" >26</text>
<line x1="476.60" y1="529.55" x2="478.60" y2="529.55" stroke="#555" stroke-width="0.8" />
<text x="475.00" y="532.05" font-size="7.15" text-anchor="end" fill="#111" >glycoprotein metabolic process</text>
<rect x="478.60" y="542.00" width="132.60" height="10.70" fill="#f02038" />
<text x="613.20" y="549.85" font-size="7.1" text-anchor="start" fill="#000" >12</text>
<line x1="476.60" y1="547.35" x2="478.60" y2="547.35" stroke="#555" stroke-width="0.8" />
<text x="475.00" y="549.85" font-size="7.15" text-anchor="end" fill="#111" >protein O−linked glycosylation</text>
<rect x="478.60" y="559.80" width="97.80" height="10.70" fill="#e0205a" />
<text x="578.40" y="567.65" font-size="7.1" text-anchor="start" fill="#000" >15</text>
<line x1="476.60" y1="565.15" x2="478.60" y2="565.15" stroke="#555" stroke-width="0.8" />
<text x="475.00" y="567.65" font-size="7.15" text-anchor="end" fill="#111" >digestion</text>
<rect x="478.60" y="577.60" width="103.80" height="10.70" fill="#de2062" />
<text x="584.40" y="585.45" font-size="7.1" text-anchor="start" fill="#000" >14</text>
<line x1="476.60" y1="582.95" x2="478.60" y2="582.95" stroke="#555" stroke-width="0.8" />
<text x="475.00" y="585.45" font-size="7.15" text-anchor="end" fill="#111" >digestive system process</text>
<rect x="478.60" y="595.40" width="60.80" height="10.70" fill="#4000ff" />
<text x="541.40" y="603.25" font-size="7.1" text-anchor="start" fill="#000" >23</text>
<line x1="476.60" y1="600.75" x2="478.60" y2="600.75" stroke="#555" stroke-width="0.8" />
<text x="475.00" y="603.25" font-size="7.15" text-anchor="end" fill="#111" >peptide transport</text>
<rect x="478.60" y="613.20" width="87.50" height="10.70" fill="#1a00ff" />
<text x="568.10" y="621.05" font-size="7.1" text-anchor="start" fill="#000" >15</text>
<line x1="476.60" y1="618.55" x2="478.60" y2="618.55" stroke="#555" stroke-width="0.8" />
<text x="475.00" y="621.05" font-size="7.15" text-anchor="end" fill="#111" >kidney epithelium development</text>
<rect x="478.6" y="447.8" width="158.70" height="180.80" fill="none" stroke="#9a9a9a" stroke-width="0.9"/>
<line x1="478.60" y1="628.60" x2="478.60" y2="630.60" stroke="#555" stroke-width="0.8" />
<text x="478.60" y="639.30" font-size="7.0" text-anchor="middle" fill="#222" >0.00</text>
<line x1="523.90" y1="628.60" x2="523.90" y2="630.60" stroke="#555" stroke-width="0.8" />
<text x="523.90" y="639.30" font-size="7.0" text-anchor="middle" fill="#222" >0.05</text>
<line x1="569.20" y1="628.60" x2="569.20" y2="630.60" stroke="#555" stroke-width="0.8" />
<text x="569.20" y="639.30" font-size="7.0" text-anchor="middle" fill="#222" >0.10</text>
<line x1="614.50" y1="628.60" x2="614.50" y2="630.60" stroke="#555" stroke-width="0.8" />
<text x="614.50" y="639.30" font-size="7.0" text-anchor="middle" fill="#222" >0.15</text>
<text x="505.40" y="442.00" font-size="9.4" text-anchor="middle" fill="#000" >GO-Biological process</text>
<text x="558.00" y="647.20" font-size="7.9" text-anchor="middle" fill="#000" >Rich Factor</text>
<defs><linearGradient id="ge" x1="0" y1="0" x2="0" y2="1"><stop offset="0" stop-color="#ff1a1a"/><stop offset="0.45" stop-color="#e02a60"/><stop offset="0.75" stop-color="#9a2ad0"/><stop offset="1" stop-color="#2a1aff"/></linearGradient></defs>
<rect x="648.40" y="522.20" width="9.00" height="43.30" fill="url(#ge)" />
<line x1="648.40" y1="534.20" x2="650.30" y2="534.20" stroke="#fff" stroke-width="0.6" />
<line x1="655.50" y1="534.20" x2="657.40" y2="534.20" stroke="#fff" stroke-width="0.6" />
<text x="660.50" y="536.70" font-size="7.0" text-anchor="start" fill="#000" >2e−07</text>
<line x1="648.40" y1="546.70" x2="650.30" y2="546.70" stroke="#fff" stroke-width="0.6" />
<line x1="655.50" y1="546.70" x2="657.40" y2="546.70" stroke="#fff" stroke-width="0.6" />
<text x="660.50" y="549.20" font-size="7.0" text-anchor="start" fill="#000" >4e−07</text>
<line x1="648.40" y1="558.60" x2="650.30" y2="558.60" stroke="#fff" stroke-width="0.6" />
<line x1="655.50" y1="558.60" x2="657.40" y2="558.60" stroke="#fff" stroke-width="0.6" />
<text x="660.50" y="561.10" font-size="7.0" text-anchor="start" fill="#000" >6e−07</text>
<text x="648.30" y="517.80" font-size="7.1" text-anchor="start" fill="#000" >Pvalue</text>
<path fill="#ffacac" d="M15.20 677.40h30.00v4.55h-30.00zM45.20 691.05h30.00v4.55h-30.00zM195.20 722.90h30.00v4.55h-30.00zM45.20 750.20h30.00v4.55h-30.00zM195.20 768.40h30.00v4.55h-30.00zM195.20 772.95h30.00v4.55h-30.00zM45.20 777.50h30.00v4.55h-30.00zM195.20 795.70h30.00v4.55h-30.00zM135.20 827.55h30.00v4.55h-30.00zM195.20 836.65h30.00v4.55h-30.00zM15.20 841.20h30.00v4.55h-30.00zM75.20 854.85h30.00v4.55h-30.00z"/>
<path fill="#ff4848" d="M45.20 677.40h30.00v4.55h-30.00z"/>
<path fill="#ff7474" d="M75.20 677.40h30.00v4.55h-30.00zM15.20 681.95h30.00v4.55h-30.00zM45.20 681.95h30.00v4.55h-30.00zM105.20 704.70h30.00v4.55h-30.00zM195.20 709.25h30.00v4.55h-30.00zM105.20 713.80h30.00v4.55h-30.00zM15.20 722.90h30.00v4.55h-30.00zM105.20 736.55h30.00v4.55h-30.00zM195.20 741.10h30.00v4.55h-30.00zM15.20 759.30h30.00v4.55h-30.00zM75.20 759.30h30.00v4.55h-30.00zM75.20 777.50h30.00v4.55h-30.00zM195.20 782.05h30.00v4.55h-30.00zM15.20 791.15h30.00v4.55h-30.00zM195.20 800.25h30.00v4.55h-30.00zM15.20 809.35h30.00v4.55h-30.00zM15.20 818.45h30.00v4.55h-30.00zM225.20 823.00h30.00v4.55h-30.00zM105.20 827.55h30.00v4.55h-30.00zM75.20 836.65h30.00v4.55h-30.00zM75.20 841.20h30.00v4.55h-30.00zM195.20 841.20h30.00v4.55h-30.00zM75.20 845.75h30.00v4.55h-30.00zM15.20 854.85h30.00v4.55h-30.00z"/>
<path fill="#5050ff" d="M105.20 677.40h30.00v4.55h-30.00zM105.20 691.05h30.00v4.55h-30.00zM105.20 695.60h30.00v4.55h-30.00zM105.20 845.75h30.00v4.55h-30.00z"/>
<path fill="#b0b0ff" d="M135.20 677.40h30.00v4.55h-30.00zM135.20 750.20h30.00v4.55h-30.00zM225.20 754.75h30.00v4.55h-30.00zM255.20 777.50h30.00v4.55h-30.00zM105.20 786.60h30.00v4.55h-30.00zM135.20 832.10h30.00v4.55h-30.00zM135.20 836.65h30.00v4.55h-30.00zM225.20 850.30h30.00v4.55h-30.00z"/>
<path fill="#8080ff" d="M165.20 677.40h30.00v4.55h-30.00zM135.20 681.95h30.00v4.55h-30.00zM165.20 681.95h30.00v4.55h-30.00zM255.20 686.50h30.00v4.55h-30.00zM165.20 700.15h30.00v4.55h-30.00zM45.20 732.00h30.00v4.55h-30.00zM75.20 732.00h30.00v4.55h-30.00zM15.20 736.55h30.00v4.55h-30.00zM165.20 750.20h30.00v4.55h-30.00zM255.20 782.05h30.00v4.55h-30.00zM165.20 800.25h30.00v4.55h-30.00zM105.20 818.45h30.00v4.55h-30.00z"/>
<path fill="#ff8c8c" d="M195.20 677.40h30.00v4.55h-30.00zM165.20 732.00h30.00v4.55h-30.00zM225.20 750.20h30.00v4.55h-30.00zM75.20 763.85h30.00v4.55h-30.00zM225.20 782.05h30.00v4.55h-30.00zM15.20 795.70h30.00v4.55h-30.00zM225.20 800.25h30.00v4.55h-30.00zM195.20 804.80h30.00v4.55h-30.00zM15.20 845.75h30.00v4.55h-30.00z"/>
<path fill="#e0e0ff" d="M225.20 677.40h30.00v4.55h-30.00zM225.20 732.00h30.00v4.55h-30.00zM255.20 736.55h30.00v4.55h-30.00zM135.20 745.65h30.00v4.55h-30.00zM105.20 772.95h30.00v4.55h-30.00zM255.20 791.15h30.00v4.55h-30.00zM135.20 850.30h30.00v4.55h-30.00z"/>
<path fill="#a8a8ff" d="M255.20 677.40h30.00v4.55h-30.00zM45.20 713.80h30.00v4.55h-30.00zM195.20 713.80h30.00v4.55h-30.00zM45.20 736.55h30.00v4.55h-30.00zM135.20 759.30h30.00v4.55h-30.00zM135.20 763.85h30.00v4.55h-30.00zM135.20 768.40h30.00v4.55h-30.00zM165.20 786.60h30.00v4.55h-30.00zM135.20 809.35h30.00v4.55h-30.00zM135.20 818.45h30.00v4.55h-30.00zM15.20 827.55h30.00v4.55h-30.00zM135.20 841.20h30.00v4.55h-30.00zM165.20 854.85h30.00v4.55h-30.00z"/>
<path fill="#ff8484" d="M75.20 681.95h30.00v4.55h-30.00zM75.20 686.50h30.00v4.55h-30.00zM75.20 691.05h30.00v4.55h-30.00zM45.20 718.35h30.00v4.55h-30.00zM225.20 741.10h30.00v4.55h-30.00zM15.20 763.85h30.00v4.55h-30.00zM75.20 768.40h30.00v4.55h-30.00zM45.20 772.95h30.00v4.55h-30.00zM15.20 832.10h30.00v4.55h-30.00zM195.20 850.30h30.00v4.55h-30.00z"/>
<path fill="#7878ff" d="M105.20 681.95h30.00v4.55h-30.00zM255.20 681.95h30.00v4.55h-30.00zM105.20 686.50h30.00v4.55h-30.00zM165.20 686.50h30.00v4.55h-30.00zM105.20 700.15h30.00v4.55h-30.00zM15.20 732.00h30.00v4.55h-30.00zM135.20 741.10h30.00v4.55h-30.00zM105.20 768.40h30.00v4.55h-30.00zM135.20 782.05h30.00v4.55h-30.00zM105.20 800.25h30.00v4.55h-30.00zM105.20 813.90h30.00v4.55h-30.00zM165.20 813.90h30.00v4.55h-30.00zM165.20 836.65h30.00v4.55h-30.00zM165.20 841.20h30.00v4.55h-30.00zM165.20 850.30h30.00v4.55h-30.00z"/>
<path fill="#ffeaea" d="M195.20 681.95h30.00v4.55h-30.00zM45.20 709.25h30.00v4.55h-30.00zM105.20 709.25h30.00v4.55h-30.00zM225.20 727.45h30.00v4.55h-30.00z"/>
<path fill="#ffb4b4" d="M225.20 681.95h30.00v4.55h-30.00zM75.20 695.60h30.00v4.55h-30.00zM15.20 750.20h30.00v4.55h-30.00zM135.20 754.75h30.00v4.55h-30.00zM45.20 759.30h30.00v4.55h-30.00zM45.20 763.85h30.00v4.55h-30.00zM45.20 768.40h30.00v4.55h-30.00zM225.20 832.10h30.00v4.55h-30.00zM45.20 850.30h30.00v4.55h-30.00z"/>
<path fill="#ffa4a4" d="M15.20 686.50h30.00v4.55h-30.00zM45.20 686.50h30.00v4.55h-30.00zM135.20 704.70h30.00v4.55h-30.00zM75.20 722.90h30.00v4.55h-30.00zM105.20 732.00h30.00v4.55h-30.00zM195.20 745.65h30.00v4.55h-30.00zM75.20 750.20h30.00v4.55h-30.00zM195.20 750.20h30.00v4.55h-30.00zM225.20 772.95h30.00v4.55h-30.00zM15.20 782.05h30.00v4.55h-30.00zM195.20 791.15h30.00v4.55h-30.00zM195.20 818.45h30.00v4.55h-30.00zM195.20 832.10h30.00v4.55h-30.00zM75.20 850.30h30.00v4.55h-30.00zM195.20 854.85h30.00v4.55h-30.00z"/>
<path fill="#8888ff" d="M135.20 686.50h30.00v4.55h-30.00zM135.20 691.05h30.00v4.55h-30.00zM135.20 695.60h30.00v4.55h-30.00zM165.20 695.60h30.00v4.55h-30.00zM15.20 713.80h30.00v4.55h-30.00zM165.20 718.35h30.00v4.55h-30.00zM255.20 718.35h30.00v4.55h-30.00zM135.20 722.90h30.00v4.55h-30.00zM255.20 727.45h30.00v4.55h-30.00zM45.20 754.75h30.00v4.55h-30.00zM165.20 768.40h30.00v4.55h-30.00zM195.20 786.60h30.00v4.55h-30.00zM135.20 800.25h30.00v4.55h-30.00zM255.20 804.80h30.00v4.55h-30.00zM255.20 813.90h30.00v4.55h-30.00zM165.20 832.10h30.00v4.55h-30.00zM165.20 845.75h30.00v4.55h-30.00zM135.20 854.85h30.00v4.55h-30.00z"/>
<path fill="#ff5454" d="M195.20 686.50h30.00v4.55h-30.00zM195.20 695.60h30.00v4.55h-30.00zM75.20 782.05h30.00v4.55h-30.00zM15.20 786.60h30.00v4.55h-30.00zM75.20 800.25h30.00v4.55h-30.00zM15.20 813.90h30.00v4.55h-30.00zM75.20 832.10h30.00v4.55h-30.00z"/>
<path fill="#ffbcbc" d="M225.20 686.50h30.00v4.55h-30.00zM45.20 700.15h30.00v4.55h-30.00zM225.20 722.90h30.00v4.55h-30.00zM75.20 727.45h30.00v4.55h-30.00zM15.20 745.65h30.00v4.55h-30.00zM225.20 777.50h30.00v4.55h-30.00zM45.20 795.70h30.00v4.55h-30.00z"/>
<path fill="#ffffff" d="M15.20 691.05h30.00v4.55h-30.00zM225.20 700.15h30.00v4.55h-30.00zM255.20 700.15h30.00v4.55h-30.00zM165.20 709.25h30.00v4.55h-30.00zM135.20 732.00h30.00v4.55h-30.00zM75.20 736.55h30.00v4.55h-30.00zM45.20 741.10h30.00v4.55h-30.00zM75.20 772.95h30.00v4.55h-30.00zM45.20 823.00h30.00v4.55h-30.00zM45.20 827.55h30.00v4.55h-30.00zM75.20 827.55h30.00v4.55h-30.00zM195.20 827.55h30.00v4.55h-30.00zM45.20 841.20h30.00v4.55h-30.00zM45.20 854.85h30.00v4.55h-30.00z"/>
<path fill="#9090ff" d="M165.20 691.05h30.00v4.55h-30.00zM15.20 709.25h30.00v4.55h-30.00zM105.20 727.45h30.00v4.55h-30.00zM165.20 741.10h30.00v4.55h-30.00zM255.20 741.10h30.00v4.55h-30.00zM165.20 745.65h30.00v4.55h-30.00zM165.20 804.80h30.00v4.55h-30.00zM165.20 809.35h30.00v4.55h-30.00zM255.20 818.45h30.00v4.55h-30.00zM165.20 823.00h30.00v4.55h-30.00zM255.20 836.65h30.00v4.55h-30.00zM255.20 841.20h30.00v4.55h-30.00zM105.20 850.30h30.00v4.55h-30.00z"/>
<path fill="#ff2020" d="M195.20 691.05h30.00v4.55h-30.00zM225.20 786.60h30.00v4.55h-30.00z"/>
<path fill="#e8e8ff" d="M225.20 691.05h30.00v4.55h-30.00zM195.20 732.00h30.00v4.55h-30.00zM15.20 754.75h30.00v4.55h-30.00zM225.20 763.85h30.00v4.55h-30.00zM255.20 772.95h30.00v4.55h-30.00zM255.20 786.60h30.00v4.55h-30.00z"/>
<path fill="#d0d0ff" d="M255.20 691.05h30.00v4.55h-30.00zM195.20 754.75h30.00v4.55h-30.00zM165.20 763.85h30.00v4.55h-30.00zM45.20 782.05h30.00v4.55h-30.00zM165.20 782.05h30.00v4.55h-30.00zM75.20 791.15h30.00v4.55h-30.00z"/>
<path fill="#fff0f0" d="M15.20 695.60h30.00v4.55h-30.00zM255.20 722.90h30.00v4.55h-30.00zM225.20 745.65h30.00v4.55h-30.00zM45.20 786.60h30.00v4.55h-30.00zM75.20 786.60h30.00v4.55h-30.00zM15.20 823.00h30.00v4.55h-30.00z"/>
<path fill="#ffd2d2" d="M45.20 695.60h30.00v4.55h-30.00zM75.20 718.35h30.00v4.55h-30.00zM225.20 791.15h30.00v4.55h-30.00zM225.20 809.35h30.00v4.55h-30.00zM225.20 818.45h30.00v4.55h-30.00zM45.20 836.65h30.00v4.55h-30.00z"/>
<path fill="#ff6464" d="M225.20 695.60h30.00v4.55h-30.00zM135.20 736.55h30.00v4.55h-30.00zM15.20 772.95h30.00v4.55h-30.00zM15.20 777.50h30.00v4.55h-30.00z"/>
<path fill="#d8d8ff" d="M255.20 695.60h30.00v4.55h-30.00zM255.20 704.70h30.00v4.55h-30.00zM225.20 713.80h30.00v4.55h-30.00zM135.20 727.45h30.00v4.55h-30.00zM255.20 754.75h30.00v4.55h-30.00z"/>
<path fill="#ffe9e9" d="M15.20 700.15h30.00v4.55h-30.00z"/>
<path fill="#ffcccc" d="M75.20 700.15h30.00v4.55h-30.00zM255.20 750.20h30.00v4.55h-30.00zM45.20 818.45h30.00v4.55h-30.00z"/>
<path fill="#7070ff" d="M135.20 700.15h30.00v4.55h-30.00zM45.20 704.70h30.00v4.55h-30.00zM165.20 722.90h30.00v4.55h-30.00zM255.20 745.65h30.00v4.55h-30.00zM75.20 754.75h30.00v4.55h-30.00zM165.20 759.30h30.00v4.55h-30.00zM105.20 763.85h30.00v4.55h-30.00zM255.20 768.40h30.00v4.55h-30.00zM105.20 782.05h30.00v4.55h-30.00zM135.20 786.60h30.00v4.55h-30.00zM105.20 791.15h30.00v4.55h-30.00z"/>
<path fill="#ff1818" d="M195.20 700.15h30.00v4.55h-30.00z"/>
<path fill="#b8b8ff" d="M15.20 704.70h30.00v4.55h-30.00zM195.20 704.70h30.00v4.55h-30.00zM135.20 777.50h30.00v4.55h-30.00zM135.20 795.70h30.00v4.55h-30.00zM135.20 845.75h30.00v4.55h-30.00z"/>
<path fill="#ffd6d6" d="M75.20 704.70h30.00v4.55h-30.00z"/>
<path fill="#ff3030" d="M165.20 704.70h30.00v4.55h-30.00zM165.20 713.80h30.00v4.55h-30.00zM195.20 718.35h30.00v4.55h-30.00zM15.20 727.45h30.00v4.55h-30.00zM165.20 827.55h30.00v4.55h-30.00zM15.20 850.30h30.00v4.55h-30.00z"/>
<path fill="#6868ff" d="M225.20 704.70h30.00v4.55h-30.00zM255.20 713.80h30.00v4.55h-30.00zM105.20 718.35h30.00v4.55h-30.00zM165.20 772.95h30.00v4.55h-30.00zM165.20 777.50h30.00v4.55h-30.00zM105.20 804.80h30.00v4.55h-30.00z"/>
<path fill="#9898ff" d="M75.20 709.25h30.00v4.55h-30.00zM135.20 718.35h30.00v4.55h-30.00zM255.20 800.25h30.00v4.55h-30.00zM255.20 809.35h30.00v4.55h-30.00zM135.20 823.00h30.00v4.55h-30.00zM255.20 832.10h30.00v4.55h-30.00zM255.20 845.75h30.00v4.55h-30.00zM255.20 850.30h30.00v4.55h-30.00zM255.20 854.85h30.00v4.55h-30.00z"/>
<path fill="#ff3838" d="M135.20 709.25h30.00v4.55h-30.00z"/>
<path fill="#2020ff" d="M225.20 709.25h30.00v4.55h-30.00zM105.20 722.90h30.00v4.55h-30.00zM135.20 772.95h30.00v4.55h-30.00zM105.20 823.00h30.00v4.55h-30.00z"/>
<path fill="#ffeded" d="M255.20 709.25h30.00v4.55h-30.00zM135.20 791.15h30.00v4.55h-30.00zM255.20 823.00h30.00v4.55h-30.00z"/>
<path fill="#ffe4e4" d="M75.20 713.80h30.00v4.55h-30.00z"/>
<path fill="#ff9d9d" d="M135.20 713.80h30.00v4.55h-30.00zM45.20 722.90h30.00v4.55h-30.00z"/>
<path fill="#ff9494" d="M15.20 718.35h30.00v4.55h-30.00zM15.20 741.10h30.00v4.55h-30.00zM45.20 745.65h30.00v4.55h-30.00zM75.20 795.70h30.00v4.55h-30.00zM15.20 800.25h30.00v4.55h-30.00zM195.20 809.35h30.00v4.55h-30.00zM195.20 813.90h30.00v4.55h-30.00z"/>
<path fill="#fff2f2" d="M225.20 718.35h30.00v4.55h-30.00z"/>
<path fill="#ff6868" d="M45.20 727.45h30.00v4.55h-30.00z"/>
<path fill="#5858ff" d="M165.20 727.45h30.00v4.55h-30.00zM105.20 759.30h30.00v4.55h-30.00zM255.20 763.85h30.00v4.55h-30.00zM165.20 795.70h30.00v4.55h-30.00zM225.20 827.55h30.00v4.55h-30.00zM255.20 827.55h30.00v4.55h-30.00z"/>
<path fill="#f0f0ff" d="M195.20 727.45h30.00v4.55h-30.00zM195.20 736.55h30.00v4.55h-30.00zM45.20 800.25h30.00v4.55h-30.00zM225.20 813.90h30.00v4.55h-30.00z"/>
<path fill="#ff2828" d="M255.20 732.00h30.00v4.55h-30.00zM75.20 804.80h30.00v4.55h-30.00z"/>
<path fill="#ff6c6c" d="M165.20 736.55h30.00v4.55h-30.00zM45.20 791.15h30.00v4.55h-30.00zM195.20 845.75h30.00v4.55h-30.00z"/>
<path fill="#3030ff" d="M225.20 736.55h30.00v4.55h-30.00z"/>
<path fill="#ff5050" d="M75.20 741.10h30.00v4.55h-30.00z"/>
<path fill="#6060ff" d="M105.20 741.10h30.00v4.55h-30.00zM105.20 809.35h30.00v4.55h-30.00zM105.20 836.65h30.00v4.55h-30.00z"/>
<path fill="#ff4444" d="M75.20 745.65h30.00v4.55h-30.00zM105.20 754.75h30.00v4.55h-30.00zM165.20 754.75h30.00v4.55h-30.00zM195.20 763.85h30.00v4.55h-30.00zM75.20 809.35h30.00v4.55h-30.00zM75.20 818.45h30.00v4.55h-30.00zM75.20 823.00h30.00v4.55h-30.00z"/>
<path fill="#4848ff" d="M105.20 745.65h30.00v4.55h-30.00zM105.20 777.50h30.00v4.55h-30.00zM165.20 818.45h30.00v4.55h-30.00zM105.20 841.20h30.00v4.55h-30.00z"/>
<path fill="#0808ff" d="M105.20 750.20h30.00v4.55h-30.00z"/>
<path fill="#ff7c7c" d="M195.20 759.30h30.00v4.55h-30.00zM225.20 795.70h30.00v4.55h-30.00zM225.20 841.20h30.00v4.55h-30.00z"/>
<path fill="#ffe0e0" d="M225.20 759.30h30.00v4.55h-30.00zM45.20 809.35h30.00v4.55h-30.00z"/>
<path fill="#a0a0ff" d="M255.20 759.30h30.00v4.55h-30.00zM135.20 804.80h30.00v4.55h-30.00z"/>
<path fill="#ff4c4c" d="M15.20 768.40h30.00v4.55h-30.00zM15.20 836.65h30.00v4.55h-30.00z"/>
<path fill="#ffdcdc" d="M225.20 768.40h30.00v4.55h-30.00zM225.20 836.65h30.00v4.55h-30.00zM45.20 845.75h30.00v4.55h-30.00z"/>
<path fill="#ffc4c4" d="M195.20 777.50h30.00v4.55h-30.00zM45.20 813.90h30.00v4.55h-30.00zM195.20 823.00h30.00v4.55h-30.00z"/>
<path fill="#1010ff" d="M165.20 791.15h30.00v4.55h-30.00z"/>
<path fill="#3838ff" d="M105.20 795.70h30.00v4.55h-30.00z"/>
<path fill="#c8c8ff" d="M255.20 795.70h30.00v4.55h-30.00zM135.20 813.90h30.00v4.55h-30.00z"/>
<path fill="#ffdada" d="M15.20 804.80h30.00v4.55h-30.00zM45.20 804.80h30.00v4.55h-30.00zM225.20 845.75h30.00v4.55h-30.00z"/>
<path fill="#ffcaca" d="M225.20 804.80h30.00v4.55h-30.00z"/>
<path fill="#ff5c5c" d="M75.20 813.90h30.00v4.55h-30.00zM225.20 854.85h30.00v4.55h-30.00z"/>
<path fill="#ffe2e2" d="M45.20 832.10h30.00v4.55h-30.00z"/>
<path fill="#2828ff" d="M105.20 832.10h30.00v4.55h-30.00z"/>
<path fill="#4040ff" d="M105.20 854.85h30.00v4.55h-30.00z"/>
<path d="M15.20 677.40H285.20M15.20 681.95H285.20M15.20 686.50H285.20M15.20 691.05H285.20M15.20 695.60H285.20M15.20 700.15H285.20M15.20 704.70H285.20M15.20 709.25H285.20M15.20 713.80H285.20M15.20 718.35H285.20M15.20 722.90H285.20M15.20 727.45H285.20M15.20 732.00H285.20M15.20 736.55H285.20M15.20 741.10H285.20M15.20 745.65H285.20M15.20 750.20H285.20M15.20 754.75H285.20M15.20 759.30H285.20M15.20 763.85H285.20M15.20 768.40H285.20M15.20 772.95H285.20M15.20 777.50H285.20M15.20 782.05H285.20M15.20 786.60H285.20M15.20 791.15H285.20M15.20 795.70H285.20M15.20 800.25H285.20M15.20 804.80H285.20M15.20 809.35H285.20M15.20 813.90H285.20M15.20 818.45H285.20M15.20 823.00H285.20M15.20 827.55H285.20M15.20 832.10H285.20M15.20 836.65H285.20M15.20 841.20H285.20M15.20 845.75H285.20M15.20 850.30H285.20M15.20 854.85H285.20M15.20 859.40H285.20M15.20 677.40V859.40M45.20 677.40V859.40M75.20 677.40V859.40M105.20 677.40V859.40M135.20 677.40V859.40M165.20 677.40V859.40M195.20 677.40V859.40M225.20 677.40V859.40M255.20 677.40V859.40M285.20 677.40V859.40" stroke="#9a9a9a" stroke-width="0.55" fill="none"/>
<rect x="16.60" y="667.00" width="85.10" height="5.70" fill="#c9c9f9" />
<text x="57.90" y="662.50" font-size="9.6" text-anchor="middle" fill="#000" >Saline</text>
<rect x="106.80" y="667.00" width="85.10" height="5.70" fill="#f1929a" />
<text x="150.00" y="662.50" font-size="9.6" text-anchor="middle" fill="#000" >RT</text>
<rect x="198.90" y="667.00" width="85.10" height="5.70" fill="#a2f0a2" />
<text x="243.70" y="662.50" font-size="9.6" text-anchor="middle" fill="#000" >RT+PG-NS<tspan font-size="0.62em">A</tspan></text>
<text x="287.20" y="682.17" font-size="7.1" text-anchor="start" fill="#000" >Ezr</text>
<text x="287.20" y="686.73" font-size="7.1" text-anchor="start" fill="#000" >Sec13</text>
<text x="287.20" y="691.27" font-size="7.1" text-anchor="start" fill="#000" >Ptpmt1</text>
<text x="287.20" y="695.82" font-size="7.1" text-anchor="start" fill="#000" >Aldoc</text>
<text x="287.20" y="700.38" font-size="7.1" text-anchor="start" fill="#000" >Cd1d2</text>
<text x="287.20" y="704.92" font-size="7.1" text-anchor="start" fill="#000" >Cib3</text>
<text x="287.20" y="709.48" font-size="7.1" text-anchor="start" fill="#000" >Dbnl04</text>
<text x="287.20" y="714.02" font-size="7.1" text-anchor="start" fill="#000" >Edn3</text>
<text x="287.20" y="718.57" font-size="7.1" text-anchor="start" fill="#000" >Eif4e</text>
<text x="287.20" y="723.12" font-size="7.1" text-anchor="start" fill="#000" >Dcp2</text>
<text x="287.20" y="727.67" font-size="7.1" text-anchor="start" fill="#000" >Fzr</text>
<text x="287.20" y="732.23" font-size="7.1" text-anchor="start" fill="#000" >Gsta5</text>
<text x="287.20" y="736.77" font-size="7.1" text-anchor="start" fill="#000" >Hsp90ab1</text>
<text x="287.20" y="741.32" font-size="7.1" text-anchor="start" fill="#000" >Man1b1</text>
<text x="287.20" y="745.88" font-size="7.1" text-anchor="start" fill="#000" >Ogn</text>
<text x="287.20" y="750.42" font-size="7.1" text-anchor="start" fill="#000" >Uggt1</text>
<text x="287.20" y="754.98" font-size="7.1" text-anchor="start" fill="#000" >Pdia2</text>
<text x="287.20" y="759.52" font-size="7.1" text-anchor="start" fill="#000" >Bpnt1</text>
<text x="287.20" y="764.07" font-size="7.1" text-anchor="start" fill="#000" >Ero1l</text>
<text x="287.20" y="768.62" font-size="7.1" text-anchor="start" fill="#000" >Sar1</text>
<text x="287.20" y="773.17" font-size="7.1" text-anchor="start" fill="#000" >Tmem258</text>
<text x="287.20" y="777.73" font-size="7.1" text-anchor="start" fill="#000" >Dnajc3</text>
<text x="287.20" y="782.27" font-size="7.1" text-anchor="start" fill="#000" >Elmo3</text>
<text x="287.20" y="786.82" font-size="7.1" text-anchor="start" fill="#000" >Pxdc1</text>
<text x="287.20" y="791.38" font-size="7.1" text-anchor="start" fill="#000" >Rpn2</text>
<text x="287.20" y="795.92" font-size="7.1" text-anchor="start" fill="#000" >Mogs</text>
<text x="287.20" y="800.47" font-size="7.1" text-anchor="start" fill="#000" >Stt3a</text>
<text x="287.20" y="805.02" font-size="7.1" text-anchor="start" fill="#000" >Psmc3</text>
<text x="287.20" y="809.57" font-size="7.1" text-anchor="start" fill="#000" >Sec61a1</text>
<text x="287.20" y="814.12" font-size="7.1" text-anchor="start" fill="#000" >Prkcsh</text>
<text x="287.20" y="818.67" font-size="7.1" text-anchor="start" fill="#000" >Hsp90b1</text>
<text x="287.20" y="823.22" font-size="7.1" text-anchor="start" fill="#000" >Mlec</text>
<text x="287.20" y="827.77" font-size="7.1" text-anchor="start" fill="#000" >Alg5l</text>
<text x="287.20" y="832.32" font-size="7.1" text-anchor="start" fill="#000" >Selenos</text>
<text x="287.20" y="836.88" font-size="7.1" text-anchor="start" fill="#000" >Edem1</text>
<text x="287.20" y="841.42" font-size="7.1" text-anchor="start" fill="#000" >Cd2ap</text>
<text x="287.20" y="845.97" font-size="7.1" text-anchor="start" fill="#000" >Ergic3</text>
<text x="287.20" y="850.52" font-size="7.1" text-anchor="start" fill="#000" >Canx</text>
<text x="287.20" y="855.07" font-size="7.1" text-anchor="start" fill="#000" >Fut8</text>
<text x="287.20" y="859.62" font-size="7.1" text-anchor="start" fill="#000" >Fpgt</text>
<rect x="324.20" y="677.00" width="5.80" height="86.50" fill="url(#gb)" />
<text x="331.60" y="681.00" font-size="6.8" text-anchor="start" fill="#000" >2</text>
<text x="331.60" y="702.20" font-size="6.8" text-anchor="start" fill="#000" >1</text>
<text x="331.60" y="723.40" font-size="6.8" text-anchor="start" fill="#000" >0</text>
<text x="331.60" y="744.60" font-size="6.8" text-anchor="start" fill="#000" >-1</text>
<text x="331.60" y="765.70" font-size="6.8" text-anchor="start" fill="#000" >-2</text>
<path fill="#a8a8ff" d="M360.20 677.60h29.29v9.08h-29.29zM418.78 686.68h29.29v9.08h-29.29zM535.94 804.72h29.29v9.08h-29.29z"/>
<path fill="#7878ff" d="M389.49 677.60h29.29v9.08h-29.29zM594.52 695.76h29.29v9.08h-29.29zM389.49 813.80h29.29v9.08h-29.29z"/>
<path fill="#d8d8ff" d="M418.78 677.60h29.29v9.08h-29.29zM418.78 723.00h29.29v9.08h-29.29zM418.78 768.40h29.29v9.08h-29.29zM594.52 831.96h29.29v9.08h-29.29zM360.20 850.12h29.29v9.08h-29.29z"/>
<path fill="#ff7c7c" d="M448.07 677.60h29.29v9.08h-29.29zM506.65 686.68h29.29v9.08h-29.29zM506.65 732.08h29.29v9.08h-29.29zM477.36 786.56h29.29v9.08h-29.29z"/>
<path fill="#ffbcbc" d="M477.36 677.60h29.29v9.08h-29.29zM594.52 841.04h29.29v9.08h-29.29z"/>
<path fill="#ff5454" d="M506.65 677.60h29.29v9.08h-29.29z"/>
<path fill="#8888ff" d="M535.94 677.60h29.29v9.08h-29.29z"/>
<path fill="#9090ff" d="M565.23 677.60h29.29v9.08h-29.29zM389.49 804.72h29.29v9.08h-29.29zM360.20 813.80h29.29v9.08h-29.29zM389.49 822.88h29.29v9.08h-29.29z"/>
<path fill="#ff8c8c" d="M594.52 677.60h29.29v9.08h-29.29zM477.36 686.68h29.29v9.08h-29.29zM594.52 704.84h29.29v9.08h-29.29zM360.20 777.48h29.29v9.08h-29.29zM594.52 804.72h29.29v9.08h-29.29zM506.65 822.88h29.29v9.08h-29.29z"/>
<path fill="#9c9cff" d="M360.20 686.68h29.29v9.08h-29.29zM389.49 686.68h29.29v9.08h-29.29zM360.20 704.84h29.29v9.08h-29.29zM535.94 759.32h29.29v9.08h-29.29zM418.78 786.56h29.29v9.08h-29.29zM565.23 822.88h29.29v9.08h-29.29z"/>
<path fill="#ffa4a4" d="M448.07 686.68h29.29v9.08h-29.29zM477.36 704.84h29.29v9.08h-29.29zM448.07 723.00h29.29v9.08h-29.29zM477.36 723.00h29.29v9.08h-29.29zM506.65 750.24h29.29v9.08h-29.29zM506.65 768.40h29.29v9.08h-29.29zM360.20 804.72h29.29v9.08h-29.29zM506.65 813.80h29.29v9.08h-29.29zM565.23 850.12h29.29v9.08h-29.29z"/>
<path fill="#ff5c5c" d="M535.94 686.68h29.29v9.08h-29.29zM477.36 695.76h29.29v9.08h-29.29zM477.36 732.08h29.29v9.08h-29.29zM448.07 750.24h29.29v9.08h-29.29zM448.07 831.96h29.29v9.08h-29.29z"/>
<path fill="#4848ff" d="M565.23 686.68h29.29v9.08h-29.29zM565.23 704.84h29.29v9.08h-29.29z"/>
<path fill="#e0e0ff" d="M594.52 686.68h29.29v9.08h-29.29zM594.52 732.08h29.29v9.08h-29.29zM594.52 741.16h29.29v9.08h-29.29zM389.49 750.24h29.29v9.08h-29.29zM535.94 750.24h29.29v9.08h-29.29zM506.65 759.32h29.29v9.08h-29.29z"/>
<path fill="#8080ff" d="M360.20 695.76h29.29v9.08h-29.29zM418.78 695.76h29.29v9.08h-29.29zM360.20 732.08h29.29v9.08h-29.29zM594.52 777.48h29.29v9.08h-29.29z"/>
<path fill="#b8b8ff" d="M389.49 695.76h29.29v9.08h-29.29zM389.49 704.84h29.29v9.08h-29.29zM360.20 713.92h29.29v9.08h-29.29zM535.94 741.16h29.29v9.08h-29.29zM418.78 831.96h29.29v9.08h-29.29zM535.94 841.04h29.29v9.08h-29.29zM418.78 850.12h29.29v9.08h-29.29zM506.65 850.12h29.29v9.08h-29.29z"/>
<path fill="#ffc4c4" d="M448.07 695.76h29.29v9.08h-29.29zM389.49 786.56h29.29v9.08h-29.29zM477.36 804.72h29.29v9.08h-29.29zM477.36 813.80h29.29v9.08h-29.29zM565.23 841.04h29.29v9.08h-29.29z"/>
<path fill="#ffdada" d="M506.65 695.76h29.29v9.08h-29.29zM477.36 750.24h29.29v9.08h-29.29z"/>
<path fill="#ff4444" d="M535.94 695.76h29.29v9.08h-29.29zM594.52 759.32h29.29v9.08h-29.29zM448.07 850.12h29.29v9.08h-29.29z"/>
<path fill="#f0f0ff" d="M565.23 695.76h29.29v9.08h-29.29zM535.94 732.08h29.29v9.08h-29.29z"/>
<path fill="#8c8cff" d="M418.78 704.84h29.29v9.08h-29.29zM565.23 713.92h29.29v9.08h-29.29zM418.78 741.16h29.29v9.08h-29.29zM535.94 786.56h29.29v9.08h-29.29zM535.94 831.96h29.29v9.08h-29.29z"/>
<path fill="#ff6464" d="M448.07 704.84h29.29v9.08h-29.29zM448.07 795.64h29.29v9.08h-29.29zM448.07 804.72h29.29v9.08h-29.29zM448.07 822.88h29.29v9.08h-29.29z"/>
<path fill="#ff7474" d="M506.65 704.84h29.29v9.08h-29.29zM448.07 732.08h29.29v9.08h-29.29zM565.23 777.48h29.29v9.08h-29.29zM477.36 795.64h29.29v9.08h-29.29zM565.23 831.96h29.29v9.08h-29.29z"/>
<path fill="#c0c0ff" d="M535.94 704.84h29.29v9.08h-29.29zM389.49 713.92h29.29v9.08h-29.29zM418.78 713.92h29.29v9.08h-29.29zM360.20 723.00h29.29v9.08h-29.29zM594.52 723.00h29.29v9.08h-29.29zM360.20 750.24h29.29v9.08h-29.29zM389.49 768.40h29.29v9.08h-29.29zM535.94 768.40h29.29v9.08h-29.29zM565.23 786.56h29.29v9.08h-29.29zM535.94 795.64h29.29v9.08h-29.29zM448.07 813.80h29.29v9.08h-29.29zM389.49 831.96h29.29v9.08h-29.29zM389.49 841.04h29.29v9.08h-29.29z"/>
<path fill="#ff3030" d="M448.07 713.92h29.29v9.08h-29.29zM448.07 759.32h29.29v9.08h-29.29z"/>
<path fill="#ff9494" d="M477.36 713.92h29.29v9.08h-29.29zM506.65 713.92h29.29v9.08h-29.29zM477.36 741.16h29.29v9.08h-29.29z"/>
<path fill="#5858ff" d="M535.94 713.92h29.29v9.08h-29.29z"/>
<path fill="#ffe0e0" d="M594.52 713.92h29.29v9.08h-29.29zM594.52 813.80h29.29v9.08h-29.29zM477.36 841.04h29.29v9.08h-29.29z"/>
<path fill="#b0b0ff" d="M389.49 723.00h29.29v9.08h-29.29zM389.49 732.08h29.29v9.08h-29.29zM389.49 759.32h29.29v9.08h-29.29z"/>
<path fill="#ff2020" d="M506.65 723.00h29.29v9.08h-29.29z"/>
<path fill="#ffffff" d="M535.94 723.00h29.29v9.08h-29.29zM418.78 732.08h29.29v9.08h-29.29zM360.20 741.16h29.29v9.08h-29.29zM477.36 759.32h29.29v9.08h-29.29zM360.20 768.40h29.29v9.08h-29.29zM594.52 768.40h29.29v9.08h-29.29zM535.94 777.48h29.29v9.08h-29.29zM389.49 795.64h29.29v9.08h-29.29zM594.52 795.64h29.29v9.08h-29.29zM477.36 831.96h29.29v9.08h-29.29z"/>
<path fill="#4040ff" d="M565.23 723.00h29.29v9.08h-29.29zM565.23 732.08h29.29v9.08h-29.29zM565.23 768.40h29.29v9.08h-29.29zM360.20 795.64h29.29v9.08h-29.29zM418.78 822.88h29.29v9.08h-29.29z"/>
<path fill="#6060ff" d="M389.49 741.16h29.29v9.08h-29.29zM594.52 786.56h29.29v9.08h-29.29z"/>
<path fill="#ff1818" d="M448.07 741.16h29.29v9.08h-29.29zM448.07 768.40h29.29v9.08h-29.29z"/>
<path fill="#ececff" d="M506.65 741.16h29.29v9.08h-29.29zM360.20 759.32h29.29v9.08h-29.29zM418.78 795.64h29.29v9.08h-29.29zM594.52 822.88h29.29v9.08h-29.29zM418.78 841.04h29.29v9.08h-29.29z"/>
<path fill="#ffd2d2" d="M565.23 741.16h29.29v9.08h-29.29zM506.65 804.72h29.29v9.08h-29.29z"/>
<path fill="#5050ff" d="M418.78 750.24h29.29v9.08h-29.29z"/>
<path fill="#7070ff" d="M565.23 750.24h29.29v9.08h-29.29zM418.78 759.32h29.29v9.08h-29.29zM565.23 795.64h29.29v9.08h-29.29zM418.78 813.80h29.29v9.08h-29.29zM535.94 850.12h29.29v9.08h-29.29z"/>
<path fill="#ff6c6c" d="M594.52 750.24h29.29v9.08h-29.29zM448.07 786.56h29.29v9.08h-29.29zM506.65 786.56h29.29v9.08h-29.29zM535.94 822.88h29.29v9.08h-29.29zM506.65 831.96h29.29v9.08h-29.29z"/>
<path fill="#e8e8ff" d="M565.23 759.32h29.29v9.08h-29.29zM477.36 822.88h29.29v9.08h-29.29z"/>
<path fill="#ffeeee" d="M477.36 768.40h29.29v9.08h-29.29zM477.36 777.48h29.29v9.08h-29.29z"/>
<path fill="#ffacac" d="M389.49 777.48h29.29v9.08h-29.29zM477.36 850.12h29.29v9.08h-29.29zM594.52 850.12h29.29v9.08h-29.29z"/>
<path fill="#ffb4b4" d="M418.78 777.48h29.29v9.08h-29.29z"/>
<path fill="#6868ff" d="M448.07 777.48h29.29v9.08h-29.29zM506.65 777.48h29.29v9.08h-29.29zM360.20 831.96h29.29v9.08h-29.29zM389.49 850.12h29.29v9.08h-29.29z"/>
<path fill="#d0d0ff" d="M360.20 786.56h29.29v9.08h-29.29zM565.23 804.72h29.29v9.08h-29.29z"/>
<path fill="#ff8484" d="M506.65 795.64h29.29v9.08h-29.29zM448.07 841.04h29.29v9.08h-29.29zM506.65 841.04h29.29v9.08h-29.29z"/>
<path fill="#1010ff" d="M418.78 804.72h29.29v9.08h-29.29z"/>
<path fill="#ffcaca" d="M535.94 813.80h29.29v9.08h-29.29z"/>
<path fill="#ff2828" d="M565.23 813.80h29.29v9.08h-29.29z"/>
<path fill="#ffe8e8" d="M360.20 822.88h29.29v9.08h-29.29z"/>
<path fill="#0808ff" d="M360.20 841.04h29.29v9.08h-29.29z"/>
<path d="M360.20 677.60H623.81M360.20 686.68H623.81M360.20 695.76H623.81M360.20 704.84H623.81M360.20 713.92H623.81M360.20 723.00H623.81M360.20 732.08H623.81M360.20 741.16H623.81M360.20 750.24H623.81M360.20 759.32H623.81M360.20 768.40H623.81M360.20 777.48H623.81M360.20 786.56H623.81M360.20 795.64H623.81M360.20 804.72H623.81M360.20 813.80H623.81M360.20 822.88H623.81M360.20 831.96H623.81M360.20 841.04H623.81M360.20 850.12H623.81M360.20 859.20H623.81M360.20 677.60V859.20M389.49 677.60V859.20M418.78 677.60V859.20M448.07 677.60V859.20M477.36 677.60V859.20M506.65 677.60V859.20M535.94 677.60V859.20M565.23 677.60V859.20M594.52 677.60V859.20M623.81 677.60V859.20" stroke="#9a9a9a" stroke-width="0.6" fill="none"/>
<rect x="361.20" y="667.00" width="85.87" height="5.70" fill="#c9c9f9" />
<text x="403.00" y="662.60" font-size="9.6" text-anchor="middle" fill="#000" >Saline</text>
<rect x="449.07" y="667.00" width="85.87" height="5.70" fill="#f1929a" />
<text x="493.60" y="662.60" font-size="9.6" text-anchor="middle" fill="#000" >RT</text>
<rect x="536.94" y="667.00" width="85.87" height="5.70" fill="#a2f0a2" />
<text x="582.70" y="662.60" font-size="9.6" text-anchor="middle" fill="#000" >RT+PG-NS<tspan font-size="0.62em">A</tspan></text>
<text x="625.80" y="685.04" font-size="8.2" text-anchor="start" fill="#000" >Prkcq</text>
<text x="625.80" y="694.12" font-size="8.2" text-anchor="start" fill="#000" >Map2k2</text>
<text x="625.80" y="703.20" font-size="8.2" text-anchor="start" fill="#000" >Card11</text>
<text x="625.80" y="712.28" font-size="8.2" text-anchor="start" fill="#000" >Vdac1</text>
<text x="625.80" y="721.36" font-size="8.2" text-anchor="start" fill="#000" >Slc25a4</text>
<text x="625.80" y="730.44" font-size="8.2" text-anchor="start" fill="#000" >Akt2</text>
<text x="625.80" y="739.52" font-size="8.2" text-anchor="start" fill="#000" >Hsp90ab1</text>
<text x="625.80" y="748.60" font-size="8.2" text-anchor="start" fill="#000" >Itgb3</text>
<text x="625.80" y="757.68" font-size="8.2" text-anchor="start" fill="#000" >Map2k3</text>
<text x="625.80" y="766.76" font-size="8.2" text-anchor="start" fill="#000" >Ackr4</text>
<text x="625.80" y="775.84" font-size="8.2" text-anchor="start" fill="#000" >Irf5</text>
<text x="625.80" y="784.92" font-size="8.2" text-anchor="start" fill="#000" >Tbk1</text>
<text x="625.80" y="794.00" font-size="8.2" text-anchor="start" fill="#000" >Sele</text>
<text x="625.80" y="803.08" font-size="8.2" text-anchor="start" fill="#000" >Vdac3</text>
<text x="625.80" y="812.16" font-size="8.2" text-anchor="start" fill="#000" >Tgfbr2</text>
<text x="625.80" y="821.24" font-size="8.2" text-anchor="start" fill="#000" >Ccr9</text>
<text x="625.80" y="830.32" font-size="8.2" text-anchor="start" fill="#000" >Psrc1</text>
<text x="625.80" y="839.40" font-size="8.2" text-anchor="start" fill="#000" >H2bc21</text>
<text x="625.80" y="848.48" font-size="8.2" text-anchor="start" fill="#000" >H2bc6</text>
<text x="625.80" y="857.56" font-size="8.2" text-anchor="start" fill="#000" >Cxcl13</text>
<rect x="668.30" y="677.90" width="5.60" height="86.70" fill="url(#gb)" />
<text x="676.00" y="683.70" font-size="7.6" text-anchor="start" fill="#000" >2</text>
<text x="676.00" y="703.50" font-size="7.6" text-anchor="start" fill="#000" >1</text>
<text x="676.00" y="724.30" font-size="7.6" text-anchor="start" fill="#000" >0</text>
<text x="676.00" y="745.00" font-size="7.6" text-anchor="start" fill="#000" >-1</text>
<text x="676.00" y="764.70" font-size="7.6" text-anchor="start" fill="#000" >-2</text>
</svg></body></html>
